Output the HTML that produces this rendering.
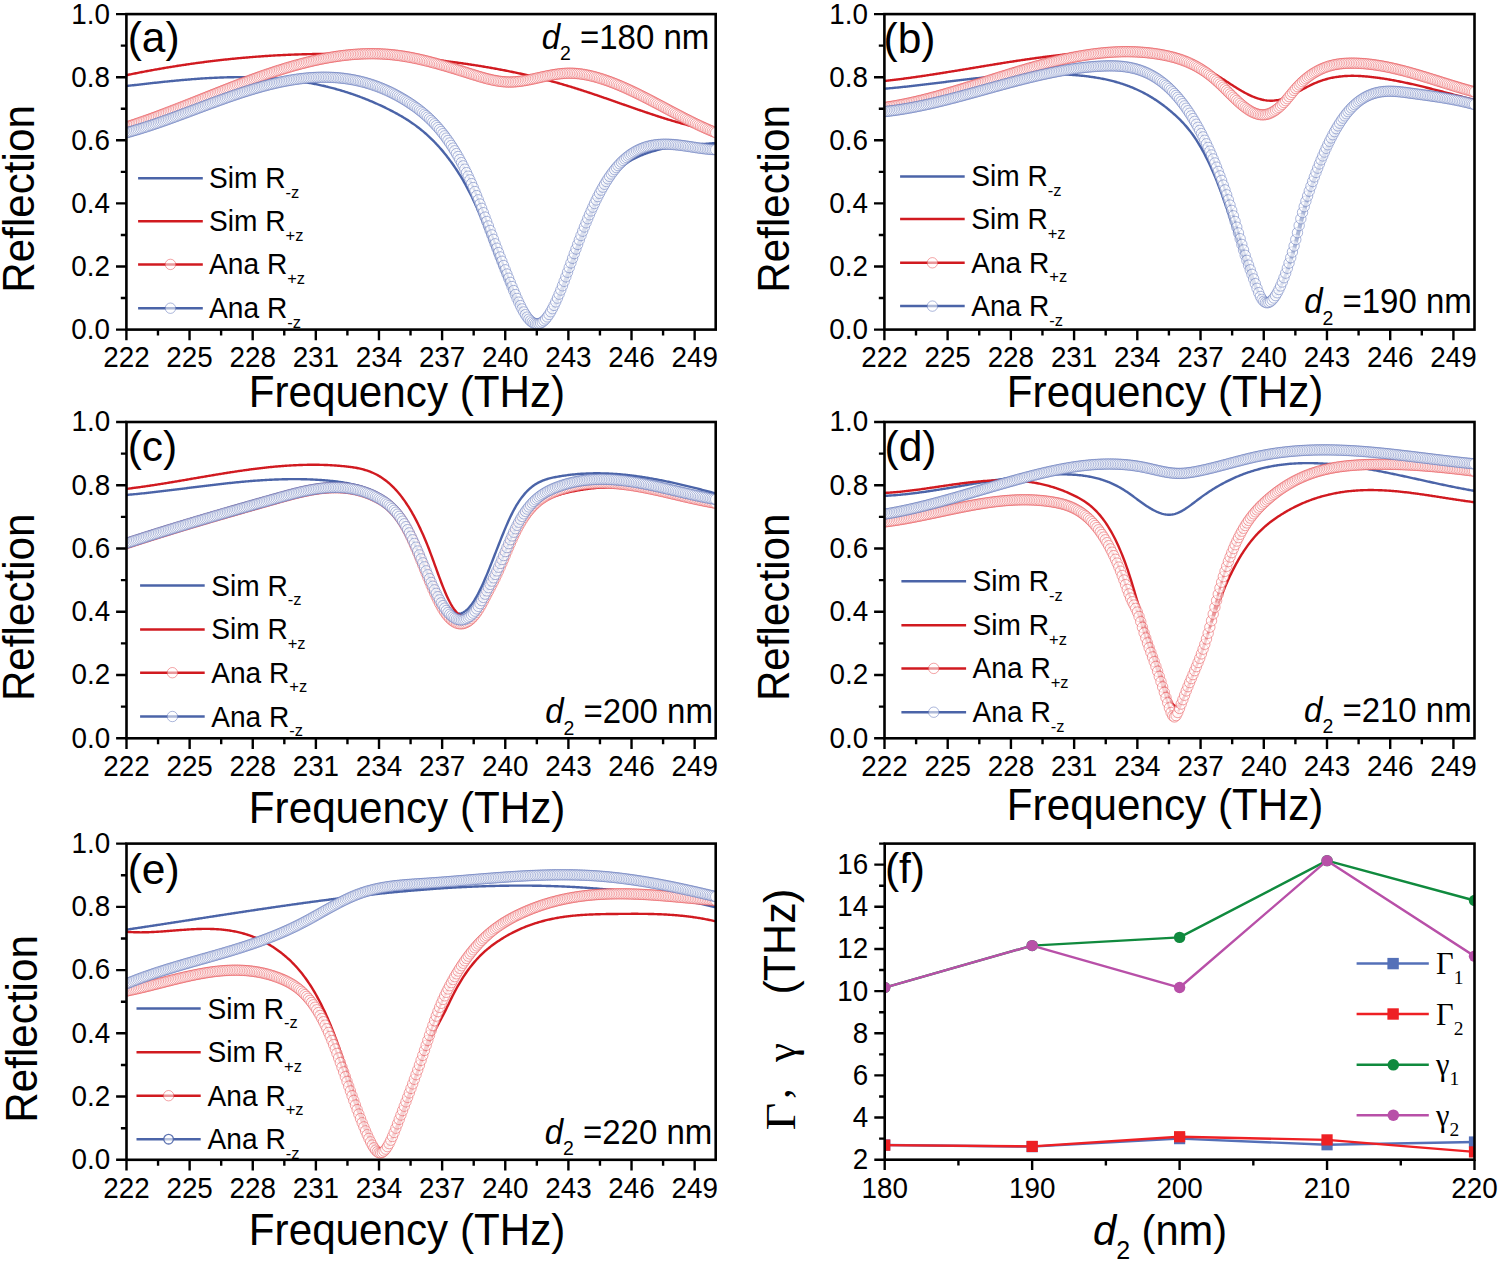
<!DOCTYPE html>
<html><head><meta charset="utf-8"><title>Reflection spectra</title><style>
html,body{margin:0;padding:0;background:#fff;}
body{width:1500px;height:1262px;overflow:hidden;}
svg{display:block;}
text{font-family:"Liberation Sans", sans-serif;fill:#000;}
.t{font-size:27.8px;}
.lg{font-size:28.1px;}
.sub{font-size:16.5px;}
.ax{font-size:42.2px;}
.ax2{font-size:41.6px;}
.ax3{font-size:43px;}
.axsub{font-size:25px;}
.pl{font-size:42.5px;}
.dl{font-size:33px;}
.dsub{font-size:19.5px;}
.gl{font-family:"Liberation Serif", serif;font-size:30.5px;}
.gsub{font-size:19.5px;}
.gax{font-family:"Liberation Serif", serif;font-size:43px;}
</style></head>
<body>
<svg xmlns="http://www.w3.org/2000/svg" width="1500" height="1262" viewBox="0 0 1500 1262">
<defs>
<clipPath id="clipa"><rect x="126.4" y="14.1" width="589.3" height="315.5"/></clipPath>
<clipPath id="clipb"><rect x="884.4" y="14.1" width="590.1" height="315.5"/></clipPath>
<clipPath id="clipc"><rect x="126.5" y="422" width="589.2" height="316.3"/></clipPath>
<clipPath id="clipd"><rect x="884.5" y="422" width="590" height="316.3"/></clipPath>
<clipPath id="clipe"><rect x="126.5" y="843.6" width="589.2" height="316.2"/></clipPath>
<clipPath id="clipf"><rect x="884.7" y="843.6" width="589.8" height="316.1"/></clipPath>
<g id="mp"><circle r="5.2" fill="#fff" fill-opacity="0.55" stroke="#E8474C" stroke-opacity="0.5" stroke-width="1"/></g>
<g id="mb"><circle r="5.2" fill="#fff" fill-opacity="0.55" stroke="#5A6FB8" stroke-opacity="0.5" stroke-width="1"/></g>
<g id="mb2"><circle r="4.8" fill="#fff" fill-opacity="0.6" stroke="#4B64A8" stroke-opacity="0.9" stroke-width="1.3"/></g>
</defs>
<rect width="1500" height="1262" fill="#fff"/>
<g clip-path="url(#clipa)">
<polyline points="126.4,86.04 127.45,85.92 128.5,85.8 129.56,85.67 130.61,85.55 131.66,85.43 132.71,85.31 133.77,85.19 134.82,85.06 135.87,84.94 136.92,84.82 137.98,84.7 139.03,84.58 140.08,84.46 141.13,84.34 142.18,84.22 143.24,84.1 144.29,83.98 145.34,83.86 146.39,83.74 147.45,83.62 148.5,83.5 149.55,83.38 150.6,83.27 151.66,83.15 152.71,83.03 153.76,82.92 154.81,82.8 155.87,82.69 156.92,82.57 157.97,82.46 159.02,82.35 160.07,82.23 161.13,82.12 162.18,82.01 163.23,81.9 164.28,81.79 165.34,81.68 166.39,81.57 167.44,81.47 168.49,81.36 169.55,81.25 170.6,81.15 171.65,81.04 172.7,80.94 173.75,80.84 174.81,80.74 175.86,80.64 176.91,80.54 177.96,80.44 179.02,80.34 180.07,80.24 181.12,80.15 182.17,80.05 183.23,79.96 184.28,79.87 185.33,79.78 186.38,79.69 187.43,79.6 188.49,79.51 189.54,79.43 190.59,79.34 191.64,79.26 192.7,79.17 193.75,79.09 194.8,79.01 195.85,78.93 196.91,78.86 197.96,78.78 199.01,78.71 200.06,78.63 201.11,78.56 202.17,78.49 203.22,78.42 204.27,78.36 205.32,78.29 206.38,78.23 207.43,78.17 208.48,78.1 209.53,78.05 210.59,77.99 211.64,77.93 212.69,77.88 213.74,77.83 214.8,77.77 215.85,77.73 216.9,77.68 217.95,77.63 219,77.59 220.06,77.55 221.11,77.51 222.16,77.47 223.21,77.43 224.27,77.4 225.32,77.37 226.37,77.34 227.42,77.31 228.48,77.28 229.53,77.26 230.58,77.24 231.63,77.22 232.68,77.2 233.74,77.18 234.79,77.17 235.84,77.16 236.89,77.15 237.95,77.14 239,77.13 240.05,77.13 241.1,77.13 242.16,77.13 243.21,77.14 244.26,77.14 245.31,77.15 246.36,77.16 247.42,77.18 248.47,77.19 249.52,77.21 250.57,77.23 251.63,77.25 252.68,77.28 253.73,77.31 254.78,77.34 255.84,77.37 256.89,77.41 257.94,77.45 258.99,77.49 260.04,77.53 261.1,77.58 262.15,77.63 263.2,77.68 264.25,77.73 265.31,77.79 266.36,77.85 267.41,77.91 268.46,77.98 269.52,78.05 270.57,78.12 271.62,78.19 272.67,78.27 273.73,78.35 274.78,78.43 275.83,78.52 276.88,78.61 277.93,78.7 278.99,78.79 280.04,78.89 281.09,78.99 282.14,79.1 283.2,79.2 284.25,79.31 285.3,79.43 286.35,79.55 287.41,79.66 288.46,79.79 289.51,79.91 290.56,80.04 291.61,80.18 292.67,80.31 293.72,80.45 294.77,80.59 295.82,80.74 296.88,80.89 297.93,81.04 298.98,81.2 300.03,81.36 301.09,81.52 302.14,81.69 303.19,81.86 304.24,82.03 305.29,82.21 306.35,82.39 307.4,82.58 308.45,82.76 309.5,82.96 310.56,83.15 311.61,83.35 312.66,83.55 313.71,83.76 314.77,83.97 315.82,84.18 316.87,84.4 317.92,84.62 318.97,84.85 320.03,85.08 321.08,85.31 322.13,85.55 323.18,85.79 324.24,86.03 325.29,86.28 326.34,86.54 327.39,86.79 328.45,87.05 329.5,87.32 330.55,87.59 331.6,87.86 332.66,88.14 333.71,88.42 334.76,88.7 335.81,88.99 336.86,89.29 337.92,89.59 338.97,89.89 340.02,90.19 341.07,90.51 342.13,90.82 343.18,91.14 344.23,91.46 345.28,91.79 346.34,92.12 347.39,92.46 348.44,92.8 349.49,93.15 350.54,93.5 351.6,93.85 352.65,94.21 353.7,94.57 354.75,94.94 355.81,95.32 356.86,95.69 357.91,96.08 358.96,96.46 360.02,96.85 361.07,97.25 362.12,97.65 363.17,98.06 364.22,98.47 365.28,98.88 366.33,99.3 367.38,99.72 368.43,100.15 369.49,100.59 370.54,101.03 371.59,101.47 372.64,101.92 373.7,102.37 374.75,102.83 375.8,103.3 376.85,103.76 377.9,104.24 378.96,104.72 380.01,105.2 381.06,105.69 382.11,106.18 383.17,106.68 384.22,107.19 385.27,107.7 386.32,108.21 387.38,108.73 388.43,109.25 389.48,109.79 390.53,110.32 391.59,110.86 392.64,111.41 393.69,111.96 394.74,112.52 395.79,113.09 396.85,113.66 397.9,114.24 398.95,114.83 400,115.43 401.06,116.04 402.11,116.65 403.16,117.28 404.21,117.91 405.27,118.56 406.32,119.22 407.37,119.88 408.42,120.56 409.47,121.25 410.53,121.95 411.58,122.67 412.63,123.39 413.68,124.13 414.74,124.89 415.79,125.65 416.84,126.43 417.89,127.23 418.95,128.04 420,128.87 421.05,129.71 422.1,130.57 423.15,131.44 424.21,132.33 425.26,133.24 426.31,134.17 427.36,135.11 428.42,136.07 429.47,137.05 430.52,138.05 431.57,139.07 432.63,140.1 433.68,141.16 434.73,142.24 435.78,143.34 436.83,144.46 437.89,145.6 438.94,146.76 439.99,147.95 441.04,149.15 442.1,150.38 443.15,151.64 444.2,152.91 445.25,154.21 446.31,155.54 447.36,156.89 448.41,158.26 449.46,159.66 450.52,161.09 451.57,162.54 452.62,164.02 453.67,165.53 454.72,167.07 455.78,168.63 456.83,170.23 457.88,171.86 458.93,173.52 459.99,175.22 461.04,176.94 462.09,178.71 463.14,180.51 464.2,182.34 465.25,184.22 466.3,186.13 467.35,188.08 468.4,190.07 469.46,192.1 470.51,194.17 471.56,196.29 472.61,198.45 473.67,200.65 474.72,202.9 475.77,205.2 476.82,207.54 477.88,209.93 478.93,212.37 479.98,214.85 481.03,217.39 482.08,219.98 483.14,222.62 484.19,225.3 485.24,228.02 486.29,230.78 487.35,233.55 488.4,236.35 489.45,239.15 490.5,241.95 491.56,244.75 492.61,247.54 493.66,250.32 494.71,253.07 495.76,255.79 496.82,258.5 497.87,261.17 498.92,263.83 499.97,266.45 501.03,269.04 502.08,271.61 503.13,274.14 504.18,276.63 505.24,279.09 506.29,281.52 507.34,283.9 508.39,286.25 509.45,288.56 510.5,290.82 511.55,293.04 512.6,295.21 513.65,297.34 514.71,299.42 515.76,301.45 516.81,303.43 517.86,305.35 518.92,307.23 519.97,309.05 521.02,310.81 522.07,312.51 523.13,314.15 524.18,315.71 525.23,317.2 526.28,318.6 527.33,319.91 528.39,321.11 529.44,322.21 530.49,323.2 531.54,324.06 532.6,324.8 533.65,325.4 534.7,325.85 535.75,326.16 536.81,326.31 537.86,326.3 538.91,326.14 539.96,325.81 541.01,325.34 542.07,324.72 543.12,323.96 544.17,323.07 545.22,322.04 546.28,320.88 547.33,319.61 548.38,318.21 549.43,316.7 550.49,315.08 551.54,313.36 552.59,311.54 553.64,309.62 554.69,307.61 555.75,305.51 556.8,303.33 557.85,301.08 558.9,298.75 559.96,296.35 561.01,293.89 562.06,291.38 563.11,288.8 564.17,286.18 565.22,283.51 566.27,280.8 567.32,278.05 568.38,275.27 569.43,272.46 570.48,269.63 571.53,266.79 572.58,263.92 573.64,261.05 574.69,258.18 575.74,255.3 576.79,252.43 577.85,249.56 578.9,246.71 579.95,243.88 581,241.06 582.06,238.27 583.11,235.5 584.16,232.75 585.21,230.04 586.26,227.35 587.32,224.7 588.37,222.08 589.42,219.5 590.47,216.95 591.53,214.46 592.58,212 593.63,209.6 594.68,207.24 595.74,204.93 596.79,202.68 597.84,200.49 598.89,198.35 599.94,196.28 601,194.27 602.05,192.33 603.1,190.45 604.15,188.65 605.21,186.9 606.26,185.22 607.31,183.61 608.36,182.05 609.42,180.56 610.47,179.12 611.52,177.74 612.57,176.41 613.62,175.14 614.68,173.91 615.73,172.74 616.78,171.62 617.83,170.54 618.89,169.51 619.94,168.52 620.99,167.57 622.04,166.66 623.1,165.8 624.15,164.97 625.2,164.17 626.25,163.41 627.31,162.69 628.36,161.99 629.41,161.33 630.46,160.69 631.51,160.08 632.57,159.49 633.62,158.93 634.67,158.39 635.72,157.86 636.78,157.36 637.83,156.88 638.88,156.41 639.93,155.95 640.99,155.51 642.04,155.08 643.09,154.66 644.14,154.25 645.19,153.85 646.25,153.47 647.3,153.1 648.35,152.73 649.4,152.38 650.46,152.04 651.51,151.71 652.56,151.39 653.61,151.08 654.67,150.78 655.72,150.49 656.77,150.21 657.82,149.94 658.87,149.67 659.93,149.42 660.98,149.17 662.03,148.93 663.08,148.7 664.14,148.48 665.19,148.27 666.24,148.06 667.29,147.86 668.35,147.67 669.4,147.48 670.45,147.3 671.5,147.13 672.55,146.97 673.61,146.81 674.66,146.65 675.71,146.5 676.76,146.36 677.82,146.22 678.87,146.09 679.92,145.96 680.97,145.84 682.03,145.72 683.08,145.61 684.13,145.5 685.18,145.39 686.24,145.29 687.29,145.19 688.34,145.09 689.39,145 690.44,144.91 691.5,144.82 692.55,144.74 693.6,144.66 694.65,144.57 695.71,144.5 696.76,144.42 697.81,144.34 698.86,144.27 699.92,144.19 700.97,144.12 702.02,144.05 703.07,143.97 704.12,143.9 705.18,143.83 706.23,143.76 707.28,143.69 708.33,143.61 709.39,143.54 710.44,143.46 711.49,143.39 712.54,143.31 713.6,143.23 714.65,143.15 715.7,143.06" fill="none" stroke="#4B64A8" stroke-width="2.4" stroke-linejoin="round" />
<polyline points="126.4,75.19 127.45,74.97 128.5,74.75 129.56,74.54 130.61,74.32 131.66,74.11 132.71,73.9 133.77,73.68 134.82,73.47 135.87,73.27 136.92,73.06 137.98,72.85 139.03,72.64 140.08,72.44 141.13,72.24 142.18,72.03 143.24,71.83 144.29,71.63 145.34,71.43 146.39,71.24 147.45,71.04 148.5,70.84 149.55,70.65 150.6,70.45 151.66,70.26 152.71,70.07 153.76,69.88 154.81,69.69 155.87,69.5 156.92,69.32 157.97,69.13 159.02,68.95 160.07,68.76 161.13,68.58 162.18,68.4 163.23,68.22 164.28,68.04 165.34,67.86 166.39,67.68 167.44,67.51 168.49,67.33 169.55,67.16 170.6,66.99 171.65,66.81 172.7,66.64 173.75,66.48 174.81,66.31 175.86,66.14 176.91,65.97 177.96,65.81 179.02,65.65 180.07,65.48 181.12,65.32 182.17,65.16 183.23,65 184.28,64.85 185.33,64.69 186.38,64.53 187.43,64.38 188.49,64.22 189.54,64.07 190.59,63.92 191.64,63.77 192.7,63.62 193.75,63.47 194.8,63.33 195.85,63.18 196.91,63.04 197.96,62.89 199.01,62.75 200.06,62.61 201.11,62.47 202.17,62.33 203.22,62.19 204.27,62.06 205.32,61.92 206.38,61.79 207.43,61.65 208.48,61.52 209.53,61.39 210.59,61.26 211.64,61.13 212.69,61 213.74,60.88 214.8,60.75 215.85,60.63 216.9,60.5 217.95,60.38 219,60.26 220.06,60.14 221.11,60.02 222.16,59.91 223.21,59.79 224.27,59.67 225.32,59.56 226.37,59.45 227.42,59.33 228.48,59.22 229.53,59.11 230.58,59.01 231.63,58.9 232.68,58.79 233.74,58.69 234.79,58.58 235.84,58.48 236.89,58.38 237.95,58.28 239,58.18 240.05,58.08 241.1,57.98 242.16,57.89 243.21,57.79 244.26,57.7 245.31,57.61 246.36,57.52 247.42,57.43 248.47,57.34 249.52,57.25 250.57,57.16 251.63,57.08 252.68,56.99 253.73,56.91 254.78,56.83 255.84,56.74 256.89,56.66 257.94,56.59 258.99,56.51 260.04,56.43 261.1,56.36 262.15,56.28 263.2,56.21 264.25,56.14 265.31,56.07 266.36,56 267.41,55.93 268.46,55.86 269.52,55.79 270.57,55.73 271.62,55.66 272.67,55.6 273.73,55.54 274.78,55.48 275.83,55.42 276.88,55.36 277.93,55.31 278.99,55.25 280.04,55.19 281.09,55.14 282.14,55.09 283.2,55.04 284.25,54.99 285.3,54.94 286.35,54.89 287.41,54.84 288.46,54.8 289.51,54.75 290.56,54.71 291.61,54.67 292.67,54.63 293.72,54.59 294.77,54.55 295.82,54.51 296.88,54.47 297.93,54.44 298.98,54.4 300.03,54.37 301.09,54.34 302.14,54.31 303.19,54.28 304.24,54.25 305.29,54.22 306.35,54.2 307.4,54.17 308.45,54.15 309.5,54.13 310.56,54.11 311.61,54.09 312.66,54.07 313.71,54.05 314.77,54.03 315.82,54.02 316.87,54 317.92,53.99 318.97,53.98 320.03,53.97 321.08,53.96 322.13,53.95 323.18,53.94 324.24,53.93 325.29,53.93 326.34,53.93 327.39,53.92 328.45,53.92 329.5,53.92 330.55,53.92 331.6,53.92 332.66,53.93 333.71,53.93 334.76,53.94 335.81,53.94 336.86,53.95 337.92,53.96 338.97,53.97 340.02,53.98 341.07,53.99 342.13,54.01 343.18,54.02 344.23,54.04 345.28,54.05 346.34,54.07 347.39,54.09 348.44,54.11 349.49,54.13 350.54,54.16 351.6,54.18 352.65,54.21 353.7,54.23 354.75,54.26 355.81,54.29 356.86,54.32 357.91,54.35 358.96,54.38 360.02,54.42 361.07,54.45 362.12,54.49 363.17,54.52 364.22,54.56 365.28,54.6 366.33,54.64 367.38,54.68 368.43,54.73 369.49,54.77 370.54,54.82 371.59,54.86 372.64,54.91 373.7,54.96 374.75,55.01 375.8,55.06 376.85,55.11 377.9,55.17 378.96,55.22 380.01,55.28 381.06,55.33 382.11,55.39 383.17,55.45 384.22,55.51 385.27,55.57 386.32,55.64 387.38,55.7 388.43,55.77 389.48,55.83 390.53,55.9 391.59,55.97 392.64,56.04 393.69,56.11 394.74,56.18 395.79,56.26 396.85,56.33 397.9,56.41 398.95,56.48 400,56.56 401.06,56.64 402.11,56.72 403.16,56.8 404.21,56.89 405.27,56.97 406.32,57.06 407.37,57.14 408.42,57.23 409.47,57.32 410.53,57.41 411.58,57.5 412.63,57.59 413.68,57.69 414.74,57.78 415.79,57.88 416.84,57.98 417.89,58.08 418.95,58.17 420,58.28 421.05,58.38 422.1,58.48 423.15,58.59 424.21,58.69 425.26,58.8 426.31,58.91 427.36,59.02 428.42,59.13 429.47,59.24 430.52,59.35 431.57,59.46 432.63,59.58 433.68,59.7 434.73,59.81 435.78,59.93 436.83,60.05 437.89,60.17 438.94,60.3 439.99,60.42 441.04,60.55 442.1,60.67 443.15,60.8 444.2,60.93 445.25,61.06 446.31,61.19 447.36,61.32 448.41,61.45 449.46,61.59 450.52,61.72 451.57,61.86 452.62,62 453.67,62.14 454.72,62.28 455.78,62.42 456.83,62.56 457.88,62.71 458.93,62.85 459.99,63 461.04,63.15 462.09,63.29 463.14,63.44 464.2,63.6 465.25,63.75 466.3,63.9 467.35,64.06 468.4,64.21 469.46,64.37 470.51,64.53 471.56,64.69 472.61,64.85 473.67,65.01 474.72,65.18 475.77,65.34 476.82,65.51 477.88,65.67 478.93,65.84 479.98,66.01 481.03,66.18 482.08,66.36 483.14,66.53 484.19,66.71 485.24,66.88 486.29,67.06 487.35,67.24 488.4,67.42 489.45,67.6 490.5,67.79 491.56,67.97 492.61,68.16 493.66,68.34 494.71,68.53 495.76,68.72 496.82,68.92 497.87,69.11 498.92,69.31 499.97,69.5 501.03,69.7 502.08,69.9 503.13,70.1 504.18,70.3 505.24,70.51 506.29,70.72 507.34,70.92 508.39,71.13 509.45,71.34 510.5,71.56 511.55,71.77 512.6,71.99 513.65,72.2 514.71,72.42 515.76,72.64 516.81,72.86 517.86,73.09 518.92,73.31 519.97,73.54 521.02,73.77 522.07,74 523.13,74.24 524.18,74.47 525.23,74.71 526.28,74.94 527.33,75.18 528.39,75.43 529.44,75.67 530.49,75.91 531.54,76.16 532.6,76.41 533.65,76.66 534.7,76.91 535.75,77.17 536.81,77.43 537.86,77.68 538.91,77.94 539.96,78.21 541.01,78.47 542.07,78.74 543.12,79.01 544.17,79.28 545.22,79.55 546.28,79.82 547.33,80.1 548.38,80.38 549.43,80.66 550.49,80.94 551.54,81.22 552.59,81.51 553.64,81.8 554.69,82.09 555.75,82.38 556.8,82.68 557.85,82.97 558.9,83.27 559.96,83.57 561.01,83.88 562.06,84.18 563.11,84.49 564.17,84.8 565.22,85.11 566.27,85.42 567.32,85.74 568.38,86.06 569.43,86.37 570.48,86.7 571.53,87.02 572.58,87.34 573.64,87.67 574.69,88 575.74,88.33 576.79,88.66 577.85,88.99 578.9,89.33 579.95,89.66 581,90 582.06,90.34 583.11,90.68 584.16,91.02 585.21,91.37 586.26,91.71 587.32,92.06 588.37,92.41 589.42,92.76 590.47,93.11 591.53,93.46 592.58,93.81 593.63,94.16 594.68,94.52 595.74,94.87 596.79,95.23 597.84,95.59 598.89,95.95 599.94,96.31 601,96.67 602.05,97.03 603.1,97.39 604.15,97.76 605.21,98.12 606.26,98.49 607.31,98.85 608.36,99.22 609.42,99.58 610.47,99.95 611.52,100.32 612.57,100.69 613.62,101.05 614.68,101.42 615.73,101.79 616.78,102.16 617.83,102.53 618.89,102.9 619.94,103.27 620.99,103.64 622.04,104.01 623.1,104.38 624.15,104.75 625.2,105.12 626.25,105.49 627.31,105.85 628.36,106.22 629.41,106.59 630.46,106.96 631.51,107.33 632.57,107.69 633.62,108.06 634.67,108.43 635.72,108.79 636.78,109.16 637.83,109.52 638.88,109.88 639.93,110.24 640.99,110.61 642.04,110.97 643.09,111.33 644.14,111.69 645.19,112.04 646.25,112.4 647.3,112.75 648.35,113.11 649.4,113.46 650.46,113.81 651.51,114.16 652.56,114.51 653.61,114.86 654.67,115.21 655.72,115.55 656.77,115.9 657.82,116.24 658.87,116.58 659.93,116.92 660.98,117.25 662.03,117.59 663.08,117.92 664.14,118.25 665.19,118.58 666.24,118.91 667.29,119.24 668.35,119.56 669.4,119.88 670.45,120.2 671.5,120.52 672.55,120.83 673.61,121.14 674.66,121.45 675.71,121.76 676.76,122.07 677.82,122.37 678.87,122.67 679.92,122.97 680.97,123.26 682.03,123.56 683.08,123.85 684.13,124.13 685.18,124.42 686.24,124.7 687.29,124.98 688.34,125.25 689.39,125.53 690.44,125.8 691.5,126.06 692.55,126.33 693.6,126.59 694.65,126.84 695.71,127.1 696.76,127.35 697.81,127.6 698.86,127.84 699.92,128.08 700.97,128.32 702.02,128.55 703.07,128.78 704.12,129.01 705.18,129.23 706.23,129.45 707.28,129.66 708.33,129.88 709.39,130.08 710.44,130.29 711.49,130.49 712.54,130.68 713.6,130.87 714.65,131.06 715.7,131.25" fill="none" stroke="#D11A20" stroke-width="2.4" stroke-linejoin="round" />
<polyline points="126.4,127 127.45,126.66 128.5,126.32 129.56,125.98 130.61,125.64 131.66,125.29 132.71,124.94 133.77,124.59 134.82,124.24 135.87,123.89 136.92,123.53 137.98,123.17 139.03,122.81 140.08,122.45 141.13,122.08 142.18,121.72 143.24,121.35 144.29,120.98 145.34,120.61 146.39,120.24 147.45,119.86 148.5,119.48 149.55,119.11 150.6,118.73 151.66,118.34 152.71,117.96 153.76,117.58 154.81,117.19 155.87,116.8 156.92,116.41 157.97,116.02 159.02,115.63 160.07,115.24 161.13,114.84 162.18,114.45 163.23,114.05 164.28,113.65 165.34,113.25 166.39,112.85 167.44,112.45 168.49,112.05 169.55,111.65 170.6,111.24 171.65,110.84 172.7,110.43 173.75,110.02 174.81,109.61 175.86,109.21 176.91,108.8 177.96,108.38 179.02,107.97 180.07,107.56 181.12,107.15 182.17,106.74 183.23,106.32 184.28,105.91 185.33,105.49 186.38,105.08 187.43,104.66 188.49,104.24 189.54,103.83 190.59,103.41 191.64,102.99 192.7,102.57 193.75,102.15 194.8,101.73 195.85,101.32 196.91,100.9 197.96,100.48 199.01,100.06 200.06,99.64 201.11,99.22 202.17,98.8 203.22,98.38 204.27,97.96 205.32,97.54 206.38,97.12 207.43,96.7 208.48,96.28 209.53,95.86 210.59,95.44 211.64,95.03 212.69,94.61 213.74,94.19 214.8,93.77 215.85,93.36 216.9,92.94 217.95,92.52 219,92.11 220.06,91.69 221.11,91.28 222.16,90.86 223.21,90.45 224.27,90.04 225.32,89.62 226.37,89.21 227.42,88.8 228.48,88.39 229.53,87.98 230.58,87.57 231.63,87.17 232.68,86.76 233.74,86.35 234.79,85.95 235.84,85.55 236.89,85.14 237.95,84.74 239,84.34 240.05,83.94 241.1,83.54 242.16,83.15 243.21,82.75 244.26,82.36 245.31,81.96 246.36,81.57 247.42,81.18 248.47,80.79 249.52,80.4 250.57,80.02 251.63,79.63 252.68,79.25 253.73,78.87 254.78,78.49 255.84,78.11 256.89,77.73 257.94,77.36 258.99,76.98 260.04,76.61 261.1,76.24 262.15,75.87 263.2,75.51 264.25,75.14 265.31,74.78 266.36,74.42 267.41,74.06 268.46,73.71 269.52,73.35 270.57,73 271.62,72.65 272.67,72.3 273.73,71.95 274.78,71.61 275.83,71.27 276.88,70.93 277.93,70.59 278.99,70.26 280.04,69.93 281.09,69.6 282.14,69.27 283.2,68.94 284.25,68.62 285.3,68.3 286.35,67.98 287.41,67.67 288.46,67.35 289.51,67.05 290.56,66.74 291.61,66.43 292.67,66.13 293.72,65.83 294.77,65.54 295.82,65.24 296.88,64.95 297.93,64.67 298.98,64.38 300.03,64.1 301.09,63.82 302.14,63.55 303.19,63.27 304.24,63.01 305.29,62.74 306.35,62.48 307.4,62.22 308.45,61.96 309.5,61.71 310.56,61.46 311.61,61.21 312.66,60.97 313.71,60.73 314.77,60.49 315.82,60.26 316.87,60.03 317.92,59.8 318.97,59.58 320.03,59.36 321.08,59.15 322.13,58.94 323.18,58.73 324.24,58.52 325.29,58.32 326.34,58.13 327.39,57.93 328.45,57.74 329.5,57.56 330.55,57.38 331.6,57.2 332.66,57.03 333.71,56.86 334.76,56.69 335.81,56.53 336.86,56.38 337.92,56.22 338.97,56.07 340.02,55.93 341.07,55.79 342.13,55.65 343.18,55.52 344.23,55.39 345.28,55.27 346.34,55.15 347.39,55.04 348.44,54.93 349.49,54.82 350.54,54.72 351.6,54.63 352.65,54.54 353.7,54.45 354.75,54.37 355.81,54.29 356.86,54.22 357.91,54.15 358.96,54.09 360.02,54.03 361.07,53.97 362.12,53.92 363.17,53.88 364.22,53.84 365.28,53.81 366.33,53.78 367.38,53.76 368.43,53.74 369.49,53.72 370.54,53.71 371.59,53.71 372.64,53.71 373.7,53.72 374.75,53.73 375.8,53.75 376.85,53.77 377.9,53.8 378.96,53.84 380.01,53.87 381.06,53.92 382.11,53.97 383.17,54.02 384.22,54.09 385.27,54.15 386.32,54.23 387.38,54.3 388.43,54.39 389.48,54.48 390.53,54.57 391.59,54.67 392.64,54.78 393.69,54.89 394.74,55.01 395.79,55.14 396.85,55.27 397.9,55.4 398.95,55.54 400,55.69 401.06,55.84 402.11,56 403.16,56.16 404.21,56.33 405.27,56.5 406.32,56.68 407.37,56.86 408.42,57.05 409.47,57.25 410.53,57.44 411.58,57.64 412.63,57.85 413.68,58.06 414.74,58.28 415.79,58.5 416.84,58.72 417.89,58.95 418.95,59.18 420,59.42 421.05,59.65 422.1,59.9 423.15,60.15 424.21,60.4 425.26,60.65 426.31,60.91 427.36,61.17 428.42,61.43 429.47,61.7 430.52,61.97 431.57,62.25 432.63,62.52 433.68,62.8 434.73,63.09 435.78,63.37 436.83,63.66 437.89,63.95 438.94,64.24 439.99,64.54 441.04,64.84 442.1,65.14 443.15,65.44 444.2,65.75 445.25,66.05 446.31,66.36 447.36,66.67 448.41,66.98 449.46,67.3 450.52,67.61 451.57,67.93 452.62,68.25 453.67,68.57 454.72,68.89 455.78,69.21 456.83,69.54 457.88,69.86 458.93,70.19 459.99,70.52 461.04,70.84 462.09,71.17 463.14,71.5 464.2,71.83 465.25,72.16 466.3,72.49 467.35,72.82 468.4,73.15 469.46,73.48 470.51,73.82 471.56,74.15 472.61,74.48 473.67,74.81 474.72,75.13 475.77,75.46 476.82,75.78 477.88,76.1 478.93,76.42 479.98,76.73 481.03,77.04 482.08,77.35 483.14,77.64 484.19,77.94 485.24,78.22 486.29,78.5 487.35,78.77 488.4,79.04 489.45,79.3 490.5,79.54 491.56,79.78 492.61,80.01 493.66,80.23 494.71,80.44 495.76,80.64 496.82,80.83 497.87,81 498.92,81.17 499.97,81.32 501.03,81.45 502.08,81.58 503.13,81.69 504.18,81.78 505.24,81.86 506.29,81.93 507.34,81.97 508.39,82.01 509.45,82.02 510.5,82.02 511.55,82 512.6,81.97 513.65,81.91 514.71,81.85 515.76,81.77 516.81,81.68 517.86,81.57 518.92,81.45 519.97,81.32 521.02,81.18 522.07,81.03 523.13,80.87 524.18,80.69 525.23,80.51 526.28,80.33 527.33,80.13 528.39,79.93 529.44,79.72 530.49,79.51 531.54,79.29 532.6,79.07 533.65,78.84 534.7,78.61 535.75,78.38 536.81,78.15 537.86,77.91 538.91,77.68 539.96,77.44 541.01,77.21 542.07,76.98 543.12,76.75 544.17,76.52 545.22,76.29 546.28,76.07 547.33,75.86 548.38,75.65 549.43,75.44 550.49,75.24 551.54,75.05 552.59,74.86 553.64,74.68 554.69,74.51 555.75,74.35 556.8,74.2 557.85,74.05 558.9,73.92 559.96,73.79 561.01,73.68 562.06,73.58 563.11,73.48 564.17,73.41 565.22,73.34 566.27,73.28 567.32,73.24 568.38,73.22 569.43,73.2 570.48,73.2 571.53,73.22 572.58,73.25 573.64,73.3 574.69,73.36 575.74,73.43 576.79,73.52 577.85,73.62 578.9,73.73 579.95,73.86 581,73.99 582.06,74.14 583.11,74.31 584.16,74.48 585.21,74.67 586.26,74.86 587.32,75.07 588.37,75.29 589.42,75.52 590.47,75.76 591.53,76.01 592.58,76.27 593.63,76.53 594.68,76.81 595.74,77.1 596.79,77.39 597.84,77.69 598.89,78.01 599.94,78.32 601,78.65 602.05,78.98 603.1,79.33 604.15,79.67 605.21,80.03 606.26,80.39 607.31,80.76 608.36,81.14 609.42,81.52 610.47,81.91 611.52,82.3 612.57,82.71 613.62,83.11 614.68,83.53 615.73,83.95 616.78,84.37 617.83,84.8 618.89,85.24 619.94,85.68 620.99,86.13 622.04,86.58 623.1,87.04 624.15,87.5 625.2,87.97 626.25,88.44 627.31,88.92 628.36,89.4 629.41,89.88 630.46,90.37 631.51,90.86 632.57,91.36 633.62,91.86 634.67,92.37 635.72,92.87 636.78,93.39 637.83,93.9 638.88,94.42 639.93,94.94 640.99,95.46 642.04,95.99 643.09,96.52 644.14,97.05 645.19,97.59 646.25,98.12 647.3,98.66 648.35,99.2 649.4,99.75 650.46,100.29 651.51,100.84 652.56,101.39 653.61,101.94 654.67,102.49 655.72,103.04 656.77,103.59 657.82,104.15 658.87,104.7 659.93,105.26 660.98,105.82 662.03,106.37 663.08,106.93 664.14,107.49 665.19,108.05 666.24,108.61 667.29,109.17 668.35,109.72 669.4,110.28 670.45,110.84 671.5,111.39 672.55,111.95 673.61,112.51 674.66,113.06 675.71,113.61 676.76,114.16 677.82,114.72 678.87,115.26 679.92,115.81 680.97,116.36 682.03,116.9 683.08,117.44 684.13,117.98 685.18,118.52 686.24,119.06 687.29,119.59 688.34,120.12 689.39,120.65 690.44,121.18 691.5,121.7 692.55,122.22 693.6,122.73 694.65,123.25 695.71,123.76 696.76,124.26 697.81,124.77 698.86,125.27 699.92,125.76 700.97,126.25 702.02,126.74 703.07,127.22 704.12,127.7 705.18,128.17 706.23,128.64 707.28,129.11 708.33,129.57 709.39,130.02 710.44,130.47 711.49,130.92 712.54,131.35 713.6,131.79 714.65,132.22 715.7,132.64" fill="none" stroke="#D11A20" stroke-width="2.4" stroke-linejoin="round" />
<use href="#mp" x="126.4" y="127"/><use href="#mp" x="128.08" y="126.46"/><use href="#mp" x="129.77" y="125.91"/><use href="#mp" x="131.45" y="125.36"/><use href="#mp" x="133.13" y="124.8"/><use href="#mp" x="134.82" y="124.24"/><use href="#mp" x="136.5" y="123.67"/><use href="#mp" x="138.19" y="123.1"/><use href="#mp" x="139.87" y="122.52"/><use href="#mp" x="141.55" y="121.94"/><use href="#mp" x="143.24" y="121.35"/><use href="#mp" x="144.92" y="120.76"/><use href="#mp" x="146.6" y="120.16"/><use href="#mp" x="148.29" y="119.56"/><use href="#mp" x="149.97" y="118.95"/><use href="#mp" x="151.66" y="118.34"/><use href="#mp" x="153.34" y="117.73"/><use href="#mp" x="155.02" y="117.11"/><use href="#mp" x="156.71" y="116.49"/><use href="#mp" x="158.39" y="115.87"/><use href="#mp" x="160.07" y="115.24"/><use href="#mp" x="161.76" y="114.61"/><use href="#mp" x="163.44" y="113.97"/><use href="#mp" x="165.13" y="113.33"/><use href="#mp" x="166.81" y="112.69"/><use href="#mp" x="168.49" y="112.05"/><use href="#mp" x="170.18" y="111.4"/><use href="#mp" x="171.86" y="110.76"/><use href="#mp" x="173.54" y="110.1"/><use href="#mp" x="175.23" y="109.45"/><use href="#mp" x="176.91" y="108.8"/><use href="#mp" x="178.6" y="108.14"/><use href="#mp" x="180.28" y="107.48"/><use href="#mp" x="181.96" y="106.82"/><use href="#mp" x="183.65" y="106.16"/><use href="#mp" x="185.33" y="105.49"/><use href="#mp" x="187.01" y="104.83"/><use href="#mp" x="188.7" y="104.16"/><use href="#mp" x="190.38" y="103.49"/><use href="#mp" x="192.06" y="102.82"/><use href="#mp" x="193.75" y="102.15"/><use href="#mp" x="195.43" y="101.48"/><use href="#mp" x="197.12" y="100.81"/><use href="#mp" x="198.8" y="100.14"/><use href="#mp" x="200.48" y="99.47"/><use href="#mp" x="202.17" y="98.8"/><use href="#mp" x="203.85" y="98.13"/><use href="#mp" x="205.53" y="97.46"/><use href="#mp" x="207.22" y="96.79"/><use href="#mp" x="208.9" y="96.11"/><use href="#mp" x="210.59" y="95.44"/><use href="#mp" x="212.27" y="94.77"/><use href="#mp" x="213.95" y="94.11"/><use href="#mp" x="215.64" y="93.44"/><use href="#mp" x="217.32" y="92.77"/><use href="#mp" x="219" y="92.11"/><use href="#mp" x="220.69" y="91.44"/><use href="#mp" x="222.37" y="90.78"/><use href="#mp" x="224.06" y="90.12"/><use href="#mp" x="225.74" y="89.46"/><use href="#mp" x="227.42" y="88.8"/><use href="#mp" x="229.11" y="88.15"/><use href="#mp" x="230.79" y="87.49"/><use href="#mp" x="232.47" y="86.84"/><use href="#mp" x="234.16" y="86.19"/><use href="#mp" x="235.84" y="85.55"/><use href="#mp" x="237.53" y="84.9"/><use href="#mp" x="239.21" y="84.26"/><use href="#mp" x="240.89" y="83.62"/><use href="#mp" x="242.58" y="82.99"/><use href="#mp" x="244.26" y="82.36"/><use href="#mp" x="245.94" y="81.73"/><use href="#mp" x="247.63" y="81.1"/><use href="#mp" x="249.31" y="80.48"/><use href="#mp" x="250.99" y="79.86"/><use href="#mp" x="252.68" y="79.25"/><use href="#mp" x="254.36" y="78.64"/><use href="#mp" x="256.05" y="78.03"/><use href="#mp" x="257.73" y="77.43"/><use href="#mp" x="259.41" y="76.84"/><use href="#mp" x="261.1" y="76.24"/><use href="#mp" x="262.78" y="75.65"/><use href="#mp" x="264.46" y="75.07"/><use href="#mp" x="266.15" y="74.49"/><use href="#mp" x="267.83" y="73.92"/><use href="#mp" x="269.52" y="73.35"/><use href="#mp" x="271.2" y="72.79"/><use href="#mp" x="272.88" y="72.23"/><use href="#mp" x="274.57" y="71.68"/><use href="#mp" x="276.25" y="71.13"/><use href="#mp" x="277.93" y="70.59"/><use href="#mp" x="279.62" y="70.06"/><use href="#mp" x="281.3" y="69.53"/><use href="#mp" x="282.99" y="69.01"/><use href="#mp" x="284.67" y="68.49"/><use href="#mp" x="286.35" y="67.98"/><use href="#mp" x="288.04" y="67.48"/><use href="#mp" x="289.72" y="66.98"/><use href="#mp" x="291.4" y="66.49"/><use href="#mp" x="293.09" y="66.01"/><use href="#mp" x="294.77" y="65.54"/><use href="#mp" x="296.46" y="65.07"/><use href="#mp" x="298.14" y="64.61"/><use href="#mp" x="299.82" y="64.16"/><use href="#mp" x="301.51" y="63.71"/><use href="#mp" x="303.19" y="63.27"/><use href="#mp" x="304.87" y="62.85"/><use href="#mp" x="306.56" y="62.42"/><use href="#mp" x="308.24" y="62.01"/><use href="#mp" x="309.92" y="61.61"/><use href="#mp" x="311.61" y="61.21"/><use href="#mp" x="313.29" y="60.82"/><use href="#mp" x="314.98" y="60.44"/><use href="#mp" x="316.66" y="60.07"/><use href="#mp" x="318.34" y="59.71"/><use href="#mp" x="320.03" y="59.36"/><use href="#mp" x="321.71" y="59.02"/><use href="#mp" x="323.39" y="58.69"/><use href="#mp" x="325.08" y="58.36"/><use href="#mp" x="326.76" y="58.05"/><use href="#mp" x="328.45" y="57.74"/><use href="#mp" x="330.13" y="57.45"/><use href="#mp" x="331.81" y="57.17"/><use href="#mp" x="333.5" y="56.89"/><use href="#mp" x="335.18" y="56.63"/><use href="#mp" x="336.86" y="56.38"/><use href="#mp" x="338.55" y="56.13"/><use href="#mp" x="340.23" y="55.9"/><use href="#mp" x="341.92" y="55.68"/><use href="#mp" x="343.6" y="55.47"/><use href="#mp" x="345.28" y="55.27"/><use href="#mp" x="346.97" y="55.08"/><use href="#mp" x="348.65" y="54.91"/><use href="#mp" x="350.33" y="54.74"/><use href="#mp" x="352.02" y="54.59"/><use href="#mp" x="353.7" y="54.45"/><use href="#mp" x="355.39" y="54.32"/><use href="#mp" x="357.07" y="54.2"/><use href="#mp" x="358.75" y="54.1"/><use href="#mp" x="360.44" y="54"/><use href="#mp" x="362.12" y="53.92"/><use href="#mp" x="363.8" y="53.86"/><use href="#mp" x="365.49" y="53.8"/><use href="#mp" x="367.17" y="53.76"/><use href="#mp" x="368.85" y="53.73"/><use href="#mp" x="370.54" y="53.71"/><use href="#mp" x="372.22" y="53.71"/><use href="#mp" x="373.91" y="53.72"/><use href="#mp" x="375.59" y="53.75"/><use href="#mp" x="377.27" y="53.78"/><use href="#mp" x="378.96" y="53.84"/><use href="#mp" x="380.64" y="53.9"/><use href="#mp" x="382.32" y="53.98"/><use href="#mp" x="384.01" y="54.07"/><use href="#mp" x="385.69" y="54.18"/><use href="#mp" x="387.38" y="54.3"/><use href="#mp" x="389.06" y="54.44"/><use href="#mp" x="390.74" y="54.59"/><use href="#mp" x="392.43" y="54.76"/><use href="#mp" x="394.11" y="54.94"/><use href="#mp" x="395.79" y="55.14"/><use href="#mp" x="397.48" y="55.35"/><use href="#mp" x="399.16" y="55.57"/><use href="#mp" x="400.85" y="55.81"/><use href="#mp" x="402.53" y="56.06"/><use href="#mp" x="404.21" y="56.33"/><use href="#mp" x="405.9" y="56.61"/><use href="#mp" x="407.58" y="56.9"/><use href="#mp" x="409.26" y="57.21"/><use href="#mp" x="410.95" y="57.52"/><use href="#mp" x="412.63" y="57.85"/><use href="#mp" x="414.32" y="58.19"/><use href="#mp" x="416" y="58.54"/><use href="#mp" x="417.68" y="58.9"/><use href="#mp" x="419.37" y="59.27"/><use href="#mp" x="421.05" y="59.65"/><use href="#mp" x="422.73" y="60.05"/><use href="#mp" x="424.42" y="60.45"/><use href="#mp" x="426.1" y="60.86"/><use href="#mp" x="427.78" y="61.27"/><use href="#mp" x="429.47" y="61.7"/><use href="#mp" x="431.15" y="62.14"/><use href="#mp" x="432.84" y="62.58"/><use href="#mp" x="434.52" y="63.03"/><use href="#mp" x="436.2" y="63.49"/><use href="#mp" x="437.89" y="63.95"/><use href="#mp" x="439.57" y="64.42"/><use href="#mp" x="441.25" y="64.9"/><use href="#mp" x="442.94" y="65.38"/><use href="#mp" x="444.62" y="65.87"/><use href="#mp" x="446.31" y="66.36"/><use href="#mp" x="447.99" y="66.86"/><use href="#mp" x="449.67" y="67.36"/><use href="#mp" x="451.36" y="67.87"/><use href="#mp" x="453.04" y="68.38"/><use href="#mp" x="454.72" y="68.89"/><use href="#mp" x="456.41" y="69.41"/><use href="#mp" x="458.09" y="69.93"/><use href="#mp" x="459.78" y="70.45"/><use href="#mp" x="461.46" y="70.97"/><use href="#mp" x="463.14" y="71.5"/><use href="#mp" x="464.83" y="72.03"/><use href="#mp" x="466.51" y="72.56"/><use href="#mp" x="468.19" y="73.09"/><use href="#mp" x="469.88" y="73.62"/><use href="#mp" x="471.56" y="74.15"/><use href="#mp" x="473.25" y="74.67"/><use href="#mp" x="474.93" y="75.2"/><use href="#mp" x="476.61" y="75.72"/><use href="#mp" x="478.3" y="76.23"/><use href="#mp" x="479.98" y="76.73"/><use href="#mp" x="481.66" y="77.22"/><use href="#mp" x="483.35" y="77.7"/><use href="#mp" x="485.03" y="78.17"/><use href="#mp" x="486.71" y="78.61"/><use href="#mp" x="488.4" y="79.04"/><use href="#mp" x="490.08" y="79.45"/><use href="#mp" x="491.77" y="79.83"/><use href="#mp" x="493.45" y="80.19"/><use href="#mp" x="495.13" y="80.52"/><use href="#mp" x="496.82" y="80.83"/><use href="#mp" x="498.5" y="81.1"/><use href="#mp" x="500.18" y="81.35"/><use href="#mp" x="501.87" y="81.55"/><use href="#mp" x="503.55" y="81.73"/><use href="#mp" x="505.24" y="81.86"/><use href="#mp" x="506.92" y="81.96"/><use href="#mp" x="508.6" y="82.01"/><use href="#mp" x="510.29" y="82.02"/><use href="#mp" x="511.97" y="81.99"/><use href="#mp" x="513.65" y="81.91"/><use href="#mp" x="515.34" y="81.8"/><use href="#mp" x="517.02" y="81.66"/><use href="#mp" x="518.71" y="81.48"/><use href="#mp" x="520.39" y="81.27"/><use href="#mp" x="522.07" y="81.03"/><use href="#mp" x="523.76" y="80.76"/><use href="#mp" x="525.44" y="80.48"/><use href="#mp" x="527.12" y="80.17"/><use href="#mp" x="528.81" y="79.85"/><use href="#mp" x="530.49" y="79.51"/><use href="#mp" x="532.18" y="79.16"/><use href="#mp" x="533.86" y="78.8"/><use href="#mp" x="535.54" y="78.43"/><use href="#mp" x="537.23" y="78.05"/><use href="#mp" x="538.91" y="77.68"/><use href="#mp" x="540.59" y="77.3"/><use href="#mp" x="542.28" y="76.93"/><use href="#mp" x="543.96" y="76.56"/><use href="#mp" x="545.64" y="76.21"/><use href="#mp" x="547.33" y="75.86"/><use href="#mp" x="549.01" y="75.52"/><use href="#mp" x="550.7" y="75.2"/><use href="#mp" x="552.38" y="74.9"/><use href="#mp" x="554.06" y="74.61"/><use href="#mp" x="555.75" y="74.35"/><use href="#mp" x="557.43" y="74.11"/><use href="#mp" x="559.11" y="73.89"/><use href="#mp" x="560.8" y="73.7"/><use href="#mp" x="562.48" y="73.54"/><use href="#mp" x="564.17" y="73.41"/><use href="#mp" x="565.85" y="73.3"/><use href="#mp" x="567.53" y="73.24"/><use href="#mp" x="569.22" y="73.2"/><use href="#mp" x="570.9" y="73.21"/><use href="#mp" x="572.58" y="73.25"/><use href="#mp" x="574.27" y="73.33"/><use href="#mp" x="575.95" y="73.45"/><use href="#mp" x="577.64" y="73.6"/><use href="#mp" x="579.32" y="73.78"/><use href="#mp" x="581" y="73.99"/><use href="#mp" x="582.69" y="74.24"/><use href="#mp" x="584.37" y="74.52"/><use href="#mp" x="586.05" y="74.82"/><use href="#mp" x="587.74" y="75.16"/><use href="#mp" x="589.42" y="75.52"/><use href="#mp" x="591.11" y="75.91"/><use href="#mp" x="592.79" y="76.32"/><use href="#mp" x="594.47" y="76.75"/><use href="#mp" x="596.16" y="77.21"/><use href="#mp" x="597.84" y="77.69"/><use href="#mp" x="599.52" y="78.2"/><use href="#mp" x="601.21" y="78.72"/><use href="#mp" x="602.89" y="79.26"/><use href="#mp" x="604.57" y="79.82"/><use href="#mp" x="606.26" y="80.39"/><use href="#mp" x="607.94" y="80.99"/><use href="#mp" x="609.63" y="81.6"/><use href="#mp" x="611.31" y="82.23"/><use href="#mp" x="612.99" y="82.87"/><use href="#mp" x="614.68" y="83.53"/><use href="#mp" x="616.36" y="84.2"/><use href="#mp" x="618.04" y="84.89"/><use href="#mp" x="619.73" y="85.59"/><use href="#mp" x="621.41" y="86.31"/><use href="#mp" x="623.1" y="87.04"/><use href="#mp" x="624.78" y="87.78"/><use href="#mp" x="626.46" y="88.54"/><use href="#mp" x="628.15" y="89.3"/><use href="#mp" x="629.83" y="90.08"/><use href="#mp" x="631.51" y="90.86"/><use href="#mp" x="633.2" y="91.66"/><use href="#mp" x="634.88" y="92.47"/><use href="#mp" x="636.57" y="93.28"/><use href="#mp" x="638.25" y="94.11"/><use href="#mp" x="639.93" y="94.94"/><use href="#mp" x="641.62" y="95.78"/><use href="#mp" x="643.3" y="96.63"/><use href="#mp" x="644.98" y="97.48"/><use href="#mp" x="646.67" y="98.34"/><use href="#mp" x="648.35" y="99.2"/><use href="#mp" x="650.04" y="100.07"/><use href="#mp" x="651.72" y="100.95"/><use href="#mp" x="653.4" y="101.83"/><use href="#mp" x="655.09" y="102.71"/><use href="#mp" x="656.77" y="103.59"/><use href="#mp" x="658.45" y="104.48"/><use href="#mp" x="660.14" y="105.37"/><use href="#mp" x="661.82" y="106.26"/><use href="#mp" x="663.5" y="107.16"/><use href="#mp" x="665.19" y="108.05"/><use href="#mp" x="666.87" y="108.94"/><use href="#mp" x="668.56" y="109.84"/><use href="#mp" x="670.24" y="110.73"/><use href="#mp" x="671.92" y="111.62"/><use href="#mp" x="673.61" y="112.51"/><use href="#mp" x="675.29" y="113.39"/><use href="#mp" x="676.97" y="114.28"/><use href="#mp" x="678.66" y="115.15"/><use href="#mp" x="680.34" y="116.03"/><use href="#mp" x="682.03" y="116.9"/><use href="#mp" x="683.71" y="117.77"/><use href="#mp" x="685.39" y="118.63"/><use href="#mp" x="687.08" y="119.49"/><use href="#mp" x="688.76" y="120.33"/><use href="#mp" x="690.44" y="121.18"/><use href="#mp" x="692.13" y="122.01"/><use href="#mp" x="693.81" y="122.84"/><use href="#mp" x="695.5" y="123.66"/><use href="#mp" x="697.18" y="124.47"/><use href="#mp" x="698.86" y="125.27"/><use href="#mp" x="700.55" y="126.06"/><use href="#mp" x="702.23" y="126.83"/><use href="#mp" x="703.91" y="127.6"/><use href="#mp" x="705.6" y="128.36"/><use href="#mp" x="707.28" y="129.11"/><use href="#mp" x="708.97" y="129.84"/><use href="#mp" x="710.65" y="130.56"/><use href="#mp" x="712.33" y="131.27"/><use href="#mp" x="714.02" y="131.96"/><use href="#mp" x="715.7" y="132.64"/>
<polyline points="126.4,132.77 127.45,132.48 128.5,132.19 129.56,131.9 130.61,131.61 131.66,131.31 132.71,131.01 133.77,130.7 134.82,130.4 135.87,130.09 136.92,129.77 137.98,129.46 139.03,129.14 140.08,128.82 141.13,128.49 142.18,128.16 143.24,127.83 144.29,127.5 145.34,127.17 146.39,126.83 147.45,126.49 148.5,126.15 149.55,125.8 150.6,125.46 151.66,125.11 152.71,124.76 153.76,124.4 154.81,124.05 155.87,123.69 156.92,123.33 157.97,122.97 159.02,122.61 160.07,122.24 161.13,121.88 162.18,121.51 163.23,121.14 164.28,120.77 165.34,120.39 166.39,120.02 167.44,119.64 168.49,119.27 169.55,118.89 170.6,118.51 171.65,118.13 172.7,117.75 173.75,117.36 174.81,116.98 175.86,116.59 176.91,116.21 177.96,115.82 179.02,115.43 180.07,115.04 181.12,114.66 182.17,114.26 183.23,113.87 184.28,113.48 185.33,113.09 186.38,112.7 187.43,112.31 188.49,111.91 189.54,111.52 190.59,111.13 191.64,110.73 192.7,110.34 193.75,109.94 194.8,109.55 195.85,109.15 196.91,108.76 197.96,108.37 199.01,107.97 200.06,107.58 201.11,107.18 202.17,106.79 203.22,106.4 204.27,106.01 205.32,105.61 206.38,105.22 207.43,104.83 208.48,104.44 209.53,104.05 210.59,103.66 211.64,103.27 212.69,102.89 213.74,102.5 214.8,102.11 215.85,101.73 216.9,101.35 217.95,100.96 219,100.58 220.06,100.2 221.11,99.82 222.16,99.45 223.21,99.07 224.27,98.7 225.32,98.32 226.37,97.95 227.42,97.58 228.48,97.21 229.53,96.85 230.58,96.48 231.63,96.12 232.68,95.75 233.74,95.39 234.79,95.04 235.84,94.68 236.89,94.33 237.95,93.98 239,93.63 240.05,93.28 241.1,92.93 242.16,92.59 243.21,92.25 244.26,91.91 245.31,91.58 246.36,91.24 247.42,90.91 248.47,90.58 249.52,90.26 250.57,89.94 251.63,89.62 252.68,89.3 253.73,88.99 254.78,88.67 255.84,88.37 256.89,88.06 257.94,87.76 258.99,87.46 260.04,87.16 261.1,86.87 262.15,86.58 263.2,86.3 264.25,86.01 265.31,85.73 266.36,85.46 267.41,85.19 268.46,84.92 269.52,84.65 270.57,84.39 271.62,84.13 272.67,83.88 273.73,83.63 274.78,83.39 275.83,83.14 276.88,82.91 277.93,82.67 278.99,82.44 280.04,82.22 281.09,82 282.14,81.78 283.2,81.57 284.25,81.36 285.3,81.15 286.35,80.96 287.41,80.76 288.46,80.57 289.51,80.38 290.56,80.2 291.61,80.03 292.67,79.86 293.72,79.69 294.77,79.53 295.82,79.37 296.88,79.22 297.93,79.07 298.98,78.93 300.03,78.8 301.09,78.67 302.14,78.54 303.19,78.42 304.24,78.31 305.29,78.2 306.35,78.09 307.4,77.99 308.45,77.9 309.5,77.81 310.56,77.73 311.61,77.66 312.66,77.59 313.71,77.52 314.77,77.46 315.82,77.41 316.87,77.37 317.92,77.33 318.97,77.29 320.03,77.26 321.08,77.24 322.13,77.23 323.18,77.22 324.24,77.22 325.29,77.22 326.34,77.23 327.39,77.25 328.45,77.27 329.5,77.3 330.55,77.34 331.6,77.38 332.66,77.43 333.71,77.49 334.76,77.55 335.81,77.62 336.86,77.7 337.92,77.79 338.97,77.88 340.02,77.98 341.07,78.08 342.13,78.2 343.18,78.32 344.23,78.45 345.28,78.58 346.34,78.73 347.39,78.88 348.44,79.03 349.49,79.2 350.54,79.37 351.6,79.56 352.65,79.75 353.7,79.94 354.75,80.15 355.81,80.36 356.86,80.58 357.91,80.81 358.96,81.05 360.02,81.29 361.07,81.55 362.12,81.81 363.17,82.08 364.22,82.36 365.28,82.64 366.33,82.94 367.38,83.24 368.43,83.55 369.49,83.88 370.54,84.21 371.59,84.54 372.64,84.89 373.7,85.25 374.75,85.61 375.8,85.99 376.85,86.37 377.9,86.76 378.96,87.16 380.01,87.57 381.06,87.99 382.11,88.42 383.17,88.86 384.22,89.31 385.27,89.76 386.32,90.23 387.38,90.7 388.43,91.19 389.48,91.68 390.53,92.19 391.59,92.7 392.64,93.23 393.69,93.76 394.74,94.31 395.79,94.86 396.85,95.42 397.9,96 398.95,96.58 400,97.17 401.06,97.78 402.11,98.39 403.16,99.02 404.21,99.65 405.27,100.3 406.32,100.95 407.37,101.62 408.42,102.3 409.47,102.99 410.53,103.68 411.58,104.39 412.63,105.11 413.68,105.85 414.74,106.59 415.79,107.35 416.84,108.13 417.89,108.92 418.95,109.72 420,110.54 421.05,111.38 422.1,112.23 423.15,113.11 424.21,114 425.26,114.91 426.31,115.84 427.36,116.79 428.42,117.76 429.47,118.76 430.52,119.77 431.57,120.81 432.63,121.88 433.68,122.97 434.73,124.08 435.78,125.22 436.83,126.38 437.89,127.57 438.94,128.79 439.99,130.04 441.04,131.31 442.1,132.62 443.15,133.95 444.2,135.32 445.25,136.72 446.31,138.15 447.36,139.61 448.41,141.1 449.46,142.63 450.52,144.19 451.57,145.79 452.62,147.42 453.67,149.09 454.72,150.8 455.78,152.55 456.83,154.33 457.88,156.15 458.93,158.01 459.99,159.91 461.04,161.85 462.09,163.84 463.14,165.86 464.2,167.93 465.25,170.04 466.3,172.2 467.35,174.4 468.4,176.64 469.46,178.93 470.51,181.27 471.56,183.65 472.61,186.08 473.67,188.54 474.72,191.05 475.77,193.58 476.82,196.16 477.88,198.76 478.93,201.39 479.98,204.05 481.03,206.74 482.08,209.44 483.14,212.16 484.19,214.9 485.24,217.66 486.29,220.42 487.35,223.2 488.4,225.98 489.45,228.77 490.5,231.56 491.56,234.36 492.61,237.14 493.66,239.93 494.71,242.71 495.76,245.47 496.82,248.23 497.87,250.97 498.92,253.7 499.97,256.42 501.03,259.12 502.08,261.81 503.13,264.49 504.18,267.15 505.24,269.81 506.29,272.45 507.34,275.08 508.39,277.7 509.45,280.32 510.5,282.92 511.55,285.5 512.6,288.07 513.65,290.6 514.71,293.1 515.76,295.55 516.81,297.95 517.86,300.29 518.92,302.57 519.97,304.76 521.02,306.88 522.07,308.9 523.13,310.83 524.18,312.65 525.23,314.35 526.28,315.94 527.33,317.39 528.39,318.71 529.44,319.89 530.49,320.91 531.54,321.79 532.6,322.51 533.65,323.08 534.7,323.5 535.75,323.77 536.81,323.89 537.86,323.86 538.91,323.68 539.96,323.35 541.01,322.87 542.07,322.25 543.12,321.47 544.17,320.54 545.22,319.47 546.28,318.25 547.33,316.9 548.38,315.42 549.43,313.81 550.49,312.08 551.54,310.24 552.59,308.28 553.64,306.23 554.69,304.08 555.75,301.84 556.8,299.51 557.85,297.1 558.9,294.62 559.96,292.07 561.01,289.46 562.06,286.79 563.11,284.07 564.17,281.31 565.22,278.5 566.27,275.67 567.32,272.8 568.38,269.91 569.43,267.01 570.48,264.09 571.53,261.17 572.58,258.25 573.64,255.34 574.69,252.44 575.74,249.55 576.79,246.69 577.85,243.86 578.9,241.05 579.95,238.27 581,235.52 582.06,232.8 583.11,230.11 584.16,227.46 585.21,224.84 586.26,222.25 587.32,219.7 588.37,217.19 589.42,214.72 590.47,212.29 591.53,209.91 592.58,207.56 593.63,205.26 594.68,203.01 595.74,200.8 596.79,198.64 597.84,196.53 598.89,194.47 599.94,192.46 601,190.5 602.05,188.6 603.1,186.75 604.15,184.95 605.21,183.2 606.26,181.5 607.31,179.85 608.36,178.25 609.42,176.69 610.47,175.18 611.52,173.72 612.57,172.3 613.62,170.93 614.68,169.6 615.73,168.32 616.78,167.07 617.83,165.87 618.89,164.71 619.94,163.6 620.99,162.52 622.04,161.48 623.1,160.48 624.15,159.52 625.2,158.59 626.25,157.7 627.31,156.85 628.36,156.03 629.41,155.25 630.46,154.5 631.51,153.78 632.57,153.09 633.62,152.44 634.67,151.82 635.72,151.23 636.78,150.67 637.83,150.13 638.88,149.63 639.93,149.15 640.99,148.7 642.04,148.27 643.09,147.87 644.14,147.5 645.19,147.15 646.25,146.82 647.3,146.51 648.35,146.23 649.4,145.97 650.46,145.73 651.51,145.51 652.56,145.31 653.61,145.12 654.67,144.96 655.72,144.81 656.77,144.68 657.82,144.57 658.87,144.48 659.93,144.4 660.98,144.33 662.03,144.28 663.08,144.25 664.14,144.23 665.19,144.22 666.24,144.23 667.29,144.24 668.35,144.27 669.4,144.31 670.45,144.36 671.5,144.43 672.55,144.5 673.61,144.58 674.66,144.67 675.71,144.77 676.76,144.87 677.82,144.99 678.87,145.11 679.92,145.23 680.97,145.37 682.03,145.5 683.08,145.65 684.13,145.79 685.18,145.94 686.24,146.1 687.29,146.25 688.34,146.41 689.39,146.57 690.44,146.73 691.5,146.89 692.55,147.06 693.6,147.22 694.65,147.38 695.71,147.54 696.76,147.7 697.81,147.85 698.86,148.01 699.92,148.15 700.97,148.3 702.02,148.44 703.07,148.58 704.12,148.71 705.18,148.83 706.23,148.95 707.28,149.06 708.33,149.17 709.39,149.26 710.44,149.35 711.49,149.43 712.54,149.5 713.6,149.56 714.65,149.61 715.7,149.65" fill="none" stroke="#4B64A8" stroke-width="2.4" stroke-linejoin="round" />
<use href="#mb" x="126.4" y="132.77"/><use href="#mb" x="128.08" y="132.31"/><use href="#mb" x="129.77" y="131.84"/><use href="#mb" x="131.45" y="131.37"/><use href="#mb" x="133.13" y="130.89"/><use href="#mb" x="134.82" y="130.4"/><use href="#mb" x="136.5" y="129.9"/><use href="#mb" x="138.19" y="129.39"/><use href="#mb" x="139.87" y="128.88"/><use href="#mb" x="141.55" y="128.36"/><use href="#mb" x="143.24" y="127.83"/><use href="#mb" x="144.92" y="127.3"/><use href="#mb" x="146.6" y="126.76"/><use href="#mb" x="148.29" y="126.22"/><use href="#mb" x="149.97" y="125.66"/><use href="#mb" x="151.66" y="125.11"/><use href="#mb" x="153.34" y="124.55"/><use href="#mb" x="155.02" y="123.98"/><use href="#mb" x="156.71" y="123.4"/><use href="#mb" x="158.39" y="122.83"/><use href="#mb" x="160.07" y="122.24"/><use href="#mb" x="161.76" y="121.66"/><use href="#mb" x="163.44" y="121.06"/><use href="#mb" x="165.13" y="120.47"/><use href="#mb" x="166.81" y="119.87"/><use href="#mb" x="168.49" y="119.27"/><use href="#mb" x="170.18" y="118.66"/><use href="#mb" x="171.86" y="118.05"/><use href="#mb" x="173.54" y="117.44"/><use href="#mb" x="175.23" y="116.83"/><use href="#mb" x="176.91" y="116.21"/><use href="#mb" x="178.6" y="115.59"/><use href="#mb" x="180.28" y="114.97"/><use href="#mb" x="181.96" y="114.34"/><use href="#mb" x="183.65" y="113.72"/><use href="#mb" x="185.33" y="113.09"/><use href="#mb" x="187.01" y="112.46"/><use href="#mb" x="188.7" y="111.83"/><use href="#mb" x="190.38" y="111.2"/><use href="#mb" x="192.06" y="110.57"/><use href="#mb" x="193.75" y="109.94"/><use href="#mb" x="195.43" y="109.31"/><use href="#mb" x="197.12" y="108.68"/><use href="#mb" x="198.8" y="108.05"/><use href="#mb" x="200.48" y="107.42"/><use href="#mb" x="202.17" y="106.79"/><use href="#mb" x="203.85" y="106.16"/><use href="#mb" x="205.53" y="105.54"/><use href="#mb" x="207.22" y="104.91"/><use href="#mb" x="208.9" y="104.29"/><use href="#mb" x="210.59" y="103.66"/><use href="#mb" x="212.27" y="103.04"/><use href="#mb" x="213.95" y="102.42"/><use href="#mb" x="215.64" y="101.81"/><use href="#mb" x="217.32" y="101.19"/><use href="#mb" x="219" y="100.58"/><use href="#mb" x="220.69" y="99.98"/><use href="#mb" x="222.37" y="99.37"/><use href="#mb" x="224.06" y="98.77"/><use href="#mb" x="225.74" y="98.17"/><use href="#mb" x="227.42" y="97.58"/><use href="#mb" x="229.11" y="96.99"/><use href="#mb" x="230.79" y="96.41"/><use href="#mb" x="232.47" y="95.83"/><use href="#mb" x="234.16" y="95.25"/><use href="#mb" x="235.84" y="94.68"/><use href="#mb" x="237.53" y="94.12"/><use href="#mb" x="239.21" y="93.56"/><use href="#mb" x="240.89" y="93"/><use href="#mb" x="242.58" y="92.45"/><use href="#mb" x="244.26" y="91.91"/><use href="#mb" x="245.94" y="91.38"/><use href="#mb" x="247.63" y="90.85"/><use href="#mb" x="249.31" y="90.32"/><use href="#mb" x="250.99" y="89.81"/><use href="#mb" x="252.68" y="89.3"/><use href="#mb" x="254.36" y="88.8"/><use href="#mb" x="256.05" y="88.3"/><use href="#mb" x="257.73" y="87.82"/><use href="#mb" x="259.41" y="87.34"/><use href="#mb" x="261.1" y="86.87"/><use href="#mb" x="262.78" y="86.41"/><use href="#mb" x="264.46" y="85.96"/><use href="#mb" x="266.15" y="85.51"/><use href="#mb" x="267.83" y="85.08"/><use href="#mb" x="269.52" y="84.65"/><use href="#mb" x="271.2" y="84.24"/><use href="#mb" x="272.88" y="83.83"/><use href="#mb" x="274.57" y="83.43"/><use href="#mb" x="276.25" y="83.05"/><use href="#mb" x="277.93" y="82.67"/><use href="#mb" x="279.62" y="82.31"/><use href="#mb" x="281.3" y="81.95"/><use href="#mb" x="282.99" y="81.61"/><use href="#mb" x="284.67" y="81.28"/><use href="#mb" x="286.35" y="80.96"/><use href="#mb" x="288.04" y="80.65"/><use href="#mb" x="289.72" y="80.35"/><use href="#mb" x="291.4" y="80.06"/><use href="#mb" x="293.09" y="79.79"/><use href="#mb" x="294.77" y="79.53"/><use href="#mb" x="296.46" y="79.28"/><use href="#mb" x="298.14" y="79.05"/><use href="#mb" x="299.82" y="78.82"/><use href="#mb" x="301.51" y="78.62"/><use href="#mb" x="303.19" y="78.42"/><use href="#mb" x="304.87" y="78.24"/><use href="#mb" x="306.56" y="78.07"/><use href="#mb" x="308.24" y="77.92"/><use href="#mb" x="309.92" y="77.78"/><use href="#mb" x="311.61" y="77.66"/><use href="#mb" x="313.29" y="77.55"/><use href="#mb" x="314.98" y="77.45"/><use href="#mb" x="316.66" y="77.38"/><use href="#mb" x="318.34" y="77.31"/><use href="#mb" x="320.03" y="77.26"/><use href="#mb" x="321.71" y="77.23"/><use href="#mb" x="323.39" y="77.22"/><use href="#mb" x="325.08" y="77.22"/><use href="#mb" x="326.76" y="77.24"/><use href="#mb" x="328.45" y="77.27"/><use href="#mb" x="330.13" y="77.32"/><use href="#mb" x="331.81" y="77.39"/><use href="#mb" x="333.5" y="77.48"/><use href="#mb" x="335.18" y="77.58"/><use href="#mb" x="336.86" y="77.7"/><use href="#mb" x="338.55" y="77.84"/><use href="#mb" x="340.23" y="78"/><use href="#mb" x="341.92" y="78.17"/><use href="#mb" x="343.6" y="78.37"/><use href="#mb" x="345.28" y="78.58"/><use href="#mb" x="346.97" y="78.81"/><use href="#mb" x="348.65" y="79.07"/><use href="#mb" x="350.33" y="79.34"/><use href="#mb" x="352.02" y="79.63"/><use href="#mb" x="353.7" y="79.94"/><use href="#mb" x="355.39" y="80.27"/><use href="#mb" x="357.07" y="80.63"/><use href="#mb" x="358.75" y="81"/><use href="#mb" x="360.44" y="81.39"/><use href="#mb" x="362.12" y="81.81"/><use href="#mb" x="363.8" y="82.24"/><use href="#mb" x="365.49" y="82.7"/><use href="#mb" x="367.17" y="83.18"/><use href="#mb" x="368.85" y="83.68"/><use href="#mb" x="370.54" y="84.21"/><use href="#mb" x="372.22" y="84.75"/><use href="#mb" x="373.91" y="85.32"/><use href="#mb" x="375.59" y="85.91"/><use href="#mb" x="377.27" y="86.52"/><use href="#mb" x="378.96" y="87.16"/><use href="#mb" x="380.64" y="87.82"/><use href="#mb" x="382.32" y="88.51"/><use href="#mb" x="384.01" y="89.22"/><use href="#mb" x="385.69" y="89.95"/><use href="#mb" x="387.38" y="90.7"/><use href="#mb" x="389.06" y="91.49"/><use href="#mb" x="390.74" y="92.29"/><use href="#mb" x="392.43" y="93.12"/><use href="#mb" x="394.11" y="93.98"/><use href="#mb" x="395.79" y="94.86"/><use href="#mb" x="397.48" y="95.77"/><use href="#mb" x="399.16" y="96.7"/><use href="#mb" x="400.85" y="97.66"/><use href="#mb" x="402.53" y="98.64"/><use href="#mb" x="404.21" y="99.65"/><use href="#mb" x="405.9" y="100.69"/><use href="#mb" x="407.58" y="101.76"/><use href="#mb" x="409.26" y="102.85"/><use href="#mb" x="410.95" y="103.97"/><use href="#mb" x="412.63" y="105.11"/><use href="#mb" x="414.32" y="106.29"/><use href="#mb" x="416" y="107.51"/><use href="#mb" x="417.68" y="108.76"/><use href="#mb" x="419.37" y="110.05"/><use href="#mb" x="421.05" y="111.38"/><use href="#mb" x="422.73" y="112.76"/><use href="#mb" x="424.42" y="114.18"/><use href="#mb" x="426.1" y="115.65"/><use href="#mb" x="427.78" y="117.18"/><use href="#mb" x="429.47" y="118.76"/><use href="#mb" x="431.15" y="120.4"/><use href="#mb" x="432.84" y="122.09"/><use href="#mb" x="434.52" y="123.85"/><use href="#mb" x="436.2" y="125.68"/><use href="#mb" x="437.89" y="127.57"/><use href="#mb" x="439.57" y="129.54"/><use href="#mb" x="441.25" y="131.57"/><use href="#mb" x="442.94" y="133.68"/><use href="#mb" x="444.62" y="135.87"/><use href="#mb" x="446.31" y="138.15"/><use href="#mb" x="447.99" y="140.5"/><use href="#mb" x="449.67" y="142.94"/><use href="#mb" x="451.36" y="145.47"/><use href="#mb" x="453.04" y="148.09"/><use href="#mb" x="454.72" y="150.8"/><use href="#mb" x="456.41" y="153.61"/><use href="#mb" x="458.09" y="156.52"/><use href="#mb" x="459.78" y="159.53"/><use href="#mb" x="461.46" y="162.64"/><use href="#mb" x="463.14" y="165.86"/><use href="#mb" x="464.83" y="169.19"/><use href="#mb" x="466.51" y="172.63"/><use href="#mb" x="468.19" y="176.19"/><use href="#mb" x="469.88" y="179.86"/><use href="#mb" x="471.56" y="183.65"/><use href="#mb" x="473.25" y="187.55"/><use href="#mb" x="474.93" y="191.55"/><use href="#mb" x="476.61" y="195.64"/><use href="#mb" x="478.3" y="199.81"/><use href="#mb" x="479.98" y="204.05"/><use href="#mb" x="481.66" y="208.36"/><use href="#mb" x="483.35" y="212.71"/><use href="#mb" x="485.03" y="217.11"/><use href="#mb" x="486.71" y="221.53"/><use href="#mb" x="488.4" y="225.98"/><use href="#mb" x="490.08" y="230.45"/><use href="#mb" x="491.77" y="234.91"/><use href="#mb" x="493.45" y="239.37"/><use href="#mb" x="495.13" y="243.81"/><use href="#mb" x="496.82" y="248.23"/><use href="#mb" x="498.5" y="252.61"/><use href="#mb" x="500.18" y="256.96"/><use href="#mb" x="501.87" y="261.27"/><use href="#mb" x="503.55" y="265.56"/><use href="#mb" x="505.24" y="269.81"/><use href="#mb" x="506.92" y="274.03"/><use href="#mb" x="508.6" y="278.23"/><use href="#mb" x="510.29" y="282.4"/><use href="#mb" x="511.97" y="286.53"/><use href="#mb" x="513.65" y="290.6"/><use href="#mb" x="515.34" y="294.58"/><use href="#mb" x="517.02" y="298.43"/><use href="#mb" x="518.71" y="302.12"/><use href="#mb" x="520.39" y="305.62"/><use href="#mb" x="522.07" y="308.9"/><use href="#mb" x="523.76" y="311.93"/><use href="#mb" x="525.44" y="314.68"/><use href="#mb" x="527.12" y="317.11"/><use href="#mb" x="528.81" y="319.2"/><use href="#mb" x="530.49" y="320.91"/><use href="#mb" x="532.18" y="322.24"/><use href="#mb" x="533.86" y="323.18"/><use href="#mb" x="535.54" y="323.73"/><use href="#mb" x="537.23" y="323.9"/><use href="#mb" x="538.91" y="323.68"/><use href="#mb" x="540.59" y="323.08"/><use href="#mb" x="542.28" y="322.1"/><use href="#mb" x="543.96" y="320.74"/><use href="#mb" x="545.64" y="319"/><use href="#mb" x="547.33" y="316.9"/><use href="#mb" x="549.01" y="314.47"/><use href="#mb" x="550.7" y="311.72"/><use href="#mb" x="552.38" y="308.68"/><use href="#mb" x="554.06" y="305.38"/><use href="#mb" x="555.75" y="301.84"/><use href="#mb" x="557.43" y="298.07"/><use href="#mb" x="559.11" y="294.12"/><use href="#mb" x="560.8" y="289.99"/><use href="#mb" x="562.48" y="285.71"/><use href="#mb" x="564.17" y="281.31"/><use href="#mb" x="565.85" y="276.81"/><use href="#mb" x="567.53" y="272.23"/><use href="#mb" x="569.22" y="267.59"/><use href="#mb" x="570.9" y="262.92"/><use href="#mb" x="572.58" y="258.25"/><use href="#mb" x="574.27" y="253.6"/><use href="#mb" x="575.95" y="248.98"/><use href="#mb" x="577.64" y="244.42"/><use href="#mb" x="579.32" y="239.93"/><use href="#mb" x="581" y="235.52"/><use href="#mb" x="582.69" y="231.18"/><use href="#mb" x="584.37" y="226.93"/><use href="#mb" x="586.05" y="222.76"/><use href="#mb" x="587.74" y="218.69"/><use href="#mb" x="589.42" y="214.72"/><use href="#mb" x="591.11" y="210.86"/><use href="#mb" x="592.79" y="207.1"/><use href="#mb" x="594.47" y="203.45"/><use href="#mb" x="596.16" y="199.93"/><use href="#mb" x="597.84" y="196.53"/><use href="#mb" x="599.52" y="193.26"/><use href="#mb" x="601.21" y="190.12"/><use href="#mb" x="602.89" y="187.12"/><use href="#mb" x="604.57" y="184.24"/><use href="#mb" x="606.26" y="181.5"/><use href="#mb" x="607.94" y="178.88"/><use href="#mb" x="609.63" y="176.38"/><use href="#mb" x="611.31" y="174.01"/><use href="#mb" x="612.99" y="171.75"/><use href="#mb" x="614.68" y="169.6"/><use href="#mb" x="616.36" y="167.57"/><use href="#mb" x="618.04" y="165.64"/><use href="#mb" x="619.73" y="163.82"/><use href="#mb" x="621.41" y="162.1"/><use href="#mb" x="623.1" y="160.48"/><use href="#mb" x="624.78" y="158.96"/><use href="#mb" x="626.46" y="157.53"/><use href="#mb" x="628.15" y="156.19"/><use href="#mb" x="629.83" y="154.94"/><use href="#mb" x="631.51" y="153.78"/><use href="#mb" x="633.2" y="152.7"/><use href="#mb" x="634.88" y="151.7"/><use href="#mb" x="636.57" y="150.78"/><use href="#mb" x="638.25" y="149.93"/><use href="#mb" x="639.93" y="149.15"/><use href="#mb" x="641.62" y="148.44"/><use href="#mb" x="643.3" y="147.8"/><use href="#mb" x="644.98" y="147.22"/><use href="#mb" x="646.67" y="146.69"/><use href="#mb" x="648.35" y="146.23"/><use href="#mb" x="650.04" y="145.82"/><use href="#mb" x="651.72" y="145.47"/><use href="#mb" x="653.4" y="145.16"/><use href="#mb" x="655.09" y="144.9"/><use href="#mb" x="656.77" y="144.68"/><use href="#mb" x="658.45" y="144.51"/><use href="#mb" x="660.14" y="144.38"/><use href="#mb" x="661.82" y="144.29"/><use href="#mb" x="663.5" y="144.24"/><use href="#mb" x="665.19" y="144.22"/><use href="#mb" x="666.87" y="144.23"/><use href="#mb" x="668.56" y="144.28"/><use href="#mb" x="670.24" y="144.35"/><use href="#mb" x="671.92" y="144.45"/><use href="#mb" x="673.61" y="144.58"/><use href="#mb" x="675.29" y="144.73"/><use href="#mb" x="676.97" y="144.9"/><use href="#mb" x="678.66" y="145.08"/><use href="#mb" x="680.34" y="145.29"/><use href="#mb" x="682.03" y="145.5"/><use href="#mb" x="683.71" y="145.73"/><use href="#mb" x="685.39" y="145.97"/><use href="#mb" x="687.08" y="146.22"/><use href="#mb" x="688.76" y="146.47"/><use href="#mb" x="690.44" y="146.73"/><use href="#mb" x="692.13" y="146.99"/><use href="#mb" x="693.81" y="147.25"/><use href="#mb" x="695.5" y="147.51"/><use href="#mb" x="697.18" y="147.76"/><use href="#mb" x="698.86" y="148.01"/><use href="#mb" x="700.55" y="148.24"/><use href="#mb" x="702.23" y="148.47"/><use href="#mb" x="703.91" y="148.68"/><use href="#mb" x="705.6" y="148.88"/><use href="#mb" x="707.28" y="149.06"/><use href="#mb" x="708.97" y="149.23"/><use href="#mb" x="710.65" y="149.37"/><use href="#mb" x="712.33" y="149.49"/><use href="#mb" x="714.02" y="149.58"/><use href="#mb" x="715.7" y="149.65"/>
</g>
<rect x="126.4" y="14.1" width="589.3" height="315.5" fill="none" stroke="#000" stroke-width="2.6"/>
<path d="M126.4 329.6H116M126.4 298.05H120.8M126.4 266.5H116M126.4 234.95H120.8M126.4 203.4H116M126.4 171.85H120.8M126.4 140.3H116M126.4 108.75H120.8M126.4 77.2H116M126.4 45.65H120.8M126.4 14.1H116M126.4 329.6V340.2M157.97 329.6V335.6M189.54 329.6V340.2M221.11 329.6V335.6M252.68 329.6V340.2M284.25 329.6V335.6M315.82 329.6V340.2M347.39 329.6V335.6M378.96 329.6V340.2M410.53 329.6V335.6M442.1 329.6V340.2M473.67 329.6V335.6M505.24 329.6V340.2M536.81 329.6V335.6M568.38 329.6V340.2M599.94 329.6V335.6M631.51 329.6V340.2M663.08 329.6V335.6M694.65 329.6V340.2" stroke="#000" stroke-width="2.4" fill="none"/>
<text transform="translate(110,339) scale(1,1.04)" text-anchor="end" class="t">0.0</text>
<text transform="translate(110,275.9) scale(1,1.04)" text-anchor="end" class="t">0.2</text>
<text transform="translate(110,212.8) scale(1,1.04)" text-anchor="end" class="t">0.4</text>
<text transform="translate(110,149.7) scale(1,1.04)" text-anchor="end" class="t">0.6</text>
<text transform="translate(110,86.6) scale(1,1.04)" text-anchor="end" class="t">0.8</text>
<text transform="translate(110,23.5) scale(1,1.04)" text-anchor="end" class="t">1.0</text>
<text transform="translate(126.4,367.3) scale(1,1.04)" text-anchor="middle" class="t">222</text>
<text transform="translate(189.54,367.3) scale(1,1.04)" text-anchor="middle" class="t">225</text>
<text transform="translate(252.68,367.3) scale(1,1.04)" text-anchor="middle" class="t">228</text>
<text transform="translate(315.82,367.3) scale(1,1.04)" text-anchor="middle" class="t">231</text>
<text transform="translate(378.96,367.3) scale(1,1.04)" text-anchor="middle" class="t">234</text>
<text transform="translate(442.1,367.3) scale(1,1.04)" text-anchor="middle" class="t">237</text>
<text transform="translate(505.24,367.3) scale(1,1.04)" text-anchor="middle" class="t">240</text>
<text transform="translate(568.38,367.3) scale(1,1.04)" text-anchor="middle" class="t">243</text>
<text transform="translate(631.51,367.3) scale(1,1.04)" text-anchor="middle" class="t">246</text>
<text transform="translate(694.65,367.3) scale(1,1.04)" text-anchor="middle" class="t">249</text>
<g clip-path="url(#clipb)">
<polyline points="884.4,88.73 885.45,88.64 886.51,88.55 887.56,88.46 888.62,88.37 889.67,88.27 890.72,88.17 891.78,88.08 892.83,87.98 893.88,87.88 894.94,87.78 895.99,87.67 897.05,87.57 898.1,87.46 899.15,87.36 900.21,87.25 901.26,87.14 902.31,87.03 903.37,86.92 904.42,86.81 905.48,86.69 906.53,86.58 907.58,86.47 908.64,86.35 909.69,86.23 910.74,86.12 911.8,86 912.85,85.88 913.91,85.76 914.96,85.64 916.01,85.52 917.07,85.39 918.12,85.27 919.17,85.15 920.23,85.02 921.28,84.9 922.34,84.78 923.39,84.65 924.44,84.52 925.5,84.4 926.55,84.27 927.6,84.14 928.66,84.01 929.71,83.89 930.77,83.76 931.82,83.63 932.87,83.5 933.93,83.37 934.98,83.24 936.03,83.11 937.09,82.98 938.14,82.85 939.2,82.72 940.25,82.59 941.3,82.46 942.36,82.33 943.41,82.2 944.46,82.07 945.52,81.94 946.57,81.81 947.63,81.68 948.68,81.55 949.73,81.42 950.79,81.29 951.84,81.16 952.89,81.03 953.95,80.9 955,80.77 956.06,80.65 957.11,80.52 958.16,80.39 959.22,80.26 960.27,80.14 961.32,80.01 962.38,79.88 963.43,79.76 964.49,79.63 965.54,79.51 966.59,79.39 967.65,79.26 968.7,79.14 969.75,79.02 970.81,78.9 971.86,78.78 972.92,78.66 973.97,78.54 975.02,78.43 976.08,78.31 977.13,78.19 978.18,78.08 979.24,77.96 980.29,77.85 981.35,77.74 982.4,77.63 983.45,77.52 984.51,77.41 985.56,77.3 986.61,77.19 987.67,77.09 988.72,76.98 989.78,76.88 990.83,76.78 991.88,76.68 992.94,76.58 993.99,76.48 995.04,76.39 996.1,76.29 997.15,76.2 998.21,76.1 999.26,76.01 1000.31,75.92 1001.37,75.84 1002.42,75.75 1003.47,75.66 1004.53,75.58 1005.58,75.5 1006.64,75.42 1007.69,75.34 1008.74,75.26 1009.8,75.19 1010.85,75.12 1011.9,75.05 1012.96,74.98 1014.01,74.91 1015.07,74.84 1016.12,74.78 1017.17,74.72 1018.23,74.66 1019.28,74.6 1020.33,74.54 1021.39,74.49 1022.44,74.44 1023.5,74.39 1024.55,74.34 1025.6,74.3 1026.66,74.25 1027.71,74.21 1028.76,74.17 1029.82,74.14 1030.87,74.1 1031.93,74.07 1032.98,74.04 1034.03,74.01 1035.09,73.99 1036.14,73.97 1037.19,73.95 1038.25,73.93 1039.3,73.91 1040.36,73.9 1041.41,73.89 1042.46,73.89 1043.52,73.88 1044.57,73.88 1045.62,73.88 1046.68,73.88 1047.73,73.89 1048.79,73.9 1049.84,73.91 1050.89,73.92 1051.95,73.94 1053,73.96 1054.05,73.99 1055.11,74.01 1056.16,74.04 1057.22,74.07 1058.27,74.11 1059.32,74.15 1060.38,74.19 1061.43,74.23 1062.48,74.28 1063.54,74.33 1064.59,74.38 1065.65,74.44 1066.7,74.5 1067.75,74.56 1068.81,74.63 1069.86,74.7 1070.91,74.77 1071.97,74.85 1073.02,74.93 1074.08,75.01 1075.13,75.1 1076.18,75.19 1077.24,75.29 1078.29,75.38 1079.34,75.49 1080.4,75.59 1081.45,75.7 1082.51,75.81 1083.56,75.93 1084.61,76.05 1085.67,76.17 1086.72,76.3 1087.77,76.43 1088.83,76.56 1089.88,76.7 1090.94,76.85 1091.99,76.99 1093.04,77.15 1094.1,77.31 1095.15,77.47 1096.2,77.64 1097.26,77.81 1098.31,77.99 1099.37,78.18 1100.42,78.37 1101.47,78.56 1102.53,78.77 1103.58,78.98 1104.63,79.19 1105.69,79.41 1106.74,79.64 1107.8,79.88 1108.85,80.12 1109.9,80.37 1110.96,80.62 1112.01,80.89 1113.06,81.16 1114.12,81.43 1115.17,81.72 1116.23,82.01 1117.28,82.31 1118.33,82.62 1119.39,82.94 1120.44,83.27 1121.49,83.6 1122.55,83.95 1123.6,84.3 1124.66,84.66 1125.71,85.03 1126.76,85.41 1127.82,85.8 1128.87,86.19 1129.92,86.6 1130.98,87.02 1132.03,87.45 1133.09,87.88 1134.14,88.33 1135.19,88.79 1136.25,89.26 1137.3,89.74 1138.35,90.22 1139.41,90.73 1140.46,91.24 1141.52,91.76 1142.57,92.29 1143.62,92.84 1144.68,93.39 1145.73,93.96 1146.78,94.54 1147.84,95.14 1148.89,95.74 1149.95,96.36 1151,96.99 1152.05,97.63 1153.11,98.28 1154.16,98.95 1155.21,99.63 1156.27,100.32 1157.32,101.03 1158.38,101.75 1159.43,102.48 1160.48,103.23 1161.54,103.99 1162.59,104.76 1163.64,105.55 1164.7,106.35 1165.75,107.17 1166.81,108 1167.86,108.85 1168.91,109.71 1169.97,110.58 1171.02,111.47 1172.07,112.38 1173.13,113.3 1174.18,114.23 1175.24,115.19 1176.29,116.16 1177.34,117.14 1178.4,118.15 1179.45,119.17 1180.5,120.22 1181.56,121.3 1182.61,122.4 1183.67,123.53 1184.72,124.69 1185.77,125.88 1186.83,127.11 1187.88,128.37 1188.93,129.67 1189.99,131.01 1191.04,132.39 1192.1,133.81 1193.15,135.28 1194.2,136.79 1195.26,138.35 1196.31,139.95 1197.36,141.61 1198.42,143.31 1199.47,145.05 1200.53,146.85 1201.58,148.7 1202.63,150.59 1203.69,152.54 1204.74,154.53 1205.79,156.58 1206.85,158.67 1207.9,160.82 1208.96,163.02 1210.01,165.28 1211.06,167.58 1212.12,169.94 1213.17,172.36 1214.22,174.82 1215.28,177.35 1216.33,179.92 1217.39,182.56 1218.44,185.25 1219.49,188 1220.55,190.8 1221.6,193.66 1222.65,196.58 1223.71,199.54 1224.76,202.55 1225.82,205.59 1226.87,208.67 1227.92,211.79 1228.98,214.93 1230.03,218.09 1231.08,221.27 1232.14,224.46 1233.19,227.66 1234.25,230.87 1235.3,234.08 1236.35,237.28 1237.41,240.47 1238.46,243.65 1239.51,246.81 1240.57,249.94 1241.62,253.04 1242.68,256.1 1243.73,259.11 1244.78,262.07 1245.84,264.97 1246.89,267.8 1247.94,270.56 1249,273.24 1250.05,275.83 1251.11,278.33 1252.16,280.72 1253.21,283.01 1254.27,285.19 1255.32,287.25 1256.37,289.18 1257.43,290.98 1258.48,292.63 1259.54,294.14 1260.59,295.5 1261.64,296.7 1262.7,297.73 1263.75,298.58 1264.8,299.26 1265.86,299.74 1266.91,300.04 1267.97,300.14 1269.02,300.04 1270.07,299.75 1271.13,299.27 1272.18,298.61 1273.23,297.77 1274.29,296.76 1275.34,295.58 1276.4,294.24 1277.45,292.74 1278.5,291.08 1279.56,289.28 1280.61,287.33 1281.66,285.23 1282.72,283 1283.77,280.64 1284.83,278.15 1285.88,275.54 1286.93,272.81 1287.99,269.97 1289.04,267.01 1290.09,263.95 1291.15,260.8 1292.2,257.54 1293.26,254.19 1294.31,250.72 1295.36,247.11 1296.42,243.35 1297.47,239.43 1298.52,235.32 1299.58,231.08 1300.63,226.8 1301.69,222.56 1302.74,218.44 1303.79,214.46 1304.85,210.61 1305.9,206.88 1306.95,203.27 1308.01,199.78 1309.06,196.41 1310.12,193.13 1311.17,189.96 1312.22,186.89 1313.28,183.91 1314.33,181.02 1315.38,178.21 1316.44,175.48 1317.49,172.83 1318.55,170.24 1319.6,167.72 1320.65,165.27 1321.71,162.86 1322.76,160.51 1323.81,158.2 1324.87,155.94 1325.92,153.71 1326.98,151.52 1328.03,149.35 1329.08,147.21 1330.14,145.09 1331.19,142.99 1332.24,140.91 1333.3,138.85 1334.35,136.83 1335.41,134.83 1336.46,132.87 1337.51,130.94 1338.57,129.05 1339.62,127.21 1340.67,125.4 1341.73,123.65 1342.78,121.94 1343.84,120.29 1344.89,118.69 1345.94,117.14 1347,115.66 1348.05,114.22 1349.1,112.85 1350.16,111.52 1351.21,110.25 1352.27,109.03 1353.32,107.86 1354.37,106.74 1355.43,105.67 1356.48,104.65 1357.53,103.67 1358.59,102.74 1359.64,101.86 1360.7,101.02 1361.75,100.22 1362.8,99.46 1363.86,98.75 1364.91,98.07 1365.96,97.43 1367.02,96.83 1368.07,96.27 1369.13,95.75 1370.18,95.26 1371.23,94.8 1372.29,94.38 1373.34,93.99 1374.39,93.64 1375.45,93.31 1376.5,93.01 1377.56,92.74 1378.61,92.5 1379.66,92.29 1380.72,92.1 1381.77,91.93 1382.82,91.79 1383.88,91.68 1384.93,91.58 1385.99,91.51 1387.04,91.45 1388.09,91.42 1389.15,91.4 1390.2,91.4 1391.25,91.42 1392.31,91.45 1393.36,91.5 1394.42,91.56 1395.47,91.63 1396.52,91.71 1397.58,91.81 1398.63,91.91 1399.68,92.02 1400.74,92.14 1401.79,92.27 1402.85,92.4 1403.9,92.53 1404.95,92.68 1406.01,92.82 1407.06,92.96 1408.11,93.11 1409.17,93.26 1410.22,93.4 1411.28,93.54 1412.33,93.69 1413.38,93.83 1414.44,93.96 1415.49,94.1 1416.54,94.24 1417.6,94.37 1418.65,94.5 1419.71,94.63 1420.76,94.77 1421.81,94.9 1422.87,95.03 1423.92,95.16 1424.97,95.29 1426.03,95.42 1427.08,95.55 1428.14,95.68 1429.19,95.82 1430.24,95.95 1431.3,96.08 1432.35,96.22 1433.4,96.36 1434.46,96.5 1435.51,96.64 1436.57,96.78 1437.62,96.92 1438.67,97.07 1439.73,97.22 1440.78,97.37 1441.83,97.52 1442.89,97.68 1443.94,97.84 1445,98 1446.05,98.17 1447.1,98.34 1448.16,98.52 1449.21,98.69 1450.26,98.88 1451.32,99.06 1452.37,99.25 1453.43,99.45 1454.48,99.65 1455.53,99.85 1456.59,100.06 1457.64,100.28 1458.69,100.5 1459.75,100.72 1460.8,100.96 1461.86,101.19 1462.91,101.44 1463.96,101.69 1465.02,101.94 1466.07,102.21 1467.12,102.48 1468.18,102.75 1469.23,103.04 1470.29,103.33 1471.34,103.63 1472.39,103.93 1473.45,104.25 1474.5,104.57" fill="none" stroke="#4B64A8" stroke-width="2.4" stroke-linejoin="round" />
<polyline points="884.4,80.98 885.45,80.87 886.51,80.75 887.56,80.63 888.62,80.51 889.67,80.39 890.72,80.27 891.78,80.14 892.83,80.02 893.88,79.89 894.94,79.76 895.99,79.63 897.05,79.5 898.1,79.37 899.15,79.24 900.21,79.1 901.26,78.97 902.31,78.83 903.37,78.69 904.42,78.55 905.48,78.41 906.53,78.27 907.58,78.13 908.64,77.99 909.69,77.84 910.74,77.7 911.8,77.55 912.85,77.4 913.91,77.26 914.96,77.11 916.01,76.96 917.07,76.81 918.12,76.65 919.17,76.5 920.23,76.35 921.28,76.19 922.34,76.04 923.39,75.88 924.44,75.73 925.5,75.57 926.55,75.41 927.6,75.25 928.66,75.09 929.71,74.93 930.77,74.77 931.82,74.61 932.87,74.45 933.93,74.28 934.98,74.12 936.03,73.95 937.09,73.79 938.14,73.62 939.2,73.46 940.25,73.29 941.3,73.12 942.36,72.96 943.41,72.79 944.46,72.62 945.52,72.45 946.57,72.28 947.63,72.11 948.68,71.94 949.73,71.77 950.79,71.6 951.84,71.43 952.89,71.26 953.95,71.08 955,70.91 956.06,70.74 957.11,70.57 958.16,70.39 959.22,70.22 960.27,70.05 961.32,69.87 962.38,69.7 963.43,69.52 964.49,69.35 965.54,69.17 966.59,69 967.65,68.83 968.7,68.65 969.75,68.48 970.81,68.3 971.86,68.13 972.92,67.95 973.97,67.78 975.02,67.6 976.08,67.43 977.13,67.25 978.18,67.08 979.24,66.9 980.29,66.73 981.35,66.55 982.4,66.38 983.45,66.2 984.51,66.03 985.56,65.86 986.61,65.68 987.67,65.51 988.72,65.33 989.78,65.16 990.83,64.99 991.88,64.82 992.94,64.64 993.99,64.47 995.04,64.3 996.1,64.13 997.15,63.96 998.21,63.79 999.26,63.62 1000.31,63.45 1001.37,63.28 1002.42,63.11 1003.47,62.94 1004.53,62.78 1005.58,62.61 1006.64,62.44 1007.69,62.27 1008.74,62.11 1009.8,61.94 1010.85,61.78 1011.9,61.62 1012.96,61.45 1014.01,61.29 1015.07,61.13 1016.12,60.97 1017.17,60.81 1018.23,60.65 1019.28,60.49 1020.33,60.33 1021.39,60.17 1022.44,60.01 1023.5,59.86 1024.55,59.7 1025.6,59.55 1026.66,59.39 1027.71,59.24 1028.76,59.09 1029.82,58.94 1030.87,58.79 1031.93,58.64 1032.98,58.49 1034.03,58.34 1035.09,58.2 1036.14,58.05 1037.19,57.91 1038.25,57.76 1039.3,57.62 1040.36,57.48 1041.41,57.34 1042.46,57.2 1043.52,57.06 1044.57,56.93 1045.62,56.79 1046.68,56.65 1047.73,56.52 1048.79,56.39 1049.84,56.26 1050.89,56.13 1051.95,56 1053,55.87 1054.05,55.75 1055.11,55.62 1056.16,55.5 1057.22,55.38 1058.27,55.26 1059.32,55.14 1060.38,55.02 1061.43,54.9 1062.48,54.79 1063.54,54.67 1064.59,54.56 1065.65,54.45 1066.7,54.34 1067.75,54.23 1068.81,54.12 1069.86,54.02 1070.91,53.92 1071.97,53.81 1073.02,53.71 1074.08,53.62 1075.13,53.52 1076.18,53.42 1077.24,53.33 1078.29,53.24 1079.34,53.15 1080.4,53.06 1081.45,52.97 1082.51,52.89 1083.56,52.81 1084.61,52.73 1085.67,52.65 1086.72,52.57 1087.77,52.5 1088.83,52.42 1089.88,52.35 1090.94,52.29 1091.99,52.22 1093.04,52.16 1094.1,52.1 1095.15,52.04 1096.2,51.99 1097.26,51.93 1098.31,51.88 1099.37,51.84 1100.42,51.79 1101.47,51.75 1102.53,51.71 1103.58,51.68 1104.63,51.64 1105.69,51.61 1106.74,51.59 1107.8,51.56 1108.85,51.54 1109.9,51.52 1110.96,51.51 1112.01,51.5 1113.06,51.49 1114.12,51.48 1115.17,51.48 1116.23,51.48 1117.28,51.49 1118.33,51.5 1119.39,51.51 1120.44,51.53 1121.49,51.55 1122.55,51.57 1123.6,51.6 1124.66,51.63 1125.71,51.66 1126.76,51.7 1127.82,51.75 1128.87,51.79 1129.92,51.84 1130.98,51.9 1132.03,51.96 1133.09,52.02 1134.14,52.09 1135.19,52.16 1136.25,52.23 1137.3,52.31 1138.35,52.4 1139.41,52.49 1140.46,52.58 1141.52,52.68 1142.57,52.78 1143.62,52.89 1144.68,53 1145.73,53.12 1146.78,53.24 1147.84,53.37 1148.89,53.5 1149.95,53.63 1151,53.78 1152.05,53.92 1153.11,54.07 1154.16,54.23 1155.21,54.39 1156.27,54.56 1157.32,54.73 1158.38,54.91 1159.43,55.09 1160.48,55.28 1161.54,55.47 1162.59,55.67 1163.64,55.87 1164.7,56.08 1165.75,56.3 1166.81,56.52 1167.86,56.75 1168.91,56.98 1169.97,57.22 1171.02,57.46 1172.07,57.71 1173.13,57.97 1174.18,58.23 1175.24,58.5 1176.29,58.77 1177.34,59.05 1178.4,59.34 1179.45,59.63 1180.5,59.93 1181.56,60.23 1182.61,60.55 1183.67,60.86 1184.72,61.19 1185.77,61.52 1186.83,61.86 1187.88,62.2 1188.93,62.56 1189.99,62.92 1191.04,63.28 1192.1,63.66 1193.15,64.04 1194.2,64.43 1195.26,64.84 1196.31,65.25 1197.36,65.66 1198.42,66.09 1199.47,66.53 1200.53,66.98 1201.58,67.43 1202.63,67.9 1203.69,68.38 1204.74,68.87 1205.79,69.37 1206.85,69.88 1207.9,70.4 1208.96,70.93 1210.01,71.48 1211.06,72.03 1212.12,72.6 1213.17,73.18 1214.22,73.77 1215.28,74.38 1216.33,75 1217.39,75.63 1218.44,76.27 1219.49,76.92 1220.55,77.58 1221.6,78.25 1222.65,78.92 1223.71,79.6 1224.76,80.28 1225.82,80.97 1226.87,81.65 1227.92,82.34 1228.98,83.03 1230.03,83.72 1231.08,84.41 1232.14,85.09 1233.19,85.77 1234.25,86.44 1235.3,87.11 1236.35,87.77 1237.41,88.42 1238.46,89.06 1239.51,89.7 1240.57,90.32 1241.62,90.93 1242.68,91.53 1243.73,92.12 1244.78,92.7 1245.84,93.26 1246.89,93.81 1247.94,94.34 1249,94.85 1250.05,95.35 1251.11,95.84 1252.16,96.3 1253.21,96.74 1254.27,97.17 1255.32,97.57 1256.37,97.96 1257.43,98.32 1258.48,98.66 1259.54,98.97 1260.59,99.26 1261.64,99.53 1262.7,99.77 1263.75,99.99 1264.8,100.18 1265.86,100.34 1266.91,100.47 1267.97,100.57 1269.02,100.65 1270.07,100.69 1271.13,100.7 1272.18,100.68 1273.23,100.63 1274.29,100.54 1275.34,100.42 1276.4,100.26 1277.45,100.08 1278.5,99.86 1279.56,99.61 1280.61,99.33 1281.66,99.03 1282.72,98.7 1283.77,98.34 1284.83,97.96 1285.88,97.56 1286.93,97.14 1287.99,96.7 1289.04,96.24 1290.09,95.77 1291.15,95.28 1292.2,94.77 1293.26,94.26 1294.31,93.73 1295.36,93.2 1296.42,92.65 1297.47,92.1 1298.52,91.54 1299.58,90.98 1300.63,90.42 1301.69,89.85 1302.74,89.29 1303.79,88.72 1304.85,88.16 1305.9,87.6 1306.95,87.05 1308.01,86.5 1309.06,85.96 1310.12,85.44 1311.17,84.92 1312.22,84.41 1313.28,83.92 1314.33,83.44 1315.38,82.98 1316.44,82.54 1317.49,82.11 1318.55,81.7 1319.6,81.3 1320.65,80.92 1321.71,80.56 1322.76,80.21 1323.81,79.88 1324.87,79.56 1325.92,79.25 1326.98,78.97 1328.03,78.69 1329.08,78.43 1330.14,78.18 1331.19,77.95 1332.24,77.73 1333.3,77.53 1334.35,77.33 1335.41,77.15 1336.46,76.99 1337.51,76.83 1338.57,76.69 1339.62,76.56 1340.67,76.44 1341.73,76.33 1342.78,76.23 1343.84,76.14 1344.89,76.07 1345.94,76 1347,75.95 1348.05,75.9 1349.1,75.87 1350.16,75.84 1351.21,75.82 1352.27,75.81 1353.32,75.82 1354.37,75.83 1355.43,75.84 1356.48,75.87 1357.53,75.9 1358.59,75.95 1359.64,76 1360.7,76.05 1361.75,76.12 1362.8,76.19 1363.86,76.26 1364.91,76.35 1365.96,76.44 1367.02,76.53 1368.07,76.63 1369.13,76.74 1370.18,76.85 1371.23,76.96 1372.29,77.09 1373.34,77.21 1374.39,77.34 1375.45,77.47 1376.5,77.61 1377.56,77.75 1378.61,77.9 1379.66,78.05 1380.72,78.2 1381.77,78.35 1382.82,78.51 1383.88,78.68 1384.93,78.84 1385.99,79.01 1387.04,79.19 1388.09,79.36 1389.15,79.54 1390.2,79.72 1391.25,79.91 1392.31,80.1 1393.36,80.29 1394.42,80.49 1395.47,80.68 1396.52,80.88 1397.58,81.09 1398.63,81.29 1399.68,81.5 1400.74,81.71 1401.79,81.93 1402.85,82.15 1403.9,82.36 1404.95,82.59 1406.01,82.81 1407.06,83.04 1408.11,83.27 1409.17,83.5 1410.22,83.73 1411.28,83.97 1412.33,84.2 1413.38,84.44 1414.44,84.68 1415.49,84.93 1416.54,85.17 1417.6,85.42 1418.65,85.67 1419.71,85.92 1420.76,86.17 1421.81,86.43 1422.87,86.68 1423.92,86.94 1424.97,87.2 1426.03,87.46 1427.08,87.72 1428.14,87.98 1429.19,88.24 1430.24,88.51 1431.3,88.78 1432.35,89.04 1433.4,89.31 1434.46,89.58 1435.51,89.85 1436.57,90.12 1437.62,90.39 1438.67,90.67 1439.73,90.94 1440.78,91.21 1441.83,91.49 1442.89,91.77 1443.94,92.04 1445,92.32 1446.05,92.59 1447.1,92.87 1448.16,93.15 1449.21,93.43 1450.26,93.71 1451.32,93.98 1452.37,94.26 1453.43,94.54 1454.48,94.82 1455.53,95.1 1456.59,95.38 1457.64,95.66 1458.69,95.93 1459.75,96.21 1460.8,96.49 1461.86,96.77 1462.91,97.04 1463.96,97.32 1465.02,97.6 1466.07,97.87 1467.12,98.15 1468.18,98.42 1469.23,98.69 1470.29,98.97 1471.34,99.24 1472.39,99.51 1473.45,99.78 1474.5,100.05" fill="none" stroke="#D11A20" stroke-width="2.4" stroke-linejoin="round" />
<polyline points="884.4,107.47 885.45,107.32 886.51,107.16 887.56,107 888.62,106.84 889.67,106.68 890.72,106.51 891.78,106.33 892.83,106.16 893.88,105.98 894.94,105.79 895.99,105.61 897.05,105.42 898.1,105.23 899.15,105.03 900.21,104.83 901.26,104.63 902.31,104.42 903.37,104.21 904.42,104 905.48,103.79 906.53,103.57 907.58,103.35 908.64,103.12 909.69,102.9 910.74,102.67 911.8,102.43 912.85,102.2 913.91,101.96 914.96,101.72 916.01,101.48 917.07,101.23 918.12,100.98 919.17,100.73 920.23,100.48 921.28,100.22 922.34,99.97 923.39,99.71 924.44,99.44 925.5,99.18 926.55,98.91 927.6,98.64 928.66,98.37 929.71,98.1 930.77,97.82 931.82,97.54 932.87,97.26 933.93,96.98 934.98,96.7 936.03,96.41 937.09,96.12 938.14,95.83 939.2,95.54 940.25,95.25 941.3,94.95 942.36,94.66 943.41,94.36 944.46,94.06 945.52,93.76 946.57,93.45 947.63,93.15 948.68,92.84 949.73,92.54 950.79,92.23 951.84,91.92 952.89,91.61 953.95,91.3 955,90.98 956.06,90.67 957.11,90.35 958.16,90.03 959.22,89.72 960.27,89.4 961.32,89.08 962.38,88.76 963.43,88.43 964.49,88.11 965.54,87.79 966.59,87.46 967.65,87.14 968.7,86.81 969.75,86.48 970.81,86.16 971.86,85.83 972.92,85.5 973.97,85.17 975.02,84.84 976.08,84.51 977.13,84.18 978.18,83.85 979.24,83.52 980.29,83.19 981.35,82.86 982.4,82.52 983.45,82.19 984.51,81.86 985.56,81.53 986.61,81.2 987.67,80.86 988.72,80.53 989.78,80.2 990.83,79.87 991.88,79.53 992.94,79.2 993.99,78.87 995.04,78.54 996.1,78.21 997.15,77.88 998.21,77.55 999.26,77.22 1000.31,76.89 1001.37,76.56 1002.42,76.23 1003.47,75.9 1004.53,75.57 1005.58,75.24 1006.64,74.92 1007.69,74.59 1008.74,74.27 1009.8,73.94 1010.85,73.62 1011.9,73.3 1012.96,72.97 1014.01,72.65 1015.07,72.33 1016.12,72.01 1017.17,71.7 1018.23,71.38 1019.28,71.06 1020.33,70.75 1021.39,70.44 1022.44,70.12 1023.5,69.81 1024.55,69.5 1025.6,69.2 1026.66,68.89 1027.71,68.58 1028.76,68.28 1029.82,67.98 1030.87,67.68 1031.93,67.38 1032.98,67.08 1034.03,66.78 1035.09,66.49 1036.14,66.2 1037.19,65.91 1038.25,65.62 1039.3,65.33 1040.36,65.04 1041.41,64.76 1042.46,64.48 1043.52,64.2 1044.57,63.92 1045.62,63.65 1046.68,63.37 1047.73,63.1 1048.79,62.83 1049.84,62.57 1050.89,62.3 1051.95,62.04 1053,61.78 1054.05,61.52 1055.11,61.27 1056.16,61.02 1057.22,60.77 1058.27,60.52 1059.32,60.27 1060.38,60.03 1061.43,59.79 1062.48,59.55 1063.54,59.32 1064.59,59.09 1065.65,58.86 1066.7,58.63 1067.75,58.41 1068.81,58.19 1069.86,57.97 1070.91,57.76 1071.97,57.55 1073.02,57.34 1074.08,57.13 1075.13,56.93 1076.18,56.73 1077.24,56.54 1078.29,56.35 1079.34,56.16 1080.4,55.97 1081.45,55.79 1082.51,55.61 1083.56,55.43 1084.61,55.26 1085.67,55.09 1086.72,54.93 1087.77,54.77 1088.83,54.61 1089.88,54.46 1090.94,54.31 1091.99,54.16 1093.04,54.02 1094.1,53.88 1095.15,53.74 1096.2,53.61 1097.26,53.49 1098.31,53.36 1099.37,53.24 1100.42,53.13 1101.47,53.02 1102.53,52.91 1103.58,52.81 1104.63,52.71 1105.69,52.62 1106.74,52.53 1107.8,52.44 1108.85,52.36 1109.9,52.28 1110.96,52.21 1112.01,52.14 1113.06,52.08 1114.12,52.02 1115.17,51.97 1116.23,51.92 1117.28,51.87 1118.33,51.83 1119.39,51.8 1120.44,51.76 1121.49,51.74 1122.55,51.72 1123.6,51.7 1124.66,51.69 1125.71,51.68 1126.76,51.68 1127.82,51.69 1128.87,51.7 1129.92,51.71 1130.98,51.73 1132.03,51.75 1133.09,51.78 1134.14,51.82 1135.19,51.86 1136.25,51.91 1137.3,51.96 1138.35,52.01 1139.41,52.08 1140.46,52.14 1141.52,52.22 1142.57,52.29 1143.62,52.38 1144.68,52.47 1145.73,52.56 1146.78,52.67 1147.84,52.77 1148.89,52.89 1149.95,53 1151,53.13 1152.05,53.26 1153.11,53.4 1154.16,53.54 1155.21,53.69 1156.27,53.84 1157.32,54 1158.38,54.17 1159.43,54.34 1160.48,54.52 1161.54,54.71 1162.59,54.9 1163.64,55.1 1164.7,55.31 1165.75,55.52 1166.81,55.74 1167.86,55.97 1168.91,56.21 1169.97,56.46 1171.02,56.72 1172.07,56.98 1173.13,57.26 1174.18,57.54 1175.24,57.84 1176.29,58.14 1177.34,58.46 1178.4,58.79 1179.45,59.13 1180.5,59.48 1181.56,59.84 1182.61,60.22 1183.67,60.61 1184.72,61.01 1185.77,61.42 1186.83,61.85 1187.88,62.29 1188.93,62.75 1189.99,63.22 1191.04,63.71 1192.1,64.21 1193.15,64.73 1194.2,65.26 1195.26,65.81 1196.31,66.37 1197.36,66.96 1198.42,67.56 1199.47,68.17 1200.53,68.81 1201.58,69.46 1202.63,70.13 1203.69,70.82 1204.74,71.53 1205.79,72.25 1206.85,73 1207.9,73.77 1208.96,74.55 1210.01,75.36 1211.06,76.19 1212.12,77.03 1213.17,77.9 1214.22,78.8 1215.28,79.71 1216.33,80.64 1217.39,81.6 1218.44,82.57 1219.49,83.56 1220.55,84.57 1221.6,85.58 1222.65,86.61 1223.71,87.64 1224.76,88.68 1225.82,89.73 1226.87,90.78 1227.92,91.83 1228.98,92.88 1230.03,93.93 1231.08,94.97 1232.14,96.01 1233.19,97.04 1234.25,98.06 1235.3,99.06 1236.35,100.05 1237.41,101.03 1238.46,101.99 1239.51,102.93 1240.57,103.85 1241.62,104.74 1242.68,105.61 1243.73,106.45 1244.78,107.26 1245.84,108.05 1246.89,108.8 1247.94,109.51 1249,110.19 1250.05,110.83 1251.11,111.43 1252.16,111.99 1253.21,112.5 1254.27,112.97 1255.32,113.39 1256.37,113.76 1257.43,114.07 1258.48,114.34 1259.54,114.55 1260.59,114.7 1261.64,114.8 1262.7,114.83 1263.75,114.8 1264.8,114.7 1265.86,114.54 1266.91,114.31 1267.97,114.02 1269.02,113.67 1270.07,113.25 1271.13,112.78 1272.18,112.24 1273.23,111.65 1274.29,111 1275.34,110.29 1276.4,109.53 1277.45,108.71 1278.5,107.85 1279.56,106.93 1280.61,105.96 1281.66,104.94 1282.72,103.88 1283.77,102.77 1284.83,101.61 1285.88,100.41 1286.93,99.18 1287.99,97.92 1289.04,96.63 1290.09,95.34 1291.15,94.05 1292.2,92.76 1293.26,91.49 1294.31,90.24 1295.36,89.02 1296.42,87.83 1297.47,86.68 1298.52,85.57 1299.58,84.49 1300.63,83.44 1301.69,82.43 1302.74,81.45 1303.79,80.5 1304.85,79.58 1305.9,78.7 1306.95,77.84 1308.01,77.02 1309.06,76.22 1310.12,75.46 1311.17,74.72 1312.22,74.01 1313.28,73.33 1314.33,72.68 1315.38,72.05 1316.44,71.45 1317.49,70.88 1318.55,70.33 1319.6,69.8 1320.65,69.3 1321.71,68.83 1322.76,68.37 1323.81,67.94 1324.87,67.53 1325.92,67.15 1326.98,66.78 1328.03,66.44 1329.08,66.12 1330.14,65.81 1331.19,65.53 1332.24,65.26 1333.3,65.01 1334.35,64.78 1335.41,64.57 1336.46,64.38 1337.51,64.2 1338.57,64.03 1339.62,63.89 1340.67,63.75 1341.73,63.64 1342.78,63.53 1343.84,63.44 1344.89,63.36 1345.94,63.3 1347,63.24 1348.05,63.2 1349.1,63.17 1350.16,63.15 1351.21,63.13 1352.27,63.13 1353.32,63.14 1354.37,63.15 1355.43,63.18 1356.48,63.21 1357.53,63.25 1358.59,63.29 1359.64,63.35 1360.7,63.41 1361.75,63.47 1362.8,63.55 1363.86,63.63 1364.91,63.72 1365.96,63.81 1367.02,63.92 1368.07,64.02 1369.13,64.14 1370.18,64.26 1371.23,64.39 1372.29,64.52 1373.34,64.66 1374.39,64.81 1375.45,64.96 1376.5,65.11 1377.56,65.28 1378.61,65.45 1379.66,65.62 1380.72,65.8 1381.77,65.98 1382.82,66.17 1383.88,66.37 1384.93,66.57 1385.99,66.78 1387.04,66.99 1388.09,67.2 1389.15,67.42 1390.2,67.64 1391.25,67.87 1392.31,68.1 1393.36,68.34 1394.42,68.58 1395.47,68.83 1396.52,69.08 1397.58,69.33 1398.63,69.59 1399.68,69.85 1400.74,70.11 1401.79,70.38 1402.85,70.65 1403.9,70.93 1404.95,71.2 1406.01,71.48 1407.06,71.77 1408.11,72.05 1409.17,72.34 1410.22,72.64 1411.28,72.93 1412.33,73.23 1413.38,73.53 1414.44,73.83 1415.49,74.14 1416.54,74.44 1417.6,74.75 1418.65,75.06 1419.71,75.38 1420.76,75.69 1421.81,76.01 1422.87,76.32 1423.92,76.64 1424.97,76.97 1426.03,77.29 1427.08,77.61 1428.14,77.94 1429.19,78.26 1430.24,78.59 1431.3,78.91 1432.35,79.24 1433.4,79.57 1434.46,79.9 1435.51,80.23 1436.57,80.56 1437.62,80.89 1438.67,81.22 1439.73,81.55 1440.78,81.88 1441.83,82.21 1442.89,82.54 1443.94,82.87 1445,83.2 1446.05,83.53 1447.1,83.86 1448.16,84.19 1449.21,84.52 1450.26,84.84 1451.32,85.17 1452.37,85.49 1453.43,85.82 1454.48,86.14 1455.53,86.46 1456.59,86.78 1457.64,87.09 1458.69,87.41 1459.75,87.72 1460.8,88.04 1461.86,88.35 1462.91,88.66 1463.96,88.96 1465.02,89.27 1466.07,89.57 1467.12,89.87 1468.18,90.16 1469.23,90.46 1470.29,90.75 1471.34,91.04 1472.39,91.33 1473.45,91.61 1474.5,91.89" fill="none" stroke="#D11A20" stroke-width="2.4" stroke-linejoin="round" />
<use href="#mp" x="884.4" y="107.47"/><use href="#mp" x="886.09" y="107.23"/><use href="#mp" x="887.77" y="106.97"/><use href="#mp" x="889.46" y="106.71"/><use href="#mp" x="891.14" y="106.44"/><use href="#mp" x="892.83" y="106.16"/><use href="#mp" x="894.52" y="105.87"/><use href="#mp" x="896.2" y="105.57"/><use href="#mp" x="897.89" y="105.26"/><use href="#mp" x="899.57" y="104.95"/><use href="#mp" x="901.26" y="104.63"/><use href="#mp" x="902.95" y="104.3"/><use href="#mp" x="904.63" y="103.96"/><use href="#mp" x="906.32" y="103.61"/><use href="#mp" x="908" y="103.26"/><use href="#mp" x="909.69" y="102.9"/><use href="#mp" x="911.38" y="102.53"/><use href="#mp" x="913.06" y="102.15"/><use href="#mp" x="914.75" y="101.77"/><use href="#mp" x="916.43" y="101.38"/><use href="#mp" x="918.12" y="100.98"/><use href="#mp" x="919.81" y="100.58"/><use href="#mp" x="921.49" y="100.17"/><use href="#mp" x="923.18" y="99.76"/><use href="#mp" x="924.86" y="99.34"/><use href="#mp" x="926.55" y="98.91"/><use href="#mp" x="928.24" y="98.48"/><use href="#mp" x="929.92" y="98.04"/><use href="#mp" x="931.61" y="97.6"/><use href="#mp" x="933.29" y="97.15"/><use href="#mp" x="934.98" y="96.7"/><use href="#mp" x="936.67" y="96.24"/><use href="#mp" x="938.35" y="95.77"/><use href="#mp" x="940.04" y="95.31"/><use href="#mp" x="941.72" y="94.83"/><use href="#mp" x="943.41" y="94.36"/><use href="#mp" x="945.1" y="93.88"/><use href="#mp" x="946.78" y="93.39"/><use href="#mp" x="948.47" y="92.91"/><use href="#mp" x="950.15" y="92.41"/><use href="#mp" x="951.84" y="91.92"/><use href="#mp" x="953.53" y="91.42"/><use href="#mp" x="955.21" y="90.92"/><use href="#mp" x="956.9" y="90.41"/><use href="#mp" x="958.58" y="89.91"/><use href="#mp" x="960.27" y="89.4"/><use href="#mp" x="961.96" y="88.88"/><use href="#mp" x="963.64" y="88.37"/><use href="#mp" x="965.33" y="87.85"/><use href="#mp" x="967.01" y="87.33"/><use href="#mp" x="968.7" y="86.81"/><use href="#mp" x="970.39" y="86.29"/><use href="#mp" x="972.07" y="85.76"/><use href="#mp" x="973.76" y="85.24"/><use href="#mp" x="975.44" y="84.71"/><use href="#mp" x="977.13" y="84.18"/><use href="#mp" x="978.82" y="83.65"/><use href="#mp" x="980.5" y="83.12"/><use href="#mp" x="982.19" y="82.59"/><use href="#mp" x="983.87" y="82.06"/><use href="#mp" x="985.56" y="81.53"/><use href="#mp" x="987.25" y="81"/><use href="#mp" x="988.93" y="80.46"/><use href="#mp" x="990.62" y="79.93"/><use href="#mp" x="992.3" y="79.4"/><use href="#mp" x="993.99" y="78.87"/><use href="#mp" x="995.68" y="78.34"/><use href="#mp" x="997.36" y="77.81"/><use href="#mp" x="999.05" y="77.28"/><use href="#mp" x="1000.73" y="76.75"/><use href="#mp" x="1002.42" y="76.23"/><use href="#mp" x="1004.11" y="75.7"/><use href="#mp" x="1005.79" y="75.18"/><use href="#mp" x="1007.48" y="74.66"/><use href="#mp" x="1009.16" y="74.14"/><use href="#mp" x="1010.85" y="73.62"/><use href="#mp" x="1012.54" y="73.1"/><use href="#mp" x="1014.22" y="72.59"/><use href="#mp" x="1015.91" y="72.08"/><use href="#mp" x="1017.59" y="71.57"/><use href="#mp" x="1019.28" y="71.06"/><use href="#mp" x="1020.97" y="70.56"/><use href="#mp" x="1022.65" y="70.06"/><use href="#mp" x="1024.34" y="69.57"/><use href="#mp" x="1026.02" y="69.07"/><use href="#mp" x="1027.71" y="68.58"/><use href="#mp" x="1029.4" y="68.1"/><use href="#mp" x="1031.08" y="67.62"/><use href="#mp" x="1032.77" y="67.14"/><use href="#mp" x="1034.45" y="66.67"/><use href="#mp" x="1036.14" y="66.2"/><use href="#mp" x="1037.83" y="65.73"/><use href="#mp" x="1039.51" y="65.27"/><use href="#mp" x="1041.2" y="64.82"/><use href="#mp" x="1042.88" y="64.37"/><use href="#mp" x="1044.57" y="63.92"/><use href="#mp" x="1046.26" y="63.48"/><use href="#mp" x="1047.94" y="63.05"/><use href="#mp" x="1049.63" y="62.62"/><use href="#mp" x="1051.31" y="62.2"/><use href="#mp" x="1053" y="61.78"/><use href="#mp" x="1054.69" y="61.37"/><use href="#mp" x="1056.37" y="60.97"/><use href="#mp" x="1058.06" y="60.57"/><use href="#mp" x="1059.74" y="60.18"/><use href="#mp" x="1061.43" y="59.79"/><use href="#mp" x="1063.12" y="59.41"/><use href="#mp" x="1064.8" y="59.04"/><use href="#mp" x="1066.49" y="58.68"/><use href="#mp" x="1068.17" y="58.32"/><use href="#mp" x="1069.86" y="57.97"/><use href="#mp" x="1071.55" y="57.63"/><use href="#mp" x="1073.23" y="57.3"/><use href="#mp" x="1074.92" y="56.97"/><use href="#mp" x="1076.6" y="56.65"/><use href="#mp" x="1078.29" y="56.35"/><use href="#mp" x="1079.98" y="56.05"/><use href="#mp" x="1081.66" y="55.75"/><use href="#mp" x="1083.35" y="55.47"/><use href="#mp" x="1085.03" y="55.2"/><use href="#mp" x="1086.72" y="54.93"/><use href="#mp" x="1088.41" y="54.67"/><use href="#mp" x="1090.09" y="54.43"/><use href="#mp" x="1091.78" y="54.19"/><use href="#mp" x="1093.46" y="53.96"/><use href="#mp" x="1095.15" y="53.74"/><use href="#mp" x="1096.84" y="53.54"/><use href="#mp" x="1098.52" y="53.34"/><use href="#mp" x="1100.21" y="53.15"/><use href="#mp" x="1101.89" y="52.97"/><use href="#mp" x="1103.58" y="52.81"/><use href="#mp" x="1105.27" y="52.65"/><use href="#mp" x="1106.95" y="52.51"/><use href="#mp" x="1108.64" y="52.37"/><use href="#mp" x="1110.32" y="52.25"/><use href="#mp" x="1112.01" y="52.14"/><use href="#mp" x="1113.7" y="52.04"/><use href="#mp" x="1115.38" y="51.96"/><use href="#mp" x="1117.07" y="51.88"/><use href="#mp" x="1118.75" y="51.82"/><use href="#mp" x="1120.44" y="51.76"/><use href="#mp" x="1122.13" y="51.73"/><use href="#mp" x="1123.81" y="51.7"/><use href="#mp" x="1125.5" y="51.69"/><use href="#mp" x="1127.18" y="51.68"/><use href="#mp" x="1128.87" y="51.7"/><use href="#mp" x="1130.56" y="51.72"/><use href="#mp" x="1132.24" y="51.76"/><use href="#mp" x="1133.93" y="51.81"/><use href="#mp" x="1135.61" y="51.88"/><use href="#mp" x="1137.3" y="51.96"/><use href="#mp" x="1138.99" y="52.05"/><use href="#mp" x="1140.67" y="52.16"/><use href="#mp" x="1142.36" y="52.28"/><use href="#mp" x="1144.04" y="52.41"/><use href="#mp" x="1145.73" y="52.56"/><use href="#mp" x="1147.42" y="52.73"/><use href="#mp" x="1149.1" y="52.91"/><use href="#mp" x="1150.79" y="53.1"/><use href="#mp" x="1152.47" y="53.31"/><use href="#mp" x="1154.16" y="53.54"/><use href="#mp" x="1155.85" y="53.78"/><use href="#mp" x="1157.53" y="54.04"/><use href="#mp" x="1159.22" y="54.31"/><use href="#mp" x="1160.9" y="54.6"/><use href="#mp" x="1162.59" y="54.9"/><use href="#mp" x="1164.28" y="55.22"/><use href="#mp" x="1165.96" y="55.57"/><use href="#mp" x="1167.65" y="55.93"/><use href="#mp" x="1169.33" y="56.31"/><use href="#mp" x="1171.02" y="56.72"/><use href="#mp" x="1172.71" y="57.14"/><use href="#mp" x="1174.39" y="57.6"/><use href="#mp" x="1176.08" y="58.08"/><use href="#mp" x="1177.76" y="58.59"/><use href="#mp" x="1179.45" y="59.13"/><use href="#mp" x="1181.14" y="59.69"/><use href="#mp" x="1182.82" y="60.29"/><use href="#mp" x="1184.51" y="60.93"/><use href="#mp" x="1186.19" y="61.59"/><use href="#mp" x="1187.88" y="62.29"/><use href="#mp" x="1189.57" y="63.03"/><use href="#mp" x="1191.25" y="63.81"/><use href="#mp" x="1192.94" y="64.62"/><use href="#mp" x="1194.62" y="65.48"/><use href="#mp" x="1196.31" y="66.37"/><use href="#mp" x="1198" y="67.31"/><use href="#mp" x="1199.68" y="68.3"/><use href="#mp" x="1201.37" y="69.33"/><use href="#mp" x="1203.05" y="70.4"/><use href="#mp" x="1204.74" y="71.53"/><use href="#mp" x="1206.43" y="72.7"/><use href="#mp" x="1208.11" y="73.92"/><use href="#mp" x="1209.8" y="75.2"/><use href="#mp" x="1211.48" y="76.52"/><use href="#mp" x="1213.17" y="77.9"/><use href="#mp" x="1214.86" y="79.34"/><use href="#mp" x="1216.54" y="80.83"/><use href="#mp" x="1218.23" y="82.38"/><use href="#mp" x="1219.91" y="83.96"/><use href="#mp" x="1221.6" y="85.58"/><use href="#mp" x="1223.29" y="87.23"/><use href="#mp" x="1224.97" y="88.89"/><use href="#mp" x="1226.66" y="90.57"/><use href="#mp" x="1228.34" y="92.25"/><use href="#mp" x="1230.03" y="93.93"/><use href="#mp" x="1231.72" y="95.6"/><use href="#mp" x="1233.4" y="97.24"/><use href="#mp" x="1235.09" y="98.86"/><use href="#mp" x="1236.77" y="100.45"/><use href="#mp" x="1238.46" y="101.99"/><use href="#mp" x="1240.15" y="103.48"/><use href="#mp" x="1241.83" y="104.92"/><use href="#mp" x="1243.52" y="106.29"/><use href="#mp" x="1245.2" y="107.58"/><use href="#mp" x="1246.89" y="108.8"/><use href="#mp" x="1248.58" y="109.92"/><use href="#mp" x="1250.26" y="110.95"/><use href="#mp" x="1251.95" y="111.88"/><use href="#mp" x="1253.63" y="112.69"/><use href="#mp" x="1255.32" y="113.39"/><use href="#mp" x="1257.01" y="113.95"/><use href="#mp" x="1258.69" y="114.39"/><use href="#mp" x="1260.38" y="114.68"/><use href="#mp" x="1262.06" y="114.82"/><use href="#mp" x="1263.75" y="114.8"/><use href="#mp" x="1265.44" y="114.61"/><use href="#mp" x="1267.12" y="114.26"/><use href="#mp" x="1268.81" y="113.75"/><use href="#mp" x="1270.49" y="113.07"/><use href="#mp" x="1272.18" y="112.24"/><use href="#mp" x="1273.87" y="111.26"/><use href="#mp" x="1275.55" y="110.14"/><use href="#mp" x="1277.24" y="108.88"/><use href="#mp" x="1278.92" y="107.48"/><use href="#mp" x="1280.61" y="105.96"/><use href="#mp" x="1282.3" y="104.31"/><use href="#mp" x="1283.98" y="102.54"/><use href="#mp" x="1285.67" y="100.65"/><use href="#mp" x="1287.35" y="98.68"/><use href="#mp" x="1289.04" y="96.63"/><use href="#mp" x="1290.73" y="94.57"/><use href="#mp" x="1292.41" y="92.51"/><use href="#mp" x="1294.1" y="90.49"/><use href="#mp" x="1295.78" y="88.54"/><use href="#mp" x="1297.47" y="86.68"/><use href="#mp" x="1299.16" y="84.92"/><use href="#mp" x="1300.84" y="83.24"/><use href="#mp" x="1302.53" y="81.64"/><use href="#mp" x="1304.21" y="80.13"/><use href="#mp" x="1305.9" y="78.7"/><use href="#mp" x="1307.59" y="77.35"/><use href="#mp" x="1309.27" y="76.07"/><use href="#mp" x="1310.96" y="74.87"/><use href="#mp" x="1312.64" y="73.74"/><use href="#mp" x="1314.33" y="72.68"/><use href="#mp" x="1316.02" y="71.69"/><use href="#mp" x="1317.7" y="70.77"/><use href="#mp" x="1319.39" y="69.91"/><use href="#mp" x="1321.07" y="69.11"/><use href="#mp" x="1322.76" y="68.37"/><use href="#mp" x="1324.45" y="67.7"/><use href="#mp" x="1326.13" y="67.07"/><use href="#mp" x="1327.82" y="66.51"/><use href="#mp" x="1329.5" y="65.99"/><use href="#mp" x="1331.19" y="65.53"/><use href="#mp" x="1332.88" y="65.11"/><use href="#mp" x="1334.56" y="64.74"/><use href="#mp" x="1336.25" y="64.41"/><use href="#mp" x="1337.93" y="64.13"/><use href="#mp" x="1339.62" y="63.89"/><use href="#mp" x="1341.31" y="63.68"/><use href="#mp" x="1342.99" y="63.51"/><use href="#mp" x="1344.68" y="63.38"/><use href="#mp" x="1346.36" y="63.27"/><use href="#mp" x="1348.05" y="63.2"/><use href="#mp" x="1349.74" y="63.15"/><use href="#mp" x="1351.42" y="63.13"/><use href="#mp" x="1353.11" y="63.14"/><use href="#mp" x="1354.79" y="63.16"/><use href="#mp" x="1356.48" y="63.21"/><use href="#mp" x="1358.17" y="63.27"/><use href="#mp" x="1359.85" y="63.36"/><use href="#mp" x="1361.54" y="63.46"/><use href="#mp" x="1363.22" y="63.58"/><use href="#mp" x="1364.91" y="63.72"/><use href="#mp" x="1366.6" y="63.87"/><use href="#mp" x="1368.28" y="64.05"/><use href="#mp" x="1369.97" y="64.23"/><use href="#mp" x="1371.65" y="64.44"/><use href="#mp" x="1373.34" y="64.66"/><use href="#mp" x="1375.03" y="64.9"/><use href="#mp" x="1376.71" y="65.15"/><use href="#mp" x="1378.4" y="65.41"/><use href="#mp" x="1380.08" y="65.69"/><use href="#mp" x="1381.77" y="65.98"/><use href="#mp" x="1383.46" y="66.29"/><use href="#mp" x="1385.14" y="66.61"/><use href="#mp" x="1386.83" y="66.94"/><use href="#mp" x="1388.51" y="67.29"/><use href="#mp" x="1390.2" y="67.64"/><use href="#mp" x="1391.89" y="68.01"/><use href="#mp" x="1393.57" y="68.39"/><use href="#mp" x="1395.26" y="68.78"/><use href="#mp" x="1396.94" y="69.18"/><use href="#mp" x="1398.63" y="69.59"/><use href="#mp" x="1400.32" y="70.01"/><use href="#mp" x="1402" y="70.43"/><use href="#mp" x="1403.69" y="70.87"/><use href="#mp" x="1405.37" y="71.31"/><use href="#mp" x="1407.06" y="71.77"/><use href="#mp" x="1408.75" y="72.23"/><use href="#mp" x="1410.43" y="72.7"/><use href="#mp" x="1412.12" y="73.17"/><use href="#mp" x="1413.8" y="73.65"/><use href="#mp" x="1415.49" y="74.14"/><use href="#mp" x="1417.18" y="74.63"/><use href="#mp" x="1418.86" y="75.13"/><use href="#mp" x="1420.55" y="75.63"/><use href="#mp" x="1422.23" y="76.13"/><use href="#mp" x="1423.92" y="76.64"/><use href="#mp" x="1425.61" y="77.16"/><use href="#mp" x="1427.29" y="77.68"/><use href="#mp" x="1428.98" y="78.2"/><use href="#mp" x="1430.66" y="78.72"/><use href="#mp" x="1432.35" y="79.24"/><use href="#mp" x="1434.04" y="79.77"/><use href="#mp" x="1435.72" y="80.3"/><use href="#mp" x="1437.41" y="80.83"/><use href="#mp" x="1439.09" y="81.35"/><use href="#mp" x="1440.78" y="81.88"/><use href="#mp" x="1442.47" y="82.41"/><use href="#mp" x="1444.15" y="82.94"/><use href="#mp" x="1445.84" y="83.47"/><use href="#mp" x="1447.52" y="83.99"/><use href="#mp" x="1449.21" y="84.52"/><use href="#mp" x="1450.9" y="85.04"/><use href="#mp" x="1452.58" y="85.56"/><use href="#mp" x="1454.27" y="86.07"/><use href="#mp" x="1455.95" y="86.59"/><use href="#mp" x="1457.64" y="87.09"/><use href="#mp" x="1459.33" y="87.6"/><use href="#mp" x="1461.01" y="88.1"/><use href="#mp" x="1462.7" y="88.59"/><use href="#mp" x="1464.38" y="89.08"/><use href="#mp" x="1466.07" y="89.57"/><use href="#mp" x="1467.76" y="90.05"/><use href="#mp" x="1469.44" y="90.52"/><use href="#mp" x="1471.13" y="90.98"/><use href="#mp" x="1472.81" y="91.44"/><use href="#mp" x="1474.5" y="91.89"/>
<polyline points="884.4,111.62 885.45,111.51 886.51,111.39 887.56,111.27 888.62,111.15 889.67,111.02 890.72,110.89 891.78,110.75 892.83,110.62 893.88,110.47 894.94,110.33 895.99,110.18 897.05,110.03 898.1,109.87 899.15,109.72 900.21,109.55 901.26,109.39 902.31,109.22 903.37,109.05 904.42,108.88 905.48,108.7 906.53,108.52 907.58,108.33 908.64,108.15 909.69,107.96 910.74,107.77 911.8,107.57 912.85,107.38 913.91,107.17 914.96,106.97 916.01,106.77 917.07,106.56 918.12,106.35 919.17,106.13 920.23,105.92 921.28,105.7 922.34,105.48 923.39,105.26 924.44,105.03 925.5,104.81 926.55,104.58 927.6,104.34 928.66,104.11 929.71,103.87 930.77,103.64 931.82,103.39 932.87,103.15 933.93,102.91 934.98,102.66 936.03,102.41 937.09,102.16 938.14,101.91 939.2,101.66 940.25,101.4 941.3,101.15 942.36,100.89 943.41,100.63 944.46,100.37 945.52,100.1 946.57,99.84 947.63,99.57 948.68,99.3 949.73,99.04 950.79,98.76 951.84,98.49 952.89,98.22 953.95,97.95 955,97.67 956.06,97.39 957.11,97.12 958.16,96.84 959.22,96.56 960.27,96.28 961.32,96 962.38,95.71 963.43,95.43 964.49,95.15 965.54,94.86 966.59,94.58 967.65,94.29 968.7,94 969.75,93.72 970.81,93.43 971.86,93.14 972.92,92.85 973.97,92.56 975.02,92.27 976.08,91.98 977.13,91.69 978.18,91.4 979.24,91.11 980.29,90.82 981.35,90.52 982.4,90.23 983.45,89.94 984.51,89.65 985.56,89.36 986.61,89.06 987.67,88.77 988.72,88.48 989.78,88.19 990.83,87.9 991.88,87.6 992.94,87.31 993.99,87.02 995.04,86.73 996.1,86.44 997.15,86.15 998.21,85.86 999.26,85.57 1000.31,85.29 1001.37,85 1002.42,84.71 1003.47,84.42 1004.53,84.14 1005.58,83.85 1006.64,83.57 1007.69,83.29 1008.74,83 1009.8,82.72 1010.85,82.44 1011.9,82.16 1012.96,81.88 1014.01,81.6 1015.07,81.33 1016.12,81.05 1017.17,80.78 1018.23,80.5 1019.28,80.23 1020.33,79.96 1021.39,79.69 1022.44,79.42 1023.5,79.16 1024.55,78.89 1025.6,78.63 1026.66,78.37 1027.71,78.11 1028.76,77.85 1029.82,77.59 1030.87,77.33 1031.93,77.08 1032.98,76.83 1034.03,76.58 1035.09,76.33 1036.14,76.08 1037.19,75.84 1038.25,75.59 1039.3,75.35 1040.36,75.11 1041.41,74.88 1042.46,74.64 1043.52,74.41 1044.57,74.18 1045.62,73.95 1046.68,73.73 1047.73,73.5 1048.79,73.28 1049.84,73.06 1050.89,72.85 1051.95,72.63 1053,72.42 1054.05,72.21 1055.11,72.01 1056.16,71.8 1057.22,71.6 1058.27,71.4 1059.32,71.21 1060.38,71.02 1061.43,70.83 1062.48,70.64 1063.54,70.46 1064.59,70.27 1065.65,70.1 1066.7,69.92 1067.75,69.75 1068.81,69.58 1069.86,69.41 1070.91,69.25 1071.97,69.09 1073.02,68.94 1074.08,68.78 1075.13,68.63 1076.18,68.49 1077.24,68.35 1078.29,68.21 1079.34,68.07 1080.4,67.94 1081.45,67.81 1082.51,67.69 1083.56,67.56 1084.61,67.45 1085.67,67.33 1086.72,67.22 1087.77,67.12 1088.83,67.01 1089.88,66.92 1090.94,66.82 1091.99,66.73 1093.04,66.64 1094.1,66.56 1095.15,66.48 1096.2,66.41 1097.26,66.34 1098.31,66.27 1099.37,66.21 1100.42,66.15 1101.47,66.1 1102.53,66.05 1103.58,66.01 1104.63,65.97 1105.69,65.94 1106.74,65.91 1107.8,65.89 1108.85,65.87 1109.9,65.86 1110.96,65.86 1112.01,65.87 1113.06,65.89 1114.12,65.91 1115.17,65.94 1116.23,65.99 1117.28,66.04 1118.33,66.1 1119.39,66.17 1120.44,66.25 1121.49,66.35 1122.55,66.45 1123.6,66.57 1124.66,66.7 1125.71,66.84 1126.76,66.99 1127.82,67.16 1128.87,67.34 1129.92,67.54 1130.98,67.75 1132.03,67.97 1133.09,68.21 1134.14,68.47 1135.19,68.74 1136.25,69.02 1137.3,69.33 1138.35,69.65 1139.41,69.99 1140.46,70.34 1141.52,70.72 1142.57,71.11 1143.62,71.52 1144.68,71.95 1145.73,72.4 1146.78,72.87 1147.84,73.36 1148.89,73.87 1149.95,74.4 1151,74.96 1152.05,75.53 1153.11,76.13 1154.16,76.75 1155.21,77.39 1156.27,78.06 1157.32,78.75 1158.38,79.46 1159.43,80.2 1160.48,80.96 1161.54,81.75 1162.59,82.56 1163.64,83.4 1164.7,84.27 1165.75,85.16 1166.81,86.08 1167.86,87.03 1168.91,88 1169.97,89 1171.02,90.04 1172.07,91.1 1173.13,92.18 1174.18,93.3 1175.24,94.45 1176.29,95.63 1177.34,96.84 1178.4,98.08 1179.45,99.35 1180.5,100.66 1181.56,101.99 1182.61,103.36 1183.67,104.76 1184.72,106.2 1185.77,107.67 1186.83,109.17 1187.88,110.71 1188.93,112.28 1189.99,113.89 1191.04,115.53 1192.1,117.21 1193.15,118.92 1194.2,120.68 1195.26,122.46 1196.31,124.29 1197.36,126.15 1198.42,128.05 1199.47,130 1200.53,131.97 1201.58,133.99 1202.63,136.05 1203.69,138.15 1204.74,140.29 1205.79,142.47 1206.85,144.69 1207.9,146.95 1208.96,149.26 1210.01,151.61 1211.06,154 1212.12,156.43 1213.17,158.92 1214.22,161.44 1215.28,164.01 1216.33,166.63 1217.39,169.29 1218.44,172.01 1219.49,174.76 1220.55,177.57 1221.6,180.42 1222.65,183.33 1223.71,186.28 1224.76,189.28 1225.82,192.34 1226.87,195.44 1227.92,198.6 1228.98,201.81 1230.03,205.07 1231.08,208.38 1232.14,211.74 1233.19,215.16 1234.25,218.64 1235.3,222.17 1236.35,225.74 1237.41,229.34 1238.46,232.96 1239.51,236.57 1240.57,240.16 1241.62,243.71 1242.68,247.22 1243.73,250.65 1244.78,254 1245.84,257.24 1246.89,260.37 1247.94,263.39 1249,266.33 1250.05,269.21 1251.11,272.06 1252.16,274.9 1253.21,277.76 1254.27,280.66 1255.32,283.62 1256.37,286.58 1257.43,289.45 1258.48,292.17 1259.54,294.67 1260.59,296.86 1261.64,298.69 1262.7,300.15 1263.75,301.28 1264.8,302.08 1265.86,302.57 1266.91,302.77 1267.97,302.69 1269.02,302.36 1270.07,301.79 1271.13,300.99 1272.18,299.99 1273.23,298.8 1274.29,297.44 1275.34,295.91 1276.4,294.22 1277.45,292.37 1278.5,290.37 1279.56,288.23 1280.61,285.94 1281.66,283.51 1282.72,280.95 1283.77,278.27 1284.83,275.46 1285.88,272.53 1286.93,269.49 1287.99,266.34 1289.04,263.09 1290.09,259.74 1291.15,256.3 1292.2,252.74 1293.26,249.06 1294.31,245.22 1295.36,241.22 1296.42,237.02 1297.47,232.65 1298.52,228.2 1299.58,223.8 1300.63,219.56 1301.69,215.53 1302.74,211.7 1303.79,208.04 1304.85,204.55 1305.9,201.18 1306.95,197.93 1308.01,194.76 1309.06,191.67 1310.12,188.62 1311.17,185.63 1312.22,182.68 1313.28,179.78 1314.33,176.93 1315.38,174.12 1316.44,171.37 1317.49,168.66 1318.55,166 1319.6,163.39 1320.65,160.82 1321.71,158.31 1322.76,155.85 1323.81,153.43 1324.87,151.06 1325.92,148.75 1326.98,146.48 1328.03,144.26 1329.08,142.09 1330.14,139.97 1331.19,137.9 1332.24,135.88 1333.3,133.91 1334.35,131.99 1335.41,130.12 1336.46,128.31 1337.51,126.54 1338.57,124.82 1339.62,123.15 1340.67,121.54 1341.73,119.97 1342.78,118.46 1343.84,117 1344.89,115.59 1345.94,114.23 1347,112.92 1348.05,111.65 1349.1,110.43 1350.16,109.26 1351.21,108.14 1352.27,107.06 1353.32,106.02 1354.37,105.03 1355.43,104.08 1356.48,103.17 1357.53,102.3 1358.59,101.47 1359.64,100.68 1360.7,99.93 1361.75,99.22 1362.8,98.55 1363.86,97.91 1364.91,97.3 1365.96,96.73 1367.02,96.19 1368.07,95.69 1369.13,95.22 1370.18,94.78 1371.23,94.37 1372.29,93.99 1373.34,93.63 1374.39,93.31 1375.45,93.01 1376.5,92.74 1377.56,92.49 1378.61,92.27 1379.66,92.08 1380.72,91.9 1381.77,91.75 1382.82,91.62 1383.88,91.51 1384.93,91.42 1385.99,91.35 1387.04,91.3 1388.09,91.26 1389.15,91.24 1390.2,91.24 1391.25,91.25 1392.31,91.28 1393.36,91.32 1394.42,91.37 1395.47,91.44 1396.52,91.51 1397.58,91.6 1398.63,91.69 1399.68,91.79 1400.74,91.91 1401.79,92.02 1402.85,92.15 1403.9,92.28 1404.95,92.41 1406.01,92.55 1407.06,92.69 1408.11,92.83 1409.17,92.97 1410.22,93.12 1411.28,93.26 1412.33,93.4 1413.38,93.55 1414.44,93.69 1415.49,93.83 1416.54,93.97 1417.6,94.12 1418.65,94.26 1419.71,94.4 1420.76,94.54 1421.81,94.69 1422.87,94.83 1423.92,94.98 1424.97,95.12 1426.03,95.27 1427.08,95.41 1428.14,95.56 1429.19,95.71 1430.24,95.86 1431.3,96.01 1432.35,96.17 1433.4,96.32 1434.46,96.48 1435.51,96.63 1436.57,96.79 1437.62,96.95 1438.67,97.12 1439.73,97.28 1440.78,97.45 1441.83,97.62 1442.89,97.79 1443.94,97.96 1445,98.14 1446.05,98.32 1447.1,98.5 1448.16,98.69 1449.21,98.87 1450.26,99.06 1451.32,99.26 1452.37,99.45 1453.43,99.65 1454.48,99.86 1455.53,100.07 1456.59,100.28 1457.64,100.49 1458.69,100.71 1459.75,100.93 1460.8,101.15 1461.86,101.38 1462.91,101.62 1463.96,101.86 1465.02,102.1 1466.07,102.34 1467.12,102.6 1468.18,102.85 1469.23,103.11 1470.29,103.38 1471.34,103.65 1472.39,103.92 1473.45,104.2 1474.5,104.49" fill="none" stroke="#4B64A8" stroke-width="2.4" stroke-linejoin="round" />
<use href="#mb" x="884.4" y="111.62"/><use href="#mb" x="886.09" y="111.44"/><use href="#mb" x="887.77" y="111.25"/><use href="#mb" x="889.46" y="111.05"/><use href="#mb" x="891.14" y="110.84"/><use href="#mb" x="892.83" y="110.62"/><use href="#mb" x="894.52" y="110.39"/><use href="#mb" x="896.2" y="110.15"/><use href="#mb" x="897.89" y="109.91"/><use href="#mb" x="899.57" y="109.65"/><use href="#mb" x="901.26" y="109.39"/><use href="#mb" x="902.95" y="109.12"/><use href="#mb" x="904.63" y="108.84"/><use href="#mb" x="906.32" y="108.55"/><use href="#mb" x="908" y="108.26"/><use href="#mb" x="909.69" y="107.96"/><use href="#mb" x="911.38" y="107.65"/><use href="#mb" x="913.06" y="107.34"/><use href="#mb" x="914.75" y="107.01"/><use href="#mb" x="916.43" y="106.68"/><use href="#mb" x="918.12" y="106.35"/><use href="#mb" x="919.81" y="106.01"/><use href="#mb" x="921.49" y="105.66"/><use href="#mb" x="923.18" y="105.3"/><use href="#mb" x="924.86" y="104.94"/><use href="#mb" x="926.55" y="104.58"/><use href="#mb" x="928.24" y="104.2"/><use href="#mb" x="929.92" y="103.83"/><use href="#mb" x="931.61" y="103.44"/><use href="#mb" x="933.29" y="103.06"/><use href="#mb" x="934.98" y="102.66"/><use href="#mb" x="936.67" y="102.26"/><use href="#mb" x="938.35" y="101.86"/><use href="#mb" x="940.04" y="101.45"/><use href="#mb" x="941.72" y="101.04"/><use href="#mb" x="943.41" y="100.63"/><use href="#mb" x="945.1" y="100.21"/><use href="#mb" x="946.78" y="99.78"/><use href="#mb" x="948.47" y="99.36"/><use href="#mb" x="950.15" y="98.93"/><use href="#mb" x="951.84" y="98.49"/><use href="#mb" x="953.53" y="98.06"/><use href="#mb" x="955.21" y="97.62"/><use href="#mb" x="956.9" y="97.17"/><use href="#mb" x="958.58" y="96.73"/><use href="#mb" x="960.27" y="96.28"/><use href="#mb" x="961.96" y="95.83"/><use href="#mb" x="963.64" y="95.37"/><use href="#mb" x="965.33" y="94.92"/><use href="#mb" x="967.01" y="94.46"/><use href="#mb" x="968.7" y="94"/><use href="#mb" x="970.39" y="93.54"/><use href="#mb" x="972.07" y="93.08"/><use href="#mb" x="973.76" y="92.62"/><use href="#mb" x="975.44" y="92.15"/><use href="#mb" x="977.13" y="91.69"/><use href="#mb" x="978.82" y="91.22"/><use href="#mb" x="980.5" y="90.76"/><use href="#mb" x="982.19" y="90.29"/><use href="#mb" x="983.87" y="89.82"/><use href="#mb" x="985.56" y="89.36"/><use href="#mb" x="987.25" y="88.89"/><use href="#mb" x="988.93" y="88.42"/><use href="#mb" x="990.62" y="87.95"/><use href="#mb" x="992.3" y="87.49"/><use href="#mb" x="993.99" y="87.02"/><use href="#mb" x="995.68" y="86.56"/><use href="#mb" x="997.36" y="86.09"/><use href="#mb" x="999.05" y="85.63"/><use href="#mb" x="1000.73" y="85.17"/><use href="#mb" x="1002.42" y="84.71"/><use href="#mb" x="1004.11" y="84.25"/><use href="#mb" x="1005.79" y="83.8"/><use href="#mb" x="1007.48" y="83.34"/><use href="#mb" x="1009.16" y="82.89"/><use href="#mb" x="1010.85" y="82.44"/><use href="#mb" x="1012.54" y="81.99"/><use href="#mb" x="1014.22" y="81.55"/><use href="#mb" x="1015.91" y="81.11"/><use href="#mb" x="1017.59" y="80.67"/><use href="#mb" x="1019.28" y="80.23"/><use href="#mb" x="1020.97" y="79.8"/><use href="#mb" x="1022.65" y="79.37"/><use href="#mb" x="1024.34" y="78.95"/><use href="#mb" x="1026.02" y="78.52"/><use href="#mb" x="1027.71" y="78.11"/><use href="#mb" x="1029.4" y="77.69"/><use href="#mb" x="1031.08" y="77.28"/><use href="#mb" x="1032.77" y="76.88"/><use href="#mb" x="1034.45" y="76.48"/><use href="#mb" x="1036.14" y="76.08"/><use href="#mb" x="1037.83" y="75.69"/><use href="#mb" x="1039.51" y="75.31"/><use href="#mb" x="1041.2" y="74.93"/><use href="#mb" x="1042.88" y="74.55"/><use href="#mb" x="1044.57" y="74.18"/><use href="#mb" x="1046.26" y="73.82"/><use href="#mb" x="1047.94" y="73.46"/><use href="#mb" x="1049.63" y="73.11"/><use href="#mb" x="1051.31" y="72.76"/><use href="#mb" x="1053" y="72.42"/><use href="#mb" x="1054.69" y="72.09"/><use href="#mb" x="1056.37" y="71.76"/><use href="#mb" x="1058.06" y="71.44"/><use href="#mb" x="1059.74" y="71.13"/><use href="#mb" x="1061.43" y="70.83"/><use href="#mb" x="1063.12" y="70.53"/><use href="#mb" x="1064.8" y="70.24"/><use href="#mb" x="1066.49" y="69.96"/><use href="#mb" x="1068.17" y="69.68"/><use href="#mb" x="1069.86" y="69.41"/><use href="#mb" x="1071.55" y="69.16"/><use href="#mb" x="1073.23" y="68.91"/><use href="#mb" x="1074.92" y="68.66"/><use href="#mb" x="1076.6" y="68.43"/><use href="#mb" x="1078.29" y="68.21"/><use href="#mb" x="1079.98" y="67.99"/><use href="#mb" x="1081.66" y="67.78"/><use href="#mb" x="1083.35" y="67.59"/><use href="#mb" x="1085.03" y="67.4"/><use href="#mb" x="1086.72" y="67.22"/><use href="#mb" x="1088.41" y="67.05"/><use href="#mb" x="1090.09" y="66.9"/><use href="#mb" x="1091.78" y="66.75"/><use href="#mb" x="1093.46" y="66.61"/><use href="#mb" x="1095.15" y="66.48"/><use href="#mb" x="1096.84" y="66.37"/><use href="#mb" x="1098.52" y="66.26"/><use href="#mb" x="1100.21" y="66.16"/><use href="#mb" x="1101.89" y="66.08"/><use href="#mb" x="1103.58" y="66.01"/><use href="#mb" x="1105.27" y="65.95"/><use href="#mb" x="1106.95" y="65.9"/><use href="#mb" x="1108.64" y="65.87"/><use href="#mb" x="1110.32" y="65.86"/><use href="#mb" x="1112.01" y="65.87"/><use href="#mb" x="1113.7" y="65.9"/><use href="#mb" x="1115.38" y="65.95"/><use href="#mb" x="1117.07" y="66.03"/><use href="#mb" x="1118.75" y="66.13"/><use href="#mb" x="1120.44" y="66.25"/><use href="#mb" x="1122.13" y="66.41"/><use href="#mb" x="1123.81" y="66.59"/><use href="#mb" x="1125.5" y="66.81"/><use href="#mb" x="1127.18" y="67.06"/><use href="#mb" x="1128.87" y="67.34"/><use href="#mb" x="1130.56" y="67.66"/><use href="#mb" x="1132.24" y="68.02"/><use href="#mb" x="1133.93" y="68.41"/><use href="#mb" x="1135.61" y="68.85"/><use href="#mb" x="1137.3" y="69.33"/><use href="#mb" x="1138.99" y="69.85"/><use href="#mb" x="1140.67" y="70.41"/><use href="#mb" x="1142.36" y="71.03"/><use href="#mb" x="1144.04" y="71.69"/><use href="#mb" x="1145.73" y="72.4"/><use href="#mb" x="1147.42" y="73.16"/><use href="#mb" x="1149.1" y="73.97"/><use href="#mb" x="1150.79" y="74.84"/><use href="#mb" x="1152.47" y="75.77"/><use href="#mb" x="1154.16" y="76.75"/><use href="#mb" x="1155.85" y="77.79"/><use href="#mb" x="1157.53" y="78.89"/><use href="#mb" x="1159.22" y="80.05"/><use href="#mb" x="1160.9" y="81.27"/><use href="#mb" x="1162.59" y="82.56"/><use href="#mb" x="1164.28" y="83.92"/><use href="#mb" x="1165.96" y="85.34"/><use href="#mb" x="1167.65" y="86.84"/><use href="#mb" x="1169.33" y="88.4"/><use href="#mb" x="1171.02" y="90.04"/><use href="#mb" x="1172.71" y="91.75"/><use href="#mb" x="1174.39" y="93.53"/><use href="#mb" x="1176.08" y="95.39"/><use href="#mb" x="1177.76" y="97.33"/><use href="#mb" x="1179.45" y="99.35"/><use href="#mb" x="1181.14" y="101.46"/><use href="#mb" x="1182.82" y="103.64"/><use href="#mb" x="1184.51" y="105.91"/><use href="#mb" x="1186.19" y="108.27"/><use href="#mb" x="1187.88" y="110.71"/><use href="#mb" x="1189.57" y="113.24"/><use href="#mb" x="1191.25" y="115.86"/><use href="#mb" x="1192.94" y="118.58"/><use href="#mb" x="1194.62" y="121.39"/><use href="#mb" x="1196.31" y="124.29"/><use href="#mb" x="1198" y="127.29"/><use href="#mb" x="1199.68" y="130.39"/><use href="#mb" x="1201.37" y="133.59"/><use href="#mb" x="1203.05" y="136.88"/><use href="#mb" x="1204.74" y="140.29"/><use href="#mb" x="1206.43" y="143.79"/><use href="#mb" x="1208.11" y="147.41"/><use href="#mb" x="1209.8" y="151.13"/><use href="#mb" x="1211.48" y="154.97"/><use href="#mb" x="1213.17" y="158.92"/><use href="#mb" x="1214.86" y="162.98"/><use href="#mb" x="1216.54" y="167.16"/><use href="#mb" x="1218.23" y="171.46"/><use href="#mb" x="1219.91" y="175.88"/><use href="#mb" x="1221.6" y="180.42"/><use href="#mb" x="1223.29" y="185.09"/><use href="#mb" x="1224.97" y="189.89"/><use href="#mb" x="1226.66" y="194.82"/><use href="#mb" x="1228.34" y="199.87"/><use href="#mb" x="1230.03" y="205.07"/><use href="#mb" x="1231.72" y="210.39"/><use href="#mb" x="1233.4" y="215.85"/><use href="#mb" x="1235.09" y="221.46"/><use href="#mb" x="1236.77" y="227.18"/><use href="#mb" x="1238.46" y="232.96"/><use href="#mb" x="1240.15" y="238.73"/><use href="#mb" x="1241.83" y="244.42"/><use href="#mb" x="1243.52" y="249.97"/><use href="#mb" x="1245.2" y="255.31"/><use href="#mb" x="1246.89" y="260.37"/><use href="#mb" x="1248.58" y="265.17"/><use href="#mb" x="1250.26" y="269.78"/><use href="#mb" x="1251.95" y="274.33"/><use href="#mb" x="1253.63" y="278.92"/><use href="#mb" x="1255.32" y="283.62"/><use href="#mb" x="1257.01" y="288.32"/><use href="#mb" x="1258.69" y="292.69"/><use href="#mb" x="1260.38" y="296.45"/><use href="#mb" x="1262.06" y="299.32"/><use href="#mb" x="1263.75" y="301.28"/><use href="#mb" x="1265.44" y="302.41"/><use href="#mb" x="1267.12" y="302.78"/><use href="#mb" x="1268.81" y="302.45"/><use href="#mb" x="1270.49" y="301.5"/><use href="#mb" x="1272.18" y="299.99"/><use href="#mb" x="1273.87" y="298.01"/><use href="#mb" x="1275.55" y="295.59"/><use href="#mb" x="1277.24" y="292.75"/><use href="#mb" x="1278.92" y="289.53"/><use href="#mb" x="1280.61" y="285.94"/><use href="#mb" x="1282.3" y="281.99"/><use href="#mb" x="1283.98" y="277.72"/><use href="#mb" x="1285.67" y="273.13"/><use href="#mb" x="1287.35" y="268.25"/><use href="#mb" x="1289.04" y="263.09"/><use href="#mb" x="1290.73" y="257.69"/><use href="#mb" x="1292.41" y="252.02"/><use href="#mb" x="1294.1" y="246"/><use href="#mb" x="1295.78" y="239.56"/><use href="#mb" x="1297.47" y="232.65"/><use href="#mb" x="1299.16" y="225.55"/><use href="#mb" x="1300.84" y="218.73"/><use href="#mb" x="1302.53" y="212.45"/><use href="#mb" x="1304.21" y="206.63"/><use href="#mb" x="1305.9" y="201.18"/><use href="#mb" x="1307.59" y="196.02"/><use href="#mb" x="1309.27" y="191.06"/><use href="#mb" x="1310.96" y="186.22"/><use href="#mb" x="1312.64" y="181.51"/><use href="#mb" x="1314.33" y="176.93"/><use href="#mb" x="1316.02" y="172.46"/><use href="#mb" x="1317.7" y="168.12"/><use href="#mb" x="1319.39" y="163.91"/><use href="#mb" x="1321.07" y="159.81"/><use href="#mb" x="1322.76" y="155.85"/><use href="#mb" x="1324.45" y="152"/><use href="#mb" x="1326.13" y="148.29"/><use href="#mb" x="1327.82" y="144.7"/><use href="#mb" x="1329.5" y="141.24"/><use href="#mb" x="1331.19" y="137.9"/><use href="#mb" x="1332.88" y="134.69"/><use href="#mb" x="1334.56" y="131.61"/><use href="#mb" x="1336.25" y="128.66"/><use href="#mb" x="1337.93" y="125.84"/><use href="#mb" x="1339.62" y="123.15"/><use href="#mb" x="1341.31" y="120.59"/><use href="#mb" x="1342.99" y="118.17"/><use href="#mb" x="1344.68" y="115.87"/><use href="#mb" x="1346.36" y="113.7"/><use href="#mb" x="1348.05" y="111.65"/><use href="#mb" x="1349.74" y="109.73"/><use href="#mb" x="1351.42" y="107.92"/><use href="#mb" x="1353.11" y="106.23"/><use href="#mb" x="1354.79" y="104.64"/><use href="#mb" x="1356.48" y="103.17"/><use href="#mb" x="1358.17" y="101.8"/><use href="#mb" x="1359.85" y="100.53"/><use href="#mb" x="1361.54" y="99.36"/><use href="#mb" x="1363.22" y="98.29"/><use href="#mb" x="1364.91" y="97.3"/><use href="#mb" x="1366.6" y="96.4"/><use href="#mb" x="1368.28" y="95.59"/><use href="#mb" x="1369.97" y="94.86"/><use href="#mb" x="1371.65" y="94.21"/><use href="#mb" x="1373.34" y="93.63"/><use href="#mb" x="1375.03" y="93.13"/><use href="#mb" x="1376.71" y="92.69"/><use href="#mb" x="1378.4" y="92.32"/><use href="#mb" x="1380.08" y="92"/><use href="#mb" x="1381.77" y="91.75"/><use href="#mb" x="1383.46" y="91.55"/><use href="#mb" x="1385.14" y="91.41"/><use href="#mb" x="1386.83" y="91.31"/><use href="#mb" x="1388.51" y="91.25"/><use href="#mb" x="1390.2" y="91.24"/><use href="#mb" x="1391.89" y="91.27"/><use href="#mb" x="1393.57" y="91.33"/><use href="#mb" x="1395.26" y="91.42"/><use href="#mb" x="1396.94" y="91.54"/><use href="#mb" x="1398.63" y="91.69"/><use href="#mb" x="1400.32" y="91.86"/><use href="#mb" x="1402" y="92.05"/><use href="#mb" x="1403.69" y="92.25"/><use href="#mb" x="1405.37" y="92.46"/><use href="#mb" x="1407.06" y="92.69"/><use href="#mb" x="1408.75" y="92.92"/><use href="#mb" x="1410.43" y="93.15"/><use href="#mb" x="1412.12" y="93.37"/><use href="#mb" x="1413.8" y="93.6"/><use href="#mb" x="1415.49" y="93.83"/><use href="#mb" x="1417.18" y="94.06"/><use href="#mb" x="1418.86" y="94.29"/><use href="#mb" x="1420.55" y="94.52"/><use href="#mb" x="1422.23" y="94.75"/><use href="#mb" x="1423.92" y="94.98"/><use href="#mb" x="1425.61" y="95.21"/><use href="#mb" x="1427.29" y="95.44"/><use href="#mb" x="1428.98" y="95.68"/><use href="#mb" x="1430.66" y="95.92"/><use href="#mb" x="1432.35" y="96.17"/><use href="#mb" x="1434.04" y="96.41"/><use href="#mb" x="1435.72" y="96.67"/><use href="#mb" x="1437.41" y="96.92"/><use href="#mb" x="1439.09" y="97.18"/><use href="#mb" x="1440.78" y="97.45"/><use href="#mb" x="1442.47" y="97.72"/><use href="#mb" x="1444.15" y="98"/><use href="#mb" x="1445.84" y="98.28"/><use href="#mb" x="1447.52" y="98.58"/><use href="#mb" x="1449.21" y="98.87"/><use href="#mb" x="1450.9" y="99.18"/><use href="#mb" x="1452.58" y="99.49"/><use href="#mb" x="1454.27" y="99.82"/><use href="#mb" x="1455.95" y="100.15"/><use href="#mb" x="1457.64" y="100.49"/><use href="#mb" x="1459.33" y="100.84"/><use href="#mb" x="1461.01" y="101.2"/><use href="#mb" x="1462.7" y="101.57"/><use href="#mb" x="1464.38" y="101.95"/><use href="#mb" x="1466.07" y="102.34"/><use href="#mb" x="1467.76" y="102.75"/><use href="#mb" x="1469.44" y="103.16"/><use href="#mb" x="1471.13" y="103.59"/><use href="#mb" x="1472.81" y="104.03"/><use href="#mb" x="1474.5" y="104.49"/>
</g>
<rect x="884.4" y="14.1" width="590.1" height="315.5" fill="none" stroke="#000" stroke-width="2.6"/>
<path d="M884.4 329.6H874M884.4 298.05H878.8M884.4 266.5H874M884.4 234.95H878.8M884.4 203.4H874M884.4 171.85H878.8M884.4 140.3H874M884.4 108.75H878.8M884.4 77.2H874M884.4 45.65H878.8M884.4 14.1H874M884.4 329.6V340.2M916.01 329.6V335.6M947.62 329.6V340.2M979.24 329.6V335.6M1010.85 329.6V340.2M1042.46 329.6V335.6M1074.08 329.6V340.2M1105.69 329.6V335.6M1137.3 329.6V340.2M1168.91 329.6V335.6M1200.53 329.6V340.2M1232.14 329.6V335.6M1263.75 329.6V340.2M1295.36 329.6V335.6M1326.97 329.6V340.2M1358.59 329.6V335.6M1390.2 329.6V340.2M1421.81 329.6V335.6M1453.42 329.6V340.2" stroke="#000" stroke-width="2.4" fill="none"/>
<text transform="translate(868,339) scale(1,1.04)" text-anchor="end" class="t">0.0</text>
<text transform="translate(868,275.9) scale(1,1.04)" text-anchor="end" class="t">0.2</text>
<text transform="translate(868,212.8) scale(1,1.04)" text-anchor="end" class="t">0.4</text>
<text transform="translate(868,149.7) scale(1,1.04)" text-anchor="end" class="t">0.6</text>
<text transform="translate(868,86.6) scale(1,1.04)" text-anchor="end" class="t">0.8</text>
<text transform="translate(868,23.5) scale(1,1.04)" text-anchor="end" class="t">1.0</text>
<text transform="translate(884.4,367.3) scale(1,1.04)" text-anchor="middle" class="t">222</text>
<text transform="translate(947.62,367.3) scale(1,1.04)" text-anchor="middle" class="t">225</text>
<text transform="translate(1010.85,367.3) scale(1,1.04)" text-anchor="middle" class="t">228</text>
<text transform="translate(1074.08,367.3) scale(1,1.04)" text-anchor="middle" class="t">231</text>
<text transform="translate(1137.3,367.3) scale(1,1.04)" text-anchor="middle" class="t">234</text>
<text transform="translate(1200.53,367.3) scale(1,1.04)" text-anchor="middle" class="t">237</text>
<text transform="translate(1263.75,367.3) scale(1,1.04)" text-anchor="middle" class="t">240</text>
<text transform="translate(1326.97,367.3) scale(1,1.04)" text-anchor="middle" class="t">243</text>
<text transform="translate(1390.2,367.3) scale(1,1.04)" text-anchor="middle" class="t">246</text>
<text transform="translate(1453.42,367.3) scale(1,1.04)" text-anchor="middle" class="t">249</text>
<g clip-path="url(#clipc)">
<polyline points="126.5,494.94 127.55,494.85 128.6,494.76 129.66,494.66 130.71,494.57 131.76,494.47 132.81,494.37 133.87,494.27 134.92,494.17 135.97,494.07 137.02,493.97 138.07,493.86 139.13,493.75 140.18,493.65 141.23,493.54 142.28,493.43 143.33,493.32 144.39,493.21 145.44,493.1 146.49,492.98 147.54,492.87 148.6,492.75 149.65,492.64 150.7,492.52 151.75,492.4 152.8,492.28 153.86,492.16 154.91,492.04 155.96,491.92 157.01,491.8 158.06,491.68 159.12,491.55 160.17,491.43 161.22,491.31 162.27,491.18 163.33,491.05 164.38,490.93 165.43,490.8 166.48,490.67 167.53,490.55 168.59,490.42 169.64,490.29 170.69,490.16 171.74,490.03 172.79,489.9 173.85,489.77 174.9,489.64 175.95,489.51 177,489.38 178.06,489.25 179.11,489.11 180.16,488.98 181.21,488.85 182.26,488.72 183.32,488.59 184.37,488.45 185.42,488.32 186.47,488.19 187.52,488.06 188.58,487.93 189.63,487.79 190.68,487.66 191.73,487.53 192.79,487.4 193.84,487.26 194.89,487.13 195.94,487 196.99,486.87 198.05,486.74 199.1,486.61 200.15,486.48 201.2,486.35 202.25,486.22 203.31,486.09 204.36,485.96 205.41,485.83 206.46,485.7 207.52,485.58 208.57,485.45 209.62,485.32 210.67,485.2 211.72,485.07 212.78,484.95 213.83,484.82 214.88,484.7 215.93,484.58 216.98,484.45 218.04,484.33 219.09,484.21 220.14,484.09 221.19,483.97 222.25,483.85 223.3,483.74 224.35,483.62 225.4,483.5 226.45,483.39 227.51,483.28 228.56,483.16 229.61,483.05 230.66,482.94 231.71,482.83 232.77,482.72 233.82,482.61 234.87,482.51 235.92,482.4 236.98,482.3 238.03,482.2 239.08,482.09 240.13,481.99 241.18,481.89 242.24,481.8 243.29,481.7 244.34,481.6 245.39,481.51 246.44,481.42 247.5,481.33 248.55,481.24 249.6,481.15 250.65,481.06 251.71,480.98 252.76,480.9 253.81,480.81 254.86,480.73 255.91,480.66 256.97,480.58 258.02,480.5 259.07,480.43 260.12,480.36 261.17,480.29 262.23,480.22 263.28,480.15 264.33,480.09 265.38,480.03 266.44,479.97 267.49,479.91 268.54,479.85 269.59,479.8 270.64,479.74 271.7,479.69 272.75,479.64 273.8,479.6 274.85,479.55 275.9,479.51 276.96,479.47 278.01,479.43 279.06,479.39 280.11,479.36 281.17,479.33 282.22,479.3 283.27,479.27 284.32,479.25 285.37,479.22 286.43,479.2 287.48,479.19 288.53,479.17 289.58,479.16 290.63,479.15 291.69,479.14 292.74,479.13 293.79,479.13 294.84,479.13 295.9,479.13 296.95,479.14 298,479.15 299.05,479.16 300.1,479.17 301.16,479.19 302.21,479.2 303.26,479.23 304.31,479.25 305.36,479.28 306.42,479.31 307.47,479.34 308.52,479.37 309.57,479.41 310.63,479.45 311.68,479.5 312.73,479.55 313.78,479.6 314.83,479.65 315.89,479.71 316.94,479.77 317.99,479.83 319.04,479.89 320.09,479.96 321.15,480.04 322.2,480.11 323.25,480.19 324.3,480.27 325.36,480.36 326.41,480.45 327.46,480.54 328.51,480.63 329.56,480.73 330.62,480.84 331.67,480.95 332.72,481.06 333.77,481.18 334.82,481.3 335.88,481.43 336.93,481.56 337.98,481.7 339.03,481.84 340.09,481.99 341.14,482.15 342.19,482.31 343.24,482.48 344.29,482.66 345.35,482.84 346.4,483.04 347.45,483.24 348.5,483.44 349.55,483.66 350.61,483.88 351.66,484.12 352.71,484.36 353.76,484.61 354.82,484.87 355.87,485.14 356.92,485.41 357.97,485.7 359.02,486 360.08,486.31 361.13,486.63 362.18,486.96 363.23,487.3 364.28,487.65 365.34,488.02 366.39,488.39 367.44,488.78 368.49,489.18 369.55,489.59 370.6,490.02 371.65,490.46 372.7,490.92 373.75,491.4 374.81,491.91 375.86,492.44 376.91,492.99 377.96,493.57 379.01,494.19 380.07,494.83 381.12,495.51 382.17,496.23 383.22,496.99 384.28,497.78 385.33,498.62 386.38,499.5 387.43,500.43 388.48,501.41 389.54,502.43 390.59,503.51 391.64,504.65 392.69,505.84 393.74,507.09 394.8,508.4 395.85,509.77 396.9,511.2 397.95,512.71 399.01,514.28 400.06,515.91 401.11,517.61 402.16,519.37 403.21,521.18 404.27,523.05 405.32,524.96 406.37,526.92 407.42,528.93 408.47,530.98 409.53,533.06 410.58,535.18 411.63,537.33 412.68,539.5 413.74,541.71 414.79,543.93 415.84,546.17 416.89,548.43 417.94,550.7 419,552.98 420.05,555.26 421.1,557.55 422.15,559.84 423.2,562.13 424.26,564.4 425.31,566.67 426.36,568.93 427.41,571.17 428.47,573.39 429.52,575.6 430.57,577.77 431.62,579.92 432.67,582.04 433.73,584.12 434.78,586.16 435.83,588.17 436.88,590.13 437.93,592.04 438.99,593.91 440.04,595.72 441.09,597.47 442.14,599.15 443.2,600.77 444.25,602.32 445.3,603.78 446.35,605.17 447.4,606.46 448.46,607.67 449.51,608.78 450.56,609.79 451.61,610.69 452.66,611.48 453.72,612.16 454.77,612.72 455.82,613.15 456.87,613.46 457.93,613.63 458.98,613.66 460.03,613.56 461.08,613.33 462.13,612.97 463.19,612.48 464.24,611.86 465.29,611.13 466.34,610.28 467.39,609.32 468.45,608.24 469.5,607.06 470.55,605.77 471.6,604.37 472.66,602.88 473.71,601.29 474.76,599.61 475.81,597.84 476.86,595.98 477.92,594.04 478.97,592.01 480.02,589.9 481.07,587.72 482.12,585.47 483.18,583.16 484.23,580.78 485.28,578.35 486.33,575.87 487.39,573.34 488.44,570.77 489.49,568.17 490.54,565.54 491.59,562.88 492.65,560.2 493.7,557.51 494.75,554.8 495.8,552.1 496.85,549.39 497.91,546.69 498.96,544 500.01,541.32 501.06,538.67 502.12,536.04 503.17,533.44 504.22,530.88 505.27,528.36 506.32,525.88 507.38,523.46 508.43,521.09 509.48,518.78 510.53,516.54 511.58,514.37 512.64,512.28 513.69,510.27 514.74,508.34 515.79,506.49 516.85,504.72 517.9,503.03 518.95,501.41 520,499.86 521.05,498.39 522.11,496.98 523.16,495.64 524.21,494.37 525.26,493.16 526.31,492.01 527.37,490.92 528.42,489.89 529.47,488.91 530.52,487.99 531.58,487.12 532.63,486.3 533.68,485.52 534.73,484.8 535.78,484.11 536.84,483.48 537.89,482.88 538.94,482.31 539.99,481.79 541.04,481.3 542.1,480.84 543.15,480.42 544.2,480.02 545.25,479.65 546.31,479.31 547.36,478.99 548.41,478.69 549.46,478.41 550.51,478.14 551.57,477.9 552.62,477.66 553.67,477.44 554.72,477.23 555.77,477.03 556.83,476.83 557.88,476.64 558.93,476.46 559.98,476.28 561.04,476.1 562.09,475.93 563.14,475.77 564.19,475.61 565.24,475.46 566.3,475.32 567.35,475.18 568.4,475.04 569.45,474.91 570.5,474.78 571.56,474.67 572.61,474.55 573.66,474.44 574.71,474.34 575.77,474.24 576.82,474.15 577.87,474.06 578.92,473.98 579.97,473.9 581.03,473.82 582.08,473.76 583.13,473.69 584.18,473.63 585.23,473.58 586.29,473.53 587.34,473.49 588.39,473.45 589.44,473.41 590.5,473.39 591.55,473.36 592.6,473.34 593.65,473.32 594.7,473.31 595.76,473.31 596.81,473.3 597.86,473.31 598.91,473.31 599.96,473.32 601.02,473.34 602.07,473.36 603.12,473.38 604.17,473.41 605.23,473.44 606.28,473.48 607.33,473.52 608.38,473.56 609.43,473.61 610.49,473.67 611.54,473.72 612.59,473.78 613.64,473.85 614.69,473.92 615.75,473.99 616.8,474.07 617.85,474.15 618.9,474.23 619.96,474.32 621.01,474.41 622.06,474.5 623.11,474.6 624.16,474.7 625.22,474.81 626.27,474.92 627.32,475.03 628.37,475.15 629.42,475.27 630.48,475.39 631.53,475.52 632.58,475.65 633.63,475.78 634.69,475.91 635.74,476.05 636.79,476.2 637.84,476.34 638.89,476.49 639.95,476.64 641,476.8 642.05,476.96 643.1,477.12 644.15,477.28 645.21,477.45 646.26,477.62 647.31,477.79 648.36,477.96 649.42,478.14 650.47,478.32 651.52,478.51 652.57,478.69 653.62,478.88 654.68,479.07 655.73,479.26 656.78,479.46 657.83,479.66 658.88,479.86 659.94,480.06 660.99,480.27 662.04,480.48 663.09,480.69 664.15,480.9 665.2,481.12 666.25,481.33 667.3,481.55 668.35,481.78 669.41,482 670.46,482.23 671.51,482.45 672.56,482.68 673.61,482.91 674.67,483.15 675.72,483.38 676.77,483.62 677.82,483.86 678.88,484.1 679.93,484.35 680.98,484.59 682.03,484.84 683.08,485.08 684.14,485.33 685.19,485.59 686.24,485.84 687.29,486.09 688.34,486.35 689.4,486.61 690.45,486.86 691.5,487.12 692.55,487.39 693.61,487.65 694.66,487.91 695.71,488.18 696.76,488.44 697.81,488.71 698.87,488.98 699.92,489.25 700.97,489.52 702.02,489.79 703.07,490.07 704.13,490.34 705.18,490.61 706.23,490.89 707.28,491.17 708.34,491.44 709.39,491.72 710.44,492 711.49,492.28 712.54,492.56 713.6,492.84 714.65,493.12 715.7,493.41" fill="none" stroke="#4B64A8" stroke-width="2.4" stroke-linejoin="round" />
<polyline points="126.5,488.84 127.55,488.71 128.6,488.58 129.66,488.45 130.71,488.32 131.76,488.19 132.81,488.06 133.87,487.92 134.92,487.78 135.97,487.64 137.02,487.5 138.07,487.36 139.13,487.22 140.18,487.07 141.23,486.93 142.28,486.78 143.33,486.63 144.39,486.48 145.44,486.33 146.49,486.17 147.54,486.02 148.6,485.86 149.65,485.71 150.7,485.55 151.75,485.39 152.8,485.23 153.86,485.07 154.91,484.91 155.96,484.75 157.01,484.58 158.06,484.42 159.12,484.25 160.17,484.08 161.22,483.92 162.27,483.75 163.33,483.58 164.38,483.41 165.43,483.24 166.48,483.06 167.53,482.89 168.59,482.72 169.64,482.55 170.69,482.37 171.74,482.2 172.79,482.02 173.85,481.84 174.9,481.67 175.95,481.49 177,481.31 178.06,481.14 179.11,480.96 180.16,480.78 181.21,480.6 182.26,480.42 183.32,480.24 184.37,480.06 185.42,479.88 186.47,479.7 187.52,479.52 188.58,479.34 189.63,479.16 190.68,478.98 191.73,478.79 192.79,478.61 193.84,478.43 194.89,478.25 195.94,478.07 196.99,477.89 198.05,477.71 199.1,477.53 200.15,477.35 201.2,477.17 202.25,476.99 203.31,476.81 204.36,476.63 205.41,476.45 206.46,476.27 207.52,476.09 208.57,475.91 209.62,475.73 210.67,475.56 211.72,475.38 212.78,475.2 213.83,475.03 214.88,474.85 215.93,474.68 216.98,474.5 218.04,474.33 219.09,474.16 220.14,473.98 221.19,473.81 222.25,473.64 223.3,473.47 224.35,473.3 225.4,473.13 226.45,472.96 227.51,472.8 228.56,472.63 229.61,472.47 230.66,472.3 231.71,472.14 232.77,471.98 233.82,471.82 234.87,471.66 235.92,471.5 236.98,471.34 238.03,471.18 239.08,471.03 240.13,470.88 241.18,470.72 242.24,470.57 243.29,470.42 244.34,470.27 245.39,470.12 246.44,469.98 247.5,469.83 248.55,469.69 249.6,469.55 250.65,469.41 251.71,469.27 252.76,469.13 253.81,469 254.86,468.86 255.91,468.73 256.97,468.6 258.02,468.47 259.07,468.34 260.12,468.22 261.17,468.09 262.23,467.97 263.28,467.85 264.33,467.73 265.38,467.61 266.44,467.5 267.49,467.39 268.54,467.28 269.59,467.17 270.64,467.06 271.7,466.96 272.75,466.85 273.8,466.75 274.85,466.65 275.9,466.56 276.96,466.46 278.01,466.37 279.06,466.28 280.11,466.2 281.17,466.11 282.22,466.03 283.27,465.95 284.32,465.87 285.37,465.79 286.43,465.72 287.48,465.65 288.53,465.58 289.58,465.52 290.63,465.45 291.69,465.39 292.74,465.34 293.79,465.28 294.84,465.23 295.9,465.18 296.95,465.13 298,465.09 299.05,465.04 300.1,465.01 301.16,464.97 302.21,464.94 303.26,464.91 304.31,464.88 305.36,464.85 306.42,464.83 307.47,464.82 308.52,464.8 309.57,464.79 310.63,464.78 311.68,464.77 312.73,464.77 313.78,464.77 314.83,464.77 315.89,464.78 316.94,464.79 317.99,464.8 319.04,464.82 320.09,464.84 321.15,464.86 322.2,464.89 323.25,464.92 324.3,464.95 325.36,464.99 326.41,465.03 327.46,465.07 328.51,465.12 329.56,465.17 330.62,465.22 331.67,465.28 332.72,465.34 333.77,465.41 334.82,465.48 335.88,465.55 336.93,465.63 337.98,465.71 339.03,465.79 340.09,465.88 341.14,465.97 342.19,466.07 343.24,466.17 344.29,466.27 345.35,466.38 346.4,466.49 347.45,466.61 348.5,466.73 349.55,466.86 350.61,467 351.66,467.14 352.71,467.29 353.76,467.45 354.82,467.62 355.87,467.8 356.92,468 357.97,468.2 359.02,468.42 360.08,468.65 361.13,468.9 362.18,469.16 363.23,469.43 364.28,469.73 365.34,470.04 366.39,470.37 367.44,470.71 368.49,471.08 369.55,471.47 370.6,471.88 371.65,472.31 372.7,472.76 373.75,473.23 374.81,473.73 375.86,474.25 376.91,474.8 377.96,475.38 379.01,475.98 380.07,476.61 381.12,477.27 382.17,477.95 383.22,478.67 384.28,479.42 385.33,480.2 386.38,481.01 387.43,481.85 388.48,482.73 389.54,483.64 390.59,484.58 391.64,485.57 392.69,486.58 393.74,487.64 394.8,488.73 395.85,489.86 396.9,491.03 397.95,492.24 399.01,493.5 400.06,494.79 401.11,496.12 402.16,497.5 403.21,498.93 404.27,500.39 405.32,501.9 406.37,503.46 407.42,505.06 408.47,506.71 409.53,508.41 410.58,510.15 411.63,511.95 412.68,513.79 413.74,515.69 414.79,517.63 415.84,519.63 416.89,521.67 417.94,523.77 419,525.93 420.05,528.13 421.1,530.4 422.15,532.71 423.2,535.09 424.26,537.52 425.31,540 426.36,542.55 427.41,545.15 428.47,547.81 429.52,550.54 430.57,553.31 431.62,556.14 432.67,559 433.73,561.88 434.78,564.79 435.83,567.69 436.88,570.6 437.93,573.49 438.99,576.35 440.04,579.19 441.09,581.97 442.14,584.71 443.2,587.38 444.25,589.97 445.3,592.49 446.35,594.91 447.4,597.23 448.46,599.45 449.51,601.55 450.56,603.53 451.61,605.39 452.66,607.1 453.72,608.68 454.77,610.12 455.82,611.41 456.87,612.56 457.93,613.56 458.98,614.41 460.03,615.11 461.08,615.67 462.13,616.06 463.19,616.31 464.24,616.4 465.29,616.34 466.34,616.13 467.39,615.79 468.45,615.31 469.5,614.71 470.55,613.99 471.6,613.15 472.66,612.21 473.71,611.16 474.76,610.02 475.81,608.79 476.86,607.47 477.92,606.08 478.97,604.62 480.02,603.09 481.07,601.5 482.12,599.86 483.18,598.16 484.23,596.43 485.28,594.67 486.33,592.87 487.39,591.05 488.44,589.2 489.49,587.34 490.54,585.45 491.59,583.54 492.65,581.61 493.7,579.66 494.75,577.69 495.8,575.7 496.85,573.7 497.91,571.67 498.96,569.63 500.01,567.56 501.06,565.49 502.12,563.39 503.17,561.28 504.22,559.16 505.27,557.02 506.32,554.86 507.38,552.7 508.43,550.52 509.48,548.35 510.53,546.17 511.58,544 512.64,541.84 513.69,539.7 514.74,537.57 515.79,535.47 516.85,533.41 517.9,531.37 518.95,529.38 520,527.43 521.05,525.52 522.11,523.68 523.16,521.89 524.21,520.16 525.26,518.5 526.31,516.91 527.37,515.4 528.42,513.97 529.47,512.62 530.52,511.33 531.58,510.12 532.63,508.98 533.68,507.91 534.73,506.89 535.78,505.94 536.84,505.04 537.89,504.2 538.94,503.41 539.99,502.67 541.04,501.98 542.1,501.33 543.15,500.73 544.2,500.16 545.25,499.63 546.31,499.13 547.36,498.66 548.41,498.22 549.46,497.81 550.51,497.42 551.57,497.04 552.62,496.69 553.67,496.35 554.72,496.02 555.77,495.71 556.83,495.39 557.88,495.09 558.93,494.79 559.98,494.5 561.04,494.21 562.09,493.93 563.14,493.65 564.19,493.38 565.24,493.12 566.3,492.86 567.35,492.61 568.4,492.37 569.45,492.13 570.5,491.89 571.56,491.67 572.61,491.44 573.66,491.23 574.71,491.02 575.77,490.81 576.82,490.61 577.87,490.42 578.92,490.23 579.97,490.05 581.03,489.88 582.08,489.71 583.13,489.54 584.18,489.38 585.23,489.23 586.29,489.08 587.34,488.94 588.39,488.81 589.44,488.67 590.5,488.55 591.55,488.43 592.6,488.32 593.65,488.21 594.7,488.11 595.76,488.01 596.81,487.92 597.86,487.83 598.91,487.75 599.96,487.67 601.02,487.6 602.07,487.54 603.12,487.48 604.17,487.43 605.23,487.38 606.28,487.34 607.33,487.3 608.38,487.27 609.43,487.24 610.49,487.22 611.54,487.2 612.59,487.19 613.64,487.18 614.69,487.18 615.75,487.19 616.8,487.2 617.85,487.21 618.9,487.23 619.96,487.26 621.01,487.29 622.06,487.32 623.11,487.36 624.16,487.41 625.22,487.46 626.27,487.51 627.32,487.57 628.37,487.64 629.42,487.71 630.48,487.79 631.53,487.87 632.58,487.95 633.63,488.04 634.69,488.14 635.74,488.24 636.79,488.35 637.84,488.46 638.89,488.57 639.95,488.69 641,488.81 642.05,488.94 643.1,489.08 644.15,489.21 645.21,489.35 646.26,489.5 647.31,489.65 648.36,489.8 649.42,489.96 650.47,490.12 651.52,490.28 652.57,490.45 653.62,490.62 654.68,490.79 655.73,490.97 656.78,491.14 657.83,491.33 658.88,491.51 659.94,491.7 660.99,491.89 662.04,492.08 663.09,492.28 664.15,492.47 665.2,492.67 666.25,492.87 667.3,493.08 668.35,493.28 669.41,493.49 670.46,493.69 671.51,493.9 672.56,494.11 673.61,494.33 674.67,494.54 675.72,494.75 676.77,494.97 677.82,495.18 678.88,495.4 679.93,495.62 680.98,495.84 682.03,496.05 683.08,496.27 684.14,496.49 685.19,496.71 686.24,496.93 687.29,497.15 688.34,497.37 689.4,497.59 690.45,497.8 691.5,498.02 692.55,498.24 693.61,498.45 694.66,498.67 695.71,498.88 696.76,499.1 697.81,499.31 698.87,499.52 699.92,499.73 700.97,499.94 702.02,500.14 703.07,500.35 704.13,500.55 705.18,500.75 706.23,500.95 707.28,501.15 708.34,501.34 709.39,501.54 710.44,501.73 711.49,501.91 712.54,502.1 713.6,502.28 714.65,502.46 715.7,502.64" fill="none" stroke="#D11A20" stroke-width="2.4" stroke-linejoin="round" />
<polyline points="126.5,543.55 127.55,543.2 128.6,542.86 129.66,542.51 130.71,542.17 131.76,541.83 132.81,541.49 133.87,541.14 134.92,540.8 135.97,540.46 137.02,540.12 138.07,539.78 139.13,539.45 140.18,539.11 141.23,538.77 142.28,538.43 143.33,538.1 144.39,537.76 145.44,537.42 146.49,537.09 147.54,536.75 148.6,536.42 149.65,536.09 150.7,535.75 151.75,535.42 152.8,535.09 153.86,534.76 154.91,534.43 155.96,534.1 157.01,533.77 158.06,533.44 159.12,533.11 160.17,532.78 161.22,532.45 162.27,532.12 163.33,531.8 164.38,531.47 165.43,531.15 166.48,530.82 167.53,530.49 168.59,530.17 169.64,529.85 170.69,529.52 171.74,529.2 172.79,528.88 173.85,528.55 174.9,528.23 175.95,527.91 177,527.59 178.06,527.27 179.11,526.95 180.16,526.63 181.21,526.31 182.26,525.99 183.32,525.67 184.37,525.35 185.42,525.03 186.47,524.72 187.52,524.4 188.58,524.08 189.63,523.77 190.68,523.45 191.73,523.13 192.79,522.82 193.84,522.5 194.89,522.19 195.94,521.88 196.99,521.56 198.05,521.25 199.1,520.94 200.15,520.62 201.2,520.31 202.25,520 203.31,519.69 204.36,519.38 205.41,519.07 206.46,518.76 207.52,518.45 208.57,518.14 209.62,517.83 210.67,517.52 211.72,517.21 212.78,516.9 213.83,516.59 214.88,516.28 215.93,515.98 216.98,515.67 218.04,515.36 219.09,515.05 220.14,514.75 221.19,514.44 222.25,514.14 223.3,513.83 224.35,513.52 225.4,513.22 226.45,512.91 227.51,512.61 228.56,512.31 229.61,512 230.66,511.7 231.71,511.39 232.77,511.09 233.82,510.79 234.87,510.49 235.92,510.18 236.98,509.88 238.03,509.58 239.08,509.28 240.13,508.97 241.18,508.67 242.24,508.37 243.29,508.07 244.34,507.77 245.39,507.47 246.44,507.17 247.5,506.87 248.55,506.57 249.6,506.27 250.65,505.97 251.71,505.67 252.76,505.37 253.81,505.07 254.86,504.77 255.91,504.47 256.97,504.18 258.02,503.88 259.07,503.58 260.12,503.28 261.17,502.98 262.23,502.69 263.28,502.39 264.33,502.09 265.38,501.79 266.44,501.5 267.49,501.2 268.54,500.9 269.59,500.61 270.64,500.31 271.7,500.01 272.75,499.72 273.8,499.42 274.85,499.12 275.9,498.83 276.96,498.53 278.01,498.24 279.06,497.94 280.11,497.65 281.17,497.35 282.22,497.06 283.27,496.77 284.32,496.48 285.37,496.19 286.43,495.9 287.48,495.62 288.53,495.34 289.58,495.06 290.63,494.78 291.69,494.5 292.74,494.23 293.79,493.96 294.84,493.69 295.9,493.43 296.95,493.17 298,492.92 299.05,492.66 300.1,492.42 301.16,492.17 302.21,491.93 303.26,491.7 304.31,491.47 305.36,491.25 306.42,491.03 307.47,490.81 308.52,490.6 309.57,490.4 310.63,490.2 311.68,490.01 312.73,489.83 313.78,489.65 314.83,489.48 315.89,489.32 316.94,489.16 317.99,489.01 319.04,488.87 320.09,488.73 321.15,488.6 322.2,488.48 323.25,488.37 324.3,488.27 325.36,488.17 326.41,488.09 327.46,488.01 328.51,487.94 329.56,487.88 330.62,487.83 331.67,487.79 332.72,487.76 333.77,487.74 334.82,487.73 335.88,487.73 336.93,487.74 337.98,487.76 339.03,487.79 340.09,487.84 341.14,487.89 342.19,487.95 343.24,488.03 344.29,488.12 345.35,488.22 346.4,488.33 347.45,488.46 348.5,488.59 349.55,488.74 350.61,488.91 351.66,489.08 352.71,489.27 353.76,489.47 354.82,489.69 355.87,489.91 356.92,490.16 357.97,490.41 359.02,490.68 360.08,490.97 361.13,491.27 362.18,491.58 363.23,491.91 364.28,492.25 365.34,492.61 366.39,492.98 367.44,493.37 368.49,493.77 369.55,494.19 370.6,494.62 371.65,495.07 372.7,495.54 373.75,496.02 374.81,496.52 375.86,497.03 376.91,497.56 377.96,498.11 379.01,498.68 380.07,499.28 381.12,499.9 382.17,500.54 383.22,501.22 384.28,501.93 385.33,502.67 386.38,503.44 387.43,504.26 388.48,505.11 389.54,506.01 390.59,506.95 391.64,507.94 392.69,508.98 393.74,510.07 394.8,511.22 395.85,512.42 396.9,513.68 397.95,515 399.01,516.38 400.06,517.82 401.11,519.34 402.16,520.92 403.21,522.57 404.27,524.3 405.32,526.1 406.37,527.98 407.42,529.94 408.47,531.98 409.53,534.1 410.58,536.28 411.63,538.53 412.68,540.83 413.74,543.19 414.79,545.6 415.84,548.05 416.89,550.54 417.94,553.06 419,555.6 420.05,558.17 421.1,560.76 422.15,563.36 423.2,565.96 424.26,568.57 425.31,571.17 426.36,573.76 427.41,576.34 428.47,578.9 429.52,581.44 430.57,583.94 431.62,586.41 432.67,588.84 433.73,591.22 434.78,593.56 435.83,595.83 436.88,598.05 437.93,600.2 438.99,602.28 440.04,604.28 441.09,606.2 442.14,608.03 443.2,609.77 444.25,611.41 445.3,612.95 446.35,614.39 447.4,615.72 448.46,616.96 449.51,618.09 450.56,619.12 451.61,620.05 452.66,620.87 453.72,621.6 454.77,622.22 455.82,622.74 456.87,623.16 457.93,623.49 458.98,623.71 460.03,623.83 461.08,623.85 462.13,623.77 463.19,623.59 464.24,623.31 465.29,622.93 466.34,622.45 467.39,621.88 468.45,621.2 469.5,620.43 470.55,619.55 471.6,618.58 472.66,617.51 473.71,616.35 474.76,615.08 475.81,613.72 476.86,612.26 477.92,610.7 478.97,609.05 480.02,607.3 481.07,605.45 482.12,603.53 483.18,601.55 484.23,599.53 485.28,597.5 486.33,595.46 487.39,593.44 488.44,591.42 489.49,589.41 490.54,587.39 491.59,585.35 492.65,583.29 493.7,581.21 494.75,579.08 495.8,576.91 496.85,574.69 497.91,572.41 498.96,570.08 500.01,567.7 501.06,565.28 502.12,562.83 503.17,560.36 504.22,557.87 505.27,555.37 506.32,552.87 507.38,550.38 508.43,547.9 509.48,545.45 510.53,543.02 511.58,540.64 512.64,538.29 513.69,536.01 514.74,533.78 515.79,531.62 516.85,529.53 517.9,527.53 518.95,525.59 520,523.73 521.05,521.95 522.11,520.23 523.16,518.57 524.21,516.99 525.26,515.47 526.31,514.01 527.37,512.61 528.42,511.27 529.47,509.99 530.52,508.76 531.58,507.58 532.63,506.46 533.68,505.39 534.73,504.37 535.78,503.39 536.84,502.46 537.89,501.57 538.94,500.73 539.99,499.92 541.04,499.15 542.1,498.42 543.15,497.72 544.2,497.06 545.25,496.43 546.31,495.82 547.36,495.25 548.41,494.69 549.46,494.17 550.51,493.66 551.57,493.18 552.62,492.72 553.67,492.27 554.72,491.84 555.77,491.42 556.83,491.01 557.88,490.62 558.93,490.23 559.98,489.86 561.04,489.5 562.09,489.15 563.14,488.81 564.19,488.48 565.24,488.17 566.3,487.86 567.35,487.56 568.4,487.28 569.45,487 570.5,486.74 571.56,486.48 572.61,486.24 573.66,486 574.71,485.78 575.77,485.56 576.82,485.36 577.87,485.16 578.92,484.98 579.97,484.8 581.03,484.63 582.08,484.47 583.13,484.32 584.18,484.18 585.23,484.05 586.29,483.93 587.34,483.82 588.39,483.71 589.44,483.61 590.5,483.52 591.55,483.44 592.6,483.37 593.65,483.31 594.7,483.25 595.76,483.2 596.81,483.16 597.86,483.13 598.91,483.1 599.96,483.08 601.02,483.07 602.07,483.07 603.12,483.07 604.17,483.08 605.23,483.1 606.28,483.12 607.33,483.16 608.38,483.19 609.43,483.24 610.49,483.29 611.54,483.34 612.59,483.41 613.64,483.48 614.69,483.55 615.75,483.63 616.8,483.72 617.85,483.81 618.9,483.91 619.96,484.01 621.01,484.12 622.06,484.24 623.11,484.35 624.16,484.48 625.22,484.61 626.27,484.74 627.32,484.88 628.37,485.03 629.42,485.17 630.48,485.33 631.53,485.48 632.58,485.65 633.63,485.81 634.69,485.98 635.74,486.15 636.79,486.33 637.84,486.51 638.89,486.7 639.95,486.89 641,487.08 642.05,487.27 643.1,487.47 644.15,487.67 645.21,487.88 646.26,488.09 647.31,488.3 648.36,488.51 649.42,488.73 650.47,488.94 651.52,489.17 652.57,489.39 653.62,489.61 654.68,489.84 655.73,490.07 656.78,490.3 657.83,490.54 658.88,490.77 659.94,491.01 660.99,491.25 662.04,491.48 663.09,491.73 664.15,491.97 665.2,492.21 666.25,492.46 667.3,492.7 668.35,492.95 669.41,493.19 670.46,493.44 671.51,493.69 672.56,493.94 673.61,494.18 674.67,494.43 675.72,494.68 676.77,494.93 677.82,495.18 678.88,495.43 679.93,495.68 680.98,495.92 682.03,496.17 683.08,496.42 684.14,496.66 685.19,496.91 686.24,497.15 687.29,497.39 688.34,497.64 689.4,497.88 690.45,498.12 691.5,498.35 692.55,498.59 693.61,498.82 694.66,499.06 695.71,499.29 696.76,499.52 697.81,499.74 698.87,499.97 699.92,500.19 700.97,500.41 702.02,500.63 703.07,500.84 704.13,501.06 705.18,501.27 706.23,501.47 707.28,501.68 708.34,501.88 709.39,502.08 710.44,502.27 711.49,502.46 712.54,502.65 713.6,502.83 714.65,503.01 715.7,503.19" fill="none" stroke="#D11A20" stroke-width="2.4" stroke-linejoin="round" />
<use href="#mp" x="126.5" y="543.55"/><use href="#mp" x="128.18" y="543"/><use href="#mp" x="129.87" y="542.45"/><use href="#mp" x="131.55" y="541.9"/><use href="#mp" x="133.23" y="541.35"/><use href="#mp" x="134.92" y="540.8"/><use href="#mp" x="136.6" y="540.26"/><use href="#mp" x="138.28" y="539.72"/><use href="#mp" x="139.97" y="539.17"/><use href="#mp" x="141.65" y="538.63"/><use href="#mp" x="143.33" y="538.1"/><use href="#mp" x="145.02" y="537.56"/><use href="#mp" x="146.7" y="537.02"/><use href="#mp" x="148.38" y="536.49"/><use href="#mp" x="150.07" y="535.95"/><use href="#mp" x="151.75" y="535.42"/><use href="#mp" x="153.43" y="534.89"/><use href="#mp" x="155.12" y="534.36"/><use href="#mp" x="156.8" y="533.83"/><use href="#mp" x="158.49" y="533.31"/><use href="#mp" x="160.17" y="532.78"/><use href="#mp" x="161.85" y="532.26"/><use href="#mp" x="163.54" y="531.73"/><use href="#mp" x="165.22" y="531.21"/><use href="#mp" x="166.9" y="530.69"/><use href="#mp" x="168.59" y="530.17"/><use href="#mp" x="170.27" y="529.65"/><use href="#mp" x="171.95" y="529.13"/><use href="#mp" x="173.64" y="528.62"/><use href="#mp" x="175.32" y="528.1"/><use href="#mp" x="177" y="527.59"/><use href="#mp" x="178.69" y="527.07"/><use href="#mp" x="180.37" y="526.56"/><use href="#mp" x="182.05" y="526.05"/><use href="#mp" x="183.74" y="525.54"/><use href="#mp" x="185.42" y="525.03"/><use href="#mp" x="187.1" y="524.53"/><use href="#mp" x="188.79" y="524.02"/><use href="#mp" x="190.47" y="523.51"/><use href="#mp" x="192.15" y="523.01"/><use href="#mp" x="193.84" y="522.5"/><use href="#mp" x="195.52" y="522"/><use href="#mp" x="197.2" y="521.5"/><use href="#mp" x="198.89" y="521"/><use href="#mp" x="200.57" y="520.5"/><use href="#mp" x="202.25" y="520"/><use href="#mp" x="203.94" y="519.5"/><use href="#mp" x="205.62" y="519"/><use href="#mp" x="207.3" y="518.51"/><use href="#mp" x="208.99" y="518.01"/><use href="#mp" x="210.67" y="517.52"/><use href="#mp" x="212.35" y="517.02"/><use href="#mp" x="214.04" y="516.53"/><use href="#mp" x="215.72" y="516.04"/><use href="#mp" x="217.41" y="515.55"/><use href="#mp" x="219.09" y="515.05"/><use href="#mp" x="220.77" y="514.56"/><use href="#mp" x="222.46" y="514.07"/><use href="#mp" x="224.14" y="513.59"/><use href="#mp" x="225.82" y="513.1"/><use href="#mp" x="227.51" y="512.61"/><use href="#mp" x="229.19" y="512.12"/><use href="#mp" x="230.87" y="511.64"/><use href="#mp" x="232.56" y="511.15"/><use href="#mp" x="234.24" y="510.67"/><use href="#mp" x="235.92" y="510.18"/><use href="#mp" x="237.61" y="509.7"/><use href="#mp" x="239.29" y="509.22"/><use href="#mp" x="240.97" y="508.73"/><use href="#mp" x="242.66" y="508.25"/><use href="#mp" x="244.34" y="507.77"/><use href="#mp" x="246.02" y="507.29"/><use href="#mp" x="247.71" y="506.81"/><use href="#mp" x="249.39" y="506.33"/><use href="#mp" x="251.07" y="505.85"/><use href="#mp" x="252.76" y="505.37"/><use href="#mp" x="254.44" y="504.89"/><use href="#mp" x="256.12" y="504.41"/><use href="#mp" x="257.81" y="503.94"/><use href="#mp" x="259.49" y="503.46"/><use href="#mp" x="261.17" y="502.98"/><use href="#mp" x="262.86" y="502.51"/><use href="#mp" x="264.54" y="502.03"/><use href="#mp" x="266.22" y="501.56"/><use href="#mp" x="267.91" y="501.08"/><use href="#mp" x="269.59" y="500.61"/><use href="#mp" x="271.27" y="500.13"/><use href="#mp" x="272.96" y="499.66"/><use href="#mp" x="274.64" y="499.18"/><use href="#mp" x="276.33" y="498.71"/><use href="#mp" x="278.01" y="498.24"/><use href="#mp" x="279.69" y="497.76"/><use href="#mp" x="281.38" y="497.29"/><use href="#mp" x="283.06" y="496.83"/><use href="#mp" x="284.74" y="496.36"/><use href="#mp" x="286.43" y="495.9"/><use href="#mp" x="288.11" y="495.45"/><use href="#mp" x="289.79" y="495"/><use href="#mp" x="291.48" y="494.56"/><use href="#mp" x="293.16" y="494.12"/><use href="#mp" x="294.84" y="493.69"/><use href="#mp" x="296.53" y="493.27"/><use href="#mp" x="298.21" y="492.86"/><use href="#mp" x="299.89" y="492.47"/><use href="#mp" x="301.58" y="492.08"/><use href="#mp" x="303.26" y="491.7"/><use href="#mp" x="304.94" y="491.33"/><use href="#mp" x="306.63" y="490.98"/><use href="#mp" x="308.31" y="490.65"/><use href="#mp" x="309.99" y="490.32"/><use href="#mp" x="311.68" y="490.01"/><use href="#mp" x="313.36" y="489.72"/><use href="#mp" x="315.04" y="489.45"/><use href="#mp" x="316.73" y="489.19"/><use href="#mp" x="318.41" y="488.95"/><use href="#mp" x="320.09" y="488.73"/><use href="#mp" x="321.78" y="488.53"/><use href="#mp" x="323.46" y="488.35"/><use href="#mp" x="325.14" y="488.19"/><use href="#mp" x="326.83" y="488.06"/><use href="#mp" x="328.51" y="487.94"/><use href="#mp" x="330.19" y="487.85"/><use href="#mp" x="331.88" y="487.79"/><use href="#mp" x="333.56" y="487.74"/><use href="#mp" x="335.25" y="487.73"/><use href="#mp" x="336.93" y="487.74"/><use href="#mp" x="338.61" y="487.78"/><use href="#mp" x="340.3" y="487.84"/><use href="#mp" x="341.98" y="487.94"/><use href="#mp" x="343.66" y="488.06"/><use href="#mp" x="345.35" y="488.22"/><use href="#mp" x="347.03" y="488.4"/><use href="#mp" x="348.71" y="488.62"/><use href="#mp" x="350.4" y="488.87"/><use href="#mp" x="352.08" y="489.15"/><use href="#mp" x="353.76" y="489.47"/><use href="#mp" x="355.45" y="489.82"/><use href="#mp" x="357.13" y="490.21"/><use href="#mp" x="358.81" y="490.63"/><use href="#mp" x="360.5" y="491.08"/><use href="#mp" x="362.18" y="491.58"/><use href="#mp" x="363.86" y="492.11"/><use href="#mp" x="365.55" y="492.68"/><use href="#mp" x="367.23" y="493.29"/><use href="#mp" x="368.91" y="493.93"/><use href="#mp" x="370.6" y="494.62"/><use href="#mp" x="372.28" y="495.35"/><use href="#mp" x="373.96" y="496.12"/><use href="#mp" x="375.65" y="496.93"/><use href="#mp" x="377.33" y="497.78"/><use href="#mp" x="379.01" y="498.68"/><use href="#mp" x="380.7" y="499.65"/><use href="#mp" x="382.38" y="500.68"/><use href="#mp" x="384.06" y="501.78"/><use href="#mp" x="385.75" y="502.97"/><use href="#mp" x="387.43" y="504.26"/><use href="#mp" x="389.11" y="505.65"/><use href="#mp" x="390.8" y="507.15"/><use href="#mp" x="392.48" y="508.77"/><use href="#mp" x="394.17" y="510.53"/><use href="#mp" x="395.85" y="512.42"/><use href="#mp" x="397.53" y="514.46"/><use href="#mp" x="399.22" y="516.66"/><use href="#mp" x="400.9" y="519.03"/><use href="#mp" x="402.58" y="521.57"/><use href="#mp" x="404.27" y="524.3"/><use href="#mp" x="405.95" y="527.22"/><use href="#mp" x="407.63" y="530.35"/><use href="#mp" x="409.32" y="533.67"/><use href="#mp" x="411" y="537.17"/><use href="#mp" x="412.68" y="540.83"/><use href="#mp" x="414.37" y="544.63"/><use href="#mp" x="416.05" y="548.54"/><use href="#mp" x="417.73" y="552.55"/><use href="#mp" x="419.42" y="556.63"/><use href="#mp" x="421.1" y="560.76"/><use href="#mp" x="422.78" y="564.92"/><use href="#mp" x="424.47" y="569.09"/><use href="#mp" x="426.15" y="573.25"/><use href="#mp" x="427.83" y="577.37"/><use href="#mp" x="429.52" y="581.44"/><use href="#mp" x="431.2" y="585.43"/><use href="#mp" x="432.88" y="589.32"/><use href="#mp" x="434.57" y="593.09"/><use href="#mp" x="436.25" y="596.73"/><use href="#mp" x="437.93" y="600.2"/><use href="#mp" x="439.62" y="603.49"/><use href="#mp" x="441.3" y="606.57"/><use href="#mp" x="442.98" y="609.43"/><use href="#mp" x="444.67" y="612.04"/><use href="#mp" x="446.35" y="614.39"/><use href="#mp" x="448.03" y="616.48"/><use href="#mp" x="449.72" y="618.3"/><use href="#mp" x="451.4" y="619.87"/><use href="#mp" x="453.09" y="621.17"/><use href="#mp" x="454.77" y="622.22"/><use href="#mp" x="456.45" y="623.01"/><use href="#mp" x="458.14" y="623.54"/><use href="#mp" x="459.82" y="623.81"/><use href="#mp" x="461.5" y="623.83"/><use href="#mp" x="463.19" y="623.59"/><use href="#mp" x="464.87" y="623.09"/><use href="#mp" x="466.55" y="622.35"/><use href="#mp" x="468.24" y="621.34"/><use href="#mp" x="469.92" y="620.09"/><use href="#mp" x="471.6" y="618.58"/><use href="#mp" x="473.29" y="616.83"/><use href="#mp" x="474.97" y="614.82"/><use href="#mp" x="476.65" y="612.56"/><use href="#mp" x="478.34" y="610.05"/><use href="#mp" x="480.02" y="607.3"/><use href="#mp" x="481.7" y="604.31"/><use href="#mp" x="483.39" y="601.15"/><use href="#mp" x="485.07" y="597.9"/><use href="#mp" x="486.75" y="594.65"/><use href="#mp" x="488.44" y="591.42"/><use href="#mp" x="490.12" y="588.2"/><use href="#mp" x="491.8" y="584.94"/><use href="#mp" x="493.49" y="581.63"/><use href="#mp" x="495.17" y="578.22"/><use href="#mp" x="496.85" y="574.69"/><use href="#mp" x="498.54" y="571.02"/><use href="#mp" x="500.22" y="567.22"/><use href="#mp" x="501.9" y="563.33"/><use href="#mp" x="503.59" y="559.37"/><use href="#mp" x="505.27" y="555.37"/><use href="#mp" x="506.95" y="551.38"/><use href="#mp" x="508.64" y="547.41"/><use href="#mp" x="510.32" y="543.51"/><use href="#mp" x="512.01" y="539.69"/><use href="#mp" x="513.69" y="536.01"/><use href="#mp" x="515.37" y="532.47"/><use href="#mp" x="517.06" y="529.13"/><use href="#mp" x="518.74" y="525.97"/><use href="#mp" x="520.42" y="523.01"/><use href="#mp" x="522.11" y="520.23"/><use href="#mp" x="523.79" y="517.61"/><use href="#mp" x="525.47" y="515.17"/><use href="#mp" x="527.16" y="512.88"/><use href="#mp" x="528.84" y="510.75"/><use href="#mp" x="530.52" y="508.76"/><use href="#mp" x="532.21" y="506.91"/><use href="#mp" x="533.89" y="505.18"/><use href="#mp" x="535.57" y="503.58"/><use href="#mp" x="537.26" y="502.1"/><use href="#mp" x="538.94" y="500.73"/><use href="#mp" x="540.62" y="499.46"/><use href="#mp" x="542.31" y="498.28"/><use href="#mp" x="543.99" y="497.19"/><use href="#mp" x="545.67" y="496.18"/><use href="#mp" x="547.36" y="495.25"/><use href="#mp" x="549.04" y="494.38"/><use href="#mp" x="550.72" y="493.57"/><use href="#mp" x="552.41" y="492.81"/><use href="#mp" x="554.09" y="492.09"/><use href="#mp" x="555.77" y="491.42"/><use href="#mp" x="557.46" y="490.77"/><use href="#mp" x="559.14" y="490.16"/><use href="#mp" x="560.82" y="489.57"/><use href="#mp" x="562.51" y="489.01"/><use href="#mp" x="564.19" y="488.48"/><use href="#mp" x="565.87" y="487.98"/><use href="#mp" x="567.56" y="487.5"/><use href="#mp" x="569.24" y="487.06"/><use href="#mp" x="570.93" y="486.63"/><use href="#mp" x="572.61" y="486.24"/><use href="#mp" x="574.29" y="485.87"/><use href="#mp" x="575.98" y="485.52"/><use href="#mp" x="577.66" y="485.2"/><use href="#mp" x="579.34" y="484.91"/><use href="#mp" x="581.03" y="484.63"/><use href="#mp" x="582.71" y="484.38"/><use href="#mp" x="584.39" y="484.16"/><use href="#mp" x="586.08" y="483.95"/><use href="#mp" x="587.76" y="483.77"/><use href="#mp" x="589.44" y="483.61"/><use href="#mp" x="591.13" y="483.48"/><use href="#mp" x="592.81" y="483.36"/><use href="#mp" x="594.49" y="483.26"/><use href="#mp" x="596.18" y="483.18"/><use href="#mp" x="597.86" y="483.13"/><use href="#mp" x="599.54" y="483.09"/><use href="#mp" x="601.23" y="483.07"/><use href="#mp" x="602.91" y="483.07"/><use href="#mp" x="604.59" y="483.09"/><use href="#mp" x="606.28" y="483.12"/><use href="#mp" x="607.96" y="483.18"/><use href="#mp" x="609.64" y="483.25"/><use href="#mp" x="611.33" y="483.33"/><use href="#mp" x="613.01" y="483.43"/><use href="#mp" x="614.69" y="483.55"/><use href="#mp" x="616.38" y="483.68"/><use href="#mp" x="618.06" y="483.83"/><use href="#mp" x="619.74" y="483.99"/><use href="#mp" x="621.43" y="484.17"/><use href="#mp" x="623.11" y="484.35"/><use href="#mp" x="624.79" y="484.56"/><use href="#mp" x="626.48" y="484.77"/><use href="#mp" x="628.16" y="485"/><use href="#mp" x="629.85" y="485.23"/><use href="#mp" x="631.53" y="485.48"/><use href="#mp" x="633.21" y="485.74"/><use href="#mp" x="634.9" y="486.02"/><use href="#mp" x="636.58" y="486.3"/><use href="#mp" x="638.26" y="486.59"/><use href="#mp" x="639.95" y="486.89"/><use href="#mp" x="641.63" y="487.2"/><use href="#mp" x="643.31" y="487.51"/><use href="#mp" x="645" y="487.84"/><use href="#mp" x="646.68" y="488.17"/><use href="#mp" x="648.36" y="488.51"/><use href="#mp" x="650.05" y="488.86"/><use href="#mp" x="651.73" y="489.21"/><use href="#mp" x="653.41" y="489.57"/><use href="#mp" x="655.1" y="489.93"/><use href="#mp" x="656.78" y="490.3"/><use href="#mp" x="658.46" y="490.68"/><use href="#mp" x="660.15" y="491.05"/><use href="#mp" x="661.83" y="491.44"/><use href="#mp" x="663.51" y="491.82"/><use href="#mp" x="665.2" y="492.21"/><use href="#mp" x="666.88" y="492.6"/><use href="#mp" x="668.56" y="493"/><use href="#mp" x="670.25" y="493.39"/><use href="#mp" x="671.93" y="493.79"/><use href="#mp" x="673.61" y="494.18"/><use href="#mp" x="675.3" y="494.58"/><use href="#mp" x="676.98" y="494.98"/><use href="#mp" x="678.66" y="495.38"/><use href="#mp" x="680.35" y="495.77"/><use href="#mp" x="682.03" y="496.17"/><use href="#mp" x="683.71" y="496.56"/><use href="#mp" x="685.4" y="496.96"/><use href="#mp" x="687.08" y="497.35"/><use href="#mp" x="688.77" y="497.73"/><use href="#mp" x="690.45" y="498.12"/><use href="#mp" x="692.13" y="498.5"/><use href="#mp" x="693.82" y="498.87"/><use href="#mp" x="695.5" y="499.24"/><use href="#mp" x="697.18" y="499.61"/><use href="#mp" x="698.87" y="499.97"/><use href="#mp" x="700.55" y="500.32"/><use href="#mp" x="702.23" y="500.67"/><use href="#mp" x="703.92" y="501.02"/><use href="#mp" x="705.6" y="501.35"/><use href="#mp" x="707.28" y="501.68"/><use href="#mp" x="708.97" y="502"/><use href="#mp" x="710.65" y="502.31"/><use href="#mp" x="712.33" y="502.61"/><use href="#mp" x="714.02" y="502.91"/><use href="#mp" x="715.7" y="503.19"/>
<polyline points="126.5,543.23 127.55,542.89 128.6,542.54 129.66,542.2 130.71,541.86 131.76,541.51 132.81,541.17 133.87,540.83 134.92,540.49 135.97,540.15 137.02,539.81 138.07,539.47 139.13,539.13 140.18,538.79 141.23,538.45 142.28,538.12 143.33,537.78 144.39,537.45 145.44,537.11 146.49,536.78 147.54,536.44 148.6,536.11 149.65,535.77 150.7,535.44 151.75,535.11 152.8,534.78 153.86,534.44 154.91,534.11 155.96,533.78 157.01,533.45 158.06,533.12 159.12,532.8 160.17,532.47 161.22,532.14 162.27,531.81 163.33,531.48 164.38,531.16 165.43,530.83 166.48,530.51 167.53,530.18 168.59,529.86 169.64,529.53 170.69,529.21 171.74,528.88 172.79,528.56 173.85,528.24 174.9,527.92 175.95,527.59 177,527.27 178.06,526.95 179.11,526.63 180.16,526.31 181.21,525.99 182.26,525.67 183.32,525.35 184.37,525.04 185.42,524.72 186.47,524.4 187.52,524.08 188.58,523.77 189.63,523.45 190.68,523.13 191.73,522.82 192.79,522.5 193.84,522.19 194.89,521.87 195.94,521.56 196.99,521.25 198.05,520.93 199.1,520.62 200.15,520.31 201.2,519.99 202.25,519.68 203.31,519.37 204.36,519.06 205.41,518.75 206.46,518.44 207.52,518.13 208.57,517.82 209.62,517.51 210.67,517.2 211.72,516.89 212.78,516.58 213.83,516.27 214.88,515.96 215.93,515.66 216.98,515.35 218.04,515.04 219.09,514.74 220.14,514.43 221.19,514.12 222.25,513.82 223.3,513.51 224.35,513.21 225.4,512.9 226.45,512.6 227.51,512.29 228.56,511.99 229.61,511.68 230.66,511.38 231.71,511.07 232.77,510.77 233.82,510.47 234.87,510.17 235.92,509.86 236.98,509.56 238.03,509.26 239.08,508.96 240.13,508.65 241.18,508.35 242.24,508.05 243.29,507.75 244.34,507.45 245.39,507.15 246.44,506.85 247.5,506.55 248.55,506.25 249.6,505.95 250.65,505.65 251.71,505.35 252.76,505.05 253.81,504.75 254.86,504.45 255.91,504.16 256.97,503.86 258.02,503.56 259.07,503.26 260.12,502.96 261.17,502.66 262.23,502.37 263.28,502.07 264.33,501.77 265.38,501.48 266.44,501.18 267.49,500.88 268.54,500.59 269.59,500.29 270.64,499.99 271.7,499.7 272.75,499.4 273.8,499.1 274.85,498.81 275.9,498.51 276.96,498.22 278.01,497.92 279.06,497.63 280.11,497.33 281.17,497.04 282.22,496.75 283.27,496.46 284.32,496.17 285.37,495.88 286.43,495.59 287.48,495.31 288.53,495.02 289.58,494.74 290.63,494.47 291.69,494.19 292.74,493.92 293.79,493.65 294.84,493.38 295.9,493.12 296.95,492.86 298,492.61 299.05,492.35 300.1,492.11 301.16,491.86 302.21,491.63 303.26,491.39 304.31,491.16 305.36,490.94 306.42,490.72 307.47,490.51 308.52,490.3 309.57,490.09 310.63,489.9 311.68,489.71 312.73,489.52 313.78,489.35 314.83,489.17 315.89,489.01 316.94,488.85 317.99,488.7 319.04,488.56 320.09,488.42 321.15,488.3 322.2,488.18 323.25,488.06 324.3,487.96 325.36,487.86 326.41,487.78 327.46,487.7 328.51,487.63 329.56,487.57 330.62,487.52 331.67,487.48 332.72,487.45 333.77,487.43 334.82,487.42 335.88,487.42 336.93,487.42 337.98,487.44 339.03,487.48 340.09,487.52 341.14,487.57 342.19,487.63 343.24,487.71 344.29,487.8 345.35,487.9 346.4,488.01 347.45,488.13 348.5,488.27 349.55,488.41 350.61,488.57 351.66,488.75 352.71,488.94 353.76,489.14 354.82,489.35 355.87,489.58 356.92,489.82 357.97,490.07 359.02,490.34 360.08,490.63 361.13,490.93 362.18,491.24 363.23,491.57 364.28,491.91 365.34,492.27 366.39,492.65 367.44,493.04 368.49,493.44 369.55,493.86 370.6,494.3 371.65,494.76 372.7,495.23 373.75,495.72 374.81,496.22 375.86,496.75 376.91,497.29 377.96,497.85 379.01,498.43 380.07,499.03 381.12,499.66 382.17,500.31 383.22,500.99 384.28,501.71 385.33,502.46 386.38,503.24 387.43,504.06 388.48,504.92 389.54,505.82 390.59,506.76 391.64,507.74 392.69,508.78 393.74,509.86 394.8,510.99 395.85,512.18 396.9,513.42 397.95,514.72 399.01,516.07 400.06,517.49 401.11,518.97 402.16,520.51 403.21,522.12 404.27,523.8 405.32,525.55 406.37,527.37 407.42,529.27 408.47,531.24 409.53,533.28 410.58,535.38 411.63,537.55 412.68,539.76 413.74,542.03 414.79,544.34 415.84,546.69 416.89,549.08 417.94,551.5 419,553.94 420.05,556.4 421.1,558.88 422.15,561.37 423.2,563.87 424.26,566.36 425.31,568.85 426.36,571.34 427.41,573.81 428.47,576.26 429.52,578.69 430.57,581.09 431.62,583.46 432.67,585.79 433.73,588.08 434.78,590.32 435.83,592.51 436.88,594.64 437.93,596.71 438.99,598.71 440.04,600.64 441.09,602.49 442.14,604.27 443.2,605.95 444.25,607.55 445.3,609.05 446.35,610.45 447.4,611.76 448.46,612.97 449.51,614.09 450.56,615.11 451.61,616.03 452.66,616.85 453.72,617.58 454.77,618.21 455.82,618.74 456.87,619.18 457.93,619.51 458.98,619.75 460.03,619.89 461.08,619.93 462.13,619.87 463.19,619.72 464.24,619.46 465.29,619.11 466.34,618.65 467.39,618.1 468.45,617.44 469.5,616.69 470.55,615.84 471.6,614.88 472.66,613.82 473.71,612.67 474.76,611.41 475.81,610.05 476.86,608.59 477.92,607.03 478.97,605.37 480.02,603.61 481.07,601.74 482.12,599.8 483.18,597.8 484.23,595.76 485.28,593.7 486.33,591.64 487.39,589.61 488.44,587.58 489.49,585.56 490.54,583.54 491.59,581.5 492.65,579.44 493.7,577.36 494.75,575.24 495.8,573.08 496.85,570.86 497.91,568.59 498.96,566.26 500.01,563.88 501.06,561.47 502.12,559.02 503.17,556.55 504.22,554.06 505.27,551.57 506.32,549.07 507.38,546.58 508.43,544.1 509.48,541.65 510.53,539.22 511.58,536.84 512.64,534.5 513.69,532.21 514.74,529.98 515.79,527.82 516.85,525.74 517.9,523.73 518.95,521.8 520,519.94 521.05,518.15 522.11,516.43 523.16,514.78 524.21,513.19 525.26,511.67 526.31,510.21 527.37,508.81 528.42,507.48 529.47,506.19 530.52,504.97 531.58,503.79 532.63,502.67 533.68,501.6 534.73,500.58 535.78,499.6 536.84,498.67 537.89,497.78 538.94,496.94 539.99,496.13 541.04,495.36 542.1,494.63 543.15,493.93 544.2,493.27 545.25,492.63 546.31,492.03 547.36,491.45 548.41,490.9 549.46,490.37 550.51,489.87 551.57,489.39 552.62,488.92 553.67,488.47 554.72,488.04 555.77,487.62 556.83,487.22 557.88,486.82 558.93,486.44 559.98,486.06 561.04,485.7 562.09,485.35 563.14,485.01 564.19,484.69 565.24,484.37 566.3,484.06 567.35,483.77 568.4,483.48 569.45,483.21 570.5,482.94 571.56,482.69 572.61,482.44 573.66,482.21 574.71,481.98 575.77,481.77 576.82,481.56 577.87,481.37 578.92,481.18 579.97,481 581.03,480.84 582.08,480.68 583.13,480.53 584.18,480.39 585.23,480.26 586.29,480.13 587.34,480.02 588.39,479.91 589.44,479.82 590.5,479.73 591.55,479.65 592.6,479.57 593.65,479.51 594.7,479.45 595.76,479.41 596.81,479.36 597.86,479.33 598.91,479.31 599.96,479.29 601.02,479.28 602.07,479.27 603.12,479.28 604.17,479.29 605.23,479.3 606.28,479.33 607.33,479.36 608.38,479.4 609.43,479.44 610.49,479.49 611.54,479.55 612.59,479.61 613.64,479.68 614.69,479.75 615.75,479.84 616.8,479.92 617.85,480.01 618.9,480.11 619.96,480.22 621.01,480.32 622.06,480.44 623.11,480.56 624.16,480.68 625.22,480.81 626.27,480.95 627.32,481.09 628.37,481.23 629.42,481.38 630.48,481.53 631.53,481.69 632.58,481.85 633.63,482.02 634.69,482.18 635.74,482.36 636.79,482.54 637.84,482.72 638.89,482.9 639.95,483.09 641,483.28 642.05,483.48 643.1,483.68 644.15,483.88 645.21,484.08 646.26,484.29 647.31,484.5 648.36,484.71 649.42,484.93 650.47,485.15 651.52,485.37 652.57,485.59 653.62,485.82 654.68,486.05 655.73,486.28 656.78,486.51 657.83,486.74 658.88,486.98 659.94,487.21 660.99,487.45 662.04,487.69 663.09,487.93 664.15,488.17 665.2,488.42 666.25,488.66 667.3,488.91 668.35,489.15 669.41,489.4 670.46,489.65 671.51,489.89 672.56,490.14 673.61,490.39 674.67,490.64 675.72,490.89 676.77,491.14 677.82,491.38 678.88,491.63 679.93,491.88 680.98,492.13 682.03,492.38 683.08,492.62 684.14,492.87 685.19,493.11 686.24,493.36 687.29,493.6 688.34,493.84 689.4,494.08 690.45,494.32 691.5,494.56 692.55,494.79 693.61,495.03 694.66,495.26 695.71,495.49 696.76,495.72 697.81,495.95 698.87,496.17 699.92,496.4 700.97,496.62 702.02,496.83 703.07,497.05 704.13,497.26 705.18,497.47 706.23,497.68 707.28,497.88 708.34,498.08 709.39,498.28 710.44,498.48 711.49,498.67 712.54,498.85 713.6,499.04 714.65,499.22 715.7,499.39" fill="none" stroke="#4B64A8" stroke-width="2.4" stroke-linejoin="round" />
<use href="#mb" x="126.5" y="543.23"/><use href="#mb" x="128.18" y="542.68"/><use href="#mb" x="129.87" y="542.13"/><use href="#mb" x="131.55" y="541.58"/><use href="#mb" x="133.23" y="541.03"/><use href="#mb" x="134.92" y="540.49"/><use href="#mb" x="136.6" y="539.94"/><use href="#mb" x="138.28" y="539.4"/><use href="#mb" x="139.97" y="538.86"/><use href="#mb" x="141.65" y="538.32"/><use href="#mb" x="143.33" y="537.78"/><use href="#mb" x="145.02" y="537.24"/><use href="#mb" x="146.7" y="536.71"/><use href="#mb" x="148.38" y="536.17"/><use href="#mb" x="150.07" y="535.64"/><use href="#mb" x="151.75" y="535.11"/><use href="#mb" x="153.43" y="534.58"/><use href="#mb" x="155.12" y="534.05"/><use href="#mb" x="156.8" y="533.52"/><use href="#mb" x="158.49" y="532.99"/><use href="#mb" x="160.17" y="532.47"/><use href="#mb" x="161.85" y="531.94"/><use href="#mb" x="163.54" y="531.42"/><use href="#mb" x="165.22" y="530.9"/><use href="#mb" x="166.9" y="530.38"/><use href="#mb" x="168.59" y="529.86"/><use href="#mb" x="170.27" y="529.34"/><use href="#mb" x="171.95" y="528.82"/><use href="#mb" x="173.64" y="528.3"/><use href="#mb" x="175.32" y="527.79"/><use href="#mb" x="177" y="527.27"/><use href="#mb" x="178.69" y="526.76"/><use href="#mb" x="180.37" y="526.25"/><use href="#mb" x="182.05" y="525.74"/><use href="#mb" x="183.74" y="525.23"/><use href="#mb" x="185.42" y="524.72"/><use href="#mb" x="187.1" y="524.21"/><use href="#mb" x="188.79" y="523.7"/><use href="#mb" x="190.47" y="523.2"/><use href="#mb" x="192.15" y="522.69"/><use href="#mb" x="193.84" y="522.19"/><use href="#mb" x="195.52" y="521.69"/><use href="#mb" x="197.2" y="521.18"/><use href="#mb" x="198.89" y="520.68"/><use href="#mb" x="200.57" y="520.18"/><use href="#mb" x="202.25" y="519.68"/><use href="#mb" x="203.94" y="519.18"/><use href="#mb" x="205.62" y="518.69"/><use href="#mb" x="207.3" y="518.19"/><use href="#mb" x="208.99" y="517.69"/><use href="#mb" x="210.67" y="517.2"/><use href="#mb" x="212.35" y="516.7"/><use href="#mb" x="214.04" y="516.21"/><use href="#mb" x="215.72" y="515.72"/><use href="#mb" x="217.41" y="515.23"/><use href="#mb" x="219.09" y="514.74"/><use href="#mb" x="220.77" y="514.25"/><use href="#mb" x="222.46" y="513.76"/><use href="#mb" x="224.14" y="513.27"/><use href="#mb" x="225.82" y="512.78"/><use href="#mb" x="227.51" y="512.29"/><use href="#mb" x="229.19" y="511.8"/><use href="#mb" x="230.87" y="511.32"/><use href="#mb" x="232.56" y="510.83"/><use href="#mb" x="234.24" y="510.35"/><use href="#mb" x="235.92" y="509.86"/><use href="#mb" x="237.61" y="509.38"/><use href="#mb" x="239.29" y="508.9"/><use href="#mb" x="240.97" y="508.41"/><use href="#mb" x="242.66" y="507.93"/><use href="#mb" x="244.34" y="507.45"/><use href="#mb" x="246.02" y="506.97"/><use href="#mb" x="247.71" y="506.49"/><use href="#mb" x="249.39" y="506.01"/><use href="#mb" x="251.07" y="505.53"/><use href="#mb" x="252.76" y="505.05"/><use href="#mb" x="254.44" y="504.57"/><use href="#mb" x="256.12" y="504.1"/><use href="#mb" x="257.81" y="503.62"/><use href="#mb" x="259.49" y="503.14"/><use href="#mb" x="261.17" y="502.66"/><use href="#mb" x="262.86" y="502.19"/><use href="#mb" x="264.54" y="501.71"/><use href="#mb" x="266.22" y="501.24"/><use href="#mb" x="267.91" y="500.76"/><use href="#mb" x="269.59" y="500.29"/><use href="#mb" x="271.27" y="499.81"/><use href="#mb" x="272.96" y="499.34"/><use href="#mb" x="274.64" y="498.87"/><use href="#mb" x="276.33" y="498.39"/><use href="#mb" x="278.01" y="497.92"/><use href="#mb" x="279.69" y="497.45"/><use href="#mb" x="281.38" y="496.98"/><use href="#mb" x="283.06" y="496.51"/><use href="#mb" x="284.74" y="496.05"/><use href="#mb" x="286.43" y="495.59"/><use href="#mb" x="288.11" y="495.14"/><use href="#mb" x="289.79" y="494.69"/><use href="#mb" x="291.48" y="494.25"/><use href="#mb" x="293.16" y="493.81"/><use href="#mb" x="294.84" y="493.38"/><use href="#mb" x="296.53" y="492.96"/><use href="#mb" x="298.21" y="492.56"/><use href="#mb" x="299.89" y="492.16"/><use href="#mb" x="301.58" y="491.77"/><use href="#mb" x="303.26" y="491.39"/><use href="#mb" x="304.94" y="491.03"/><use href="#mb" x="306.63" y="490.68"/><use href="#mb" x="308.31" y="490.34"/><use href="#mb" x="309.99" y="490.02"/><use href="#mb" x="311.68" y="489.71"/><use href="#mb" x="313.36" y="489.42"/><use href="#mb" x="315.04" y="489.14"/><use href="#mb" x="316.73" y="488.88"/><use href="#mb" x="318.41" y="488.64"/><use href="#mb" x="320.09" y="488.42"/><use href="#mb" x="321.78" y="488.22"/><use href="#mb" x="323.46" y="488.04"/><use href="#mb" x="325.14" y="487.88"/><use href="#mb" x="326.83" y="487.75"/><use href="#mb" x="328.51" y="487.63"/><use href="#mb" x="330.19" y="487.54"/><use href="#mb" x="331.88" y="487.47"/><use href="#mb" x="333.56" y="487.43"/><use href="#mb" x="335.25" y="487.42"/><use href="#mb" x="336.93" y="487.42"/><use href="#mb" x="338.61" y="487.46"/><use href="#mb" x="340.3" y="487.53"/><use href="#mb" x="341.98" y="487.62"/><use href="#mb" x="343.66" y="487.74"/><use href="#mb" x="345.35" y="487.9"/><use href="#mb" x="347.03" y="488.08"/><use href="#mb" x="348.71" y="488.29"/><use href="#mb" x="350.4" y="488.54"/><use href="#mb" x="352.08" y="488.82"/><use href="#mb" x="353.76" y="489.14"/><use href="#mb" x="355.45" y="489.49"/><use href="#mb" x="357.13" y="489.87"/><use href="#mb" x="358.81" y="490.29"/><use href="#mb" x="360.5" y="490.75"/><use href="#mb" x="362.18" y="491.24"/><use href="#mb" x="363.86" y="491.77"/><use href="#mb" x="365.55" y="492.35"/><use href="#mb" x="367.23" y="492.96"/><use href="#mb" x="368.91" y="493.61"/><use href="#mb" x="370.6" y="494.3"/><use href="#mb" x="372.28" y="495.04"/><use href="#mb" x="373.96" y="495.82"/><use href="#mb" x="375.65" y="496.64"/><use href="#mb" x="377.33" y="497.51"/><use href="#mb" x="379.01" y="498.43"/><use href="#mb" x="380.7" y="499.4"/><use href="#mb" x="382.38" y="500.45"/><use href="#mb" x="384.06" y="501.56"/><use href="#mb" x="385.75" y="502.77"/><use href="#mb" x="387.43" y="504.06"/><use href="#mb" x="389.11" y="505.45"/><use href="#mb" x="390.8" y="506.95"/><use href="#mb" x="392.48" y="508.57"/><use href="#mb" x="394.17" y="510.31"/><use href="#mb" x="395.85" y="512.18"/><use href="#mb" x="397.53" y="514.19"/><use href="#mb" x="399.22" y="516.35"/><use href="#mb" x="400.9" y="518.67"/><use href="#mb" x="402.58" y="521.15"/><use href="#mb" x="404.27" y="523.8"/><use href="#mb" x="405.95" y="526.64"/><use href="#mb" x="407.63" y="529.66"/><use href="#mb" x="409.32" y="532.87"/><use href="#mb" x="411" y="536.24"/><use href="#mb" x="412.68" y="539.76"/><use href="#mb" x="414.37" y="543.41"/><use href="#mb" x="416.05" y="547.17"/><use href="#mb" x="417.73" y="551.01"/><use href="#mb" x="419.42" y="554.92"/><use href="#mb" x="421.1" y="558.88"/><use href="#mb" x="422.78" y="562.87"/><use href="#mb" x="424.47" y="566.86"/><use href="#mb" x="426.15" y="570.84"/><use href="#mb" x="427.83" y="574.79"/><use href="#mb" x="429.52" y="578.69"/><use href="#mb" x="431.2" y="582.52"/><use href="#mb" x="432.88" y="586.25"/><use href="#mb" x="434.57" y="589.87"/><use href="#mb" x="436.25" y="593.36"/><use href="#mb" x="437.93" y="596.71"/><use href="#mb" x="439.62" y="599.88"/><use href="#mb" x="441.3" y="602.85"/><use href="#mb" x="442.98" y="605.62"/><use href="#mb" x="444.67" y="608.16"/><use href="#mb" x="446.35" y="610.45"/><use href="#mb" x="448.03" y="612.5"/><use href="#mb" x="449.72" y="614.3"/><use href="#mb" x="451.4" y="615.85"/><use href="#mb" x="453.09" y="617.16"/><use href="#mb" x="454.77" y="618.21"/><use href="#mb" x="456.45" y="619.02"/><use href="#mb" x="458.14" y="619.57"/><use href="#mb" x="459.82" y="619.87"/><use href="#mb" x="461.5" y="619.92"/><use href="#mb" x="463.19" y="619.72"/><use href="#mb" x="464.87" y="619.26"/><use href="#mb" x="466.55" y="618.55"/><use href="#mb" x="468.24" y="617.58"/><use href="#mb" x="469.92" y="616.36"/><use href="#mb" x="471.6" y="614.88"/><use href="#mb" x="473.29" y="613.14"/><use href="#mb" x="474.97" y="611.15"/><use href="#mb" x="476.65" y="608.89"/><use href="#mb" x="478.34" y="606.38"/><use href="#mb" x="480.02" y="603.61"/><use href="#mb" x="481.7" y="600.59"/><use href="#mb" x="483.39" y="597.39"/><use href="#mb" x="485.07" y="594.11"/><use href="#mb" x="486.75" y="590.83"/><use href="#mb" x="488.44" y="587.58"/><use href="#mb" x="490.12" y="584.35"/><use href="#mb" x="491.8" y="581.09"/><use href="#mb" x="493.49" y="577.78"/><use href="#mb" x="495.17" y="574.38"/><use href="#mb" x="496.85" y="570.86"/><use href="#mb" x="498.54" y="567.2"/><use href="#mb" x="500.22" y="563.4"/><use href="#mb" x="501.9" y="559.51"/><use href="#mb" x="503.59" y="555.56"/><use href="#mb" x="505.27" y="551.57"/><use href="#mb" x="506.95" y="547.57"/><use href="#mb" x="508.64" y="543.61"/><use href="#mb" x="510.32" y="539.71"/><use href="#mb" x="512.01" y="535.9"/><use href="#mb" x="513.69" y="532.21"/><use href="#mb" x="515.37" y="528.68"/><use href="#mb" x="517.06" y="525.33"/><use href="#mb" x="518.74" y="522.18"/><use href="#mb" x="520.42" y="519.22"/><use href="#mb" x="522.11" y="516.43"/><use href="#mb" x="523.79" y="513.82"/><use href="#mb" x="525.47" y="511.38"/><use href="#mb" x="527.16" y="509.09"/><use href="#mb" x="528.84" y="506.96"/><use href="#mb" x="530.52" y="504.97"/><use href="#mb" x="532.21" y="503.11"/><use href="#mb" x="533.89" y="501.39"/><use href="#mb" x="535.57" y="499.79"/><use href="#mb" x="537.26" y="498.31"/><use href="#mb" x="538.94" y="496.94"/><use href="#mb" x="540.62" y="495.66"/><use href="#mb" x="542.31" y="494.49"/><use href="#mb" x="543.99" y="493.4"/><use href="#mb" x="545.67" y="492.39"/><use href="#mb" x="547.36" y="491.45"/><use href="#mb" x="549.04" y="490.58"/><use href="#mb" x="550.72" y="489.77"/><use href="#mb" x="552.41" y="489.01"/><use href="#mb" x="554.09" y="488.3"/><use href="#mb" x="555.77" y="487.62"/><use href="#mb" x="557.46" y="486.98"/><use href="#mb" x="559.14" y="486.36"/><use href="#mb" x="560.82" y="485.77"/><use href="#mb" x="562.51" y="485.22"/><use href="#mb" x="564.19" y="484.69"/><use href="#mb" x="565.87" y="484.18"/><use href="#mb" x="567.56" y="483.71"/><use href="#mb" x="569.24" y="483.26"/><use href="#mb" x="570.93" y="482.84"/><use href="#mb" x="572.61" y="482.44"/><use href="#mb" x="574.29" y="482.07"/><use href="#mb" x="575.98" y="481.73"/><use href="#mb" x="577.66" y="481.4"/><use href="#mb" x="579.34" y="481.11"/><use href="#mb" x="581.03" y="480.84"/><use href="#mb" x="582.71" y="480.59"/><use href="#mb" x="584.39" y="480.36"/><use href="#mb" x="586.08" y="480.16"/><use href="#mb" x="587.76" y="479.98"/><use href="#mb" x="589.44" y="479.82"/><use href="#mb" x="591.13" y="479.68"/><use href="#mb" x="592.81" y="479.56"/><use href="#mb" x="594.49" y="479.46"/><use href="#mb" x="596.18" y="479.39"/><use href="#mb" x="597.86" y="479.33"/><use href="#mb" x="599.54" y="479.29"/><use href="#mb" x="601.23" y="479.27"/><use href="#mb" x="602.91" y="479.27"/><use href="#mb" x="604.59" y="479.29"/><use href="#mb" x="606.28" y="479.33"/><use href="#mb" x="607.96" y="479.38"/><use href="#mb" x="609.64" y="479.45"/><use href="#mb" x="611.33" y="479.54"/><use href="#mb" x="613.01" y="479.64"/><use href="#mb" x="614.69" y="479.75"/><use href="#mb" x="616.38" y="479.89"/><use href="#mb" x="618.06" y="480.03"/><use href="#mb" x="619.74" y="480.19"/><use href="#mb" x="621.43" y="480.37"/><use href="#mb" x="623.11" y="480.56"/><use href="#mb" x="624.79" y="480.76"/><use href="#mb" x="626.48" y="480.97"/><use href="#mb" x="628.16" y="481.2"/><use href="#mb" x="629.85" y="481.44"/><use href="#mb" x="631.53" y="481.69"/><use href="#mb" x="633.21" y="481.95"/><use href="#mb" x="634.9" y="482.22"/><use href="#mb" x="636.58" y="482.5"/><use href="#mb" x="638.26" y="482.79"/><use href="#mb" x="639.95" y="483.09"/><use href="#mb" x="641.63" y="483.4"/><use href="#mb" x="643.31" y="483.72"/><use href="#mb" x="645" y="484.04"/><use href="#mb" x="646.68" y="484.37"/><use href="#mb" x="648.36" y="484.71"/><use href="#mb" x="650.05" y="485.06"/><use href="#mb" x="651.73" y="485.41"/><use href="#mb" x="653.41" y="485.77"/><use href="#mb" x="655.1" y="486.14"/><use href="#mb" x="656.78" y="486.51"/><use href="#mb" x="658.46" y="486.88"/><use href="#mb" x="660.15" y="487.26"/><use href="#mb" x="661.83" y="487.64"/><use href="#mb" x="663.51" y="488.03"/><use href="#mb" x="665.2" y="488.42"/><use href="#mb" x="666.88" y="488.81"/><use href="#mb" x="668.56" y="489.2"/><use href="#mb" x="670.25" y="489.6"/><use href="#mb" x="671.93" y="489.99"/><use href="#mb" x="673.61" y="490.39"/><use href="#mb" x="675.3" y="490.79"/><use href="#mb" x="676.98" y="491.19"/><use href="#mb" x="678.66" y="491.58"/><use href="#mb" x="680.35" y="491.98"/><use href="#mb" x="682.03" y="492.38"/><use href="#mb" x="683.71" y="492.77"/><use href="#mb" x="685.4" y="493.16"/><use href="#mb" x="687.08" y="493.55"/><use href="#mb" x="688.77" y="493.94"/><use href="#mb" x="690.45" y="494.32"/><use href="#mb" x="692.13" y="494.7"/><use href="#mb" x="693.82" y="495.08"/><use href="#mb" x="695.5" y="495.45"/><use href="#mb" x="697.18" y="495.81"/><use href="#mb" x="698.87" y="496.17"/><use href="#mb" x="700.55" y="496.53"/><use href="#mb" x="702.23" y="496.88"/><use href="#mb" x="703.92" y="497.22"/><use href="#mb" x="705.6" y="497.55"/><use href="#mb" x="707.28" y="497.88"/><use href="#mb" x="708.97" y="498.2"/><use href="#mb" x="710.65" y="498.51"/><use href="#mb" x="712.33" y="498.82"/><use href="#mb" x="714.02" y="499.11"/><use href="#mb" x="715.7" y="499.39"/>
</g>
<rect x="126.5" y="422" width="589.2" height="316.3" fill="none" stroke="#000" stroke-width="2.6"/>
<path d="M126.5 738.3H116.1M126.5 706.67H120.9M126.5 675.04H116.1M126.5 643.41H120.9M126.5 611.78H116.1M126.5 580.15H120.9M126.5 548.52H116.1M126.5 516.89H120.9M126.5 485.26H116.1M126.5 453.63H120.9M126.5 422H116.1M126.5 738.3V748.9M158.06 738.3V744.3M189.63 738.3V748.9M221.19 738.3V744.3M252.76 738.3V748.9M284.32 738.3V744.3M315.89 738.3V748.9M347.45 738.3V744.3M379.01 738.3V748.9M410.58 738.3V744.3M442.14 738.3V748.9M473.71 738.3V744.3M505.27 738.3V748.9M536.84 738.3V744.3M568.4 738.3V748.9M599.96 738.3V744.3M631.53 738.3V748.9M663.09 738.3V744.3M694.66 738.3V748.9" stroke="#000" stroke-width="2.4" fill="none"/>
<text transform="translate(110.1,747.7) scale(1,1.04)" text-anchor="end" class="t">0.0</text>
<text transform="translate(110.1,684.44) scale(1,1.04)" text-anchor="end" class="t">0.2</text>
<text transform="translate(110.1,621.18) scale(1,1.04)" text-anchor="end" class="t">0.4</text>
<text transform="translate(110.1,557.92) scale(1,1.04)" text-anchor="end" class="t">0.6</text>
<text transform="translate(110.1,494.66) scale(1,1.04)" text-anchor="end" class="t">0.8</text>
<text transform="translate(110.1,431.4) scale(1,1.04)" text-anchor="end" class="t">1.0</text>
<text transform="translate(126.5,776) scale(1,1.04)" text-anchor="middle" class="t">222</text>
<text transform="translate(189.63,776) scale(1,1.04)" text-anchor="middle" class="t">225</text>
<text transform="translate(252.76,776) scale(1,1.04)" text-anchor="middle" class="t">228</text>
<text transform="translate(315.89,776) scale(1,1.04)" text-anchor="middle" class="t">231</text>
<text transform="translate(379.01,776) scale(1,1.04)" text-anchor="middle" class="t">234</text>
<text transform="translate(442.14,776) scale(1,1.04)" text-anchor="middle" class="t">237</text>
<text transform="translate(505.27,776) scale(1,1.04)" text-anchor="middle" class="t">240</text>
<text transform="translate(568.4,776) scale(1,1.04)" text-anchor="middle" class="t">243</text>
<text transform="translate(631.53,776) scale(1,1.04)" text-anchor="middle" class="t">246</text>
<text transform="translate(694.66,776) scale(1,1.04)" text-anchor="middle" class="t">249</text>
<g clip-path="url(#clipd)">
<polyline points="884.5,495.87 885.55,495.81 886.61,495.76 887.66,495.7 888.71,495.63 889.77,495.57 890.82,495.5 891.88,495.42 892.93,495.35 893.98,495.27 895.04,495.19 896.09,495.1 897.14,495.01 898.2,494.92 899.25,494.83 900.3,494.73 901.36,494.63 902.41,494.53 903.46,494.43 904.52,494.32 905.57,494.21 906.63,494.1 907.68,493.98 908.73,493.86 909.79,493.74 910.84,493.62 911.89,493.5 912.95,493.37 914,493.24 915.05,493.11 916.11,492.98 917.16,492.84 918.21,492.7 919.27,492.56 920.32,492.42 921.38,492.28 922.43,492.13 923.48,491.99 924.54,491.84 925.59,491.69 926.64,491.54 927.7,491.38 928.75,491.23 929.8,491.07 930.86,490.91 931.91,490.75 932.96,490.59 934.02,490.43 935.07,490.26 936.13,490.1 937.18,489.93 938.23,489.76 939.29,489.59 940.34,489.42 941.39,489.25 942.45,489.08 943.5,488.91 944.55,488.73 945.61,488.56 946.66,488.38 947.71,488.21 948.77,488.03 949.82,487.85 950.88,487.67 951.93,487.49 952.98,487.31 954.04,487.13 955.09,486.95 956.14,486.77 957.2,486.59 958.25,486.41 959.3,486.23 960.36,486.04 961.41,485.86 962.46,485.68 963.52,485.5 964.57,485.31 965.63,485.13 966.68,484.95 967.73,484.77 968.79,484.58 969.84,484.4 970.89,484.22 971.95,484.04 973,483.86 974.05,483.67 975.11,483.49 976.16,483.31 977.21,483.13 978.27,482.95 979.32,482.77 980.38,482.6 981.43,482.42 982.48,482.24 983.54,482.07 984.59,481.89 985.64,481.72 986.7,481.54 987.75,481.37 988.8,481.2 989.86,481.03 990.91,480.86 991.96,480.69 993.02,480.52 994.07,480.36 995.13,480.19 996.18,480.03 997.23,479.87 998.29,479.71 999.34,479.55 1000.39,479.39 1001.45,479.23 1002.5,479.08 1003.55,478.92 1004.61,478.77 1005.66,478.62 1006.71,478.47 1007.77,478.33 1008.82,478.18 1009.88,478.04 1010.93,477.9 1011.98,477.76 1013.04,477.63 1014.09,477.49 1015.14,477.36 1016.2,477.23 1017.25,477.1 1018.3,476.98 1019.36,476.85 1020.41,476.73 1021.46,476.61 1022.52,476.5 1023.57,476.38 1024.63,476.27 1025.68,476.16 1026.73,476.06 1027.79,475.95 1028.84,475.85 1029.89,475.75 1030.95,475.66 1032,475.57 1033.05,475.48 1034.11,475.39 1035.16,475.31 1036.21,475.23 1037.27,475.15 1038.32,475.07 1039.38,475 1040.43,474.93 1041.48,474.87 1042.54,474.81 1043.59,474.75 1044.64,474.69 1045.7,474.64 1046.75,474.6 1047.8,474.55 1048.86,474.51 1049.91,474.47 1050.96,474.44 1052.02,474.41 1053.07,474.38 1054.13,474.36 1055.18,474.34 1056.23,474.33 1057.29,474.32 1058.34,474.31 1059.39,474.31 1060.45,474.31 1061.5,474.31 1062.55,474.32 1063.61,474.34 1064.66,474.35 1065.71,474.38 1066.77,474.4 1067.82,474.44 1068.88,474.47 1069.93,474.52 1070.98,474.57 1072.04,474.62 1073.09,474.68 1074.14,474.75 1075.2,474.82 1076.25,474.9 1077.3,474.99 1078.36,475.09 1079.41,475.19 1080.46,475.3 1081.52,475.42 1082.57,475.55 1083.63,475.69 1084.68,475.83 1085.73,475.99 1086.79,476.15 1087.84,476.33 1088.89,476.51 1089.95,476.7 1091,476.91 1092.05,477.12 1093.11,477.35 1094.16,477.59 1095.21,477.84 1096.27,478.1 1097.32,478.37 1098.38,478.66 1099.43,478.95 1100.48,479.26 1101.54,479.59 1102.59,479.92 1103.64,480.27 1104.7,480.64 1105.75,481.01 1106.8,481.4 1107.86,481.81 1108.91,482.23 1109.96,482.67 1111.02,483.12 1112.07,483.58 1113.13,484.06 1114.18,484.56 1115.23,485.08 1116.29,485.61 1117.34,486.15 1118.39,486.72 1119.45,487.3 1120.5,487.9 1121.55,488.51 1122.61,489.15 1123.66,489.8 1124.71,490.47 1125.77,491.16 1126.82,491.86 1127.88,492.58 1128.93,493.31 1129.98,494.05 1131.04,494.8 1132.09,495.56 1133.14,496.33 1134.2,497.1 1135.25,497.87 1136.3,498.65 1137.36,499.42 1138.41,500.2 1139.46,500.97 1140.52,501.73 1141.57,502.49 1142.63,503.24 1143.68,503.99 1144.73,504.72 1145.79,505.43 1146.84,506.14 1147.89,506.82 1148.95,507.49 1150,508.14 1151.05,508.77 1152.11,509.38 1153.16,509.96 1154.21,510.51 1155.27,511.04 1156.32,511.54 1157.38,512.01 1158.43,512.45 1159.48,512.86 1160.54,513.23 1161.59,513.56 1162.64,513.85 1163.7,514.1 1164.75,514.32 1165.8,514.49 1166.86,514.61 1167.91,514.69 1168.96,514.72 1170.02,514.69 1171.07,514.62 1172.13,514.5 1173.18,514.32 1174.23,514.08 1175.29,513.8 1176.34,513.46 1177.39,513.07 1178.45,512.64 1179.5,512.16 1180.55,511.65 1181.61,511.09 1182.66,510.5 1183.71,509.88 1184.77,509.23 1185.82,508.55 1186.88,507.85 1187.93,507.12 1188.98,506.38 1190.04,505.62 1191.09,504.84 1192.14,504.06 1193.2,503.26 1194.25,502.46 1195.3,501.66 1196.36,500.85 1197.41,500.05 1198.46,499.25 1199.52,498.45 1200.57,497.67 1201.63,496.9 1202.68,496.13 1203.73,495.38 1204.79,494.64 1205.84,493.91 1206.89,493.19 1207.95,492.48 1209,491.78 1210.05,491.09 1211.11,490.41 1212.16,489.73 1213.21,489.07 1214.27,488.42 1215.32,487.78 1216.38,487.15 1217.43,486.53 1218.48,485.92 1219.54,485.32 1220.59,484.72 1221.64,484.14 1222.7,483.57 1223.75,483 1224.8,482.45 1225.86,481.9 1226.91,481.37 1227.96,480.84 1229.02,480.32 1230.07,479.81 1231.13,479.31 1232.18,478.82 1233.23,478.34 1234.29,477.86 1235.34,477.4 1236.39,476.94 1237.45,476.49 1238.5,476.05 1239.55,475.62 1240.61,475.2 1241.66,474.79 1242.71,474.38 1243.77,473.98 1244.82,473.6 1245.88,473.21 1246.93,472.84 1247.98,472.48 1249.04,472.12 1250.09,471.77 1251.14,471.43 1252.2,471.1 1253.25,470.77 1254.3,470.45 1255.36,470.14 1256.41,469.84 1257.46,469.55 1258.52,469.26 1259.57,468.98 1260.63,468.71 1261.68,468.44 1262.73,468.18 1263.79,467.93 1264.84,467.69 1265.89,467.45 1266.95,467.22 1268,467 1269.05,466.78 1270.11,466.57 1271.16,466.37 1272.21,466.17 1273.27,465.98 1274.32,465.8 1275.38,465.63 1276.43,465.46 1277.48,465.29 1278.54,465.14 1279.59,464.99 1280.64,464.84 1281.7,464.71 1282.75,464.57 1283.8,464.45 1284.86,464.33 1285.91,464.21 1286.96,464.11 1288.02,464 1289.07,463.91 1290.13,463.82 1291.18,463.73 1292.23,463.65 1293.29,463.58 1294.34,463.51 1295.39,463.45 1296.45,463.39 1297.5,463.34 1298.55,463.3 1299.61,463.25 1300.66,463.22 1301.71,463.19 1302.77,463.16 1303.82,463.14 1304.88,463.12 1305.93,463.11 1306.98,463.11 1308.04,463.1 1309.09,463.11 1310.14,463.12 1311.2,463.13 1312.25,463.14 1313.3,463.17 1314.36,463.19 1315.41,463.22 1316.46,463.26 1317.52,463.29 1318.57,463.34 1319.63,463.38 1320.68,463.44 1321.73,463.49 1322.79,463.55 1323.84,463.61 1324.89,463.68 1325.95,463.75 1327,463.82 1328.05,463.9 1329.11,463.98 1330.16,464.07 1331.21,464.16 1332.27,464.25 1333.32,464.34 1334.38,464.44 1335.43,464.54 1336.48,464.65 1337.54,464.76 1338.59,464.87 1339.64,464.98 1340.7,465.1 1341.75,465.22 1342.8,465.35 1343.86,465.47 1344.91,465.6 1345.96,465.73 1347.02,465.87 1348.07,466.01 1349.13,466.15 1350.18,466.29 1351.23,466.44 1352.29,466.58 1353.34,466.74 1354.39,466.89 1355.45,467.05 1356.5,467.2 1357.55,467.36 1358.61,467.53 1359.66,467.69 1360.71,467.86 1361.77,468.03 1362.82,468.2 1363.88,468.38 1364.93,468.56 1365.98,468.73 1367.04,468.92 1368.09,469.1 1369.14,469.28 1370.2,469.47 1371.25,469.66 1372.3,469.85 1373.36,470.04 1374.41,470.24 1375.46,470.43 1376.52,470.63 1377.57,470.83 1378.63,471.03 1379.68,471.23 1380.73,471.44 1381.79,471.64 1382.84,471.85 1383.89,472.06 1384.95,472.27 1386,472.48 1387.05,472.69 1388.11,472.9 1389.16,473.12 1390.21,473.33 1391.27,473.55 1392.32,473.77 1393.38,473.99 1394.43,474.21 1395.48,474.43 1396.54,474.65 1397.59,474.87 1398.64,475.1 1399.7,475.32 1400.75,475.55 1401.8,475.78 1402.86,476 1403.91,476.23 1404.96,476.46 1406.02,476.69 1407.07,476.92 1408.13,477.15 1409.18,477.38 1410.23,477.61 1411.29,477.84 1412.34,478.07 1413.39,478.3 1414.45,478.53 1415.5,478.77 1416.55,479 1417.61,479.23 1418.66,479.46 1419.71,479.7 1420.77,479.93 1421.82,480.16 1422.88,480.39 1423.93,480.63 1424.98,480.86 1426.04,481.09 1427.09,481.32 1428.14,481.55 1429.2,481.78 1430.25,482.02 1431.3,482.25 1432.36,482.48 1433.41,482.71 1434.46,482.94 1435.52,483.16 1436.57,483.39 1437.63,483.62 1438.68,483.85 1439.73,484.07 1440.79,484.3 1441.84,484.52 1442.89,484.75 1443.95,484.97 1445,485.19 1446.05,485.41 1447.11,485.63 1448.16,485.85 1449.21,486.07 1450.27,486.29 1451.32,486.5 1452.38,486.72 1453.43,486.93 1454.48,487.14 1455.54,487.35 1456.59,487.56 1457.64,487.77 1458.7,487.98 1459.75,488.18 1460.8,488.39 1461.86,488.59 1462.91,488.79 1463.96,488.99 1465.02,489.18 1466.07,489.38 1467.13,489.57 1468.18,489.77 1469.23,489.96 1470.29,490.14 1471.34,490.33 1472.39,490.52 1473.45,490.7 1474.5,490.88" fill="none" stroke="#4B64A8" stroke-width="2.4" stroke-linejoin="round" />
<polyline points="884.5,492.92 885.55,492.87 886.61,492.81 887.66,492.75 888.71,492.69 889.77,492.62 890.82,492.54 891.88,492.47 892.93,492.39 893.98,492.3 895.04,492.21 896.09,492.12 897.14,492.03 898.2,491.93 899.25,491.83 900.3,491.73 901.36,491.63 902.41,491.52 903.46,491.41 904.52,491.29 905.57,491.17 906.63,491.06 907.68,490.93 908.73,490.81 909.79,490.68 910.84,490.56 911.89,490.42 912.95,490.29 914,490.16 915.05,490.02 916.11,489.88 917.16,489.74 918.21,489.6 919.27,489.46 920.32,489.32 921.38,489.17 922.43,489.02 923.48,488.87 924.54,488.73 925.59,488.58 926.64,488.42 927.7,488.27 928.75,488.12 929.8,487.96 930.86,487.81 931.91,487.66 932.96,487.5 934.02,487.34 935.07,487.19 936.13,487.03 937.18,486.88 938.23,486.72 939.29,486.56 940.34,486.41 941.39,486.25 942.45,486.09 943.5,485.94 944.55,485.78 945.61,485.63 946.66,485.47 947.71,485.32 948.77,485.17 949.82,485.01 950.88,484.86 951.93,484.71 952.98,484.56 954.04,484.42 955.09,484.27 956.14,484.12 957.2,483.98 958.25,483.84 959.3,483.7 960.36,483.56 961.41,483.42 962.46,483.28 963.52,483.15 964.57,483.02 965.63,482.89 966.68,482.76 967.73,482.63 968.79,482.51 969.84,482.39 970.89,482.27 971.95,482.15 973,482.04 974.05,481.93 975.11,481.82 976.16,481.72 977.21,481.61 978.27,481.51 979.32,481.42 980.38,481.33 981.43,481.24 982.48,481.15 983.54,481.07 984.59,480.99 985.64,480.91 986.7,480.84 987.75,480.77 988.8,480.7 989.86,480.64 990.91,480.59 991.96,480.53 993.02,480.48 994.07,480.44 995.13,480.4 996.18,480.36 997.23,480.33 998.29,480.31 999.34,480.28 1000.39,480.27 1001.45,480.25 1002.5,480.25 1003.55,480.24 1004.61,480.24 1005.66,480.25 1006.71,480.26 1007.77,480.28 1008.82,480.3 1009.88,480.33 1010.93,480.37 1011.98,480.41 1013.04,480.45 1014.09,480.5 1015.14,480.56 1016.2,480.62 1017.25,480.69 1018.3,480.77 1019.36,480.85 1020.41,480.93 1021.46,481.03 1022.52,481.13 1023.57,481.23 1024.63,481.35 1025.68,481.47 1026.73,481.59 1027.79,481.73 1028.84,481.87 1029.89,482.01 1030.95,482.17 1032,482.33 1033.05,482.5 1034.11,482.67 1035.16,482.86 1036.21,483.05 1037.27,483.25 1038.32,483.45 1039.38,483.67 1040.43,483.89 1041.48,484.12 1042.54,484.35 1043.59,484.6 1044.64,484.85 1045.7,485.11 1046.75,485.38 1047.8,485.66 1048.86,485.95 1049.91,486.24 1050.96,486.55 1052.02,486.86 1053.07,487.18 1054.13,487.51 1055.18,487.85 1056.23,488.2 1057.29,488.55 1058.34,488.92 1059.39,489.29 1060.45,489.68 1061.5,490.07 1062.55,490.48 1063.61,490.89 1064.66,491.31 1065.71,491.74 1066.77,492.19 1067.82,492.64 1068.88,493.1 1069.93,493.57 1070.98,494.05 1072.04,494.55 1073.09,495.05 1074.14,495.56 1075.2,496.09 1076.25,496.62 1077.3,497.17 1078.36,497.74 1079.41,498.32 1080.46,498.92 1081.52,499.54 1082.57,500.18 1083.63,500.84 1084.68,501.53 1085.73,502.25 1086.79,502.99 1087.84,503.76 1088.89,504.56 1089.95,505.4 1091,506.27 1092.05,507.17 1093.11,508.12 1094.16,509.1 1095.21,510.12 1096.27,511.18 1097.32,512.29 1098.38,513.44 1099.43,514.64 1100.48,515.89 1101.54,517.19 1102.59,518.54 1103.64,519.94 1104.7,521.39 1105.75,522.91 1106.8,524.48 1107.86,526.11 1108.91,527.8 1109.96,529.55 1111.02,531.36 1112.07,533.25 1113.13,535.2 1114.18,537.21 1115.23,539.3 1116.29,541.46 1117.34,543.7 1118.39,546.01 1119.45,548.39 1120.5,550.85 1121.55,553.4 1122.61,556.02 1123.66,558.73 1124.71,561.52 1125.77,564.4 1126.82,567.37 1127.88,570.42 1128.93,573.57 1129.98,576.8 1131.04,580.14 1132.09,583.56 1133.14,587.06 1134.2,590.62 1135.25,594.22 1136.3,597.83 1137.36,601.45 1138.41,605.05 1139.46,608.61 1140.52,612.11 1141.57,615.54 1142.63,618.88 1143.68,622.15 1144.73,625.34 1145.79,628.49 1146.84,631.6 1147.89,634.69 1148.95,637.76 1150,640.83 1151.05,643.89 1152.11,646.96 1153.16,650.04 1154.21,653.14 1155.27,656.26 1156.32,659.41 1157.38,662.6 1158.43,665.84 1159.48,669.12 1160.54,672.45 1161.59,675.8 1162.64,679.15 1163.7,682.44 1164.75,685.67 1165.8,688.77 1166.86,691.74 1167.91,694.52 1168.96,697.1 1170.02,699.43 1171.07,701.48 1172.13,703.21 1173.18,704.61 1174.23,705.62 1175.29,706.22 1176.34,706.39 1177.39,706.14 1178.45,705.52 1179.5,704.55 1180.55,703.27 1181.61,701.71 1182.66,699.92 1183.71,697.91 1184.77,695.74 1185.82,693.42 1186.88,691 1187.93,688.5 1188.98,685.94 1190.04,683.32 1191.09,680.65 1192.14,677.92 1193.2,675.15 1194.25,672.34 1195.3,669.48 1196.36,666.59 1197.41,663.66 1198.46,660.7 1199.52,657.72 1200.57,654.72 1201.63,651.69 1202.68,648.65 1203.73,645.6 1204.79,642.54 1205.84,639.48 1206.89,636.41 1207.95,633.35 1209,630.29 1210.05,627.25 1211.11,624.21 1212.16,621.2 1213.21,618.2 1214.27,615.23 1215.32,612.29 1216.38,609.37 1217.43,606.49 1218.48,603.66 1219.54,600.86 1220.59,598.11 1221.64,595.4 1222.7,592.75 1223.75,590.16 1224.8,587.62 1225.86,585.15 1226.91,582.73 1227.96,580.37 1229.02,578.07 1230.07,575.82 1231.13,573.63 1232.18,571.48 1233.23,569.4 1234.29,567.36 1235.34,565.38 1236.39,563.44 1237.45,561.55 1238.5,559.71 1239.55,557.92 1240.61,556.18 1241.66,554.48 1242.71,552.82 1243.77,551.21 1244.82,549.64 1245.88,548.11 1246.93,546.62 1247.98,545.17 1249.04,543.77 1250.09,542.39 1251.14,541.06 1252.2,539.76 1253.25,538.5 1254.3,537.27 1255.36,536.07 1256.41,534.91 1257.46,533.78 1258.52,532.68 1259.57,531.6 1260.63,530.56 1261.68,529.55 1262.73,528.56 1263.79,527.59 1264.84,526.66 1265.89,525.74 1266.95,524.85 1268,523.98 1269.05,523.14 1270.11,522.31 1271.16,521.5 1272.21,520.72 1273.27,519.95 1274.32,519.19 1275.38,518.45 1276.43,517.73 1277.48,517.02 1278.54,516.32 1279.59,515.64 1280.64,514.97 1281.7,514.3 1282.75,513.65 1283.8,513.01 1284.86,512.38 1285.91,511.76 1286.96,511.15 1288.02,510.55 1289.07,509.97 1290.13,509.39 1291.18,508.82 1292.23,508.26 1293.29,507.71 1294.34,507.18 1295.39,506.65 1296.45,506.13 1297.5,505.62 1298.55,505.12 1299.61,504.63 1300.66,504.15 1301.71,503.68 1302.77,503.22 1303.82,502.77 1304.88,502.33 1305.93,501.89 1306.98,501.47 1308.04,501.05 1309.09,500.65 1310.14,500.25 1311.2,499.86 1312.25,499.48 1313.3,499.11 1314.36,498.75 1315.41,498.4 1316.46,498.05 1317.52,497.71 1318.57,497.39 1319.63,497.07 1320.68,496.75 1321.73,496.45 1322.79,496.15 1323.84,495.87 1324.89,495.59 1325.95,495.31 1327,495.05 1328.05,494.79 1329.11,494.54 1330.16,494.3 1331.21,494.07 1332.27,493.84 1333.32,493.62 1334.38,493.41 1335.43,493.21 1336.48,493.01 1337.54,492.82 1338.59,492.64 1339.64,492.46 1340.7,492.29 1341.75,492.13 1342.8,491.97 1343.86,491.82 1344.91,491.68 1345.96,491.55 1347.02,491.42 1348.07,491.29 1349.13,491.18 1350.18,491.07 1351.23,490.96 1352.29,490.86 1353.34,490.77 1354.39,490.68 1355.45,490.6 1356.5,490.53 1357.55,490.46 1358.61,490.4 1359.66,490.34 1360.71,490.29 1361.77,490.24 1362.82,490.2 1363.88,490.16 1364.93,490.13 1365.98,490.11 1367.04,490.09 1368.09,490.07 1369.14,490.06 1370.2,490.06 1371.25,490.06 1372.3,490.06 1373.36,490.07 1374.41,490.08 1375.46,490.1 1376.52,490.13 1377.57,490.15 1378.63,490.18 1379.68,490.22 1380.73,490.26 1381.79,490.31 1382.84,490.35 1383.89,490.41 1384.95,490.46 1386,490.52 1387.05,490.59 1388.11,490.65 1389.16,490.73 1390.21,490.8 1391.27,490.88 1392.32,490.96 1393.38,491.05 1394.43,491.13 1395.48,491.23 1396.54,491.32 1397.59,491.42 1398.64,491.52 1399.7,491.62 1400.75,491.73 1401.8,491.84 1402.86,491.95 1403.91,492.07 1404.96,492.19 1406.02,492.31 1407.07,492.43 1408.13,492.56 1409.18,492.68 1410.23,492.81 1411.29,492.95 1412.34,493.08 1413.39,493.22 1414.45,493.35 1415.5,493.49 1416.55,493.64 1417.61,493.78 1418.66,493.93 1419.71,494.07 1420.77,494.22 1421.82,494.37 1422.88,494.52 1423.93,494.68 1424.98,494.83 1426.04,494.99 1427.09,495.14 1428.14,495.3 1429.2,495.46 1430.25,495.62 1431.3,495.78 1432.36,495.94 1433.41,496.1 1434.46,496.26 1435.52,496.43 1436.57,496.59 1437.63,496.75 1438.68,496.92 1439.73,497.08 1440.79,497.25 1441.84,497.41 1442.89,497.58 1443.95,497.74 1445,497.91 1446.05,498.07 1447.11,498.24 1448.16,498.4 1449.21,498.57 1450.27,498.73 1451.32,498.9 1452.38,499.06 1453.43,499.22 1454.48,499.38 1455.54,499.54 1456.59,499.7 1457.64,499.86 1458.7,500.02 1459.75,500.18 1460.8,500.33 1461.86,500.49 1462.91,500.64 1463.96,500.8 1465.02,500.95 1466.07,501.1 1467.13,501.24 1468.18,501.39 1469.23,501.54 1470.29,501.68 1471.34,501.82 1472.39,501.96 1473.45,502.1 1474.5,502.23" fill="none" stroke="#D11A20" stroke-width="2.4" stroke-linejoin="round" />
<polyline points="884.5,521.94 885.55,521.81 886.61,521.68 887.66,521.54 888.71,521.4 889.77,521.26 890.82,521.11 891.88,520.96 892.93,520.81 893.98,520.65 895.04,520.49 896.09,520.33 897.14,520.16 898.2,520 899.25,519.83 900.3,519.65 901.36,519.48 902.41,519.3 903.46,519.12 904.52,518.93 905.57,518.75 906.63,518.56 907.68,518.37 908.73,518.18 909.79,517.98 910.84,517.78 911.89,517.59 912.95,517.38 914,517.18 915.05,516.98 916.11,516.77 917.16,516.57 918.21,516.36 919.27,516.15 920.32,515.93 921.38,515.72 922.43,515.51 923.48,515.29 924.54,515.08 925.59,514.86 926.64,514.64 927.7,514.42 928.75,514.2 929.8,513.98 930.86,513.76 931.91,513.54 932.96,513.31 934.02,513.09 935.07,512.87 936.13,512.64 937.18,512.42 938.23,512.19 939.29,511.97 940.34,511.74 941.39,511.52 942.45,511.3 943.5,511.07 944.55,510.85 945.61,510.62 946.66,510.4 947.71,510.18 948.77,509.95 949.82,509.73 950.88,509.51 951.93,509.29 952.98,509.07 954.04,508.85 955.09,508.63 956.14,508.42 957.2,508.2 958.25,507.99 959.3,507.77 960.36,507.56 961.41,507.35 962.46,507.14 963.52,506.93 964.57,506.72 965.63,506.52 966.68,506.32 967.73,506.12 968.79,505.92 969.84,505.72 970.89,505.52 971.95,505.33 973,505.14 974.05,504.95 975.11,504.76 976.16,504.58 977.21,504.39 978.27,504.21 979.32,504.04 980.38,503.86 981.43,503.69 982.48,503.52 983.54,503.35 984.59,503.19 985.64,503.03 986.7,502.87 987.75,502.72 988.8,502.56 989.86,502.42 990.91,502.27 991.96,502.13 993.02,501.99 994.07,501.86 995.13,501.73 996.18,501.6 997.23,501.47 998.29,501.35 999.34,501.24 1000.39,501.13 1001.45,501.02 1002.5,500.91 1003.55,500.81 1004.61,500.72 1005.66,500.63 1006.71,500.54 1007.77,500.46 1008.82,500.38 1009.88,500.31 1010.93,500.24 1011.98,500.17 1013.04,500.11 1014.09,500.06 1015.14,500.01 1016.2,499.96 1017.25,499.92 1018.3,499.89 1019.36,499.86 1020.41,499.84 1021.46,499.82 1022.52,499.8 1023.57,499.8 1024.63,499.79 1025.68,499.8 1026.73,499.8 1027.79,499.82 1028.84,499.84 1029.89,499.87 1030.95,499.9 1032,499.94 1033.05,499.98 1034.11,500.03 1035.16,500.09 1036.21,500.15 1037.27,500.22 1038.32,500.3 1039.38,500.38 1040.43,500.47 1041.48,500.56 1042.54,500.66 1043.59,500.77 1044.64,500.89 1045.7,501.01 1046.75,501.14 1047.8,501.28 1048.86,501.42 1049.91,501.57 1050.96,501.73 1052.02,501.9 1053.07,502.07 1054.13,502.25 1055.18,502.44 1056.23,502.64 1057.29,502.85 1058.34,503.07 1059.39,503.31 1060.45,503.55 1061.5,503.81 1062.55,504.09 1063.61,504.38 1064.66,504.69 1065.71,505.02 1066.77,505.36 1067.82,505.73 1068.88,506.12 1069.93,506.53 1070.98,506.96 1072.04,507.42 1073.09,507.9 1074.14,508.41 1075.2,508.94 1076.25,509.51 1077.3,510.1 1078.36,510.72 1079.41,511.37 1080.46,512.05 1081.52,512.77 1082.57,513.52 1083.63,514.31 1084.68,515.13 1085.73,515.99 1086.79,516.88 1087.84,517.81 1088.89,518.79 1089.95,519.8 1091,520.86 1092.05,521.96 1093.11,523.1 1094.16,524.28 1095.21,525.51 1096.27,526.79 1097.32,528.12 1098.38,529.49 1099.43,530.91 1100.48,532.38 1101.54,533.91 1102.59,535.48 1103.64,537.11 1104.7,538.8 1105.75,540.53 1106.8,542.33 1107.86,544.18 1108.91,546.09 1109.96,548.06 1111.02,550.09 1112.07,552.18 1113.13,554.33 1114.18,556.54 1115.23,558.82 1116.29,561.16 1117.34,563.57 1118.39,566.05 1119.45,568.59 1120.5,571.2 1121.55,573.88 1122.61,576.64 1123.66,579.46 1124.71,582.35 1125.77,585.29 1126.82,588.23 1127.88,591.12 1128.93,593.92 1129.98,596.58 1131.04,599.05 1132.09,601.3 1133.14,603.42 1134.2,605.46 1135.25,607.53 1136.3,609.71 1137.36,612.08 1138.41,614.72 1139.46,617.72 1140.52,621.03 1141.57,624.52 1142.63,628.06 1143.68,631.51 1144.73,634.84 1145.79,638.05 1146.84,641.16 1147.89,644.19 1148.95,647.16 1150,650.09 1151.05,652.98 1152.11,655.86 1153.16,658.75 1154.21,661.66 1155.27,664.61 1156.32,667.62 1157.38,670.7 1158.43,673.85 1159.48,677.08 1160.54,680.35 1161.59,683.65 1162.64,686.99 1163.7,690.32 1164.75,693.66 1165.8,696.97 1166.86,700.26 1167.91,703.49 1168.96,706.66 1170.02,709.73 1171.07,712.51 1172.13,714.78 1173.18,716.34 1174.23,716.96 1175.29,716.56 1176.34,715.3 1177.39,713.39 1178.45,711.01 1179.5,708.39 1180.55,705.68 1181.61,702.94 1182.66,700.18 1183.71,697.41 1184.77,694.66 1185.82,691.94 1186.88,689.26 1187.93,686.64 1188.98,684.07 1190.04,681.54 1191.09,679.05 1192.14,676.57 1193.2,674.1 1194.25,671.63 1195.3,669.15 1196.36,666.64 1197.41,664.09 1198.46,661.49 1199.52,658.83 1200.57,656.1 1201.63,653.28 1202.68,650.38 1203.73,647.36 1204.79,644.23 1205.84,640.97 1206.89,637.56 1207.95,634.01 1209,630.29 1210.05,626.41 1211.11,622.38 1212.16,618.26 1213.21,614.07 1214.27,609.85 1215.32,605.64 1216.38,601.48 1217.43,597.4 1218.48,593.43 1219.54,589.57 1220.59,585.84 1221.64,582.21 1222.7,578.69 1223.75,575.28 1224.8,571.98 1225.86,568.78 1226.91,565.68 1227.96,562.68 1229.02,559.77 1230.07,556.96 1231.13,554.24 1232.18,551.61 1233.23,549.07 1234.29,546.61 1235.34,544.23 1236.39,541.94 1237.45,539.72 1238.5,537.58 1239.55,535.51 1240.61,533.52 1241.66,531.59 1242.71,529.73 1243.77,527.93 1244.82,526.2 1245.88,524.53 1246.93,522.91 1247.98,521.35 1249.04,519.84 1250.09,518.39 1251.14,516.98 1252.2,515.62 1253.25,514.31 1254.3,513.03 1255.36,511.8 1256.41,510.6 1257.46,509.44 1258.52,508.31 1259.57,507.22 1260.63,506.15 1261.68,505.11 1262.73,504.09 1263.79,503.09 1264.84,502.11 1265.89,501.15 1266.95,500.21 1268,499.28 1269.05,498.37 1270.11,497.48 1271.16,496.6 1272.21,495.74 1273.27,494.89 1274.32,494.06 1275.38,493.24 1276.43,492.44 1277.48,491.66 1278.54,490.88 1279.59,490.13 1280.64,489.39 1281.7,488.66 1282.75,487.95 1283.8,487.25 1284.86,486.57 1285.91,485.9 1286.96,485.24 1288.02,484.6 1289.07,483.97 1290.13,483.36 1291.18,482.76 1292.23,482.17 1293.29,481.59 1294.34,481.03 1295.39,480.48 1296.45,479.94 1297.5,479.41 1298.55,478.9 1299.61,478.4 1300.66,477.91 1301.71,477.43 1302.77,476.96 1303.82,476.51 1304.88,476.07 1305.93,475.63 1306.98,475.21 1308.04,474.8 1309.09,474.4 1310.14,474.01 1311.2,473.63 1312.25,473.26 1313.3,472.91 1314.36,472.56 1315.41,472.22 1316.46,471.89 1317.52,471.57 1318.57,471.26 1319.63,470.96 1320.68,470.67 1321.73,470.38 1322.79,470.11 1323.84,469.84 1324.89,469.59 1325.95,469.34 1327,469.1 1328.05,468.87 1329.11,468.64 1330.16,468.42 1331.21,468.21 1332.27,468.01 1333.32,467.82 1334.38,467.63 1335.43,467.45 1336.48,467.28 1337.54,467.11 1338.59,466.95 1339.64,466.8 1340.7,466.65 1341.75,466.51 1342.8,466.37 1343.86,466.24 1344.91,466.12 1345.96,466 1347.02,465.89 1348.07,465.78 1349.13,465.68 1350.18,465.58 1351.23,465.48 1352.29,465.4 1353.34,465.31 1354.39,465.23 1355.45,465.16 1356.5,465.08 1357.55,465.02 1358.61,464.95 1359.66,464.89 1360.71,464.84 1361.77,464.78 1362.82,464.73 1363.88,464.69 1364.93,464.64 1365.98,464.6 1367.04,464.56 1368.09,464.52 1369.14,464.49 1370.2,464.46 1371.25,464.43 1372.3,464.4 1373.36,464.38 1374.41,464.36 1375.46,464.34 1376.52,464.33 1377.57,464.31 1378.63,464.3 1379.68,464.29 1380.73,464.29 1381.79,464.29 1382.84,464.28 1383.89,464.29 1384.95,464.29 1386,464.3 1387.05,464.3 1388.11,464.32 1389.16,464.33 1390.21,464.34 1391.27,464.36 1392.32,464.38 1393.38,464.4 1394.43,464.43 1395.48,464.45 1396.54,464.48 1397.59,464.51 1398.64,464.54 1399.7,464.58 1400.75,464.62 1401.8,464.65 1402.86,464.7 1403.91,464.74 1404.96,464.78 1406.02,464.83 1407.07,464.88 1408.13,464.93 1409.18,464.98 1410.23,465.04 1411.29,465.09 1412.34,465.15 1413.39,465.21 1414.45,465.27 1415.5,465.34 1416.55,465.4 1417.61,465.47 1418.66,465.54 1419.71,465.61 1420.77,465.68 1421.82,465.76 1422.88,465.83 1423.93,465.91 1424.98,465.99 1426.04,466.07 1427.09,466.15 1428.14,466.24 1429.2,466.32 1430.25,466.41 1431.3,466.5 1432.36,466.59 1433.41,466.68 1434.46,466.77 1435.52,466.86 1436.57,466.96 1437.63,467.06 1438.68,467.15 1439.73,467.25 1440.79,467.36 1441.84,467.46 1442.89,467.56 1443.95,467.67 1445,467.77 1446.05,467.88 1447.11,467.99 1448.16,468.1 1449.21,468.21 1450.27,468.32 1451.32,468.43 1452.38,468.55 1453.43,468.66 1454.48,468.78 1455.54,468.9 1456.59,469.02 1457.64,469.14 1458.7,469.26 1459.75,469.38 1460.8,469.5 1461.86,469.63 1462.91,469.75 1463.96,469.88 1465.02,470 1466.07,470.13 1467.13,470.26 1468.18,470.39 1469.23,470.52 1470.29,470.65 1471.34,470.78 1472.39,470.91 1473.45,471.04 1474.5,471.17" fill="none" stroke="#D11A20" stroke-width="2.4" stroke-linejoin="round" />
<use href="#mp" x="884.5" y="521.94"/><use href="#mp" x="886.19" y="521.73"/><use href="#mp" x="887.87" y="521.51"/><use href="#mp" x="889.56" y="521.29"/><use href="#mp" x="891.24" y="521.05"/><use href="#mp" x="892.93" y="520.81"/><use href="#mp" x="894.61" y="520.56"/><use href="#mp" x="896.3" y="520.3"/><use href="#mp" x="897.99" y="520.03"/><use href="#mp" x="899.67" y="519.76"/><use href="#mp" x="901.36" y="519.48"/><use href="#mp" x="903.04" y="519.19"/><use href="#mp" x="904.73" y="518.9"/><use href="#mp" x="906.41" y="518.6"/><use href="#mp" x="908.1" y="518.29"/><use href="#mp" x="909.79" y="517.98"/><use href="#mp" x="911.47" y="517.67"/><use href="#mp" x="913.16" y="517.34"/><use href="#mp" x="914.84" y="517.02"/><use href="#mp" x="916.53" y="516.69"/><use href="#mp" x="918.21" y="516.36"/><use href="#mp" x="919.9" y="516.02"/><use href="#mp" x="921.59" y="515.68"/><use href="#mp" x="923.27" y="515.34"/><use href="#mp" x="924.96" y="514.99"/><use href="#mp" x="926.64" y="514.64"/><use href="#mp" x="928.33" y="514.29"/><use href="#mp" x="930.01" y="513.94"/><use href="#mp" x="931.7" y="513.58"/><use href="#mp" x="933.39" y="513.22"/><use href="#mp" x="935.07" y="512.87"/><use href="#mp" x="936.76" y="512.51"/><use href="#mp" x="938.44" y="512.15"/><use href="#mp" x="940.13" y="511.79"/><use href="#mp" x="941.81" y="511.43"/><use href="#mp" x="943.5" y="511.07"/><use href="#mp" x="945.19" y="510.71"/><use href="#mp" x="946.87" y="510.35"/><use href="#mp" x="948.56" y="510"/><use href="#mp" x="950.24" y="509.64"/><use href="#mp" x="951.93" y="509.29"/><use href="#mp" x="953.61" y="508.94"/><use href="#mp" x="955.3" y="508.59"/><use href="#mp" x="956.99" y="508.24"/><use href="#mp" x="958.67" y="507.9"/><use href="#mp" x="960.36" y="507.56"/><use href="#mp" x="962.04" y="507.22"/><use href="#mp" x="963.73" y="506.89"/><use href="#mp" x="965.41" y="506.56"/><use href="#mp" x="967.1" y="506.24"/><use href="#mp" x="968.79" y="505.92"/><use href="#mp" x="970.47" y="505.6"/><use href="#mp" x="972.16" y="505.29"/><use href="#mp" x="973.84" y="504.99"/><use href="#mp" x="975.53" y="504.69"/><use href="#mp" x="977.21" y="504.39"/><use href="#mp" x="978.9" y="504.11"/><use href="#mp" x="980.59" y="503.83"/><use href="#mp" x="982.27" y="503.55"/><use href="#mp" x="983.96" y="503.29"/><use href="#mp" x="985.64" y="503.03"/><use href="#mp" x="987.33" y="502.78"/><use href="#mp" x="989.01" y="502.53"/><use href="#mp" x="990.7" y="502.3"/><use href="#mp" x="992.39" y="502.07"/><use href="#mp" x="994.07" y="501.86"/><use href="#mp" x="995.76" y="501.65"/><use href="#mp" x="997.44" y="501.45"/><use href="#mp" x="999.13" y="501.26"/><use href="#mp" x="1000.81" y="501.08"/><use href="#mp" x="1002.5" y="500.91"/><use href="#mp" x="1004.19" y="500.76"/><use href="#mp" x="1005.87" y="500.61"/><use href="#mp" x="1007.56" y="500.47"/><use href="#mp" x="1009.24" y="500.35"/><use href="#mp" x="1010.93" y="500.24"/><use href="#mp" x="1012.61" y="500.14"/><use href="#mp" x="1014.3" y="500.05"/><use href="#mp" x="1015.99" y="499.97"/><use href="#mp" x="1017.67" y="499.91"/><use href="#mp" x="1019.36" y="499.86"/><use href="#mp" x="1021.04" y="499.82"/><use href="#mp" x="1022.73" y="499.8"/><use href="#mp" x="1024.41" y="499.79"/><use href="#mp" x="1026.1" y="499.8"/><use href="#mp" x="1027.79" y="499.82"/><use href="#mp" x="1029.47" y="499.85"/><use href="#mp" x="1031.16" y="499.91"/><use href="#mp" x="1032.84" y="499.97"/><use href="#mp" x="1034.53" y="500.05"/><use href="#mp" x="1036.21" y="500.15"/><use href="#mp" x="1037.9" y="500.26"/><use href="#mp" x="1039.59" y="500.4"/><use href="#mp" x="1041.27" y="500.54"/><use href="#mp" x="1042.96" y="500.71"/><use href="#mp" x="1044.64" y="500.89"/><use href="#mp" x="1046.33" y="501.09"/><use href="#mp" x="1048.01" y="501.31"/><use href="#mp" x="1049.7" y="501.54"/><use href="#mp" x="1051.39" y="501.8"/><use href="#mp" x="1053.07" y="502.07"/><use href="#mp" x="1054.76" y="502.37"/><use href="#mp" x="1056.44" y="502.68"/><use href="#mp" x="1058.13" y="503.03"/><use href="#mp" x="1059.81" y="503.4"/><use href="#mp" x="1061.5" y="503.81"/><use href="#mp" x="1063.19" y="504.26"/><use href="#mp" x="1064.87" y="504.75"/><use href="#mp" x="1066.56" y="505.29"/><use href="#mp" x="1068.24" y="505.88"/><use href="#mp" x="1069.93" y="506.53"/><use href="#mp" x="1071.61" y="507.23"/><use href="#mp" x="1073.3" y="508"/><use href="#mp" x="1074.99" y="508.83"/><use href="#mp" x="1076.67" y="509.74"/><use href="#mp" x="1078.36" y="510.72"/><use href="#mp" x="1080.04" y="511.78"/><use href="#mp" x="1081.73" y="512.92"/><use href="#mp" x="1083.41" y="514.15"/><use href="#mp" x="1085.1" y="515.47"/><use href="#mp" x="1086.79" y="516.88"/><use href="#mp" x="1088.47" y="518.39"/><use href="#mp" x="1090.16" y="520.01"/><use href="#mp" x="1091.84" y="521.73"/><use href="#mp" x="1093.53" y="523.57"/><use href="#mp" x="1095.21" y="525.51"/><use href="#mp" x="1096.9" y="527.58"/><use href="#mp" x="1098.59" y="529.77"/><use href="#mp" x="1100.27" y="532.08"/><use href="#mp" x="1101.96" y="534.53"/><use href="#mp" x="1103.64" y="537.11"/><use href="#mp" x="1105.33" y="539.83"/><use href="#mp" x="1107.01" y="542.69"/><use href="#mp" x="1108.7" y="545.7"/><use href="#mp" x="1110.39" y="548.86"/><use href="#mp" x="1112.07" y="552.18"/><use href="#mp" x="1113.76" y="555.65"/><use href="#mp" x="1115.44" y="559.28"/><use href="#mp" x="1117.13" y="563.08"/><use href="#mp" x="1118.81" y="567.06"/><use href="#mp" x="1120.5" y="571.2"/><use href="#mp" x="1122.19" y="575.53"/><use href="#mp" x="1123.87" y="580.03"/><use href="#mp" x="1125.56" y="584.7"/><use href="#mp" x="1127.24" y="589.4"/><use href="#mp" x="1128.93" y="593.92"/><use href="#mp" x="1130.61" y="598.08"/><use href="#mp" x="1132.3" y="601.74"/><use href="#mp" x="1133.99" y="605.05"/><use href="#mp" x="1135.67" y="608.38"/><use href="#mp" x="1137.36" y="612.08"/><use href="#mp" x="1139.04" y="616.47"/><use href="#mp" x="1140.73" y="621.72"/><use href="#mp" x="1142.41" y="627.35"/><use href="#mp" x="1144.1" y="632.86"/><use href="#mp" x="1145.79" y="638.05"/><use href="#mp" x="1147.47" y="642.99"/><use href="#mp" x="1149.16" y="647.75"/><use href="#mp" x="1150.84" y="652.4"/><use href="#mp" x="1152.53" y="657.02"/><use href="#mp" x="1154.21" y="661.66"/><use href="#mp" x="1155.9" y="666.41"/><use href="#mp" x="1157.59" y="671.32"/><use href="#mp" x="1159.27" y="676.43"/><use href="#mp" x="1160.96" y="681.67"/><use href="#mp" x="1162.64" y="686.99"/><use href="#mp" x="1164.33" y="692.33"/><use href="#mp" x="1166.01" y="697.63"/><use href="#mp" x="1167.7" y="702.85"/><use href="#mp" x="1169.39" y="707.91"/><use href="#mp" x="1171.07" y="712.51"/><use href="#mp" x="1172.76" y="715.82"/><use href="#mp" x="1174.44" y="716.96"/><use href="#mp" x="1176.13" y="715.62"/><use href="#mp" x="1177.81" y="712.48"/><use href="#mp" x="1179.5" y="708.39"/><use href="#mp" x="1181.19" y="704.04"/><use href="#mp" x="1182.87" y="699.63"/><use href="#mp" x="1184.56" y="695.21"/><use href="#mp" x="1186.24" y="690.86"/><use href="#mp" x="1187.93" y="686.64"/><use href="#mp" x="1189.61" y="682.55"/><use href="#mp" x="1191.3" y="678.55"/><use href="#mp" x="1192.99" y="674.6"/><use href="#mp" x="1194.67" y="670.64"/><use href="#mp" x="1196.36" y="666.64"/><use href="#mp" x="1198.04" y="662.53"/><use href="#mp" x="1199.73" y="658.29"/><use href="#mp" x="1201.41" y="653.85"/><use href="#mp" x="1203.1" y="649.18"/><use href="#mp" x="1204.79" y="644.23"/><use href="#mp" x="1206.47" y="638.94"/><use href="#mp" x="1208.16" y="633.28"/><use href="#mp" x="1209.84" y="627.19"/><use href="#mp" x="1211.53" y="620.74"/><use href="#mp" x="1213.21" y="614.07"/><use href="#mp" x="1214.9" y="607.32"/><use href="#mp" x="1216.59" y="600.65"/><use href="#mp" x="1218.27" y="594.21"/><use href="#mp" x="1219.96" y="588.06"/><use href="#mp" x="1221.64" y="582.21"/><use href="#mp" x="1223.33" y="576.63"/><use href="#mp" x="1225.01" y="571.33"/><use href="#mp" x="1226.7" y="566.29"/><use href="#mp" x="1228.39" y="561.5"/><use href="#mp" x="1230.07" y="556.96"/><use href="#mp" x="1231.76" y="552.65"/><use href="#mp" x="1233.44" y="548.57"/><use href="#mp" x="1235.13" y="544.7"/><use href="#mp" x="1236.81" y="541.04"/><use href="#mp" x="1238.5" y="537.58"/><use href="#mp" x="1240.19" y="534.31"/><use href="#mp" x="1241.87" y="531.21"/><use href="#mp" x="1243.56" y="528.29"/><use href="#mp" x="1245.24" y="525.52"/><use href="#mp" x="1246.93" y="522.91"/><use href="#mp" x="1248.61" y="520.44"/><use href="#mp" x="1250.3" y="518.1"/><use href="#mp" x="1251.99" y="515.89"/><use href="#mp" x="1253.67" y="513.79"/><use href="#mp" x="1255.36" y="511.8"/><use href="#mp" x="1257.04" y="509.9"/><use href="#mp" x="1258.73" y="508.09"/><use href="#mp" x="1260.41" y="506.36"/><use href="#mp" x="1262.1" y="504.7"/><use href="#mp" x="1263.79" y="503.09"/><use href="#mp" x="1265.47" y="501.53"/><use href="#mp" x="1267.16" y="500.02"/><use href="#mp" x="1268.84" y="498.55"/><use href="#mp" x="1270.53" y="497.12"/><use href="#mp" x="1272.21" y="495.74"/><use href="#mp" x="1273.9" y="494.39"/><use href="#mp" x="1275.59" y="493.08"/><use href="#mp" x="1277.27" y="491.81"/><use href="#mp" x="1278.96" y="490.58"/><use href="#mp" x="1280.64" y="489.39"/><use href="#mp" x="1282.33" y="488.23"/><use href="#mp" x="1284.01" y="487.11"/><use href="#mp" x="1285.7" y="486.03"/><use href="#mp" x="1287.39" y="484.99"/><use href="#mp" x="1289.07" y="483.97"/><use href="#mp" x="1290.76" y="483"/><use href="#mp" x="1292.44" y="482.05"/><use href="#mp" x="1294.13" y="481.14"/><use href="#mp" x="1295.81" y="480.26"/><use href="#mp" x="1297.5" y="479.41"/><use href="#mp" x="1299.19" y="478.6"/><use href="#mp" x="1300.87" y="477.81"/><use href="#mp" x="1302.56" y="477.06"/><use href="#mp" x="1304.24" y="476.33"/><use href="#mp" x="1305.93" y="475.63"/><use href="#mp" x="1307.61" y="474.96"/><use href="#mp" x="1309.3" y="474.32"/><use href="#mp" x="1310.99" y="473.71"/><use href="#mp" x="1312.67" y="473.12"/><use href="#mp" x="1314.36" y="472.56"/><use href="#mp" x="1316.04" y="472.02"/><use href="#mp" x="1317.73" y="471.51"/><use href="#mp" x="1319.41" y="471.02"/><use href="#mp" x="1321.1" y="470.55"/><use href="#mp" x="1322.79" y="470.11"/><use href="#mp" x="1324.47" y="469.69"/><use href="#mp" x="1326.16" y="469.29"/><use href="#mp" x="1327.84" y="468.91"/><use href="#mp" x="1329.53" y="468.55"/><use href="#mp" x="1331.21" y="468.21"/><use href="#mp" x="1332.9" y="467.9"/><use href="#mp" x="1334.59" y="467.59"/><use href="#mp" x="1336.27" y="467.31"/><use href="#mp" x="1337.96" y="467.05"/><use href="#mp" x="1339.64" y="466.8"/><use href="#mp" x="1341.33" y="466.56"/><use href="#mp" x="1343.01" y="466.34"/><use href="#mp" x="1344.7" y="466.14"/><use href="#mp" x="1346.39" y="465.95"/><use href="#mp" x="1348.07" y="465.78"/><use href="#mp" x="1349.76" y="465.62"/><use href="#mp" x="1351.44" y="465.47"/><use href="#mp" x="1353.13" y="465.33"/><use href="#mp" x="1354.81" y="465.2"/><use href="#mp" x="1356.5" y="465.08"/><use href="#mp" x="1358.19" y="464.98"/><use href="#mp" x="1359.87" y="464.88"/><use href="#mp" x="1361.56" y="464.79"/><use href="#mp" x="1363.24" y="464.71"/><use href="#mp" x="1364.93" y="464.64"/><use href="#mp" x="1366.61" y="464.58"/><use href="#mp" x="1368.3" y="464.52"/><use href="#mp" x="1369.99" y="464.47"/><use href="#mp" x="1371.67" y="464.42"/><use href="#mp" x="1373.36" y="464.38"/><use href="#mp" x="1375.04" y="464.35"/><use href="#mp" x="1376.73" y="464.32"/><use href="#mp" x="1378.41" y="464.31"/><use href="#mp" x="1380.1" y="464.29"/><use href="#mp" x="1381.79" y="464.29"/><use href="#mp" x="1383.47" y="464.29"/><use href="#mp" x="1385.16" y="464.29"/><use href="#mp" x="1386.84" y="464.3"/><use href="#mp" x="1388.53" y="464.32"/><use href="#mp" x="1390.21" y="464.34"/><use href="#mp" x="1391.9" y="464.37"/><use href="#mp" x="1393.59" y="464.41"/><use href="#mp" x="1395.27" y="464.45"/><use href="#mp" x="1396.96" y="464.49"/><use href="#mp" x="1398.64" y="464.54"/><use href="#mp" x="1400.33" y="464.6"/><use href="#mp" x="1402.01" y="464.66"/><use href="#mp" x="1403.7" y="464.73"/><use href="#mp" x="1405.39" y="464.8"/><use href="#mp" x="1407.07" y="464.88"/><use href="#mp" x="1408.76" y="464.96"/><use href="#mp" x="1410.44" y="465.05"/><use href="#mp" x="1412.13" y="465.14"/><use href="#mp" x="1413.81" y="465.24"/><use href="#mp" x="1415.5" y="465.34"/><use href="#mp" x="1417.19" y="465.44"/><use href="#mp" x="1418.87" y="465.55"/><use href="#mp" x="1420.56" y="465.67"/><use href="#mp" x="1422.24" y="465.79"/><use href="#mp" x="1423.93" y="465.91"/><use href="#mp" x="1425.61" y="466.04"/><use href="#mp" x="1427.3" y="466.17"/><use href="#mp" x="1428.99" y="466.3"/><use href="#mp" x="1430.67" y="466.44"/><use href="#mp" x="1432.36" y="466.59"/><use href="#mp" x="1434.04" y="466.73"/><use href="#mp" x="1435.73" y="466.88"/><use href="#mp" x="1437.41" y="467.04"/><use href="#mp" x="1439.1" y="467.19"/><use href="#mp" x="1440.79" y="467.36"/><use href="#mp" x="1442.47" y="467.52"/><use href="#mp" x="1444.16" y="467.69"/><use href="#mp" x="1445.84" y="467.86"/><use href="#mp" x="1447.53" y="468.03"/><use href="#mp" x="1449.21" y="468.21"/><use href="#mp" x="1450.9" y="468.39"/><use href="#mp" x="1452.59" y="468.57"/><use href="#mp" x="1454.27" y="468.76"/><use href="#mp" x="1455.96" y="468.95"/><use href="#mp" x="1457.64" y="469.14"/><use href="#mp" x="1459.33" y="469.33"/><use href="#mp" x="1461.01" y="469.53"/><use href="#mp" x="1462.7" y="469.73"/><use href="#mp" x="1464.39" y="469.93"/><use href="#mp" x="1466.07" y="470.13"/><use href="#mp" x="1467.76" y="470.33"/><use href="#mp" x="1469.44" y="470.54"/><use href="#mp" x="1471.13" y="470.75"/><use href="#mp" x="1472.81" y="470.96"/><use href="#mp" x="1474.5" y="471.17"/>
<polyline points="884.5,514.18 885.55,514 886.61,513.83 887.66,513.65 888.71,513.47 889.77,513.28 890.82,513.1 891.88,512.91 892.93,512.71 893.98,512.52 895.04,512.32 896.09,512.12 897.14,511.92 898.2,511.71 899.25,511.5 900.3,511.29 901.36,511.07 902.41,510.86 903.46,510.64 904.52,510.42 905.57,510.19 906.63,509.97 907.68,509.74 908.73,509.51 909.79,509.27 910.84,509.04 911.89,508.8 912.95,508.56 914,508.32 915.05,508.07 916.11,507.83 917.16,507.58 918.21,507.33 919.27,507.08 920.32,506.82 921.38,506.56 922.43,506.31 923.48,506.05 924.54,505.78 925.59,505.52 926.64,505.26 927.7,504.99 928.75,504.72 929.8,504.45 930.86,504.18 931.91,503.9 932.96,503.63 934.02,503.35 935.07,503.07 936.13,502.79 937.18,502.51 938.23,502.23 939.29,501.95 940.34,501.66 941.39,501.37 942.45,501.09 943.5,500.8 944.55,500.51 945.61,500.22 946.66,499.92 947.71,499.63 948.77,499.34 949.82,499.04 950.88,498.75 951.93,498.45 952.98,498.15 954.04,497.85 955.09,497.55 956.14,497.25 957.2,496.95 958.25,496.65 959.3,496.34 960.36,496.04 961.41,495.74 962.46,495.43 963.52,495.13 964.57,494.82 965.63,494.51 966.68,494.21 967.73,493.9 968.79,493.59 969.84,493.29 970.89,492.98 971.95,492.67 973,492.36 974.05,492.05 975.11,491.74 976.16,491.43 977.21,491.12 978.27,490.81 979.32,490.5 980.38,490.19 981.43,489.88 982.48,489.57 983.54,489.27 984.59,488.96 985.64,488.65 986.7,488.34 987.75,488.03 988.8,487.72 989.86,487.41 990.91,487.1 991.96,486.8 993.02,486.49 994.07,486.18 995.13,485.88 996.18,485.57 997.23,485.26 998.29,484.96 999.34,484.66 1000.39,484.35 1001.45,484.05 1002.5,483.75 1003.55,483.45 1004.61,483.14 1005.66,482.85 1006.71,482.55 1007.77,482.25 1008.82,481.95 1009.88,481.65 1010.93,481.36 1011.98,481.06 1013.04,480.77 1014.09,480.48 1015.14,480.19 1016.2,479.9 1017.25,479.61 1018.3,479.32 1019.36,479.03 1020.41,478.75 1021.46,478.46 1022.52,478.18 1023.57,477.9 1024.63,477.62 1025.68,477.34 1026.73,477.07 1027.79,476.79 1028.84,476.52 1029.89,476.24 1030.95,475.97 1032,475.7 1033.05,475.44 1034.11,475.17 1035.16,474.91 1036.21,474.65 1037.27,474.39 1038.32,474.13 1039.38,473.87 1040.43,473.62 1041.48,473.36 1042.54,473.11 1043.59,472.87 1044.64,472.62 1045.7,472.38 1046.75,472.14 1047.8,471.9 1048.86,471.66 1049.91,471.43 1050.96,471.2 1052.02,470.97 1053.07,470.74 1054.13,470.52 1055.18,470.3 1056.23,470.08 1057.29,469.87 1058.34,469.65 1059.39,469.45 1060.45,469.24 1061.5,469.04 1062.55,468.84 1063.61,468.64 1064.66,468.45 1065.71,468.26 1066.77,468.07 1067.82,467.89 1068.88,467.71 1069.93,467.53 1070.98,467.36 1072.04,467.19 1073.09,467.03 1074.14,466.87 1075.2,466.71 1076.25,466.56 1077.3,466.41 1078.36,466.26 1079.41,466.12 1080.46,465.98 1081.52,465.85 1082.57,465.72 1083.63,465.6 1084.68,465.48 1085.73,465.36 1086.79,465.25 1087.84,465.14 1088.89,465.04 1089.95,464.94 1091,464.85 1092.05,464.76 1093.11,464.68 1094.16,464.6 1095.21,464.52 1096.27,464.45 1097.32,464.39 1098.38,464.33 1099.43,464.27 1100.48,464.23 1101.54,464.18 1102.59,464.14 1103.64,464.11 1104.7,464.08 1105.75,464.06 1106.8,464.04 1107.86,464.03 1108.91,464.02 1109.96,464.02 1111.02,464.03 1112.07,464.04 1113.13,464.05 1114.18,464.07 1115.23,464.1 1116.29,464.14 1117.34,464.18 1118.39,464.22 1119.45,464.28 1120.5,464.33 1121.55,464.4 1122.61,464.47 1123.66,464.55 1124.71,464.63 1125.77,464.72 1126.82,464.82 1127.88,464.92 1128.93,465.03 1129.98,465.14 1131.04,465.27 1132.09,465.4 1133.14,465.53 1134.2,465.68 1135.25,465.83 1136.3,465.98 1137.36,466.15 1138.41,466.32 1139.46,466.5 1140.52,466.68 1141.57,466.88 1142.63,467.08 1143.68,467.28 1144.73,467.5 1145.79,467.72 1146.84,467.95 1147.89,468.18 1148.95,468.42 1150,468.66 1151.05,468.9 1152.11,469.15 1153.16,469.39 1154.21,469.64 1155.27,469.88 1156.32,470.12 1157.38,470.37 1158.43,470.6 1159.48,470.84 1160.54,471.07 1161.59,471.29 1162.64,471.51 1163.7,471.71 1164.75,471.92 1165.8,472.11 1166.86,472.29 1167.91,472.46 1168.96,472.62 1170.02,472.77 1171.07,472.9 1172.13,473.02 1173.18,473.13 1174.23,473.22 1175.29,473.29 1176.34,473.35 1177.39,473.38 1178.45,473.4 1179.5,473.4 1180.55,473.38 1181.61,473.35 1182.66,473.3 1183.71,473.23 1184.77,473.15 1185.82,473.06 1186.88,472.95 1187.93,472.83 1188.98,472.69 1190.04,472.55 1191.09,472.39 1192.14,472.23 1193.2,472.05 1194.25,471.87 1195.3,471.68 1196.36,471.48 1197.41,471.27 1198.46,471.06 1199.52,470.84 1200.57,470.62 1201.63,470.4 1202.68,470.17 1203.73,469.93 1204.79,469.7 1205.84,469.46 1206.89,469.21 1207.95,468.97 1209,468.72 1210.05,468.46 1211.11,468.21 1212.16,467.95 1213.21,467.69 1214.27,467.43 1215.32,467.16 1216.38,466.89 1217.43,466.62 1218.48,466.35 1219.54,466.08 1220.59,465.81 1221.64,465.53 1222.7,465.25 1223.75,464.98 1224.8,464.7 1225.86,464.42 1226.91,464.14 1227.96,463.86 1229.02,463.58 1230.07,463.3 1231.13,463.02 1232.18,462.74 1233.23,462.46 1234.29,462.18 1235.34,461.9 1236.39,461.63 1237.45,461.35 1238.5,461.08 1239.55,460.8 1240.61,460.53 1241.66,460.26 1242.71,459.99 1243.77,459.72 1244.82,459.46 1245.88,459.2 1246.93,458.94 1247.98,458.68 1249.04,458.42 1250.09,458.17 1251.14,457.92 1252.2,457.67 1253.25,457.43 1254.3,457.19 1255.36,456.96 1256.41,456.72 1257.46,456.49 1258.52,456.27 1259.57,456.05 1260.63,455.83 1261.68,455.62 1262.73,455.41 1263.79,455.21 1264.84,455.01 1265.89,454.82 1266.95,454.63 1268,454.44 1269.05,454.26 1270.11,454.08 1271.16,453.91 1272.21,453.74 1273.27,453.58 1274.32,453.41 1275.38,453.26 1276.43,453.1 1277.48,452.95 1278.54,452.81 1279.59,452.67 1280.64,452.53 1281.7,452.4 1282.75,452.27 1283.8,452.14 1284.86,452.02 1285.91,451.9 1286.96,451.78 1288.02,451.67 1289.07,451.56 1290.13,451.46 1291.18,451.36 1292.23,451.26 1293.29,451.17 1294.34,451.08 1295.39,450.99 1296.45,450.91 1297.5,450.83 1298.55,450.75 1299.61,450.68 1300.66,450.61 1301.71,450.55 1302.77,450.48 1303.82,450.42 1304.88,450.37 1305.93,450.32 1306.98,450.27 1308.04,450.22 1309.09,450.18 1310.14,450.13 1311.2,450.1 1312.25,450.06 1313.3,450.03 1314.36,450 1315.41,449.98 1316.46,449.96 1317.52,449.94 1318.57,449.92 1319.63,449.9 1320.68,449.89 1321.73,449.89 1322.79,449.88 1323.84,449.88 1324.89,449.88 1325.95,449.88 1327,449.89 1328.05,449.89 1329.11,449.9 1330.16,449.92 1331.21,449.93 1332.27,449.95 1333.32,449.97 1334.38,449.99 1335.43,450.02 1336.48,450.05 1337.54,450.08 1338.59,450.11 1339.64,450.15 1340.7,450.18 1341.75,450.22 1342.8,450.26 1343.86,450.31 1344.91,450.35 1345.96,450.4 1347.02,450.45 1348.07,450.5 1349.13,450.56 1350.18,450.62 1351.23,450.67 1352.29,450.74 1353.34,450.8 1354.39,450.86 1355.45,450.93 1356.5,451 1357.55,451.07 1358.61,451.14 1359.66,451.21 1360.71,451.29 1361.77,451.37 1362.82,451.44 1363.88,451.53 1364.93,451.61 1365.98,451.69 1367.04,451.78 1368.09,451.86 1369.14,451.95 1370.2,452.04 1371.25,452.13 1372.3,452.23 1373.36,452.32 1374.41,452.42 1375.46,452.52 1376.52,452.61 1377.57,452.71 1378.63,452.82 1379.68,452.92 1380.73,453.02 1381.79,453.13 1382.84,453.23 1383.89,453.34 1384.95,453.45 1386,453.56 1387.05,453.67 1388.11,453.78 1389.16,453.89 1390.21,454.01 1391.27,454.12 1392.32,454.24 1393.38,454.35 1394.43,454.47 1395.48,454.59 1396.54,454.71 1397.59,454.83 1398.64,454.95 1399.7,455.07 1400.75,455.19 1401.8,455.32 1402.86,455.44 1403.91,455.56 1404.96,455.69 1406.02,455.81 1407.07,455.94 1408.13,456.07 1409.18,456.19 1410.23,456.32 1411.29,456.45 1412.34,456.58 1413.39,456.7 1414.45,456.83 1415.5,456.96 1416.55,457.09 1417.61,457.22 1418.66,457.35 1419.71,457.48 1420.77,457.61 1421.82,457.74 1422.88,457.87 1423.93,458 1424.98,458.13 1426.04,458.27 1427.09,458.4 1428.14,458.53 1429.2,458.66 1430.25,458.79 1431.3,458.92 1432.36,459.05 1433.41,459.18 1434.46,459.31 1435.52,459.44 1436.57,459.57 1437.63,459.7 1438.68,459.83 1439.73,459.96 1440.79,460.09 1441.84,460.22 1442.89,460.34 1443.95,460.47 1445,460.6 1446.05,460.73 1447.11,460.85 1448.16,460.98 1449.21,461.1 1450.27,461.23 1451.32,461.35 1452.38,461.47 1453.43,461.6 1454.48,461.72 1455.54,461.84 1456.59,461.96 1457.64,462.08 1458.7,462.2 1459.75,462.31 1460.8,462.43 1461.86,462.55 1462.91,462.66 1463.96,462.78 1465.02,462.89 1466.07,463 1467.13,463.11 1468.18,463.22 1469.23,463.33 1470.29,463.44 1471.34,463.55 1472.39,463.65 1473.45,463.76 1474.5,463.86" fill="none" stroke="#4B64A8" stroke-width="2.4" stroke-linejoin="round" />
<use href="#mb" x="884.5" y="514.18"/><use href="#mb" x="886.19" y="513.9"/><use href="#mb" x="887.87" y="513.61"/><use href="#mb" x="889.56" y="513.32"/><use href="#mb" x="891.24" y="513.02"/><use href="#mb" x="892.93" y="512.71"/><use href="#mb" x="894.61" y="512.4"/><use href="#mb" x="896.3" y="512.08"/><use href="#mb" x="897.99" y="511.75"/><use href="#mb" x="899.67" y="511.42"/><use href="#mb" x="901.36" y="511.07"/><use href="#mb" x="903.04" y="510.73"/><use href="#mb" x="904.73" y="510.37"/><use href="#mb" x="906.41" y="510.01"/><use href="#mb" x="908.1" y="509.65"/><use href="#mb" x="909.79" y="509.27"/><use href="#mb" x="911.47" y="508.9"/><use href="#mb" x="913.16" y="508.51"/><use href="#mb" x="914.84" y="508.12"/><use href="#mb" x="916.53" y="507.73"/><use href="#mb" x="918.21" y="507.33"/><use href="#mb" x="919.9" y="506.92"/><use href="#mb" x="921.59" y="506.51"/><use href="#mb" x="923.27" y="506.1"/><use href="#mb" x="924.96" y="505.68"/><use href="#mb" x="926.64" y="505.26"/><use href="#mb" x="928.33" y="504.83"/><use href="#mb" x="930.01" y="504.39"/><use href="#mb" x="931.7" y="503.96"/><use href="#mb" x="933.39" y="503.52"/><use href="#mb" x="935.07" y="503.07"/><use href="#mb" x="936.76" y="502.62"/><use href="#mb" x="938.44" y="502.17"/><use href="#mb" x="940.13" y="501.72"/><use href="#mb" x="941.81" y="501.26"/><use href="#mb" x="943.5" y="500.8"/><use href="#mb" x="945.19" y="500.33"/><use href="#mb" x="946.87" y="499.87"/><use href="#mb" x="948.56" y="499.4"/><use href="#mb" x="950.24" y="498.92"/><use href="#mb" x="951.93" y="498.45"/><use href="#mb" x="953.61" y="497.97"/><use href="#mb" x="955.3" y="497.49"/><use href="#mb" x="956.99" y="497.01"/><use href="#mb" x="958.67" y="496.53"/><use href="#mb" x="960.36" y="496.04"/><use href="#mb" x="962.04" y="495.55"/><use href="#mb" x="963.73" y="495.07"/><use href="#mb" x="965.41" y="494.58"/><use href="#mb" x="967.1" y="494.09"/><use href="#mb" x="968.79" y="493.59"/><use href="#mb" x="970.47" y="493.1"/><use href="#mb" x="972.16" y="492.61"/><use href="#mb" x="973.84" y="492.11"/><use href="#mb" x="975.53" y="491.62"/><use href="#mb" x="977.21" y="491.12"/><use href="#mb" x="978.9" y="490.63"/><use href="#mb" x="980.59" y="490.13"/><use href="#mb" x="982.27" y="489.64"/><use href="#mb" x="983.96" y="489.14"/><use href="#mb" x="985.64" y="488.65"/><use href="#mb" x="987.33" y="488.15"/><use href="#mb" x="989.01" y="487.66"/><use href="#mb" x="990.7" y="487.17"/><use href="#mb" x="992.39" y="486.67"/><use href="#mb" x="994.07" y="486.18"/><use href="#mb" x="995.76" y="485.69"/><use href="#mb" x="997.44" y="485.2"/><use href="#mb" x="999.13" y="484.72"/><use href="#mb" x="1000.81" y="484.23"/><use href="#mb" x="1002.5" y="483.75"/><use href="#mb" x="1004.19" y="483.27"/><use href="#mb" x="1005.87" y="482.79"/><use href="#mb" x="1007.56" y="482.31"/><use href="#mb" x="1009.24" y="481.83"/><use href="#mb" x="1010.93" y="481.36"/><use href="#mb" x="1012.61" y="480.89"/><use href="#mb" x="1014.3" y="480.42"/><use href="#mb" x="1015.99" y="479.95"/><use href="#mb" x="1017.67" y="479.49"/><use href="#mb" x="1019.36" y="479.03"/><use href="#mb" x="1021.04" y="478.58"/><use href="#mb" x="1022.73" y="478.13"/><use href="#mb" x="1024.41" y="477.68"/><use href="#mb" x="1026.1" y="477.23"/><use href="#mb" x="1027.79" y="476.79"/><use href="#mb" x="1029.47" y="476.35"/><use href="#mb" x="1031.16" y="475.92"/><use href="#mb" x="1032.84" y="475.49"/><use href="#mb" x="1034.53" y="475.07"/><use href="#mb" x="1036.21" y="474.65"/><use href="#mb" x="1037.9" y="474.23"/><use href="#mb" x="1039.59" y="473.82"/><use href="#mb" x="1041.27" y="473.41"/><use href="#mb" x="1042.96" y="473.01"/><use href="#mb" x="1044.64" y="472.62"/><use href="#mb" x="1046.33" y="472.23"/><use href="#mb" x="1048.01" y="471.85"/><use href="#mb" x="1049.7" y="471.47"/><use href="#mb" x="1051.39" y="471.1"/><use href="#mb" x="1053.07" y="470.74"/><use href="#mb" x="1054.76" y="470.39"/><use href="#mb" x="1056.44" y="470.04"/><use href="#mb" x="1058.13" y="469.7"/><use href="#mb" x="1059.81" y="469.36"/><use href="#mb" x="1061.5" y="469.04"/><use href="#mb" x="1063.19" y="468.72"/><use href="#mb" x="1064.87" y="468.41"/><use href="#mb" x="1066.56" y="468.11"/><use href="#mb" x="1068.24" y="467.82"/><use href="#mb" x="1069.93" y="467.53"/><use href="#mb" x="1071.61" y="467.26"/><use href="#mb" x="1073.3" y="467"/><use href="#mb" x="1074.99" y="466.74"/><use href="#mb" x="1076.67" y="466.5"/><use href="#mb" x="1078.36" y="466.26"/><use href="#mb" x="1080.04" y="466.04"/><use href="#mb" x="1081.73" y="465.83"/><use href="#mb" x="1083.41" y="465.62"/><use href="#mb" x="1085.1" y="465.43"/><use href="#mb" x="1086.79" y="465.25"/><use href="#mb" x="1088.47" y="465.08"/><use href="#mb" x="1090.16" y="464.92"/><use href="#mb" x="1091.84" y="464.78"/><use href="#mb" x="1093.53" y="464.64"/><use href="#mb" x="1095.21" y="464.52"/><use href="#mb" x="1096.9" y="464.41"/><use href="#mb" x="1098.59" y="464.32"/><use href="#mb" x="1100.27" y="464.23"/><use href="#mb" x="1101.96" y="464.16"/><use href="#mb" x="1103.64" y="464.11"/><use href="#mb" x="1105.33" y="464.07"/><use href="#mb" x="1107.01" y="464.04"/><use href="#mb" x="1108.7" y="464.02"/><use href="#mb" x="1110.39" y="464.02"/><use href="#mb" x="1112.07" y="464.04"/><use href="#mb" x="1113.76" y="464.07"/><use href="#mb" x="1115.44" y="464.11"/><use href="#mb" x="1117.13" y="464.17"/><use href="#mb" x="1118.81" y="464.24"/><use href="#mb" x="1120.5" y="464.33"/><use href="#mb" x="1122.19" y="464.44"/><use href="#mb" x="1123.87" y="464.56"/><use href="#mb" x="1125.56" y="464.7"/><use href="#mb" x="1127.24" y="464.86"/><use href="#mb" x="1128.93" y="465.03"/><use href="#mb" x="1130.61" y="465.22"/><use href="#mb" x="1132.3" y="465.42"/><use href="#mb" x="1133.99" y="465.65"/><use href="#mb" x="1135.67" y="465.89"/><use href="#mb" x="1137.36" y="466.15"/><use href="#mb" x="1139.04" y="466.43"/><use href="#mb" x="1140.73" y="466.72"/><use href="#mb" x="1142.41" y="467.04"/><use href="#mb" x="1144.1" y="467.37"/><use href="#mb" x="1145.79" y="467.72"/><use href="#mb" x="1147.47" y="468.09"/><use href="#mb" x="1149.16" y="468.47"/><use href="#mb" x="1150.84" y="468.85"/><use href="#mb" x="1152.53" y="469.24"/><use href="#mb" x="1154.21" y="469.64"/><use href="#mb" x="1155.9" y="470.03"/><use href="#mb" x="1157.59" y="470.41"/><use href="#mb" x="1159.27" y="470.79"/><use href="#mb" x="1160.96" y="471.16"/><use href="#mb" x="1162.64" y="471.51"/><use href="#mb" x="1164.33" y="471.84"/><use href="#mb" x="1166.01" y="472.14"/><use href="#mb" x="1167.7" y="472.43"/><use href="#mb" x="1169.39" y="472.68"/><use href="#mb" x="1171.07" y="472.9"/><use href="#mb" x="1172.76" y="473.09"/><use href="#mb" x="1174.44" y="473.23"/><use href="#mb" x="1176.13" y="473.34"/><use href="#mb" x="1177.81" y="473.39"/><use href="#mb" x="1179.5" y="473.4"/><use href="#mb" x="1181.19" y="473.37"/><use href="#mb" x="1182.87" y="473.29"/><use href="#mb" x="1184.56" y="473.17"/><use href="#mb" x="1186.24" y="473.02"/><use href="#mb" x="1187.93" y="472.83"/><use href="#mb" x="1189.61" y="472.61"/><use href="#mb" x="1191.3" y="472.36"/><use href="#mb" x="1192.99" y="472.09"/><use href="#mb" x="1194.67" y="471.79"/><use href="#mb" x="1196.36" y="471.48"/><use href="#mb" x="1198.04" y="471.15"/><use href="#mb" x="1199.73" y="470.8"/><use href="#mb" x="1201.41" y="470.44"/><use href="#mb" x="1203.1" y="470.08"/><use href="#mb" x="1204.79" y="469.7"/><use href="#mb" x="1206.47" y="469.31"/><use href="#mb" x="1208.16" y="468.92"/><use href="#mb" x="1209.84" y="468.51"/><use href="#mb" x="1211.53" y="468.1"/><use href="#mb" x="1213.21" y="467.69"/><use href="#mb" x="1214.9" y="467.27"/><use href="#mb" x="1216.59" y="466.84"/><use href="#mb" x="1218.27" y="466.41"/><use href="#mb" x="1219.96" y="465.97"/><use href="#mb" x="1221.64" y="465.53"/><use href="#mb" x="1223.33" y="465.09"/><use href="#mb" x="1225.01" y="464.64"/><use href="#mb" x="1226.7" y="464.2"/><use href="#mb" x="1228.39" y="463.75"/><use href="#mb" x="1230.07" y="463.3"/><use href="#mb" x="1231.76" y="462.85"/><use href="#mb" x="1233.44" y="462.41"/><use href="#mb" x="1235.13" y="461.96"/><use href="#mb" x="1236.81" y="461.52"/><use href="#mb" x="1238.5" y="461.08"/><use href="#mb" x="1240.19" y="460.64"/><use href="#mb" x="1241.87" y="460.21"/><use href="#mb" x="1243.56" y="459.78"/><use href="#mb" x="1245.24" y="459.35"/><use href="#mb" x="1246.93" y="458.94"/><use href="#mb" x="1248.61" y="458.52"/><use href="#mb" x="1250.3" y="458.12"/><use href="#mb" x="1251.99" y="457.72"/><use href="#mb" x="1253.67" y="457.33"/><use href="#mb" x="1255.36" y="456.96"/><use href="#mb" x="1257.04" y="456.59"/><use href="#mb" x="1258.73" y="456.23"/><use href="#mb" x="1260.41" y="455.88"/><use href="#mb" x="1262.1" y="455.54"/><use href="#mb" x="1263.79" y="455.21"/><use href="#mb" x="1265.47" y="454.9"/><use href="#mb" x="1267.16" y="454.59"/><use href="#mb" x="1268.84" y="454.3"/><use href="#mb" x="1270.53" y="454.01"/><use href="#mb" x="1272.21" y="453.74"/><use href="#mb" x="1273.9" y="453.48"/><use href="#mb" x="1275.59" y="453.23"/><use href="#mb" x="1277.27" y="452.98"/><use href="#mb" x="1278.96" y="452.75"/><use href="#mb" x="1280.64" y="452.53"/><use href="#mb" x="1282.33" y="452.32"/><use href="#mb" x="1284.01" y="452.11"/><use href="#mb" x="1285.7" y="451.92"/><use href="#mb" x="1287.39" y="451.74"/><use href="#mb" x="1289.07" y="451.56"/><use href="#mb" x="1290.76" y="451.4"/><use href="#mb" x="1292.44" y="451.24"/><use href="#mb" x="1294.13" y="451.1"/><use href="#mb" x="1295.81" y="450.96"/><use href="#mb" x="1297.5" y="450.83"/><use href="#mb" x="1299.19" y="450.71"/><use href="#mb" x="1300.87" y="450.6"/><use href="#mb" x="1302.56" y="450.5"/><use href="#mb" x="1304.24" y="450.4"/><use href="#mb" x="1305.93" y="450.32"/><use href="#mb" x="1307.61" y="450.24"/><use href="#mb" x="1309.3" y="450.17"/><use href="#mb" x="1310.99" y="450.1"/><use href="#mb" x="1312.67" y="450.05"/><use href="#mb" x="1314.36" y="450"/><use href="#mb" x="1316.04" y="449.96"/><use href="#mb" x="1317.73" y="449.93"/><use href="#mb" x="1319.41" y="449.91"/><use href="#mb" x="1321.1" y="449.89"/><use href="#mb" x="1322.79" y="449.88"/><use href="#mb" x="1324.47" y="449.88"/><use href="#mb" x="1326.16" y="449.88"/><use href="#mb" x="1327.84" y="449.89"/><use href="#mb" x="1329.53" y="449.91"/><use href="#mb" x="1331.21" y="449.93"/><use href="#mb" x="1332.9" y="449.96"/><use href="#mb" x="1334.59" y="450"/><use href="#mb" x="1336.27" y="450.04"/><use href="#mb" x="1337.96" y="450.09"/><use href="#mb" x="1339.64" y="450.15"/><use href="#mb" x="1341.33" y="450.21"/><use href="#mb" x="1343.01" y="450.27"/><use href="#mb" x="1344.7" y="450.34"/><use href="#mb" x="1346.39" y="450.42"/><use href="#mb" x="1348.07" y="450.5"/><use href="#mb" x="1349.76" y="450.59"/><use href="#mb" x="1351.44" y="450.69"/><use href="#mb" x="1353.13" y="450.79"/><use href="#mb" x="1354.81" y="450.89"/><use href="#mb" x="1356.5" y="451"/><use href="#mb" x="1358.19" y="451.11"/><use href="#mb" x="1359.87" y="451.23"/><use href="#mb" x="1361.56" y="451.35"/><use href="#mb" x="1363.24" y="451.48"/><use href="#mb" x="1364.93" y="451.61"/><use href="#mb" x="1366.61" y="451.74"/><use href="#mb" x="1368.3" y="451.88"/><use href="#mb" x="1369.99" y="452.02"/><use href="#mb" x="1371.67" y="452.17"/><use href="#mb" x="1373.36" y="452.32"/><use href="#mb" x="1375.04" y="452.48"/><use href="#mb" x="1376.73" y="452.63"/><use href="#mb" x="1378.41" y="452.8"/><use href="#mb" x="1380.1" y="452.96"/><use href="#mb" x="1381.79" y="453.13"/><use href="#mb" x="1383.47" y="453.3"/><use href="#mb" x="1385.16" y="453.47"/><use href="#mb" x="1386.84" y="453.65"/><use href="#mb" x="1388.53" y="453.83"/><use href="#mb" x="1390.21" y="454.01"/><use href="#mb" x="1391.9" y="454.19"/><use href="#mb" x="1393.59" y="454.38"/><use href="#mb" x="1395.27" y="454.57"/><use href="#mb" x="1396.96" y="454.76"/><use href="#mb" x="1398.64" y="454.95"/><use href="#mb" x="1400.33" y="455.14"/><use href="#mb" x="1402.01" y="455.34"/><use href="#mb" x="1403.7" y="455.54"/><use href="#mb" x="1405.39" y="455.74"/><use href="#mb" x="1407.07" y="455.94"/><use href="#mb" x="1408.76" y="456.14"/><use href="#mb" x="1410.44" y="456.35"/><use href="#mb" x="1412.13" y="456.55"/><use href="#mb" x="1413.81" y="456.76"/><use href="#mb" x="1415.5" y="456.96"/><use href="#mb" x="1417.19" y="457.17"/><use href="#mb" x="1418.87" y="457.38"/><use href="#mb" x="1420.56" y="457.59"/><use href="#mb" x="1422.24" y="457.79"/><use href="#mb" x="1423.93" y="458"/><use href="#mb" x="1425.61" y="458.21"/><use href="#mb" x="1427.3" y="458.42"/><use href="#mb" x="1428.99" y="458.63"/><use href="#mb" x="1430.67" y="458.84"/><use href="#mb" x="1432.36" y="459.05"/><use href="#mb" x="1434.04" y="459.26"/><use href="#mb" x="1435.73" y="459.47"/><use href="#mb" x="1437.41" y="459.68"/><use href="#mb" x="1439.1" y="459.88"/><use href="#mb" x="1440.79" y="460.09"/><use href="#mb" x="1442.47" y="460.29"/><use href="#mb" x="1444.16" y="460.5"/><use href="#mb" x="1445.84" y="460.7"/><use href="#mb" x="1447.53" y="460.9"/><use href="#mb" x="1449.21" y="461.1"/><use href="#mb" x="1450.9" y="461.3"/><use href="#mb" x="1452.59" y="461.5"/><use href="#mb" x="1454.27" y="461.69"/><use href="#mb" x="1455.96" y="461.89"/><use href="#mb" x="1457.64" y="462.08"/><use href="#mb" x="1459.33" y="462.27"/><use href="#mb" x="1461.01" y="462.46"/><use href="#mb" x="1462.7" y="462.64"/><use href="#mb" x="1464.39" y="462.82"/><use href="#mb" x="1466.07" y="463"/><use href="#mb" x="1467.76" y="463.18"/><use href="#mb" x="1469.44" y="463.35"/><use href="#mb" x="1471.13" y="463.53"/><use href="#mb" x="1472.81" y="463.7"/><use href="#mb" x="1474.5" y="463.86"/>
</g>
<rect x="884.5" y="422" width="590" height="316.3" fill="none" stroke="#000" stroke-width="2.6"/>
<path d="M884.5 738.3H874.1M884.5 706.67H878.9M884.5 675.04H874.1M884.5 643.41H878.9M884.5 611.78H874.1M884.5 580.15H878.9M884.5 548.52H874.1M884.5 516.89H878.9M884.5 485.26H874.1M884.5 453.63H878.9M884.5 422H874.1M884.5 738.3V748.9M916.11 738.3V744.3M947.71 738.3V748.9M979.32 738.3V744.3M1010.93 738.3V748.9M1042.54 738.3V744.3M1074.14 738.3V748.9M1105.75 738.3V744.3M1137.36 738.3V748.9M1168.96 738.3V744.3M1200.57 738.3V748.9M1232.18 738.3V744.3M1263.79 738.3V748.9M1295.39 738.3V744.3M1327 738.3V748.9M1358.61 738.3V744.3M1390.21 738.3V748.9M1421.82 738.3V744.3M1453.43 738.3V748.9" stroke="#000" stroke-width="2.4" fill="none"/>
<text transform="translate(868.1,747.7) scale(1,1.04)" text-anchor="end" class="t">0.0</text>
<text transform="translate(868.1,684.44) scale(1,1.04)" text-anchor="end" class="t">0.2</text>
<text transform="translate(868.1,621.18) scale(1,1.04)" text-anchor="end" class="t">0.4</text>
<text transform="translate(868.1,557.92) scale(1,1.04)" text-anchor="end" class="t">0.6</text>
<text transform="translate(868.1,494.66) scale(1,1.04)" text-anchor="end" class="t">0.8</text>
<text transform="translate(868.1,431.4) scale(1,1.04)" text-anchor="end" class="t">1.0</text>
<text transform="translate(884.5,776) scale(1,1.04)" text-anchor="middle" class="t">222</text>
<text transform="translate(947.71,776) scale(1,1.04)" text-anchor="middle" class="t">225</text>
<text transform="translate(1010.93,776) scale(1,1.04)" text-anchor="middle" class="t">228</text>
<text transform="translate(1074.14,776) scale(1,1.04)" text-anchor="middle" class="t">231</text>
<text transform="translate(1137.36,776) scale(1,1.04)" text-anchor="middle" class="t">234</text>
<text transform="translate(1200.57,776) scale(1,1.04)" text-anchor="middle" class="t">237</text>
<text transform="translate(1263.79,776) scale(1,1.04)" text-anchor="middle" class="t">240</text>
<text transform="translate(1327,776) scale(1,1.04)" text-anchor="middle" class="t">243</text>
<text transform="translate(1390.21,776) scale(1,1.04)" text-anchor="middle" class="t">246</text>
<text transform="translate(1453.43,776) scale(1,1.04)" text-anchor="middle" class="t">249</text>
<g clip-path="url(#clipe)">
<polyline points="126.5,929.64 127.55,929.49 128.6,929.33 129.66,929.17 130.71,929.02 131.76,928.86 132.81,928.7 133.87,928.55 134.92,928.39 135.97,928.23 137.02,928.07 138.07,927.92 139.13,927.76 140.18,927.6 141.23,927.44 142.28,927.28 143.33,927.12 144.39,926.97 145.44,926.81 146.49,926.65 147.54,926.49 148.6,926.33 149.65,926.17 150.7,926.01 151.75,925.85 152.8,925.69 153.86,925.53 154.91,925.37 155.96,925.21 157.01,925.05 158.06,924.89 159.12,924.73 160.17,924.56 161.22,924.4 162.27,924.24 163.33,924.08 164.38,923.92 165.43,923.76 166.48,923.6 167.53,923.43 168.59,923.27 169.64,923.11 170.69,922.95 171.74,922.79 172.79,922.63 173.85,922.46 174.9,922.3 175.95,922.14 177,921.98 178.06,921.81 179.11,921.65 180.16,921.49 181.21,921.33 182.26,921.16 183.32,921 184.37,920.84 185.42,920.68 186.47,920.51 187.52,920.35 188.58,920.19 189.63,920.02 190.68,919.86 191.73,919.7 192.79,919.54 193.84,919.37 194.89,919.21 195.94,919.05 196.99,918.89 198.05,918.72 199.1,918.56 200.15,918.4 201.2,918.23 202.25,918.07 203.31,917.91 204.36,917.75 205.41,917.58 206.46,917.42 207.52,917.26 208.57,917.1 209.62,916.93 210.67,916.77 211.72,916.61 212.78,916.45 213.83,916.28 214.88,916.12 215.93,915.96 216.98,915.8 218.04,915.63 219.09,915.47 220.14,915.31 221.19,915.15 222.25,914.99 223.3,914.83 224.35,914.66 225.4,914.5 226.45,914.34 227.51,914.18 228.56,914.02 229.61,913.86 230.66,913.7 231.71,913.54 232.77,913.38 233.82,913.22 234.87,913.05 235.92,912.89 236.98,912.73 238.03,912.57 239.08,912.41 240.13,912.25 241.18,912.1 242.24,911.94 243.29,911.78 244.34,911.62 245.39,911.46 246.44,911.3 247.5,911.14 248.55,910.98 249.6,910.82 250.65,910.67 251.71,910.51 252.76,910.35 253.81,910.19 254.86,910.04 255.91,909.88 256.97,909.72 258.02,909.56 259.07,909.41 260.12,909.25 261.17,909.1 262.23,908.94 263.28,908.78 264.33,908.63 265.38,908.47 266.44,908.32 267.49,908.16 268.54,908.01 269.59,907.85 270.64,907.7 271.7,907.55 272.75,907.39 273.8,907.24 274.85,907.09 275.9,906.93 276.96,906.78 278.01,906.63 279.06,906.48 280.11,906.33 281.17,906.17 282.22,906.02 283.27,905.87 284.32,905.72 285.37,905.57 286.43,905.42 287.48,905.27 288.53,905.12 289.58,904.97 290.63,904.82 291.69,904.68 292.74,904.53 293.79,904.38 294.84,904.23 295.9,904.08 296.95,903.94 298,903.79 299.05,903.64 300.1,903.5 301.16,903.35 302.21,903.21 303.26,903.06 304.31,902.92 305.36,902.77 306.42,902.63 307.47,902.49 308.52,902.34 309.57,902.2 310.63,902.06 311.68,901.92 312.73,901.77 313.78,901.63 314.83,901.49 315.89,901.35 316.94,901.21 317.99,901.07 319.04,900.93 320.09,900.79 321.15,900.66 322.2,900.52 323.25,900.38 324.3,900.24 325.36,900.11 326.41,899.97 327.46,899.83 328.51,899.7 329.56,899.56 330.62,899.43 331.67,899.29 332.72,899.16 333.77,899.03 334.82,898.89 335.88,898.76 336.93,898.63 337.98,898.5 339.03,898.37 340.09,898.24 341.14,898.11 342.19,897.98 343.24,897.85 344.29,897.72 345.35,897.59 346.4,897.46 347.45,897.34 348.5,897.21 349.55,897.08 350.61,896.96 351.66,896.83 352.71,896.71 353.76,896.58 354.82,896.46 355.87,896.33 356.92,896.21 357.97,896.09 359.02,895.97 360.08,895.85 361.13,895.73 362.18,895.61 363.23,895.49 364.28,895.37 365.34,895.25 366.39,895.13 367.44,895.01 368.49,894.9 369.55,894.78 370.6,894.67 371.65,894.55 372.7,894.44 373.75,894.32 374.81,894.21 375.86,894.1 376.91,893.98 377.96,893.87 379.01,893.76 380.07,893.65 381.12,893.54 382.17,893.43 383.22,893.32 384.28,893.21 385.33,893.11 386.38,893 387.43,892.89 388.48,892.79 389.54,892.68 390.59,892.58 391.64,892.48 392.69,892.37 393.74,892.27 394.8,892.17 395.85,892.07 396.9,891.97 397.95,891.87 399.01,891.77 400.06,891.67 401.11,891.57 402.16,891.47 403.21,891.38 404.27,891.28 405.32,891.19 406.37,891.09 407.42,891 408.47,890.91 409.53,890.81 410.58,890.72 411.63,890.63 412.68,890.54 413.74,890.45 414.79,890.36 415.84,890.27 416.89,890.19 417.94,890.1 419,890.01 420.05,889.93 421.1,889.84 422.15,889.76 423.2,889.68 424.26,889.59 425.31,889.51 426.36,889.43 427.41,889.35 428.47,889.27 429.52,889.19 430.57,889.11 431.62,889.04 432.67,888.96 433.73,888.89 434.78,888.81 435.83,888.74 436.88,888.66 437.93,888.59 438.99,888.52 440.04,888.45 441.09,888.38 442.14,888.31 443.2,888.24 444.25,888.17 445.3,888.11 446.35,888.04 447.4,887.97 448.46,887.91 449.51,887.85 450.56,887.78 451.61,887.72 452.66,887.66 453.72,887.6 454.77,887.54 455.82,887.48 456.87,887.42 457.93,887.37 458.98,887.31 460.03,887.25 461.08,887.2 462.13,887.15 463.19,887.09 464.24,887.04 465.29,886.99 466.34,886.94 467.39,886.89 468.45,886.84 469.5,886.79 470.55,886.75 471.6,886.7 472.66,886.66 473.71,886.61 474.76,886.57 475.81,886.53 476.86,886.49 477.92,886.45 478.97,886.41 480.02,886.37 481.07,886.33 482.12,886.29 483.18,886.26 484.23,886.22 485.28,886.19 486.33,886.16 487.39,886.12 488.44,886.09 489.49,886.06 490.54,886.03 491.59,886.01 492.65,885.98 493.7,885.95 494.75,885.93 495.8,885.9 496.85,885.88 497.91,885.86 498.96,885.83 500.01,885.81 501.06,885.79 502.12,885.78 503.17,885.76 504.22,885.74 505.27,885.73 506.32,885.71 507.38,885.7 508.43,885.69 509.48,885.67 510.53,885.66 511.58,885.65 512.64,885.65 513.69,885.64 514.74,885.63 515.79,885.63 516.85,885.62 517.9,885.62 518.95,885.62 520,885.62 521.05,885.61 522.11,885.62 523.16,885.62 524.21,885.62 525.26,885.62 526.31,885.63 527.37,885.64 528.42,885.64 529.47,885.65 530.52,885.66 531.58,885.67 532.63,885.68 533.68,885.7 534.73,885.71 535.78,885.72 536.84,885.74 537.89,885.76 538.94,885.78 539.99,885.79 541.04,885.81 542.1,885.84 543.15,885.86 544.2,885.88 545.25,885.91 546.31,885.93 547.36,885.96 548.41,885.99 549.46,886.02 550.51,886.05 551.57,886.08 552.62,886.11 553.67,886.15 554.72,886.18 555.77,886.22 556.83,886.26 557.88,886.29 558.93,886.33 559.98,886.38 561.04,886.42 562.09,886.46 563.14,886.51 564.19,886.55 565.24,886.6 566.3,886.65 567.35,886.7 568.4,886.75 569.45,886.8 570.5,886.85 571.56,886.9 572.61,886.96 573.66,887.02 574.71,887.07 575.77,887.13 576.82,887.19 577.87,887.25 578.92,887.32 579.97,887.38 581.03,887.45 582.08,887.51 583.13,887.58 584.18,887.65 585.23,887.72 586.29,887.79 587.34,887.86 588.39,887.94 589.44,888.01 590.5,888.09 591.55,888.17 592.6,888.25 593.65,888.33 594.7,888.41 595.76,888.49 596.81,888.57 597.86,888.66 598.91,888.75 599.96,888.83 601.02,888.92 602.07,889.01 603.12,889.11 604.17,889.2 605.23,889.29 606.28,889.39 607.33,889.49 608.38,889.59 609.43,889.69 610.49,889.79 611.54,889.89 612.59,889.99 613.64,890.1 614.69,890.21 615.75,890.31 616.8,890.42 617.85,890.53 618.9,890.65 619.96,890.76 621.01,890.87 622.06,890.99 623.11,891.11 624.16,891.23 625.22,891.35 626.27,891.47 627.32,891.59 628.37,891.72 629.42,891.84 630.48,891.97 631.53,892.1 632.58,892.23 633.63,892.36 634.69,892.49 635.74,892.63 636.79,892.76 637.84,892.9 638.89,893.04 639.95,893.18 641,893.32 642.05,893.46 643.1,893.61 644.15,893.75 645.21,893.9 646.26,894.05 647.31,894.2 648.36,894.35 649.42,894.5 650.47,894.66 651.52,894.82 652.57,894.97 653.62,895.13 654.68,895.29 655.73,895.45 656.78,895.62 657.83,895.78 658.88,895.95 659.94,896.12 660.99,896.29 662.04,896.46 663.09,896.63 664.15,896.8 665.2,896.98 666.25,897.16 667.3,897.33 668.35,897.51 669.41,897.69 670.46,897.88 671.51,898.06 672.56,898.25 673.61,898.44 674.67,898.63 675.72,898.82 676.77,899.01 677.82,899.2 678.88,899.4 679.93,899.59 680.98,899.79 682.03,899.99 683.08,900.19 684.14,900.4 685.19,900.6 686.24,900.81 687.29,901.02 688.34,901.23 689.4,901.44 690.45,901.65 691.5,901.86 692.55,902.08 693.61,902.3 694.66,902.52 695.71,902.74 696.76,902.96 697.81,903.18 698.87,903.41 699.92,903.64 700.97,903.87 702.02,904.1 703.07,904.33 704.13,904.56 705.18,904.8 706.23,905.03 707.28,905.27 708.34,905.51 709.39,905.75 710.44,906 711.49,906.24 712.54,906.49 713.6,906.74 714.65,906.99 715.7,907.24" fill="none" stroke="#4B64A8" stroke-width="2.4" stroke-linejoin="round" />
<polyline points="126.5,931.79 127.55,931.87 128.6,931.95 129.66,932.01 130.71,932.07 131.76,932.13 132.81,932.17 133.87,932.22 134.92,932.25 135.97,932.28 137.02,932.3 138.07,932.31 139.13,932.32 140.18,932.33 141.23,932.33 142.28,932.32 143.33,932.31 144.39,932.29 145.44,932.27 146.49,932.25 147.54,932.22 148.6,932.18 149.65,932.14 150.7,932.1 151.75,932.06 152.8,932.01 153.86,931.95 154.91,931.9 155.96,931.84 157.01,931.78 158.06,931.72 159.12,931.65 160.17,931.58 161.22,931.51 162.27,931.44 163.33,931.36 164.38,931.29 165.43,931.21 166.48,931.13 167.53,931.05 168.59,930.97 169.64,930.89 170.69,930.8 171.74,930.72 172.79,930.64 173.85,930.56 174.9,930.47 175.95,930.39 177,930.31 178.06,930.23 179.11,930.15 180.16,930.07 181.21,929.99 182.26,929.91 183.32,929.83 184.37,929.76 185.42,929.69 186.47,929.62 187.52,929.55 188.58,929.48 189.63,929.42 190.68,929.36 191.73,929.3 192.79,929.24 193.84,929.19 194.89,929.14 195.94,929.1 196.99,929.06 198.05,929.02 199.1,928.98 200.15,928.95 201.2,928.93 202.25,928.91 203.31,928.89 204.36,928.88 205.41,928.88 206.46,928.88 207.52,928.88 208.57,928.89 209.62,928.91 210.67,928.93 211.72,928.96 212.78,928.99 213.83,929.03 214.88,929.08 215.93,929.13 216.98,929.19 218.04,929.26 219.09,929.34 220.14,929.42 221.19,929.51 222.25,929.61 223.3,929.72 224.35,929.83 225.4,929.95 226.45,930.08 227.51,930.22 228.56,930.37 229.61,930.53 230.66,930.7 231.71,930.87 232.77,931.06 233.82,931.25 234.87,931.46 235.92,931.67 236.98,931.9 238.03,932.13 239.08,932.38 240.13,932.64 241.18,932.9 242.24,933.18 243.29,933.47 244.34,933.77 245.39,934.09 246.44,934.41 247.5,934.75 248.55,935.09 249.6,935.46 250.65,935.83 251.71,936.21 252.76,936.61 253.81,937.02 254.86,937.45 255.91,937.89 256.97,938.34 258.02,938.8 259.07,939.28 260.12,939.77 261.17,940.28 262.23,940.8 263.28,941.33 264.33,941.88 265.38,942.45 266.44,943.03 267.49,943.62 268.54,944.23 269.59,944.86 270.64,945.5 271.7,946.16 272.75,946.83 273.8,947.52 274.85,948.22 275.9,948.95 276.96,949.68 278.01,950.44 279.06,951.21 280.11,952 281.17,952.81 282.22,953.64 283.27,954.48 284.32,955.34 285.37,956.23 286.43,957.13 287.48,958.06 288.53,959.01 289.58,959.99 290.63,960.99 291.69,962.01 292.74,963.07 293.79,964.15 294.84,965.25 295.9,966.39 296.95,967.55 298,968.75 299.05,969.97 300.1,971.23 301.16,972.52 302.21,973.85 303.26,975.21 304.31,976.6 305.36,978.03 306.42,979.5 307.47,981 308.52,982.55 309.57,984.13 310.63,985.75 311.68,987.42 312.73,989.12 313.78,990.87 314.83,992.66 315.89,994.5 316.94,996.38 317.99,998.3 319.04,1000.27 320.09,1002.29 321.15,1004.36 322.2,1006.48 323.25,1008.65 324.3,1010.86 325.36,1013.13 326.41,1015.45 327.46,1017.83 328.51,1020.26 329.56,1022.74 330.62,1025.28 331.67,1027.87 332.72,1030.52 333.77,1033.23 334.82,1036 335.88,1038.83 336.93,1041.72 337.98,1044.67 339.03,1047.67 340.09,1050.72 341.14,1053.82 342.19,1056.96 343.24,1060.13 344.29,1063.33 345.35,1066.55 346.4,1069.78 347.45,1073.03 348.5,1076.28 349.55,1079.53 350.61,1082.78 351.66,1086.01 352.71,1089.23 353.76,1092.42 354.82,1095.59 355.87,1098.72 356.92,1101.81 357.97,1104.86 359.02,1107.85 360.08,1110.8 361.13,1113.69 362.18,1116.53 363.23,1119.31 364.28,1122.02 365.34,1124.67 366.39,1127.25 367.44,1129.76 368.49,1132.2 369.55,1134.56 370.6,1136.84 371.65,1139.04 372.7,1141.14 373.75,1143.12 374.81,1144.95 375.86,1146.57 376.91,1147.95 377.96,1149.05 379.01,1149.85 380.07,1150.35 381.12,1150.56 382.17,1150.51 383.22,1150.2 384.28,1149.65 385.33,1148.88 386.38,1147.9 387.43,1146.72 388.48,1145.37 389.54,1143.86 390.59,1142.2 391.64,1140.41 392.69,1138.5 393.74,1136.48 394.8,1134.36 395.85,1132.14 396.9,1129.82 397.95,1127.41 399.01,1124.92 400.06,1122.36 401.11,1119.72 402.16,1117.01 403.21,1114.25 404.27,1111.42 405.32,1108.55 406.37,1105.64 407.42,1102.68 408.47,1099.69 409.53,1096.68 410.58,1093.64 411.63,1090.59 412.68,1087.52 413.74,1084.45 414.79,1081.38 415.84,1078.32 416.89,1075.27 417.94,1072.24 419,1069.24 420.05,1066.26 421.1,1063.32 422.15,1060.42 423.2,1057.57 424.26,1054.77 425.31,1052.03 426.36,1049.35 427.41,1046.75 428.47,1044.22 429.52,1041.77 430.57,1039.41 431.62,1037.14 432.67,1034.96 433.73,1032.84 434.78,1030.78 435.83,1028.77 436.88,1026.8 437.93,1024.85 438.99,1022.91 440.04,1020.97 441.09,1019.02 442.14,1017.05 443.2,1015.05 444.25,1013 445.3,1010.9 446.35,1008.76 447.4,1006.59 448.46,1004.41 449.51,1002.23 450.56,1000.05 451.61,997.9 452.66,995.77 453.72,993.7 454.77,991.67 455.82,989.7 456.87,987.77 457.93,985.89 458.98,984.06 460.03,982.28 461.08,980.54 462.13,978.84 463.19,977.19 464.24,975.58 465.29,974.01 466.34,972.48 467.39,971 468.45,969.55 469.5,968.14 470.55,966.77 471.6,965.43 472.66,964.13 473.71,962.87 474.76,961.63 475.81,960.43 476.86,959.27 477.92,958.13 478.97,957.03 480.02,955.95 481.07,954.9 482.12,953.88 483.18,952.89 484.23,951.93 485.28,950.98 486.33,950.07 487.39,949.17 488.44,948.3 489.49,947.45 490.54,946.62 491.59,945.81 492.65,945.02 493.7,944.25 494.75,943.49 495.8,942.75 496.85,942.03 497.91,941.32 498.96,940.63 500.01,939.94 501.06,939.27 502.12,938.61 503.17,937.97 504.22,937.33 505.27,936.71 506.32,936.09 507.38,935.49 508.43,934.9 509.48,934.32 510.53,933.76 511.58,933.2 512.64,932.65 513.69,932.12 514.74,931.59 515.79,931.07 516.85,930.57 517.9,930.08 518.95,929.59 520,929.12 521.05,928.65 522.11,928.2 523.16,927.75 524.21,927.32 525.26,926.89 526.31,926.47 527.37,926.07 528.42,925.67 529.47,925.28 530.52,924.9 531.58,924.53 532.63,924.17 533.68,923.81 534.73,923.47 535.78,923.13 536.84,922.8 537.89,922.48 538.94,922.17 539.99,921.86 541.04,921.56 542.1,921.28 543.15,920.99 544.2,920.72 545.25,920.45 546.31,920.19 547.36,919.94 548.41,919.7 549.46,919.46 550.51,919.23 551.57,919.01 552.62,918.79 553.67,918.58 554.72,918.37 555.77,918.17 556.83,917.98 557.88,917.8 558.93,917.62 559.98,917.44 561.04,917.28 562.09,917.11 563.14,916.96 564.19,916.81 565.24,916.66 566.3,916.52 567.35,916.39 568.4,916.26 569.45,916.13 570.5,916.01 571.56,915.9 572.61,915.79 573.66,915.68 574.71,915.58 575.77,915.48 576.82,915.39 577.87,915.3 578.92,915.21 579.97,915.13 581.03,915.06 582.08,914.98 583.13,914.91 584.18,914.85 585.23,914.78 586.29,914.72 587.34,914.67 588.39,914.61 589.44,914.56 590.5,914.52 591.55,914.47 592.6,914.43 593.65,914.39 594.7,914.35 595.76,914.32 596.81,914.28 597.86,914.25 598.91,914.22 599.96,914.2 601.02,914.17 602.07,914.15 603.12,914.13 604.17,914.11 605.23,914.09 606.28,914.07 607.33,914.05 608.38,914.04 609.43,914.02 610.49,914.01 611.54,914 612.59,913.98 613.64,913.97 614.69,913.96 615.75,913.95 616.8,913.94 617.85,913.93 618.9,913.92 619.96,913.9 621.01,913.89 622.06,913.89 623.11,913.88 624.16,913.87 625.22,913.86 626.27,913.85 627.32,913.84 628.37,913.84 629.42,913.83 630.48,913.83 631.53,913.82 632.58,913.82 633.63,913.82 634.69,913.82 635.74,913.82 636.79,913.82 637.84,913.82 638.89,913.83 639.95,913.83 641,913.84 642.05,913.85 643.1,913.86 644.15,913.87 645.21,913.88 646.26,913.9 647.31,913.91 648.36,913.93 649.42,913.95 650.47,913.97 651.52,914 652.57,914.02 653.62,914.05 654.68,914.08 655.73,914.11 656.78,914.15 657.83,914.19 658.88,914.23 659.94,914.27 660.99,914.31 662.04,914.36 663.09,914.41 664.15,914.46 665.2,914.51 666.25,914.57 667.3,914.63 668.35,914.69 669.41,914.76 670.46,914.83 671.51,914.9 672.56,914.97 673.61,915.05 674.67,915.13 675.72,915.22 676.77,915.31 677.82,915.4 678.88,915.49 679.93,915.59 680.98,915.69 682.03,915.8 683.08,915.9 684.14,916.02 685.19,916.13 686.24,916.25 687.29,916.38 688.34,916.5 689.4,916.64 690.45,916.77 691.5,916.91 692.55,917.05 693.61,917.2 694.66,917.35 695.71,917.51 696.76,917.67 697.81,917.84 698.87,918.01 699.92,918.18 700.97,918.36 702.02,918.54 703.07,918.73 704.13,918.93 705.18,919.12 706.23,919.33 707.28,919.53 708.34,919.75 709.39,919.96 710.44,920.19 711.49,920.41 712.54,920.65 713.6,920.89 714.65,921.13 715.7,921.38" fill="none" stroke="#D11A20" stroke-width="2.4" stroke-linejoin="round" />
<polyline points="126.5,991.04 127.55,990.82 128.6,990.61 129.66,990.39 130.71,990.17 131.76,989.95 132.81,989.72 133.87,989.49 134.92,989.26 135.97,989.03 137.02,988.79 138.07,988.55 139.13,988.31 140.18,988.06 141.23,987.81 142.28,987.56 143.33,987.31 144.39,987.06 145.44,986.8 146.49,986.55 147.54,986.29 148.6,986.03 149.65,985.77 150.7,985.51 151.75,985.25 152.8,984.98 153.86,984.72 154.91,984.45 155.96,984.18 157.01,983.92 158.06,983.65 159.12,983.38 160.17,983.11 161.22,982.85 162.27,982.58 163.33,982.31 164.38,982.04 165.43,981.77 166.48,981.51 167.53,981.24 168.59,980.97 169.64,980.71 170.69,980.45 171.74,980.18 172.79,979.92 173.85,979.66 174.9,979.4 175.95,979.14 177,978.88 178.06,978.63 179.11,978.37 180.16,978.12 181.21,977.87 182.26,977.62 183.32,977.38 184.37,977.13 185.42,976.89 186.47,976.65 187.52,976.42 188.58,976.18 189.63,975.95 190.68,975.72 191.73,975.5 192.79,975.28 193.84,975.06 194.89,974.84 195.94,974.63 196.99,974.42 198.05,974.22 199.1,974.02 200.15,973.82 201.2,973.63 202.25,973.44 203.31,973.25 204.36,973.07 205.41,972.9 206.46,972.73 207.52,972.56 208.57,972.4 209.62,972.24 210.67,972.09 211.72,971.94 212.78,971.8 213.83,971.66 214.88,971.53 215.93,971.4 216.98,971.28 218.04,971.17 219.09,971.06 220.14,970.96 221.19,970.86 222.25,970.77 223.3,970.68 224.35,970.61 225.4,970.53 226.45,970.47 227.51,970.41 228.56,970.36 229.61,970.31 230.66,970.28 231.71,970.24 232.77,970.22 233.82,970.21 234.87,970.2 235.92,970.19 236.98,970.2 238.03,970.22 239.08,970.24 240.13,970.27 241.18,970.31 242.24,970.35 243.29,970.41 244.34,970.47 245.39,970.54 246.44,970.62 247.5,970.71 248.55,970.81 249.6,970.91 250.65,971.03 251.71,971.15 252.76,971.29 253.81,971.43 254.86,971.58 255.91,971.75 256.97,971.92 258.02,972.1 259.07,972.29 260.12,972.49 261.17,972.71 262.23,972.93 263.28,973.16 264.33,973.4 265.38,973.66 266.44,973.92 267.49,974.2 268.54,974.48 269.59,974.78 270.64,975.09 271.7,975.41 272.75,975.74 273.8,976.08 274.85,976.43 275.9,976.8 276.96,977.18 278.01,977.57 279.06,977.97 280.11,978.38 281.17,978.8 282.22,979.24 283.27,979.7 284.32,980.17 285.37,980.65 286.43,981.16 287.48,981.69 288.53,982.24 289.58,982.81 290.63,983.4 291.69,984.02 292.74,984.67 293.79,985.35 294.84,986.06 295.9,986.79 296.95,987.57 298,988.37 299.05,989.21 300.1,990.08 301.16,991 302.21,991.95 303.26,992.95 304.31,993.98 305.36,995.06 306.42,996.18 307.47,997.35 308.52,998.57 309.57,999.84 310.63,1001.15 311.68,1002.52 312.73,1003.94 313.78,1005.41 314.83,1006.94 315.89,1008.53 316.94,1010.17 317.99,1011.88 319.04,1013.64 320.09,1015.47 321.15,1017.36 322.2,1019.32 323.25,1021.34 324.3,1023.43 325.36,1025.59 326.41,1027.82 327.46,1030.12 328.51,1032.49 329.56,1034.92 330.62,1037.41 331.67,1039.96 332.72,1042.57 333.77,1045.22 334.82,1047.93 335.88,1050.67 336.93,1053.46 337.98,1056.28 339.03,1059.13 340.09,1062.01 341.14,1064.92 342.19,1067.84 343.24,1070.79 344.29,1073.75 345.35,1076.72 346.4,1079.7 347.45,1082.68 348.5,1085.66 349.55,1088.64 350.61,1091.61 351.66,1094.57 352.71,1097.52 353.76,1100.44 354.82,1103.35 355.87,1106.23 356.92,1109.08 357.97,1111.9 359.02,1114.69 360.08,1117.43 361.13,1120.13 362.18,1122.79 363.23,1125.39 364.28,1127.94 365.34,1130.44 366.39,1132.87 367.44,1135.24 368.49,1137.54 369.55,1139.77 370.6,1141.91 371.65,1143.93 372.7,1145.82 373.75,1147.54 374.81,1149.06 375.86,1150.38 376.91,1151.45 377.96,1152.25 379.01,1152.76 380.07,1152.96 381.12,1152.85 382.17,1152.45 383.22,1151.78 384.28,1150.84 385.33,1149.66 386.38,1148.25 387.43,1146.62 388.48,1144.8 389.54,1142.81 390.59,1140.66 391.64,1138.37 392.69,1135.96 393.74,1133.45 394.8,1130.85 395.85,1128.19 396.9,1125.47 397.95,1122.73 399.01,1119.97 400.06,1117.21 401.11,1114.46 402.16,1111.71 403.21,1108.96 404.27,1106.21 405.32,1103.45 406.37,1100.69 407.42,1097.91 408.47,1095.13 409.53,1092.34 410.58,1089.53 411.63,1086.71 412.68,1083.87 413.74,1081.01 414.79,1078.13 415.84,1075.23 416.89,1072.3 417.94,1069.35 419,1066.37 420.05,1063.35 421.1,1060.31 422.15,1057.23 423.2,1054.12 424.26,1050.99 425.31,1047.85 426.36,1044.71 427.41,1041.56 428.47,1038.42 429.52,1035.29 430.57,1032.18 431.62,1029.11 432.67,1026.06 433.73,1023.06 434.78,1020.1 435.83,1017.21 436.88,1014.37 437.93,1011.6 438.99,1008.91 440.04,1006.3 441.09,1003.78 442.14,1001.34 443.2,998.98 444.25,996.7 445.3,994.47 446.35,992.31 447.4,990.21 448.46,988.15 449.51,986.14 450.56,984.16 451.61,982.23 452.66,980.32 453.72,978.46 454.77,976.63 455.82,974.83 456.87,973.07 457.93,971.35 458.98,969.65 460.03,967.99 461.08,966.37 462.13,964.77 463.19,963.21 464.24,961.68 465.29,960.18 466.34,958.71 467.39,957.27 468.45,955.87 469.5,954.49 470.55,953.13 471.6,951.81 472.66,950.52 473.71,949.25 474.76,948.01 475.81,946.8 476.86,945.61 477.92,944.45 478.97,943.31 480.02,942.2 481.07,941.11 482.12,940.05 483.18,939.01 484.23,938 485.28,937 486.33,936.03 487.39,935.08 488.44,934.15 489.49,933.24 490.54,932.36 491.59,931.49 492.65,930.64 493.7,929.81 494.75,929 495.8,928.21 496.85,927.43 497.91,926.68 498.96,925.93 500.01,925.21 501.06,924.5 502.12,923.81 503.17,923.13 504.22,922.47 505.27,921.82 506.32,921.18 507.38,920.56 508.43,919.95 509.48,919.35 510.53,918.77 511.58,918.19 512.64,917.63 513.69,917.08 514.74,916.53 515.79,916 516.85,915.48 517.9,914.96 518.95,914.46 520,913.96 521.05,913.47 522.11,912.98 523.16,912.51 524.21,912.04 525.26,911.57 526.31,911.12 527.37,910.67 528.42,910.23 529.47,909.8 530.52,909.37 531.58,908.95 532.63,908.54 533.68,908.13 534.73,907.74 535.78,907.34 536.84,906.96 537.89,906.58 538.94,906.21 539.99,905.84 541.04,905.48 542.1,905.13 543.15,904.78 544.2,904.44 545.25,904.11 546.31,903.78 547.36,903.46 548.41,903.15 549.46,902.84 550.51,902.54 551.57,902.24 552.62,901.95 553.67,901.67 554.72,901.39 555.77,901.12 556.83,900.85 557.88,900.59 558.93,900.33 559.98,900.09 561.04,899.84 562.09,899.6 563.14,899.37 564.19,899.14 565.24,898.92 566.3,898.71 567.35,898.5 568.4,898.29 569.45,898.09 570.5,897.9 571.56,897.71 572.61,897.52 573.66,897.34 574.71,897.17 575.77,897 576.82,896.83 577.87,896.67 578.92,896.52 579.97,896.37 581.03,896.23 582.08,896.09 583.13,895.95 584.18,895.82 585.23,895.69 586.29,895.57 587.34,895.45 588.39,895.34 589.44,895.23 590.5,895.13 591.55,895.03 592.6,894.93 593.65,894.84 594.7,894.75 595.76,894.67 596.81,894.59 597.86,894.52 598.91,894.45 599.96,894.38 601.02,894.32 602.07,894.26 603.12,894.2 604.17,894.15 605.23,894.1 606.28,894.06 607.33,894.02 608.38,893.98 609.43,893.94 610.49,893.91 611.54,893.89 612.59,893.86 613.64,893.84 614.69,893.83 615.75,893.81 616.8,893.8 617.85,893.8 618.9,893.79 619.96,893.79 621.01,893.79 622.06,893.8 623.11,893.8 624.16,893.82 625.22,893.83 626.27,893.84 627.32,893.86 628.37,893.89 629.42,893.91 630.48,893.94 631.53,893.97 632.58,894 633.63,894.03 634.69,894.07 635.74,894.11 636.79,894.15 637.84,894.19 638.89,894.24 639.95,894.29 641,894.34 642.05,894.39 643.1,894.44 644.15,894.5 645.21,894.56 646.26,894.62 647.31,894.68 648.36,894.74 649.42,894.81 650.47,894.88 651.52,894.94 652.57,895.02 653.62,895.09 654.68,895.16 655.73,895.24 656.78,895.31 657.83,895.39 658.88,895.47 659.94,895.55 660.99,895.63 662.04,895.71 663.09,895.8 664.15,895.88 665.2,895.97 666.25,896.06 667.3,896.14 668.35,896.23 669.41,896.32 670.46,896.41 671.51,896.5 672.56,896.6 673.61,896.69 674.67,896.78 675.72,896.88 676.77,896.97 677.82,897.07 678.88,897.16 679.93,897.26 680.98,897.36 682.03,897.45 683.08,897.55 684.14,897.65 685.19,897.74 686.24,897.84 687.29,897.94 688.34,898.04 689.4,898.13 690.45,898.23 691.5,898.33 692.55,898.42 693.61,898.52 694.66,898.62 695.71,898.71 696.76,898.81 697.81,898.91 698.87,899 699.92,899.1 700.97,899.19 702.02,899.28 703.07,899.38 704.13,899.47 705.18,899.56 706.23,899.65 707.28,899.74 708.34,899.83 709.39,899.92 710.44,900.01 711.49,900.09 712.54,900.18 713.6,900.26 714.65,900.35 715.7,900.43" fill="none" stroke="#D11A20" stroke-width="2.4" stroke-linejoin="round" />
<use href="#mp" x="126.5" y="991.04"/><use href="#mp" x="128.18" y="990.7"/><use href="#mp" x="129.87" y="990.35"/><use href="#mp" x="131.55" y="989.99"/><use href="#mp" x="133.23" y="989.63"/><use href="#mp" x="134.92" y="989.26"/><use href="#mp" x="136.6" y="988.88"/><use href="#mp" x="138.28" y="988.5"/><use href="#mp" x="139.97" y="988.11"/><use href="#mp" x="141.65" y="987.71"/><use href="#mp" x="143.33" y="987.31"/><use href="#mp" x="145.02" y="986.91"/><use href="#mp" x="146.7" y="986.5"/><use href="#mp" x="148.38" y="986.08"/><use href="#mp" x="150.07" y="985.67"/><use href="#mp" x="151.75" y="985.25"/><use href="#mp" x="153.43" y="984.82"/><use href="#mp" x="155.12" y="984.4"/><use href="#mp" x="156.8" y="983.97"/><use href="#mp" x="158.49" y="983.54"/><use href="#mp" x="160.17" y="983.11"/><use href="#mp" x="161.85" y="982.69"/><use href="#mp" x="163.54" y="982.26"/><use href="#mp" x="165.22" y="981.83"/><use href="#mp" x="166.9" y="981.4"/><use href="#mp" x="168.59" y="980.97"/><use href="#mp" x="170.27" y="980.55"/><use href="#mp" x="171.95" y="980.13"/><use href="#mp" x="173.64" y="979.71"/><use href="#mp" x="175.32" y="979.29"/><use href="#mp" x="177" y="978.88"/><use href="#mp" x="178.69" y="978.47"/><use href="#mp" x="180.37" y="978.07"/><use href="#mp" x="182.05" y="977.67"/><use href="#mp" x="183.74" y="977.28"/><use href="#mp" x="185.42" y="976.89"/><use href="#mp" x="187.1" y="976.51"/><use href="#mp" x="188.79" y="976.14"/><use href="#mp" x="190.47" y="975.77"/><use href="#mp" x="192.15" y="975.41"/><use href="#mp" x="193.84" y="975.06"/><use href="#mp" x="195.52" y="974.72"/><use href="#mp" x="197.2" y="974.38"/><use href="#mp" x="198.89" y="974.06"/><use href="#mp" x="200.57" y="973.74"/><use href="#mp" x="202.25" y="973.44"/><use href="#mp" x="203.94" y="973.15"/><use href="#mp" x="205.62" y="972.86"/><use href="#mp" x="207.3" y="972.59"/><use href="#mp" x="208.99" y="972.33"/><use href="#mp" x="210.67" y="972.09"/><use href="#mp" x="212.35" y="971.85"/><use href="#mp" x="214.04" y="971.63"/><use href="#mp" x="215.72" y="971.43"/><use href="#mp" x="217.41" y="971.24"/><use href="#mp" x="219.09" y="971.06"/><use href="#mp" x="220.77" y="970.9"/><use href="#mp" x="222.46" y="970.75"/><use href="#mp" x="224.14" y="970.62"/><use href="#mp" x="225.82" y="970.51"/><use href="#mp" x="227.51" y="970.41"/><use href="#mp" x="229.19" y="970.33"/><use href="#mp" x="230.87" y="970.27"/><use href="#mp" x="232.56" y="970.23"/><use href="#mp" x="234.24" y="970.2"/><use href="#mp" x="235.92" y="970.19"/><use href="#mp" x="237.61" y="970.21"/><use href="#mp" x="239.29" y="970.24"/><use href="#mp" x="240.97" y="970.3"/><use href="#mp" x="242.66" y="970.37"/><use href="#mp" x="244.34" y="970.47"/><use href="#mp" x="246.02" y="970.59"/><use href="#mp" x="247.71" y="970.73"/><use href="#mp" x="249.39" y="970.89"/><use href="#mp" x="251.07" y="971.08"/><use href="#mp" x="252.76" y="971.29"/><use href="#mp" x="254.44" y="971.52"/><use href="#mp" x="256.12" y="971.78"/><use href="#mp" x="257.81" y="972.06"/><use href="#mp" x="259.49" y="972.37"/><use href="#mp" x="261.17" y="972.71"/><use href="#mp" x="262.86" y="973.07"/><use href="#mp" x="264.54" y="973.45"/><use href="#mp" x="266.22" y="973.87"/><use href="#mp" x="267.91" y="974.31"/><use href="#mp" x="269.59" y="974.78"/><use href="#mp" x="271.27" y="975.28"/><use href="#mp" x="272.96" y="975.81"/><use href="#mp" x="274.64" y="976.36"/><use href="#mp" x="276.33" y="976.95"/><use href="#mp" x="278.01" y="977.57"/><use href="#mp" x="279.69" y="978.21"/><use href="#mp" x="281.38" y="978.89"/><use href="#mp" x="283.06" y="979.6"/><use href="#mp" x="284.74" y="980.36"/><use href="#mp" x="286.43" y="981.16"/><use href="#mp" x="288.11" y="982.01"/><use href="#mp" x="289.79" y="982.92"/><use href="#mp" x="291.48" y="983.9"/><use href="#mp" x="293.16" y="984.94"/><use href="#mp" x="294.84" y="986.06"/><use href="#mp" x="296.53" y="987.25"/><use href="#mp" x="298.21" y="988.53"/><use href="#mp" x="299.89" y="989.91"/><use href="#mp" x="301.58" y="991.38"/><use href="#mp" x="303.26" y="992.95"/><use href="#mp" x="304.94" y="994.62"/><use href="#mp" x="306.63" y="996.41"/><use href="#mp" x="308.31" y="998.32"/><use href="#mp" x="309.99" y="1000.36"/><use href="#mp" x="311.68" y="1002.52"/><use href="#mp" x="313.36" y="1004.82"/><use href="#mp" x="315.04" y="1007.26"/><use href="#mp" x="316.73" y="1009.84"/><use href="#mp" x="318.41" y="1012.58"/><use href="#mp" x="320.09" y="1015.47"/><use href="#mp" x="321.78" y="1018.53"/><use href="#mp" x="323.46" y="1021.75"/><use href="#mp" x="325.14" y="1025.15"/><use href="#mp" x="326.83" y="1028.73"/><use href="#mp" x="328.51" y="1032.49"/><use href="#mp" x="330.19" y="1036.41"/><use href="#mp" x="331.88" y="1040.48"/><use href="#mp" x="333.56" y="1044.69"/><use href="#mp" x="335.25" y="1049.02"/><use href="#mp" x="336.93" y="1053.46"/><use href="#mp" x="338.61" y="1057.98"/><use href="#mp" x="340.3" y="1062.59"/><use href="#mp" x="341.98" y="1067.26"/><use href="#mp" x="343.66" y="1071.97"/><use href="#mp" x="345.35" y="1076.72"/><use href="#mp" x="347.03" y="1081.49"/><use href="#mp" x="348.71" y="1086.26"/><use href="#mp" x="350.4" y="1091.02"/><use href="#mp" x="352.08" y="1095.75"/><use href="#mp" x="353.76" y="1100.44"/><use href="#mp" x="355.45" y="1105.08"/><use href="#mp" x="357.13" y="1109.65"/><use href="#mp" x="358.81" y="1114.13"/><use href="#mp" x="360.5" y="1118.52"/><use href="#mp" x="362.18" y="1122.79"/><use href="#mp" x="363.86" y="1126.93"/><use href="#mp" x="365.55" y="1130.93"/><use href="#mp" x="367.23" y="1134.77"/><use href="#mp" x="368.91" y="1138.44"/><use href="#mp" x="370.6" y="1141.91"/><use href="#mp" x="372.28" y="1145.08"/><use href="#mp" x="373.96" y="1147.86"/><use href="#mp" x="375.65" y="1150.13"/><use href="#mp" x="377.33" y="1151.8"/><use href="#mp" x="379.01" y="1152.76"/><use href="#mp" x="380.7" y="1152.93"/><use href="#mp" x="382.38" y="1152.34"/><use href="#mp" x="384.06" y="1151.05"/><use href="#mp" x="385.75" y="1149.12"/><use href="#mp" x="387.43" y="1146.62"/><use href="#mp" x="389.11" y="1143.63"/><use href="#mp" x="390.8" y="1140.21"/><use href="#mp" x="392.48" y="1136.45"/><use href="#mp" x="394.17" y="1132.42"/><use href="#mp" x="395.85" y="1128.19"/><use href="#mp" x="397.53" y="1123.83"/><use href="#mp" x="399.22" y="1119.42"/><use href="#mp" x="400.9" y="1115.01"/><use href="#mp" x="402.58" y="1110.61"/><use href="#mp" x="404.27" y="1106.21"/><use href="#mp" x="405.95" y="1101.79"/><use href="#mp" x="407.63" y="1097.36"/><use href="#mp" x="409.32" y="1092.9"/><use href="#mp" x="411" y="1088.41"/><use href="#mp" x="412.68" y="1083.87"/><use href="#mp" x="414.37" y="1079.29"/><use href="#mp" x="416.05" y="1074.65"/><use href="#mp" x="417.73" y="1069.94"/><use href="#mp" x="419.42" y="1065.17"/><use href="#mp" x="421.1" y="1060.31"/><use href="#mp" x="422.78" y="1055.37"/><use href="#mp" x="424.47" y="1050.37"/><use href="#mp" x="426.15" y="1045.34"/><use href="#mp" x="427.83" y="1040.3"/><use href="#mp" x="429.52" y="1035.29"/><use href="#mp" x="431.2" y="1030.33"/><use href="#mp" x="432.88" y="1025.46"/><use href="#mp" x="434.57" y="1020.69"/><use href="#mp" x="436.25" y="1016.06"/><use href="#mp" x="437.93" y="1011.6"/><use href="#mp" x="439.62" y="1007.33"/><use href="#mp" x="441.3" y="1003.29"/><use href="#mp" x="442.98" y="999.45"/><use href="#mp" x="444.67" y="995.8"/><use href="#mp" x="446.35" y="992.31"/><use href="#mp" x="448.03" y="988.97"/><use href="#mp" x="449.72" y="985.74"/><use href="#mp" x="451.4" y="982.61"/><use href="#mp" x="453.09" y="979.57"/><use href="#mp" x="454.77" y="976.63"/><use href="#mp" x="456.45" y="973.77"/><use href="#mp" x="458.14" y="971.01"/><use href="#mp" x="459.82" y="968.32"/><use href="#mp" x="461.5" y="965.73"/><use href="#mp" x="463.19" y="963.21"/><use href="#mp" x="464.87" y="960.78"/><use href="#mp" x="466.55" y="958.42"/><use href="#mp" x="468.24" y="956.14"/><use href="#mp" x="469.92" y="953.94"/><use href="#mp" x="471.6" y="951.81"/><use href="#mp" x="473.29" y="949.75"/><use href="#mp" x="474.97" y="947.77"/><use href="#mp" x="476.65" y="945.85"/><use href="#mp" x="478.34" y="943.99"/><use href="#mp" x="480.02" y="942.2"/><use href="#mp" x="481.7" y="940.47"/><use href="#mp" x="483.39" y="938.81"/><use href="#mp" x="485.07" y="937.2"/><use href="#mp" x="486.75" y="935.65"/><use href="#mp" x="488.44" y="934.15"/><use href="#mp" x="490.12" y="932.71"/><use href="#mp" x="491.8" y="931.32"/><use href="#mp" x="493.49" y="929.97"/><use href="#mp" x="495.17" y="928.68"/><use href="#mp" x="496.85" y="927.43"/><use href="#mp" x="498.54" y="926.23"/><use href="#mp" x="500.22" y="925.07"/><use href="#mp" x="501.9" y="923.95"/><use href="#mp" x="503.59" y="922.86"/><use href="#mp" x="505.27" y="921.82"/><use href="#mp" x="506.95" y="920.81"/><use href="#mp" x="508.64" y="919.83"/><use href="#mp" x="510.32" y="918.88"/><use href="#mp" x="512.01" y="917.97"/><use href="#mp" x="513.69" y="917.08"/><use href="#mp" x="515.37" y="916.21"/><use href="#mp" x="517.06" y="915.37"/><use href="#mp" x="518.74" y="914.56"/><use href="#mp" x="520.42" y="913.76"/><use href="#mp" x="522.11" y="912.98"/><use href="#mp" x="523.79" y="912.22"/><use href="#mp" x="525.47" y="911.48"/><use href="#mp" x="527.16" y="910.76"/><use href="#mp" x="528.84" y="910.06"/><use href="#mp" x="530.52" y="909.37"/><use href="#mp" x="532.21" y="908.7"/><use href="#mp" x="533.89" y="908.05"/><use href="#mp" x="535.57" y="907.42"/><use href="#mp" x="537.26" y="906.81"/><use href="#mp" x="538.94" y="906.21"/><use href="#mp" x="540.62" y="905.62"/><use href="#mp" x="542.31" y="905.06"/><use href="#mp" x="543.99" y="904.51"/><use href="#mp" x="545.67" y="903.98"/><use href="#mp" x="547.36" y="903.46"/><use href="#mp" x="549.04" y="902.96"/><use href="#mp" x="550.72" y="902.48"/><use href="#mp" x="552.41" y="902.01"/><use href="#mp" x="554.09" y="901.56"/><use href="#mp" x="555.77" y="901.12"/><use href="#mp" x="557.46" y="900.69"/><use href="#mp" x="559.14" y="900.28"/><use href="#mp" x="560.82" y="899.89"/><use href="#mp" x="562.51" y="899.51"/><use href="#mp" x="564.19" y="899.14"/><use href="#mp" x="565.87" y="898.79"/><use href="#mp" x="567.56" y="898.45"/><use href="#mp" x="569.24" y="898.13"/><use href="#mp" x="570.93" y="897.82"/><use href="#mp" x="572.61" y="897.52"/><use href="#mp" x="574.29" y="897.24"/><use href="#mp" x="575.98" y="896.97"/><use href="#mp" x="577.66" y="896.71"/><use href="#mp" x="579.34" y="896.46"/><use href="#mp" x="581.03" y="896.23"/><use href="#mp" x="582.71" y="896"/><use href="#mp" x="584.39" y="895.79"/><use href="#mp" x="586.08" y="895.59"/><use href="#mp" x="587.76" y="895.41"/><use href="#mp" x="589.44" y="895.23"/><use href="#mp" x="591.13" y="895.07"/><use href="#mp" x="592.81" y="894.91"/><use href="#mp" x="594.49" y="894.77"/><use href="#mp" x="596.18" y="894.64"/><use href="#mp" x="597.86" y="894.52"/><use href="#mp" x="599.54" y="894.4"/><use href="#mp" x="601.23" y="894.3"/><use href="#mp" x="602.91" y="894.21"/><use href="#mp" x="604.59" y="894.13"/><use href="#mp" x="606.28" y="894.06"/><use href="#mp" x="607.96" y="893.99"/><use href="#mp" x="609.64" y="893.94"/><use href="#mp" x="611.33" y="893.89"/><use href="#mp" x="613.01" y="893.86"/><use href="#mp" x="614.69" y="893.83"/><use href="#mp" x="616.38" y="893.81"/><use href="#mp" x="618.06" y="893.79"/><use href="#mp" x="619.74" y="893.79"/><use href="#mp" x="621.43" y="893.79"/><use href="#mp" x="623.11" y="893.8"/><use href="#mp" x="624.79" y="893.82"/><use href="#mp" x="626.48" y="893.85"/><use href="#mp" x="628.16" y="893.88"/><use href="#mp" x="629.85" y="893.92"/><use href="#mp" x="631.53" y="893.97"/><use href="#mp" x="633.21" y="894.02"/><use href="#mp" x="634.9" y="894.08"/><use href="#mp" x="636.58" y="894.14"/><use href="#mp" x="638.26" y="894.21"/><use href="#mp" x="639.95" y="894.29"/><use href="#mp" x="641.63" y="894.37"/><use href="#mp" x="643.31" y="894.45"/><use href="#mp" x="645" y="894.55"/><use href="#mp" x="646.68" y="894.64"/><use href="#mp" x="648.36" y="894.74"/><use href="#mp" x="650.05" y="894.85"/><use href="#mp" x="651.73" y="894.96"/><use href="#mp" x="653.41" y="895.07"/><use href="#mp" x="655.1" y="895.19"/><use href="#mp" x="656.78" y="895.31"/><use href="#mp" x="658.46" y="895.44"/><use href="#mp" x="660.15" y="895.57"/><use href="#mp" x="661.83" y="895.7"/><use href="#mp" x="663.51" y="895.83"/><use href="#mp" x="665.2" y="895.97"/><use href="#mp" x="666.88" y="896.11"/><use href="#mp" x="668.56" y="896.25"/><use href="#mp" x="670.25" y="896.4"/><use href="#mp" x="671.93" y="896.54"/><use href="#mp" x="673.61" y="896.69"/><use href="#mp" x="675.3" y="896.84"/><use href="#mp" x="676.98" y="896.99"/><use href="#mp" x="678.66" y="897.14"/><use href="#mp" x="680.35" y="897.3"/><use href="#mp" x="682.03" y="897.45"/><use href="#mp" x="683.71" y="897.61"/><use href="#mp" x="685.4" y="897.76"/><use href="#mp" x="687.08" y="897.92"/><use href="#mp" x="688.77" y="898.07"/><use href="#mp" x="690.45" y="898.23"/><use href="#mp" x="692.13" y="898.39"/><use href="#mp" x="693.82" y="898.54"/><use href="#mp" x="695.5" y="898.7"/><use href="#mp" x="697.18" y="898.85"/><use href="#mp" x="698.87" y="899"/><use href="#mp" x="700.55" y="899.15"/><use href="#mp" x="702.23" y="899.3"/><use href="#mp" x="703.92" y="899.45"/><use href="#mp" x="705.6" y="899.6"/><use href="#mp" x="707.28" y="899.74"/><use href="#mp" x="708.97" y="899.88"/><use href="#mp" x="710.65" y="900.02"/><use href="#mp" x="712.33" y="900.16"/><use href="#mp" x="714.02" y="900.3"/><use href="#mp" x="715.7" y="900.43"/>
<polyline points="126.5,983.74 127.55,983.31 128.6,982.88 129.66,982.46 130.71,982.03 131.76,981.62 132.81,981.2 133.87,980.79 134.92,980.38 135.97,979.98 137.02,979.58 138.07,979.18 139.13,978.79 140.18,978.4 141.23,978.01 142.28,977.62 143.33,977.24 144.39,976.86 145.44,976.49 146.49,976.11 147.54,975.74 148.6,975.38 149.65,975.01 150.7,974.65 151.75,974.29 152.8,973.94 153.86,973.58 154.91,973.23 155.96,972.88 157.01,972.53 158.06,972.19 159.12,971.85 160.17,971.51 161.22,971.17 162.27,970.83 163.33,970.5 164.38,970.17 165.43,969.84 166.48,969.51 167.53,969.18 168.59,968.86 169.64,968.53 170.69,968.21 171.74,967.89 172.79,967.58 173.85,967.26 174.9,966.94 175.95,966.63 177,966.32 178.06,966.01 179.11,965.7 180.16,965.39 181.21,965.08 182.26,964.77 183.32,964.47 184.37,964.16 185.42,963.86 186.47,963.56 187.52,963.25 188.58,962.95 189.63,962.65 190.68,962.35 191.73,962.05 192.79,961.75 193.84,961.45 194.89,961.15 195.94,960.86 196.99,960.56 198.05,960.26 199.1,959.96 200.15,959.67 201.2,959.37 202.25,959.07 203.31,958.78 204.36,958.48 205.41,958.18 206.46,957.89 207.52,957.59 208.57,957.29 209.62,956.99 210.67,956.69 211.72,956.39 212.78,956.09 213.83,955.79 214.88,955.49 215.93,955.19 216.98,954.89 218.04,954.59 219.09,954.28 220.14,953.98 221.19,953.67 222.25,953.37 223.3,953.06 224.35,952.75 225.4,952.44 226.45,952.13 227.51,951.82 228.56,951.5 229.61,951.19 230.66,950.87 231.71,950.55 232.77,950.23 233.82,949.91 234.87,949.59 235.92,949.26 236.98,948.94 238.03,948.61 239.08,948.28 240.13,947.95 241.18,947.61 242.24,947.28 243.29,946.94 244.34,946.6 245.39,946.26 246.44,945.91 247.5,945.57 248.55,945.22 249.6,944.87 250.65,944.51 251.71,944.15 252.76,943.8 253.81,943.43 254.86,943.07 255.91,942.7 256.97,942.33 258.02,941.96 259.07,941.58 260.12,941.21 261.17,940.82 262.23,940.44 263.28,940.05 264.33,939.66 265.38,939.27 266.44,938.87 267.49,938.47 268.54,938.07 269.59,937.66 270.64,937.25 271.7,936.83 272.75,936.41 273.8,935.99 274.85,935.57 275.9,935.14 276.96,934.71 278.01,934.27 279.06,933.83 280.11,933.38 281.17,932.93 282.22,932.48 283.27,932.02 284.32,931.56 285.37,931.1 286.43,930.63 287.48,930.15 288.53,929.68 289.58,929.19 290.63,928.71 291.69,928.21 292.74,927.72 293.79,927.22 294.84,926.71 295.9,926.2 296.95,925.69 298,925.16 299.05,924.64 300.1,924.11 301.16,923.57 302.21,923.03 303.26,922.49 304.31,921.94 305.36,921.38 306.42,920.82 307.47,920.26 308.52,919.69 309.57,919.12 310.63,918.54 311.68,917.96 312.73,917.38 313.78,916.8 314.83,916.21 315.89,915.62 316.94,915.04 317.99,914.45 319.04,913.86 320.09,913.26 321.15,912.67 322.2,912.08 323.25,911.49 324.3,910.9 325.36,910.31 326.41,909.72 327.46,909.14 328.51,908.55 329.56,907.97 330.62,907.39 331.67,906.81 332.72,906.24 333.77,905.67 334.82,905.1 335.88,904.54 336.93,903.98 337.98,903.43 339.03,902.88 340.09,902.34 341.14,901.8 342.19,901.27 343.24,900.75 344.29,900.23 345.35,899.72 346.4,899.22 347.45,898.72 348.5,898.23 349.55,897.75 350.61,897.28 351.66,896.82 352.71,896.37 353.76,895.92 354.82,895.49 355.87,895.06 356.92,894.65 357.97,894.25 359.02,893.86 360.08,893.47 361.13,893.1 362.18,892.74 363.23,892.39 364.28,892.05 365.34,891.72 366.39,891.4 367.44,891.09 368.49,890.79 369.55,890.5 370.6,890.22 371.65,889.94 372.7,889.68 373.75,889.42 374.81,889.17 375.86,888.93 376.91,888.7 377.96,888.47 379.01,888.25 380.07,888.04 381.12,887.84 382.17,887.64 383.22,887.45 384.28,887.27 385.33,887.09 386.38,886.92 387.43,886.76 388.48,886.6 389.54,886.45 390.59,886.3 391.64,886.16 392.69,886.02 393.74,885.89 394.8,885.76 395.85,885.64 396.9,885.52 397.95,885.41 399.01,885.3 400.06,885.19 401.11,885.09 402.16,884.99 403.21,884.89 404.27,884.8 405.32,884.71 406.37,884.62 407.42,884.54 408.47,884.46 409.53,884.38 410.58,884.3 411.63,884.22 412.68,884.15 413.74,884.07 414.79,884 415.84,883.93 416.89,883.86 417.94,883.79 419,883.72 420.05,883.66 421.1,883.59 422.15,883.52 423.2,883.45 424.26,883.38 425.31,883.31 426.36,883.24 427.41,883.17 428.47,883.1 429.52,883.03 430.57,882.96 431.62,882.88 432.67,882.81 433.73,882.73 434.78,882.66 435.83,882.58 436.88,882.5 437.93,882.42 438.99,882.35 440.04,882.27 441.09,882.19 442.14,882.11 443.2,882.03 444.25,881.94 445.3,881.86 446.35,881.78 447.4,881.7 448.46,881.61 449.51,881.53 450.56,881.45 451.61,881.36 452.66,881.28 453.72,881.19 454.77,881.11 455.82,881.02 456.87,880.94 457.93,880.85 458.98,880.76 460.03,880.68 461.08,880.59 462.13,880.5 463.19,880.42 464.24,880.33 465.29,880.24 466.34,880.16 467.39,880.07 468.45,879.98 469.5,879.89 470.55,879.81 471.6,879.72 472.66,879.63 473.71,879.55 474.76,879.46 475.81,879.37 476.86,879.29 477.92,879.2 478.97,879.11 480.02,879.03 481.07,878.94 482.12,878.86 483.18,878.77 484.23,878.69 485.28,878.6 486.33,878.52 487.39,878.44 488.44,878.35 489.49,878.27 490.54,878.19 491.59,878.1 492.65,878.02 493.7,877.94 494.75,877.86 495.8,877.78 496.85,877.7 497.91,877.62 498.96,877.55 500.01,877.47 501.06,877.39 502.12,877.32 503.17,877.24 504.22,877.17 505.27,877.09 506.32,877.02 507.38,876.95 508.43,876.87 509.48,876.8 510.53,876.73 511.58,876.66 512.64,876.6 513.69,876.53 514.74,876.46 515.79,876.4 516.85,876.33 517.9,876.27 518.95,876.21 520,876.14 521.05,876.08 522.11,876.02 523.16,875.97 524.21,875.91 525.26,875.85 526.31,875.8 527.37,875.75 528.42,875.69 529.47,875.64 530.52,875.59 531.58,875.54 532.63,875.5 533.68,875.45 534.73,875.41 535.78,875.36 536.84,875.32 537.89,875.28 538.94,875.24 539.99,875.2 541.04,875.17 542.1,875.13 543.15,875.1 544.2,875.07 545.25,875.04 546.31,875.01 547.36,874.98 548.41,874.96 549.46,874.93 550.51,874.91 551.57,874.89 552.62,874.87 553.67,874.86 554.72,874.84 555.77,874.83 556.83,874.82 557.88,874.81 558.93,874.8 559.98,874.79 561.04,874.79 562.09,874.79 563.14,874.79 564.19,874.79 565.24,874.79 566.3,874.8 567.35,874.81 568.4,874.81 569.45,874.83 570.5,874.84 571.56,874.86 572.61,874.87 573.66,874.89 574.71,874.92 575.77,874.94 576.82,874.97 577.87,875 578.92,875.03 579.97,875.06 581.03,875.1 582.08,875.13 583.13,875.18 584.18,875.22 585.23,875.26 586.29,875.31 587.34,875.36 588.39,875.41 589.44,875.47 590.5,875.52 591.55,875.58 592.6,875.65 593.65,875.71 594.7,875.78 595.76,875.85 596.81,875.92 597.86,876 598.91,876.07 599.96,876.15 601.02,876.24 602.07,876.32 603.12,876.41 604.17,876.5 605.23,876.59 606.28,876.69 607.33,876.79 608.38,876.89 609.43,876.99 610.49,877.09 611.54,877.2 612.59,877.31 613.64,877.42 614.69,877.54 615.75,877.65 616.8,877.77 617.85,877.89 618.9,878.02 619.96,878.14 621.01,878.27 622.06,878.4 623.11,878.53 624.16,878.67 625.22,878.8 626.27,878.94 627.32,879.08 628.37,879.23 629.42,879.37 630.48,879.52 631.53,879.67 632.58,879.82 633.63,879.97 634.69,880.13 635.74,880.28 636.79,880.44 637.84,880.6 638.89,880.76 639.95,880.93 641,881.1 642.05,881.26 643.1,881.43 644.15,881.61 645.21,881.78 646.26,881.95 647.31,882.13 648.36,882.31 649.42,882.49 650.47,882.67 651.52,882.86 652.57,883.04 653.62,883.23 654.68,883.42 655.73,883.61 656.78,883.8 657.83,884 658.88,884.19 659.94,884.39 660.99,884.59 662.04,884.79 663.09,884.99 664.15,885.19 665.2,885.4 666.25,885.6 667.3,885.81 668.35,886.02 669.41,886.23 670.46,886.44 671.51,886.66 672.56,886.87 673.61,887.09 674.67,887.3 675.72,887.52 676.77,887.74 677.82,887.96 678.88,888.18 679.93,888.41 680.98,888.63 682.03,888.86 683.08,889.08 684.14,889.31 685.19,889.54 686.24,889.77 687.29,890 688.34,890.23 689.4,890.47 690.45,890.7 691.5,890.94 692.55,891.17 693.61,891.41 694.66,891.65 695.71,891.89 696.76,892.13 697.81,892.37 698.87,892.61 699.92,892.86 700.97,893.1 702.02,893.34 703.07,893.59 704.13,893.84 705.18,894.08 706.23,894.33 707.28,894.58 708.34,894.83 709.39,895.08 710.44,895.33 711.49,895.58 712.54,895.83 713.6,896.09 714.65,896.34 715.7,896.59" fill="none" stroke="#4B64A8" stroke-width="2.4" stroke-linejoin="round" />
<use href="#mb" x="126.5" y="983.74"/><use href="#mb" x="128.18" y="983.05"/><use href="#mb" x="129.87" y="982.37"/><use href="#mb" x="131.55" y="981.7"/><use href="#mb" x="133.23" y="981.04"/><use href="#mb" x="134.92" y="980.38"/><use href="#mb" x="136.6" y="979.74"/><use href="#mb" x="138.28" y="979.1"/><use href="#mb" x="139.97" y="978.47"/><use href="#mb" x="141.65" y="977.85"/><use href="#mb" x="143.33" y="977.24"/><use href="#mb" x="145.02" y="976.64"/><use href="#mb" x="146.7" y="976.04"/><use href="#mb" x="148.38" y="975.45"/><use href="#mb" x="150.07" y="974.87"/><use href="#mb" x="151.75" y="974.29"/><use href="#mb" x="153.43" y="973.72"/><use href="#mb" x="155.12" y="973.16"/><use href="#mb" x="156.8" y="972.6"/><use href="#mb" x="158.49" y="972.05"/><use href="#mb" x="160.17" y="971.51"/><use href="#mb" x="161.85" y="970.97"/><use href="#mb" x="163.54" y="970.43"/><use href="#mb" x="165.22" y="969.9"/><use href="#mb" x="166.9" y="969.38"/><use href="#mb" x="168.59" y="968.86"/><use href="#mb" x="170.27" y="968.34"/><use href="#mb" x="171.95" y="967.83"/><use href="#mb" x="173.64" y="967.32"/><use href="#mb" x="175.32" y="966.82"/><use href="#mb" x="177" y="966.32"/><use href="#mb" x="178.69" y="965.82"/><use href="#mb" x="180.37" y="965.33"/><use href="#mb" x="182.05" y="964.83"/><use href="#mb" x="183.74" y="964.35"/><use href="#mb" x="185.42" y="963.86"/><use href="#mb" x="187.1" y="963.37"/><use href="#mb" x="188.79" y="962.89"/><use href="#mb" x="190.47" y="962.41"/><use href="#mb" x="192.15" y="961.93"/><use href="#mb" x="193.84" y="961.45"/><use href="#mb" x="195.52" y="960.98"/><use href="#mb" x="197.2" y="960.5"/><use href="#mb" x="198.89" y="960.02"/><use href="#mb" x="200.57" y="959.55"/><use href="#mb" x="202.25" y="959.07"/><use href="#mb" x="203.94" y="958.6"/><use href="#mb" x="205.62" y="958.12"/><use href="#mb" x="207.3" y="957.65"/><use href="#mb" x="208.99" y="957.17"/><use href="#mb" x="210.67" y="956.69"/><use href="#mb" x="212.35" y="956.21"/><use href="#mb" x="214.04" y="955.73"/><use href="#mb" x="215.72" y="955.25"/><use href="#mb" x="217.41" y="954.77"/><use href="#mb" x="219.09" y="954.28"/><use href="#mb" x="220.77" y="953.79"/><use href="#mb" x="222.46" y="953.3"/><use href="#mb" x="224.14" y="952.81"/><use href="#mb" x="225.82" y="952.31"/><use href="#mb" x="227.51" y="951.82"/><use href="#mb" x="229.19" y="951.31"/><use href="#mb" x="230.87" y="950.81"/><use href="#mb" x="232.56" y="950.3"/><use href="#mb" x="234.24" y="949.78"/><use href="#mb" x="235.92" y="949.26"/><use href="#mb" x="237.61" y="948.74"/><use href="#mb" x="239.29" y="948.21"/><use href="#mb" x="240.97" y="947.68"/><use href="#mb" x="242.66" y="947.14"/><use href="#mb" x="244.34" y="946.6"/><use href="#mb" x="246.02" y="946.05"/><use href="#mb" x="247.71" y="945.5"/><use href="#mb" x="249.39" y="944.94"/><use href="#mb" x="251.07" y="944.37"/><use href="#mb" x="252.76" y="943.8"/><use href="#mb" x="254.44" y="943.22"/><use href="#mb" x="256.12" y="942.63"/><use href="#mb" x="257.81" y="942.03"/><use href="#mb" x="259.49" y="941.43"/><use href="#mb" x="261.17" y="940.82"/><use href="#mb" x="262.86" y="940.21"/><use href="#mb" x="264.54" y="939.58"/><use href="#mb" x="266.22" y="938.95"/><use href="#mb" x="267.91" y="938.31"/><use href="#mb" x="269.59" y="937.66"/><use href="#mb" x="271.27" y="937"/><use href="#mb" x="272.96" y="936.33"/><use href="#mb" x="274.64" y="935.65"/><use href="#mb" x="276.33" y="934.97"/><use href="#mb" x="278.01" y="934.27"/><use href="#mb" x="279.69" y="933.56"/><use href="#mb" x="281.38" y="932.84"/><use href="#mb" x="283.06" y="932.12"/><use href="#mb" x="284.74" y="931.38"/><use href="#mb" x="286.43" y="930.63"/><use href="#mb" x="288.11" y="929.87"/><use href="#mb" x="289.79" y="929.1"/><use href="#mb" x="291.48" y="928.31"/><use href="#mb" x="293.16" y="927.52"/><use href="#mb" x="294.84" y="926.71"/><use href="#mb" x="296.53" y="925.89"/><use href="#mb" x="298.21" y="925.06"/><use href="#mb" x="299.89" y="924.22"/><use href="#mb" x="301.58" y="923.36"/><use href="#mb" x="303.26" y="922.49"/><use href="#mb" x="304.94" y="921.6"/><use href="#mb" x="306.63" y="920.71"/><use href="#mb" x="308.31" y="919.8"/><use href="#mb" x="309.99" y="918.89"/><use href="#mb" x="311.68" y="917.96"/><use href="#mb" x="313.36" y="917.03"/><use href="#mb" x="315.04" y="916.09"/><use href="#mb" x="316.73" y="915.15"/><use href="#mb" x="318.41" y="914.21"/><use href="#mb" x="320.09" y="913.26"/><use href="#mb" x="321.78" y="912.32"/><use href="#mb" x="323.46" y="911.37"/><use href="#mb" x="325.14" y="910.43"/><use href="#mb" x="326.83" y="909.49"/><use href="#mb" x="328.51" y="908.55"/><use href="#mb" x="330.19" y="907.62"/><use href="#mb" x="331.88" y="906.7"/><use href="#mb" x="333.56" y="905.78"/><use href="#mb" x="335.25" y="904.88"/><use href="#mb" x="336.93" y="903.98"/><use href="#mb" x="338.61" y="903.1"/><use href="#mb" x="340.3" y="902.23"/><use href="#mb" x="341.98" y="901.38"/><use href="#mb" x="343.66" y="900.54"/><use href="#mb" x="345.35" y="899.72"/><use href="#mb" x="347.03" y="898.92"/><use href="#mb" x="348.71" y="898.14"/><use href="#mb" x="350.4" y="897.38"/><use href="#mb" x="352.08" y="896.64"/><use href="#mb" x="353.76" y="895.92"/><use href="#mb" x="355.45" y="895.23"/><use href="#mb" x="357.13" y="894.57"/><use href="#mb" x="358.81" y="893.93"/><use href="#mb" x="360.5" y="893.32"/><use href="#mb" x="362.18" y="892.74"/><use href="#mb" x="363.86" y="892.19"/><use href="#mb" x="365.55" y="891.66"/><use href="#mb" x="367.23" y="891.15"/><use href="#mb" x="368.91" y="890.67"/><use href="#mb" x="370.6" y="890.22"/><use href="#mb" x="372.28" y="889.78"/><use href="#mb" x="373.96" y="889.37"/><use href="#mb" x="375.65" y="888.98"/><use href="#mb" x="377.33" y="888.6"/><use href="#mb" x="379.01" y="888.25"/><use href="#mb" x="380.7" y="887.92"/><use href="#mb" x="382.38" y="887.6"/><use href="#mb" x="384.06" y="887.31"/><use href="#mb" x="385.75" y="887.02"/><use href="#mb" x="387.43" y="886.76"/><use href="#mb" x="389.11" y="886.51"/><use href="#mb" x="390.8" y="886.27"/><use href="#mb" x="392.48" y="886.05"/><use href="#mb" x="394.17" y="885.84"/><use href="#mb" x="395.85" y="885.64"/><use href="#mb" x="397.53" y="885.45"/><use href="#mb" x="399.22" y="885.27"/><use href="#mb" x="400.9" y="885.11"/><use href="#mb" x="402.58" y="884.95"/><use href="#mb" x="404.27" y="884.8"/><use href="#mb" x="405.95" y="884.66"/><use href="#mb" x="407.63" y="884.52"/><use href="#mb" x="409.32" y="884.39"/><use href="#mb" x="411" y="884.27"/><use href="#mb" x="412.68" y="884.15"/><use href="#mb" x="414.37" y="884.03"/><use href="#mb" x="416.05" y="883.92"/><use href="#mb" x="417.73" y="883.81"/><use href="#mb" x="419.42" y="883.7"/><use href="#mb" x="421.1" y="883.59"/><use href="#mb" x="422.78" y="883.48"/><use href="#mb" x="424.47" y="883.37"/><use href="#mb" x="426.15" y="883.26"/><use href="#mb" x="427.83" y="883.15"/><use href="#mb" x="429.52" y="883.03"/><use href="#mb" x="431.2" y="882.91"/><use href="#mb" x="432.88" y="882.79"/><use href="#mb" x="434.57" y="882.67"/><use href="#mb" x="436.25" y="882.55"/><use href="#mb" x="437.93" y="882.42"/><use href="#mb" x="439.62" y="882.3"/><use href="#mb" x="441.3" y="882.17"/><use href="#mb" x="442.98" y="882.04"/><use href="#mb" x="444.67" y="881.91"/><use href="#mb" x="446.35" y="881.78"/><use href="#mb" x="448.03" y="881.65"/><use href="#mb" x="449.72" y="881.51"/><use href="#mb" x="451.4" y="881.38"/><use href="#mb" x="453.09" y="881.24"/><use href="#mb" x="454.77" y="881.11"/><use href="#mb" x="456.45" y="880.97"/><use href="#mb" x="458.14" y="880.83"/><use href="#mb" x="459.82" y="880.69"/><use href="#mb" x="461.5" y="880.56"/><use href="#mb" x="463.19" y="880.42"/><use href="#mb" x="464.87" y="880.28"/><use href="#mb" x="466.55" y="880.14"/><use href="#mb" x="468.24" y="880"/><use href="#mb" x="469.92" y="879.86"/><use href="#mb" x="471.6" y="879.72"/><use href="#mb" x="473.29" y="879.58"/><use href="#mb" x="474.97" y="879.44"/><use href="#mb" x="476.65" y="879.3"/><use href="#mb" x="478.34" y="879.17"/><use href="#mb" x="480.02" y="879.03"/><use href="#mb" x="481.7" y="878.89"/><use href="#mb" x="483.39" y="878.76"/><use href="#mb" x="485.07" y="878.62"/><use href="#mb" x="486.75" y="878.49"/><use href="#mb" x="488.44" y="878.35"/><use href="#mb" x="490.12" y="878.22"/><use href="#mb" x="491.8" y="878.09"/><use href="#mb" x="493.49" y="877.96"/><use href="#mb" x="495.17" y="877.83"/><use href="#mb" x="496.85" y="877.7"/><use href="#mb" x="498.54" y="877.58"/><use href="#mb" x="500.22" y="877.45"/><use href="#mb" x="501.9" y="877.33"/><use href="#mb" x="503.59" y="877.21"/><use href="#mb" x="505.27" y="877.09"/><use href="#mb" x="506.95" y="876.97"/><use href="#mb" x="508.64" y="876.86"/><use href="#mb" x="510.32" y="876.75"/><use href="#mb" x="512.01" y="876.64"/><use href="#mb" x="513.69" y="876.53"/><use href="#mb" x="515.37" y="876.42"/><use href="#mb" x="517.06" y="876.32"/><use href="#mb" x="518.74" y="876.22"/><use href="#mb" x="520.42" y="876.12"/><use href="#mb" x="522.11" y="876.02"/><use href="#mb" x="523.79" y="875.93"/><use href="#mb" x="525.47" y="875.84"/><use href="#mb" x="527.16" y="875.76"/><use href="#mb" x="528.84" y="875.67"/><use href="#mb" x="530.52" y="875.59"/><use href="#mb" x="532.21" y="875.51"/><use href="#mb" x="533.89" y="875.44"/><use href="#mb" x="535.57" y="875.37"/><use href="#mb" x="537.26" y="875.3"/><use href="#mb" x="538.94" y="875.24"/><use href="#mb" x="540.62" y="875.18"/><use href="#mb" x="542.31" y="875.13"/><use href="#mb" x="543.99" y="875.07"/><use href="#mb" x="545.67" y="875.03"/><use href="#mb" x="547.36" y="874.98"/><use href="#mb" x="549.04" y="874.94"/><use href="#mb" x="550.72" y="874.91"/><use href="#mb" x="552.41" y="874.88"/><use href="#mb" x="554.09" y="874.85"/><use href="#mb" x="555.77" y="874.83"/><use href="#mb" x="557.46" y="874.81"/><use href="#mb" x="559.14" y="874.8"/><use href="#mb" x="560.82" y="874.79"/><use href="#mb" x="562.51" y="874.79"/><use href="#mb" x="564.19" y="874.79"/><use href="#mb" x="565.87" y="874.8"/><use href="#mb" x="567.56" y="874.81"/><use href="#mb" x="569.24" y="874.82"/><use href="#mb" x="570.93" y="874.85"/><use href="#mb" x="572.61" y="874.87"/><use href="#mb" x="574.29" y="874.91"/><use href="#mb" x="575.98" y="874.95"/><use href="#mb" x="577.66" y="874.99"/><use href="#mb" x="579.34" y="875.04"/><use href="#mb" x="581.03" y="875.1"/><use href="#mb" x="582.71" y="875.16"/><use href="#mb" x="584.39" y="875.23"/><use href="#mb" x="586.08" y="875.3"/><use href="#mb" x="587.76" y="875.38"/><use href="#mb" x="589.44" y="875.47"/><use href="#mb" x="591.13" y="875.56"/><use href="#mb" x="592.81" y="875.66"/><use href="#mb" x="594.49" y="875.76"/><use href="#mb" x="596.18" y="875.88"/><use href="#mb" x="597.86" y="876"/><use href="#mb" x="599.54" y="876.12"/><use href="#mb" x="601.23" y="876.25"/><use href="#mb" x="602.91" y="876.39"/><use href="#mb" x="604.59" y="876.54"/><use href="#mb" x="606.28" y="876.69"/><use href="#mb" x="607.96" y="876.85"/><use href="#mb" x="609.64" y="877.01"/><use href="#mb" x="611.33" y="877.18"/><use href="#mb" x="613.01" y="877.36"/><use href="#mb" x="614.69" y="877.54"/><use href="#mb" x="616.38" y="877.72"/><use href="#mb" x="618.06" y="877.92"/><use href="#mb" x="619.74" y="878.12"/><use href="#mb" x="621.43" y="878.32"/><use href="#mb" x="623.11" y="878.53"/><use href="#mb" x="624.79" y="878.75"/><use href="#mb" x="626.48" y="878.97"/><use href="#mb" x="628.16" y="879.2"/><use href="#mb" x="629.85" y="879.43"/><use href="#mb" x="631.53" y="879.67"/><use href="#mb" x="633.21" y="879.91"/><use href="#mb" x="634.9" y="880.16"/><use href="#mb" x="636.58" y="880.41"/><use href="#mb" x="638.26" y="880.67"/><use href="#mb" x="639.95" y="880.93"/><use href="#mb" x="641.63" y="881.2"/><use href="#mb" x="643.31" y="881.47"/><use href="#mb" x="645" y="881.74"/><use href="#mb" x="646.68" y="882.03"/><use href="#mb" x="648.36" y="882.31"/><use href="#mb" x="650.05" y="882.6"/><use href="#mb" x="651.73" y="882.9"/><use href="#mb" x="653.41" y="883.19"/><use href="#mb" x="655.1" y="883.5"/><use href="#mb" x="656.78" y="883.8"/><use href="#mb" x="658.46" y="884.12"/><use href="#mb" x="660.15" y="884.43"/><use href="#mb" x="661.83" y="884.75"/><use href="#mb" x="663.51" y="885.07"/><use href="#mb" x="665.2" y="885.4"/><use href="#mb" x="666.88" y="885.73"/><use href="#mb" x="668.56" y="886.06"/><use href="#mb" x="670.25" y="886.4"/><use href="#mb" x="671.93" y="886.74"/><use href="#mb" x="673.61" y="887.09"/><use href="#mb" x="675.3" y="887.43"/><use href="#mb" x="676.98" y="887.78"/><use href="#mb" x="678.66" y="888.14"/><use href="#mb" x="680.35" y="888.5"/><use href="#mb" x="682.03" y="888.86"/><use href="#mb" x="683.71" y="889.22"/><use href="#mb" x="685.4" y="889.59"/><use href="#mb" x="687.08" y="889.96"/><use href="#mb" x="688.77" y="890.33"/><use href="#mb" x="690.45" y="890.7"/><use href="#mb" x="692.13" y="891.08"/><use href="#mb" x="693.82" y="891.46"/><use href="#mb" x="695.5" y="891.84"/><use href="#mb" x="697.18" y="892.23"/><use href="#mb" x="698.87" y="892.61"/><use href="#mb" x="700.55" y="893"/><use href="#mb" x="702.23" y="893.39"/><use href="#mb" x="703.92" y="893.79"/><use href="#mb" x="705.6" y="894.18"/><use href="#mb" x="707.28" y="894.58"/><use href="#mb" x="708.97" y="894.98"/><use href="#mb" x="710.65" y="895.38"/><use href="#mb" x="712.33" y="895.78"/><use href="#mb" x="714.02" y="896.19"/><use href="#mb" x="715.7" y="896.59"/>
</g>
<rect x="126.5" y="843.6" width="589.2" height="316.2" fill="none" stroke="#000" stroke-width="2.6"/>
<path d="M126.5 1159.8H116.1M126.5 1128.18H120.9M126.5 1096.56H116.1M126.5 1064.94H120.9M126.5 1033.32H116.1M126.5 1001.7H120.9M126.5 970.08H116.1M126.5 938.46H120.9M126.5 906.84H116.1M126.5 875.22H120.9M126.5 843.6H116.1M126.5 1159.8V1170.4M158.06 1159.8V1165.8M189.63 1159.8V1170.4M221.19 1159.8V1165.8M252.76 1159.8V1170.4M284.32 1159.8V1165.8M315.89 1159.8V1170.4M347.45 1159.8V1165.8M379.01 1159.8V1170.4M410.58 1159.8V1165.8M442.14 1159.8V1170.4M473.71 1159.8V1165.8M505.27 1159.8V1170.4M536.84 1159.8V1165.8M568.4 1159.8V1170.4M599.96 1159.8V1165.8M631.53 1159.8V1170.4M663.09 1159.8V1165.8M694.66 1159.8V1170.4" stroke="#000" stroke-width="2.4" fill="none"/>
<text transform="translate(110.1,1169.2) scale(1,1.04)" text-anchor="end" class="t">0.0</text>
<text transform="translate(110.1,1105.96) scale(1,1.04)" text-anchor="end" class="t">0.2</text>
<text transform="translate(110.1,1042.72) scale(1,1.04)" text-anchor="end" class="t">0.4</text>
<text transform="translate(110.1,979.48) scale(1,1.04)" text-anchor="end" class="t">0.6</text>
<text transform="translate(110.1,916.24) scale(1,1.04)" text-anchor="end" class="t">0.8</text>
<text transform="translate(110.1,853) scale(1,1.04)" text-anchor="end" class="t">1.0</text>
<text transform="translate(126.5,1197.5) scale(1,1.04)" text-anchor="middle" class="t">222</text>
<text transform="translate(189.63,1197.5) scale(1,1.04)" text-anchor="middle" class="t">225</text>
<text transform="translate(252.76,1197.5) scale(1,1.04)" text-anchor="middle" class="t">228</text>
<text transform="translate(315.89,1197.5) scale(1,1.04)" text-anchor="middle" class="t">231</text>
<text transform="translate(379.01,1197.5) scale(1,1.04)" text-anchor="middle" class="t">234</text>
<text transform="translate(442.14,1197.5) scale(1,1.04)" text-anchor="middle" class="t">237</text>
<text transform="translate(505.27,1197.5) scale(1,1.04)" text-anchor="middle" class="t">240</text>
<text transform="translate(568.4,1197.5) scale(1,1.04)" text-anchor="middle" class="t">243</text>
<text transform="translate(631.53,1197.5) scale(1,1.04)" text-anchor="middle" class="t">246</text>
<text transform="translate(694.66,1197.5) scale(1,1.04)" text-anchor="middle" class="t">249</text>
<path d="M138.1 178.2H202.8" stroke="#4B64A8" stroke-width="2.5"/>
<text transform="translate(209.1,188.2) scale(1,1.04)" class="lg">Sim R<tspan class="sub" dy="9.3">-z</tspan></text>
<path d="M138.1 221.3H202.8" stroke="#D11A20" stroke-width="2.5"/>
<text transform="translate(209.1,231.3) scale(1,1.04)" class="lg">Sim R<tspan class="sub" dy="9.3">+z</tspan></text>
<path d="M138.1 264.4H202.8" stroke="#D11A20" stroke-width="2.5"/>
<use href="#mp" x="170.45" y="264.4"/>
<text transform="translate(209.1,274.4) scale(1,1.04)" class="lg">Ana R<tspan class="sub" dy="9.3">+z</tspan></text>
<path d="M138.1 308.2H202.8" stroke="#4B64A8" stroke-width="2.5"/>
<use href="#mb" x="170.45" y="308.2"/>
<text transform="translate(209.1,318.2) scale(1,1.04)" class="lg">Ana R<tspan class="sub" dy="9.3">-z</tspan></text>
<path d="M900.1 176.4H964.7" stroke="#4B64A8" stroke-width="2.5"/>
<text transform="translate(971.2,186.4) scale(1,1.04)" class="lg">Sim R<tspan class="sub" dy="9.3">-z</tspan></text>
<path d="M900.1 218.9H964.7" stroke="#D11A20" stroke-width="2.5"/>
<text transform="translate(971.2,228.9) scale(1,1.04)" class="lg">Sim R<tspan class="sub" dy="9.3">+z</tspan></text>
<path d="M900.1 262.8H964.7" stroke="#D11A20" stroke-width="2.5"/>
<use href="#mp" x="932.4" y="262.8"/>
<text transform="translate(971.2,272.8) scale(1,1.04)" class="lg">Ana R<tspan class="sub" dy="9.3">+z</tspan></text>
<path d="M900.1 306.1H964.7" stroke="#4B64A8" stroke-width="2.5"/>
<use href="#mb" x="932.4" y="306.1"/>
<text transform="translate(971.2,316.1) scale(1,1.04)" class="lg">Ana R<tspan class="sub" dy="9.3">-z</tspan></text>
<path d="M140.1 585.5H204.7" stroke="#4B64A8" stroke-width="2.5"/>
<text transform="translate(211.2,595.5) scale(1,1.04)" class="lg">Sim R<tspan class="sub" dy="9.3">-z</tspan></text>
<path d="M140.1 629.4H204.7" stroke="#D11A20" stroke-width="2.5"/>
<text transform="translate(211.2,639.4) scale(1,1.04)" class="lg">Sim R<tspan class="sub" dy="9.3">+z</tspan></text>
<path d="M140.1 672.7H204.7" stroke="#D11A20" stroke-width="2.5"/>
<use href="#mp" x="172.4" y="672.7"/>
<text transform="translate(211.2,682.7) scale(1,1.04)" class="lg">Ana R<tspan class="sub" dy="9.3">+z</tspan></text>
<path d="M140.1 716.5H204.7" stroke="#4B64A8" stroke-width="2.5"/>
<use href="#mb" x="172.4" y="716.5"/>
<text transform="translate(211.2,726.5) scale(1,1.04)" class="lg">Ana R<tspan class="sub" dy="9.3">-z</tspan></text>
<path d="M901.4 581.3H966.1" stroke="#4B64A8" stroke-width="2.5"/>
<text transform="translate(972.6,591.3) scale(1,1.04)" class="lg">Sim R<tspan class="sub" dy="9.3">-z</tspan></text>
<path d="M901.4 625.3H966.1" stroke="#D11A20" stroke-width="2.5"/>
<text transform="translate(972.6,635.3) scale(1,1.04)" class="lg">Sim R<tspan class="sub" dy="9.3">+z</tspan></text>
<path d="M901.4 668.4H966.1" stroke="#D11A20" stroke-width="2.5"/>
<use href="#mp" x="933.75" y="668.4"/>
<text transform="translate(972.6,678.4) scale(1,1.04)" class="lg">Ana R<tspan class="sub" dy="9.3">+z</tspan></text>
<path d="M901.4 712.2H966.1" stroke="#4B64A8" stroke-width="2.5"/>
<use href="#mb" x="933.75" y="712.2"/>
<text transform="translate(972.6,722.2) scale(1,1.04)" class="lg">Ana R<tspan class="sub" dy="9.3">-z</tspan></text>
<path d="M136.5 1008.6H200.7" stroke="#4B64A8" stroke-width="2.5"/>
<text transform="translate(207.6,1018.6) scale(1,1.04)" class="lg">Sim R<tspan class="sub" dy="9.3">-z</tspan></text>
<path d="M136.5 1052.2H200.7" stroke="#D11A20" stroke-width="2.5"/>
<text transform="translate(207.6,1062.2) scale(1,1.04)" class="lg">Sim R<tspan class="sub" dy="9.3">+z</tspan></text>
<path d="M136.5 1095.7H200.7" stroke="#D11A20" stroke-width="2.5"/>
<use href="#mp" x="168.6" y="1095.7"/>
<text transform="translate(207.6,1105.7) scale(1,1.04)" class="lg">Ana R<tspan class="sub" dy="9.3">+z</tspan></text>
<path d="M136.5 1139.2H200.7" stroke="#4B64A8" stroke-width="2.5"/>
<use href="#mb2" x="168.6" y="1139.2"/>
<text transform="translate(207.6,1149.2) scale(1,1.04)" class="lg">Ana R<tspan class="sub" dy="9.3">-z</tspan></text>
<text transform="translate(127.7,51.7)" class="pl">(a)</text>
<text transform="translate(883.5,52.7)" class="pl">(b)</text>
<text transform="translate(127.7,461.1)" class="pl">(c)</text>
<text transform="translate(884.5,461.1)" class="pl">(d)</text>
<text transform="translate(127.7,883.7)" class="pl">(e)</text>
<text transform="translate(884.9,882.7)" class="pl">(f)</text>
<text transform="translate(709.3,48.6) scale(1,1.04)" text-anchor="end" class="dl"><tspan font-style="italic">d</tspan><tspan class="dsub" dy="11">2</tspan><tspan dy="-11"> =180 nm</tspan></text>
<text transform="translate(1471.8,313.2) scale(1,1.04)" text-anchor="end" class="dl"><tspan font-style="italic">d</tspan><tspan class="dsub" dy="11">2</tspan><tspan dy="-11"> =190 nm</tspan></text>
<text transform="translate(712.9,723.2) scale(1,1.04)" text-anchor="end" class="dl"><tspan font-style="italic">d</tspan><tspan class="dsub" dy="11">2</tspan><tspan dy="-11"> =200 nm</tspan></text>
<text transform="translate(1471.7,721.6) scale(1,1.04)" text-anchor="end" class="dl"><tspan font-style="italic">d</tspan><tspan class="dsub" dy="11">2</tspan><tspan dy="-11"> =210 nm</tspan></text>
<text transform="translate(712.3,1143.8) scale(1,1.04)" text-anchor="end" class="dl"><tspan font-style="italic">d</tspan><tspan class="dsub" dy="11">2</tspan><tspan dy="-11"> =220 nm</tspan></text>
<text transform="translate(406.9,407.3) scale(1,1.04)" text-anchor="middle" class="ax">Frequency (THz)</text>
<text transform="translate(1165.1,407.2) scale(1,1.04)" text-anchor="middle" class="ax">Frequency (THz)</text>
<text transform="translate(407.1,822.9) scale(1,1.04)" text-anchor="middle" class="ax">Frequency (THz)</text>
<text transform="translate(1165.1,820.2) scale(1,1.04)" text-anchor="middle" class="ax">Frequency (THz)</text>
<text transform="translate(407.1,1244.6) scale(1,1.04)" text-anchor="middle" class="ax">Frequency (THz)</text>
<text transform="translate(33.9,198.95) rotate(-90) scale(1,1.04)" text-anchor="middle" class="ax">Reflection</text>
<text transform="translate(789,198.9) rotate(-90) scale(1,1.04)" text-anchor="middle" class="ax">Reflection</text>
<text transform="translate(34.1,607.3) rotate(-90) scale(1,1.04)" text-anchor="middle" class="ax">Reflection</text>
<text transform="translate(789.1,607.3) rotate(-90) scale(1,1.04)" text-anchor="middle" class="ax">Reflection</text>
<text transform="translate(36.9,1028.9) rotate(-90) scale(1,1.04)" text-anchor="middle" class="ax">Reflection</text>
<g clip-path="url(#clipf)">
<polyline points="884.7,1144.95 1032.15,1146.63 1179.6,1138.63 1327.05,1144.74 1474.5,1142" fill="none" stroke="#5470B8" stroke-width="2.4" stroke-linejoin="round"/>
<rect x="879.1" y="1139.35" width="11.2" height="11.2" fill="#5470B8"/>
<rect x="1026.55" y="1141.03" width="11.2" height="11.2" fill="#5470B8"/>
<rect x="1174" y="1133.03" width="11.2" height="11.2" fill="#5470B8"/>
<rect x="1321.45" y="1139.14" width="11.2" height="11.2" fill="#5470B8"/>
<rect x="1468.9" y="1136.4" width="11.2" height="11.2" fill="#5470B8"/>
<polyline points="884.7,1145.16 1032.15,1146.42 1179.6,1136.73 1327.05,1139.89 1474.5,1151.9" fill="none" stroke="#EE2024" stroke-width="2.4" stroke-linejoin="round"/>
<rect x="879.1" y="1139.56" width="11.2" height="11.2" fill="#EE2024"/>
<rect x="1026.55" y="1140.82" width="11.2" height="11.2" fill="#EE2024"/>
<rect x="1174" y="1131.13" width="11.2" height="11.2" fill="#EE2024"/>
<rect x="1321.45" y="1134.29" width="11.2" height="11.2" fill="#EE2024"/>
<rect x="1468.9" y="1146.3" width="11.2" height="11.2" fill="#EE2024"/>
<polyline points="884.7,987.53 1032.15,945.59 1179.6,937.38 1327.05,860.67 1474.5,900.5" fill="none" stroke="#108A3E" stroke-width="2.4" stroke-linejoin="round"/>
<circle cx="884.7" cy="987.53" r="5.7" fill="#108A3E"/>
<circle cx="1032.15" cy="945.59" r="5.7" fill="#108A3E"/>
<circle cx="1179.6" cy="937.38" r="5.7" fill="#108A3E"/>
<circle cx="1327.05" cy="860.67" r="5.7" fill="#108A3E"/>
<circle cx="1474.5" cy="900.5" r="5.7" fill="#108A3E"/>
<polyline points="884.7,987.53 1032.15,945.59 1179.6,987.53 1327.05,860.67 1474.5,956.13" fill="none" stroke="#B850A8" stroke-width="2.4" stroke-linejoin="round"/>
<circle cx="884.7" cy="987.53" r="5.7" fill="#B850A8"/>
<circle cx="1032.15" cy="945.59" r="5.7" fill="#B850A8"/>
<circle cx="1179.6" cy="987.53" r="5.7" fill="#B850A8"/>
<circle cx="1327.05" cy="860.67" r="5.7" fill="#B850A8"/>
<circle cx="1474.5" cy="956.13" r="5.7" fill="#B850A8"/>
</g>
<rect x="884.7" y="843.6" width="589.8" height="316.1" fill="none" stroke="#000" stroke-width="2.6"/>
<path d="M884.7 1159.7H874.3M884.7 1138.63H879.1M884.7 1117.55H874.3M884.7 1096.48H879.1M884.7 1075.41H874.3M884.7 1054.33H879.1M884.7 1033.26H874.3M884.7 1012.19H879.1M884.7 991.11H874.3M884.7 970.04H879.1M884.7 948.97H874.3M884.7 927.89H879.1M884.7 906.82H874.3M884.7 885.75H879.1M884.7 864.67H874.3M884.7 843.6H879.1M884.7 1159.7V1170.1M958.43 1159.7V1165.5M1032.15 1159.7V1170.1M1105.88 1159.7V1165.5M1179.6 1159.7V1170.1M1253.33 1159.7V1165.5M1327.05 1159.7V1170.1M1400.78 1159.7V1165.5M1474.5 1159.7V1170.1" stroke="#000" stroke-width="2.4" fill="none"/>
<text transform="translate(868.1,1169.1) scale(1,1.04)" text-anchor="end" class="t">2</text>
<text transform="translate(868.1,1126.95) scale(1,1.04)" text-anchor="end" class="t">4</text>
<text transform="translate(868.1,1084.81) scale(1,1.04)" text-anchor="end" class="t">6</text>
<text transform="translate(868.1,1042.66) scale(1,1.04)" text-anchor="end" class="t">8</text>
<text transform="translate(868.1,1000.51) scale(1,1.04)" text-anchor="end" class="t">10</text>
<text transform="translate(868.1,958.37) scale(1,1.04)" text-anchor="end" class="t">12</text>
<text transform="translate(868.1,916.22) scale(1,1.04)" text-anchor="end" class="t">14</text>
<text transform="translate(868.1,874.07) scale(1,1.04)" text-anchor="end" class="t">16</text>
<text transform="translate(884.7,1197.5) scale(1,1.04)" text-anchor="middle" class="t">180</text>
<text transform="translate(1032.15,1197.5) scale(1,1.04)" text-anchor="middle" class="t">190</text>
<text transform="translate(1179.6,1197.5) scale(1,1.04)" text-anchor="middle" class="t">200</text>
<text transform="translate(1327.05,1197.5) scale(1,1.04)" text-anchor="middle" class="t">210</text>
<text transform="translate(1474.5,1197.5) scale(1,1.04)" text-anchor="middle" class="t">220</text>
<path d="M1356.6 963.6H1428.8" stroke="#5470B8" stroke-width="2.5"/>
<rect x="1387.4" y="957.9" width="11.4" height="11.4" fill="#5470B8"/>
<text transform="translate(1436,974.1)" class="gl">Γ<tspan class="gsub" dy="10">1</tspan></text>
<path d="M1356.6 1014H1428.8" stroke="#EE2024" stroke-width="2.5"/>
<rect x="1387.4" y="1008.3" width="11.4" height="11.4" fill="#EE2024"/>
<text transform="translate(1436,1024.5)" class="gl">Γ<tspan class="gsub" dy="10">2</tspan></text>
<path d="M1356.6 1064.8H1428.8" stroke="#108A3E" stroke-width="2.5"/>
<circle cx="1393.3" cy="1064.8" r="5.8" fill="#108A3E"/>
<text transform="translate(1436,1075.3)" class="gl">γ<tspan class="gsub" dy="10">1</tspan></text>
<path d="M1356.6 1115.2H1428.8" stroke="#B850A8" stroke-width="2.5"/>
<circle cx="1393.3" cy="1115.2" r="5.8" fill="#B850A8"/>
<text transform="translate(1436,1125.7)" class="gl">γ<tspan class="gsub" dy="10">2</tspan></text>
<text transform="translate(1093,1244.5) scale(1,1.04)" class="ax2"><tspan font-style="italic">d</tspan><tspan class="axsub" dy="14">2</tspan><tspan dy="-14"> (nm)</tspan></text>
<g transform="translate(795.3,1130.5) rotate(-90) scale(1.12,1)"><text x="0" y="0" class="gax">Γ</text></g>
<g transform="translate(795.3,0) rotate(-90)"><text x="-1099" y="-6.3" class="gax">,</text><text x="-1062" y="0" class="gax">γ</text></g>
<g transform="translate(794.9,0) rotate(-90) scale(1,1.04)"><text x="-987.4" y="0" text-anchor="middle" class="ax3">(</text><text x="-941.75" y="0" text-anchor="middle" class="ax3">THz</text><text x="-895.8" y="0" text-anchor="middle" class="ax3">)</text></g>
</svg>
</body></html>
